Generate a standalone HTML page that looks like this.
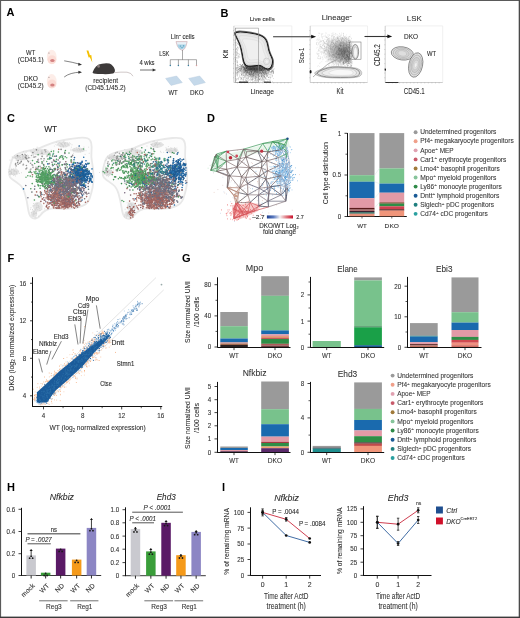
<!DOCTYPE html>
<html><head><meta charset="utf-8"><style>
html,body{margin:0;padding:0;background:#fff;}
svg{display:block;font-family:"Liberation Sans", sans-serif;filter:blur(0.3px);}
</style></head><body>
<svg width="520" height="618" viewBox="0 0 520 618">
<rect x="0.00" y="0.00" width="520.00" height="618.00" fill="#fff"/>
<text x="6.50" y="16.30" font-size="11" fill="#000" font-weight="bold">A</text>
<text x="220.60" y="16.80" font-size="11" fill="#000" font-weight="bold">B</text>
<text x="7.00" y="121.60" font-size="11" fill="#000" font-weight="bold">C</text>
<text x="207.00" y="121.80" font-size="11" fill="#000" font-weight="bold">D</text>
<text x="320.10" y="122.40" font-size="11" fill="#000" font-weight="bold">E</text>
<text x="7.40" y="262.40" font-size="11" fill="#000" font-weight="bold">F</text>
<text x="181.90" y="261.70" font-size="11" fill="#000" font-weight="bold">G</text>
<text x="7.00" y="490.60" font-size="11" fill="#000" font-weight="bold">H</text>
<text x="222.10" y="490.80" font-size="11" fill="#000" font-weight="bold">I</text>
<text x="30.70" y="55.00" font-size="7.0" fill="#2e2e2e" stroke="#2e2e2e" stroke-width="0.1" text-anchor="middle" textLength="9.20" lengthAdjust="spacingAndGlyphs">WT</text>
<text x="30.70" y="62.30" font-size="7.0" fill="#2e2e2e" stroke="#2e2e2e" stroke-width="0.1" text-anchor="middle" textLength="25.80" lengthAdjust="spacingAndGlyphs">(CD45.1)</text>
<text x="30.85" y="81.00" font-size="7.0" fill="#2e2e2e" stroke="#2e2e2e" stroke-width="0.1" text-anchor="middle" textLength="14.30" lengthAdjust="spacingAndGlyphs">DKO</text>
<text x="30.70" y="88.20" font-size="7.0" fill="#2e2e2e" stroke="#2e2e2e" stroke-width="0.1" text-anchor="middle" textLength="25.80" lengthAdjust="spacingAndGlyphs">(CD45.2)</text>
<ellipse cx="51.7" cy="57.0" rx="4.9" ry="7.3" fill="#fdede8"/>
<ellipse cx="52" cy="59.6" rx="4.4" ry="4.4" fill="#fbdcd5"/>
<ellipse cx="52.4" cy="60.6" rx="2.2" ry="1.5" fill="#d48282"/>
<ellipse cx="48.9" cy="53.0" rx="0.8" ry="0.5" fill="#a99"/>
<ellipse cx="51.7" cy="81.3" rx="4.9" ry="7.3" fill="#fdede8"/>
<ellipse cx="52" cy="83.9" rx="4.4" ry="4.4" fill="#fbdcd5"/>
<ellipse cx="52.4" cy="84.9" rx="2.2" ry="1.5" fill="#d48282"/>
<ellipse cx="48.9" cy="77.3" rx="0.8" ry="0.5" fill="#a99"/>
<path d="M64.2,60.8 Q72,62 80.5,64.4" fill="none" stroke="#333" stroke-width="0.6"/>
<path d="M78.4,62.8 L82,64.7 L78.2,65.8 Z" fill="#333" stroke="none" stroke-width="1"/>
<path d="M64.2,77 Q70,72.5 80.5,72.2" fill="none" stroke="#333" stroke-width="0.6"/>
<path d="M78.4,70.7 L82,72.2 L78.4,73.7 Z" fill="#333" stroke="none" stroke-width="1"/>
<path d="M86.5,50.5 L88.4,50.5 L89.9,55.3 L91.3,55.0 L92.3,62.4 L89.8,57.2 L88.6,57.5 Z" fill="#f5c000" stroke="none" stroke-width="1"/>
<path d="M92.5,72.6 Q93.5,69 96,66.4 Q98.5,64 102,63.8 Q106,62.8 109.5,63.6 Q113.5,65.5 114.8,69.5 Q115.4,72.6 113,73.6 Q108,74.3 103,74.1 Q98,74.2 95.5,73.8 Q93.2,73.8 92.5,72.6 Z" fill="#3d3a3a" stroke="none" stroke-width="1"/>
<ellipse cx="98.6" cy="66.2" rx="1.3" ry="1.5" fill="#8a7e7e"/>
<path d="M114.8,72.6 Q121,71.9 127,72.2 Q131.5,72.8 133,76.2" fill="none" stroke="#a89a9a" stroke-width="0.55"/>
<text x="105.70" y="82.80" font-size="7.2" fill="#2e2e2e" stroke="#2e2e2e" stroke-width="0.1" text-anchor="middle" textLength="25.00" lengthAdjust="spacingAndGlyphs">recipient</text>
<text x="105.50" y="90.10" font-size="7.0" fill="#2e2e2e" stroke="#2e2e2e" stroke-width="0.1" text-anchor="middle" textLength="40.30" lengthAdjust="spacingAndGlyphs">(CD45.1/45.2)</text>
<text x="147.00" y="65.30" font-size="6.8" fill="#2e2e2e" stroke="#2e2e2e" stroke-width="0.1" text-anchor="middle" textLength="15.10" lengthAdjust="spacingAndGlyphs">4 wks</text>
<line x1="140.00" y1="70.00" x2="153.50" y2="70.00" stroke="#333" stroke-width="0.7"/>
<path d="M152.6,68.6 L156.2,70 L152.6,71.4 Z" fill="#333" stroke="none" stroke-width="1"/>
<text x="170.80" y="38.50" font-size="6.7" fill="#2e2e2e" stroke="#2e2e2e" stroke-width="0.1" textLength="23.80" lengthAdjust="spacingAndGlyphs">Lin<tspan font-size="3.6" dy="-2.2">–</tspan><tspan dy="2.2"> cells</tspan></text>
<path d="M176,41.6 L187.2,41.6 L186,46 Q184.5,49.6 183,50 L181.6,50 Q179,49.6 177.4,46 Z" fill="#e9f1f7" stroke="#c9a0a6" stroke-width="0.6"/>
<path d="M177.4,44.6 L186,44.6 L185,47.2 Q183.5,49.2 181.6,49.2 Q179.2,49 178.2,47.2 Z" fill="#a9d3e6" stroke="none" stroke-width="1"/>
<circle cx="180.40" cy="46.00" r="0.60" fill="#4a8fb0"/>
<circle cx="183.60" cy="45.80" r="0.60" fill="#4a8fb0"/>
<circle cx="182.00" cy="47.60" r="0.55" fill="#4a8fb0"/>
<text x="159.20" y="56.00" font-size="6.7" fill="#2e2e2e" stroke="#2e2e2e" stroke-width="0.1" textLength="10.00" lengthAdjust="spacingAndGlyphs">LSK</text>
<line x1="182.50" y1="50.00" x2="182.50" y2="59.70" stroke="#555" stroke-width="0.5"/>
<line x1="170.30" y1="59.70" x2="196.50" y2="59.70" stroke="#555" stroke-width="0.5"/>
<line x1="170.30" y1="59.70" x2="170.30" y2="65.00" stroke="#555" stroke-width="0.5"/>
<circle cx="170.30" cy="65.40" r="0.75" fill="#3a7fa0"/>
<line x1="178.40" y1="59.70" x2="178.40" y2="65.00" stroke="#555" stroke-width="0.5"/>
<circle cx="178.40" cy="65.40" r="0.75" fill="#3a7fa0"/>
<line x1="188.40" y1="59.70" x2="188.40" y2="65.00" stroke="#555" stroke-width="0.5"/>
<circle cx="188.40" cy="65.40" r="0.75" fill="#3a7fa0"/>
<line x1="196.50" y1="59.70" x2="196.50" y2="65.00" stroke="#555" stroke-width="0.5"/>
<circle cx="196.50" cy="65.40" r="0.75" fill="#d9a0a0"/>
<path d="M165.6,78.4 L176.6,76 L182.3,82.6 L171.0,85.4 Z" fill="#c5d9ea" stroke="#b2c8dc" stroke-width="0.4"/>
<path d="M188.7,78.4 L199.7,76 L205.4,82.6 L194.1,85.4 Z" fill="#c5d9ea" stroke="#b2c8dc" stroke-width="0.4"/>
<text x="173.10" y="95.00" font-size="6.9" fill="#2e2e2e" stroke="#2e2e2e" stroke-width="0.1" text-anchor="middle" textLength="9.20" lengthAdjust="spacingAndGlyphs">WT</text>
<text x="196.90" y="95.00" font-size="6.9" fill="#2e2e2e" stroke="#2e2e2e" stroke-width="0.1" text-anchor="middle" textLength="13.80" lengthAdjust="spacingAndGlyphs">DKO</text>
<text x="249.70" y="21.00" font-size="6.0" fill="#2e2e2e" stroke="#2e2e2e" stroke-width="0.1" textLength="25.10" lengthAdjust="spacingAndGlyphs">Live cells</text>
<text x="321.80" y="20.00" font-size="7.8" fill="#2a2a2a" stroke="#2a2a2a" stroke-width="0.07" textLength="29.80" lengthAdjust="spacingAndGlyphs">Lineage<tspan font-size="3.8" dy="-3">–</tspan></text>
<text x="406.80" y="20.90" font-size="7.8" fill="#2a2a2a" stroke="#2a2a2a" stroke-width="0.07" textLength="14.90" lengthAdjust="spacingAndGlyphs">LSK</text>
<line x1="233.90" y1="25.90" x2="291.80" y2="25.90" stroke="#e2e2e2" stroke-width="0.5"/>
<line x1="291.80" y1="25.90" x2="291.80" y2="82.50" stroke="#e2e2e2" stroke-width="0.5"/>
<line x1="233.90" y1="25.90" x2="233.90" y2="82.50" stroke="#9a9a9a" stroke-width="0.5"/>
<line x1="233.90" y1="82.50" x2="291.80" y2="82.50" stroke="#9a9a9a" stroke-width="0.5"/>
<line x1="233.00" y1="77.78" x2="233.90" y2="77.78" stroke="#888" stroke-width="0.35"/>
<line x1="233.00" y1="73.07" x2="233.90" y2="73.07" stroke="#888" stroke-width="0.35"/>
<line x1="233.00" y1="68.35" x2="233.90" y2="68.35" stroke="#888" stroke-width="0.35"/>
<line x1="233.00" y1="63.63" x2="233.90" y2="63.63" stroke="#888" stroke-width="0.35"/>
<line x1="233.00" y1="58.92" x2="233.90" y2="58.92" stroke="#888" stroke-width="0.35"/>
<line x1="233.00" y1="54.20" x2="233.90" y2="54.20" stroke="#888" stroke-width="0.35"/>
<line x1="233.00" y1="49.48" x2="233.90" y2="49.48" stroke="#888" stroke-width="0.35"/>
<line x1="233.00" y1="44.77" x2="233.90" y2="44.77" stroke="#888" stroke-width="0.35"/>
<line x1="233.00" y1="40.05" x2="233.90" y2="40.05" stroke="#888" stroke-width="0.35"/>
<line x1="233.00" y1="35.33" x2="233.90" y2="35.33" stroke="#888" stroke-width="0.35"/>
<line x1="233.00" y1="30.62" x2="233.90" y2="30.62" stroke="#888" stroke-width="0.35"/>
<line x1="237.52" y1="82.50" x2="237.52" y2="83.40" stroke="#888" stroke-width="0.35"/>
<line x1="241.14" y1="82.50" x2="241.14" y2="83.40" stroke="#888" stroke-width="0.35"/>
<line x1="244.76" y1="82.50" x2="244.76" y2="83.40" stroke="#888" stroke-width="0.35"/>
<line x1="248.38" y1="82.50" x2="248.38" y2="83.40" stroke="#888" stroke-width="0.35"/>
<line x1="251.99" y1="82.50" x2="251.99" y2="83.40" stroke="#888" stroke-width="0.35"/>
<line x1="255.61" y1="82.50" x2="255.61" y2="83.40" stroke="#888" stroke-width="0.35"/>
<line x1="259.23" y1="82.50" x2="259.23" y2="83.40" stroke="#888" stroke-width="0.35"/>
<line x1="262.85" y1="82.50" x2="262.85" y2="83.40" stroke="#888" stroke-width="0.35"/>
<line x1="266.47" y1="82.50" x2="266.47" y2="83.40" stroke="#888" stroke-width="0.35"/>
<line x1="270.09" y1="82.50" x2="270.09" y2="83.40" stroke="#888" stroke-width="0.35"/>
<line x1="273.71" y1="82.50" x2="273.71" y2="83.40" stroke="#888" stroke-width="0.35"/>
<line x1="277.32" y1="82.50" x2="277.32" y2="83.40" stroke="#888" stroke-width="0.35"/>
<line x1="280.94" y1="82.50" x2="280.94" y2="83.40" stroke="#888" stroke-width="0.35"/>
<line x1="284.56" y1="82.50" x2="284.56" y2="83.40" stroke="#888" stroke-width="0.35"/>
<line x1="288.18" y1="82.50" x2="288.18" y2="83.40" stroke="#888" stroke-width="0.35"/>
<path d="M255.0,71.1h0.5M257.7,78.8h0.5M252.5,72.7h0.5M247.0,70.8h0.5M250.9,69.3h0.5M246.1,68.1h0.5M255.5,69.3h0.5M267.1,68.1h0.5M250.6,72.6h0.5M249.4,68.6h0.5M259.4,68.5h0.5M258.2,65.8h0.5M255.9,69.8h0.5M246.6,66.9h0.5M254.7,69.4h0.5M261.3,73.6h0.5M242.9,71.3h0.5M250.9,71.8h0.5M237.9,71.2h0.5M243.4,70.2h0.5M238.4,69.6h0.5M252.9,68.9h0.5M243.6,72.7h0.5M257.4,66.2h0.5M256.4,74.7h0.5M253.3,70.1h0.5M250.2,68.3h0.5M254.6,67.6h0.5M256.0,70.6h0.5M241.2,67.5h0.5M250.7,74.0h0.5M246.2,67.3h0.5M264.5,67.4h0.5M254.7,69.9h0.5M263.0,73.7h0.5M249.7,72.3h0.5M254.0,65.3h0.5M256.0,67.3h0.5M255.6,76.2h0.5M244.0,71.1h0.5M255.7,70.0h0.5M267.2,73.7h0.5M241.1,78.6h0.5M262.7,74.5h0.5M256.1,70.5h0.5M249.2,71.2h0.5M273.0,72.2h0.5M261.9,67.9h0.5M244.2,66.3h0.5M255.7,70.2h0.5M260.2,66.7h0.5M253.3,69.8h0.5M261.1,70.3h0.5M254.4,78.2h0.5M261.0,67.0h0.5M267.9,69.6h0.5M248.9,69.4h0.5M256.8,71.5h0.5M250.8,73.7h0.5M256.1,68.3h0.5M244.3,67.1h0.5M249.8,64.3h0.5M253.2,66.8h0.5M263.1,71.9h0.5M265.3,70.2h0.5M243.1,66.4h0.5M247.8,68.7h0.5M260.8,70.1h0.5M237.1,71.8h0.5M250.8,67.9h0.5M254.1,69.1h0.5M261.2,66.0h0.5M252.1,75.7h0.5M252.7,68.8h0.5M268.7,70.8h0.5M251.1,68.7h0.5M252.3,67.2h0.5M258.2,69.8h0.5M253.9,70.0h0.5M253.2,69.7h0.5M254.9,69.5h0.5M251.0,67.0h0.5M265.5,68.1h0.5M260.9,70.8h0.5M254.8,72.2h0.5M261.0,73.1h0.5M251.9,68.3h0.5M264.5,73.2h0.5M255.0,74.1h0.5M260.3,74.0h0.5M243.4,74.9h0.5M258.1,69.5h0.5M239.8,69.4h0.5M236.7,72.9h0.5M252.3,65.2h0.5M246.9,70.7h0.5M256.5,68.1h0.5M249.4,66.9h0.5M256.8,69.9h0.5M259.4,73.1h0.5M253.4,73.5h0.5M253.1,69.7h0.5M261.3,69.3h0.5M259.7,67.1h0.5M245.7,71.4h0.5M254.3,69.1h0.5M255.3,72.1h0.5M245.5,76.1h0.5M257.3,69.9h0.5M247.3,64.8h0.5M263.7,67.0h0.5M256.7,64.9h0.5M255.8,65.8h0.5M249.7,74.6h0.5M253.9,70.8h0.5M237.0,64.7h0.5M244.8,72.3h0.5M258.3,74.4h0.5M262.6,67.6h0.5M239.3,68.8h0.5M261.8,71.0h0.5M247.4,72.2h0.5M262.0,74.1h0.5M256.2,74.2h0.5M241.2,74.1h0.5M266.2,74.8h0.5M268.0,72.3h0.5M254.4,64.6h0.5M252.5,69.5h0.5M253.6,71.1h0.5M246.2,68.7h0.5M264.9,73.2h0.5M250.1,68.7h0.5M254.5,66.8h0.5M247.9,75.1h0.5M249.4,72.3h0.5M243.5,70.8h0.5M266.3,73.2h0.5M253.6,73.7h0.5M263.7,71.2h0.5M248.8,67.6h0.5M252.1,68.4h0.5M250.0,66.6h0.5M255.1,70.7h0.5M251.6,74.2h0.5M252.3,68.3h0.5M242.6,66.0h0.5M247.7,77.1h0.5M269.9,68.4h0.5M249.0,65.7h0.5M245.5,70.8h0.5M258.0,71.5h0.5M267.7,67.5h0.5M241.9,72.8h0.5M253.1,68.3h0.5M249.3,66.8h0.5M239.2,70.6h0.5M261.6,72.7h0.5M254.8,67.8h0.5M255.6,71.2h0.5M248.2,69.7h0.5M259.1,79.9h0.5M250.1,67.5h0.5M253.7,74.8h0.5M245.0,69.8h0.5M244.1,69.6h0.5M267.0,72.5h0.5M250.4,73.1h0.5M257.6,74.4h0.5M254.7,71.2h0.5M251.0,67.9h0.5M250.4,68.1h0.5M260.7,71.8h0.5M252.3,72.0h0.5M253.6,74.9h0.5M255.2,71.5h0.5M265.6,73.7h0.5M261.1,75.3h0.5M258.4,70.6h0.5M249.9,64.8h0.5M242.6,65.9h0.5M263.5,65.0h0.5M263.7,75.6h0.5M253.7,67.0h0.5M259.9,74.3h0.5M262.0,72.1h0.5M262.5,76.0h0.5M263.3,73.5h0.5M250.9,69.6h0.5M268.6,69.3h0.5M243.8,70.3h0.5M262.8,70.6h0.5M259.4,68.1h0.5M262.9,69.9h0.5M271.9,75.6h0.5M268.4,64.0h0.5M244.7,70.9h0.5M239.8,66.8h0.5M262.4,70.7h0.5M245.9,72.9h0.5M254.9,69.8h0.5M262.6,72.7h0.5M240.2,64.4h0.5M236.0,73.9h0.5M257.3,67.9h0.5M255.4,72.2h0.5M252.8,70.6h0.5M247.3,67.4h0.5M241.4,70.8h0.5M253.5,75.4h0.5M246.3,71.0h0.5M240.2,70.9h0.5M259.6,65.1h0.5M254.4,75.0h0.5M258.7,76.3h0.5M246.1,70.1h0.5M249.1,69.2h0.5M246.0,64.3h0.5M247.0,73.1h0.5M256.8,79.5h0.5M248.0,72.5h0.5M258.2,74.4h0.5M258.1,71.9h0.5M273.2,66.6h0.5M242.5,74.7h0.5M263.0,65.7h0.5M254.2,69.3h0.5M254.9,71.0h0.5M242.0,73.1h0.5M250.9,71.5h0.5M261.7,71.4h0.5M254.3,67.3h0.5M255.7,65.5h0.5M252.4,70.2h0.5M265.4,67.5h0.5M254.8,65.4h0.5M248.8,68.3h0.5M250.2,64.3h0.5M267.0,70.6h0.5M255.4,71.4h0.5M244.4,77.0h0.5M246.5,64.8h0.5M265.2,67.6h0.5M256.4,73.2h0.5M255.4,69.2h0.5M254.5,68.9h0.5M255.3,76.0h0.5M262.2,68.8h0.5M260.0,66.0h0.5M256.9,65.4h0.5M245.6,71.2h0.5M259.6,71.1h0.5M248.8,65.2h0.5M264.8,66.6h0.5M243.6,71.9h0.5M253.8,72.0h0.5M254.9,67.7h0.5M243.1,72.2h0.5M270.5,72.0h0.5M250.8,68.9h0.5M261.9,71.5h0.5M258.4,68.0h0.5M257.3,69.0h0.5M254.4,72.6h0.5M255.7,75.5h0.5M252.6,79.1h0.5M253.4,66.1h0.5M265.7,73.3h0.5M258.0,74.3h0.5M255.0,73.4h0.5M268.8,70.5h0.5M250.0,65.9h0.5M251.5,72.2h0.5M238.6,67.5h0.5M263.7,79.9h0.5M263.3,72.5h0.5M261.0,76.4h0.5M256.0,66.8h0.5M256.9,75.1h0.5M252.7,75.6h0.5M253.2,75.4h0.5M255.5,69.9h0.5M268.6,65.8h0.5M260.0,69.4h0.5M249.8,64.0h0.5M249.3,70.3h0.5M269.4,66.5h0.5M259.6,69.4h0.5M255.6,69.6h0.5M251.9,76.8h0.5M245.0,74.5h0.5M254.4,69.8h0.5M262.9,74.2h0.5M251.5,67.3h0.5M253.0,68.8h0.5M253.0,73.2h0.5M256.0,65.7h0.5M240.7,69.0h0.5M252.9,65.4h0.5M247.3,70.4h0.5M263.0,75.7h0.5M248.1,67.4h0.5M260.2,70.8h0.5M268.7,66.9h0.5M252.2,66.0h0.5M249.6,65.7h0.5M256.7,75.1h0.5M255.0,78.3h0.5M246.1,71.7h0.5M259.1,67.5h0.5M273.1,72.5h0.5M252.7,68.8h0.5M253.2,72.8h0.5M245.6,71.0h0.5M257.9,71.0h0.5M243.8,72.1h0.5M245.0,68.0h0.5M266.5,68.6h0.5M264.7,68.5h0.5M268.7,65.0h0.5M257.3,69.5h0.5M260.0,66.6h0.5M272.6,70.4h0.5M253.2,71.6h0.5M249.7,65.0h0.5M242.8,67.2h0.5M255.4,66.7h0.5M268.3,72.6h0.5M263.6,76.0h0.5M246.5,73.0h0.5M247.3,68.8h0.5M250.5,75.1h0.5M257.6,64.7h0.5M253.2,75.2h0.5M256.9,67.7h0.5M252.3,79.3h0.5M254.6,75.5h0.5M256.9,66.4h0.5M254.2,70.6h0.5M259.5,69.2h0.5M271.8,70.4h0.5M260.3,64.8h0.5M255.5,67.6h0.5M239.8,71.6h0.5M258.5,70.8h0.5M237.5,74.2h0.5M242.3,70.3h0.5M262.7,78.2h0.5M261.4,67.5h0.5M253.7,70.9h0.5M251.7,65.6h0.5M248.9,74.6h0.5M260.7,66.7h0.5M257.0,69.8h0.5M248.0,66.3h0.5M244.5,68.8h0.5M254.5,68.2h0.5M253.4,68.3h0.5M244.6,72.6h0.5M256.0,72.3h0.5M244.6,68.0h0.5M265.0,66.8h0.5M264.6,71.0h0.5M264.8,69.6h0.5M250.7,73.6h0.5M259.6,79.3h0.5M253.8,73.0h0.5M251.5,69.9h0.5M251.9,69.4h0.5M243.3,67.0h0.5M242.0,66.8h0.5M262.1,66.5h0.5M253.3,68.6h0.5M256.9,68.5h0.5M264.0,72.6h0.5M239.4,68.6h0.5M247.9,69.3h0.5M256.6,65.7h0.5M258.5,75.8h0.5M251.6,71.8h0.5M264.3,76.3h0.5M256.9,72.8h0.5M244.1,75.2h0.5M246.6,69.1h0.5M262.2,72.5h0.5M259.2,79.5h0.5M237.9,65.7h0.5M267.1,74.1h0.5M260.4,75.9h0.5M267.1,71.5h0.5M251.5,72.7h0.5M252.3,74.5h0.5M244.9,67.7h0.5M253.4,66.9h0.5M269.3,67.6h0.5M249.2,67.8h0.5M256.5,69.5h0.5M240.0,70.5h0.5M251.6,71.6h0.5M263.9,64.9h0.5M243.7,77.1h0.5M264.7,74.1h0.5M258.0,72.6h0.5M245.6,68.7h0.5M250.5,69.7h0.5M250.9,72.0h0.5M254.6,71.5h0.5M247.6,72.7h0.5M252.3,80.5h0.5M243.4,73.6h0.5M254.6,71.3h0.5M262.9,69.6h0.5M241.2,74.9h0.5M255.0,65.8h0.5M249.2,70.6h0.5M246.2,75.3h0.5M262.7,69.3h0.5M250.3,68.5h0.5M268.5,70.4h0.5M248.0,68.4h0.5M258.5,75.6h0.5M253.0,66.7h0.5M248.2,73.1h0.5M260.3,65.5h0.5M253.6,72.4h0.5M260.4,69.6h0.5M245.2,70.0h0.5M254.1,66.2h0.5M255.5,68.4h0.5M263.6,75.5h0.5M246.8,66.0h0.5M254.6,66.2h0.5M239.5,75.2h0.5M260.9,70.4h0.5M245.3,75.5h0.5M238.7,71.2h0.5M254.5,66.8h0.5M265.0,69.8h0.5M241.3,74.4h0.5M245.2,73.4h0.5M248.3,70.0h0.5M244.8,70.2h0.5M258.4,69.6h0.5M247.7,67.9h0.5M248.5,77.0h0.5M260.2,70.0h0.5M248.2,65.9h0.5M258.9,68.3h0.5M246.3,72.6h0.5M244.1,72.3h0.5M238.5,69.5h0.5M271.8,67.6h0.5M252.1,70.1h0.5M254.7,65.3h0.5M256.4,72.9h0.5M255.4,68.3h0.5M272.2,71.3h0.5M245.6,74.4h0.5M241.0,72.3h0.5M245.9,70.1h0.5M243.0,77.7h0.5M261.7,72.4h0.5M262.4,68.7h0.5M246.3,72.6h0.5M242.5,71.5h0.5M251.8,66.9h0.5M267.5,70.3h0.5M245.3,69.4h0.5M264.4,69.0h0.5M245.3,68.4h0.5M252.4,64.1h0.5M241.4,68.7h0.5M246.2,69.9h0.5M267.5,70.4h0.5M262.4,65.9h0.5M251.4,72.3h0.5M247.2,65.6h0.5M238.0,69.2h0.5M251.5,74.7h0.5M254.7,67.5h0.5M254.2,68.2h0.5M254.2,73.9h0.5M244.9,68.6h0.5M254.4,68.9h0.5M254.7,70.8h0.5M266.6,73.8h0.5M253.8,67.0h0.5M248.1,66.4h0.5M254.4,66.1h0.5M249.5,66.9h0.5M248.3,67.0h0.5M254.5,71.1h0.5M245.6,66.8h0.5M260.5,70.4h0.5M254.1,71.4h0.5M257.3,67.4h0.5M253.4,70.5h0.5M248.5,75.9h0.5M246.5,71.2h0.5M252.9,67.7h0.5M250.1,69.8h0.5M257.1,66.7h0.5M255.0,71.0h0.5M242.7,73.1h0.5M255.6,67.1h0.5M242.9,69.3h0.5M249.5,74.0h0.5M252.4,68.2h0.5M236.3,70.7h0.5M255.8,66.3h0.5M256.4,67.1h0.5M253.6,68.2h0.5M251.2,77.6h0.5M251.6,68.6h0.5M246.2,68.1h0.5M252.6,68.0h0.5M250.0,69.4h0.5M255.8,72.3h0.5M244.2,70.7h0.5M257.1,77.2h0.5M256.3,70.7h0.5M253.7,75.1h0.5M251.0,71.0h0.5M260.0,72.1h0.5M240.0,64.9h0.5M259.1,69.6h0.5M257.2,69.8h0.5M257.6,69.1h0.5M249.1,73.1h0.5M252.7,68.6h0.5M260.7,68.5h0.5M258.9,69.1h0.5M256.9,69.2h0.5M241.4,71.4h0.5M259.8,65.6h0.5M265.5,66.7h0.5M264.1,71.0h0.5M257.1,70.5h0.5M241.0,68.7h0.5M263.5,68.0h0.5M253.7,67.1h0.5M258.4,74.1h0.5M241.6,66.3h0.5M243.3,75.3h0.5M249.3,73.0h0.5M266.5,68.4h0.5M251.7,72.7h0.5M257.4,64.9h0.5M269.3,65.5h0.5M254.1,68.6h0.5M252.8,68.9h0.5M243.7,68.2h0.5M248.7,70.3h0.5M258.6,71.7h0.5M256.0,65.0h0.5M264.0,67.7h0.5M248.0,68.6h0.5M254.5,66.0h0.5M261.6,65.2h0.5M260.3,66.5h0.5M264.6,70.0h0.5M258.6,72.1h0.5M252.2,72.0h0.5M258.3,66.5h0.5M246.0,67.2h0.5M240.2,66.8h0.5M260.2,71.6h0.5M257.8,74.3h0.5M239.7,68.3h0.5M251.7,67.3h0.5M249.6,71.2h0.5M247.2,73.6h0.5M252.0,73.7h0.5M263.1,70.5h0.5M258.4,74.3h0.5M249.6,74.4h0.5M254.9,69.7h0.5M261.8,75.0h0.5M253.9,70.3h0.5M259.9,66.8h0.5M261.1,69.0h0.5M270.3,72.7h0.5M265.2,65.4h0.5M257.8,72.3h0.5M257.7,71.2h0.5M262.1,71.0h0.5M254.6,69.6h0.5M263.2,72.3h0.5M272.6,67.3h0.5M253.6,70.3h0.5M256.8,72.3h0.5M267.1,67.7h0.5M254.7,73.0h0.5M246.3,72.4h0.5M253.3,69.2h0.5M253.2,72.8h0.5M262.1,66.8h0.5M264.4,67.8h0.5M241.4,77.8h0.5M246.8,67.1h0.5M258.0,67.5h0.5M249.1,69.0h0.5M241.3,66.4h0.5M264.3,74.2h0.5M259.4,76.0h0.5M259.4,67.5h0.5M264.3,74.1h0.5M252.8,73.9h0.5M264.9,72.9h0.5M246.8,74.0h0.5M247.3,67.0h0.5M256.8,69.4h0.5M248.7,65.2h0.5M261.1,65.0h0.5M257.3,73.4h0.5M246.7,67.6h0.5M255.7,78.0h0.5M251.8,70.3h0.5M263.2,67.8h0.5M249.3,72.8h0.5M251.0,76.3h0.5M265.9,71.7h0.5M273.0,71.3h0.5M255.6,74.8h0.5M257.0,68.3h0.5M268.8,67.3h0.5M253.9,73.6h0.5M246.2,70.5h0.5M256.1,66.1h0.5M259.1,68.7h0.5M247.5,67.4h0.5M240.2,71.0h0.5M242.1,70.4h0.5M261.0,74.0h0.5M248.2,72.5h0.5M253.7,64.5h0.5M256.9,71.4h0.5M260.6,73.1h0.5M252.0,71.6h0.5M259.5,73.6h0.5M247.0,68.1h0.5M251.7,66.7h0.5M245.8,73.3h0.5M265.2,66.3h0.5M248.3,73.6h0.5M251.8,67.5h0.5M253.0,68.9h0.5M261.3,65.1h0.5M240.6,65.4h0.5M245.7,66.0h0.5M251.6,68.7h0.5M254.0,72.6h0.5M261.4,65.9h0.5M273.5,66.3h0.5M252.9,72.4h0.5M251.7,69.7h0.5M265.9,64.6h0.5M259.4,76.5h0.5M261.0,67.0h0.5M250.4,70.9h0.5M272.3,70.7h0.5M270.4,74.9h0.5M260.1,68.4h0.5M261.2,73.5h0.5M236.8,67.4h0.5M260.7,73.9h0.5M253.3,67.3h0.5M258.9,68.7h0.5M261.1,76.6h0.5M251.9,71.1h0.5M239.8,70.4h0.5M258.3,77.8h0.5M248.3,71.3h0.5M252.0,67.1h0.5M249.6,72.6h0.5M251.9,65.9h0.5M266.0,74.2h0.5M257.3,68.0h0.5M265.0,67.8h0.5M272.8,70.6h0.5M255.2,70.0h0.5M238.8,66.6h0.5M247.0,72.0h0.5M250.5,68.5h0.5M255.7,68.6h0.5M237.0,69.0h0.5M258.1,71.1h0.5M241.4,65.7h0.5M257.7,72.1h0.5M254.0,69.4h0.5M252.2,67.7h0.5M254.3,65.2h0.5M250.1,65.9h0.5M249.5,71.3h0.5M239.9,66.6h0.5M254.7,70.2h0.5M271.6,73.7h0.5M272.8,73.6h0.5M266.9,75.5h0.5M261.4,69.0h0.5M248.9,66.2h0.5M268.0,73.6h0.5M254.5,71.1h0.5M254.4,73.9h0.5M252.4,70.0h0.5M255.8,74.2h0.5M251.1,73.0h0.5M254.2,72.5h0.5M245.2,71.8h0.5M251.6,71.4h0.5M254.4,70.8h0.5M252.9,73.5h0.5M259.8,68.2h0.5M261.4,76.1h0.5M245.0,69.6h0.5M253.1,73.4h0.5M263.3,69.7h0.5M257.4,69.1h0.5M256.1,77.1h0.5M269.0,68.9h0.5M248.9,65.5h0.5M255.7,67.5h0.5M250.3,68.9h0.5M268.4,77.5h0.5M237.4,70.7h0.5M249.0,73.3h0.5M250.2,66.5h0.5M261.0,71.2h0.5M260.5,72.4h0.5M267.6,76.3h0.5M240.8,67.6h0.5M261.8,72.1h0.5M252.4,71.1h0.5M249.0,66.4h0.5M259.9,69.9h0.5M246.7,69.1h0.5M251.7,72.1h0.5M241.5,71.9h0.5M249.2,68.5h0.5M258.3,65.3h0.5M257.8,75.2h0.5M269.3,70.9h0.5M253.2,73.6h0.5M241.2,74.9h0.5M248.2,68.2h0.5M246.7,72.8h0.5M244.0,69.2h0.5M258.9,69.8h0.5M249.2,69.7h0.5M237.2,70.0h0.5M261.3,73.9h0.5M254.0,70.4h0.5M258.2,69.5h0.5M256.0,69.0h0.5M260.7,71.2h0.5M255.3,66.9h0.5M266.1,68.2h0.5M258.8,69.8h0.5M258.5,68.0h0.5M258.7,69.6h0.5M241.9,67.9h0.5M253.5,77.0h0.5M252.7,74.7h0.5M256.9,71.6h0.5M242.8,69.8h0.5M269.7,77.7h0.5M255.9,71.1h0.5M244.1,69.7h0.5M239.6,71.1h0.5M252.5,71.1h0.5M254.2,74.9h0.5M248.5,69.9h0.5M255.8,77.3h0.5M249.2,66.9h0.5M260.0,72.4h0.5M248.5,66.5h0.5M254.7,76.4h0.5M263.8,68.8h0.5M245.9,73.2h0.5M250.8,74.4h0.5M247.4,66.1h0.5M262.1,68.8h0.5M244.7,65.1h0.5M250.6,70.5h0.5M254.7,69.6h0.5M246.2,68.8h0.5M246.4,67.6h0.5M250.7,68.6h0.5M236.1,67.4h0.5M242.0,71.9h0.5M251.3,75.3h0.5M253.3,69.6h0.5M239.0,68.5h0.5M250.8,71.7h0.5M262.2,66.7h0.5M260.0,69.5h0.5M254.3,66.4h0.5M247.0,72.4h0.5M260.7,70.3h0.5M249.8,69.4h0.5M244.5,71.3h0.5M247.8,69.1h0.5M268.0,64.6h0.5M257.0,72.1h0.5M265.4,71.0h0.5M250.7,69.5h0.5M263.4,73.4h0.5M249.6,74.3h0.5M253.6,66.2h0.5M261.9,75.4h0.5M250.5,75.0h0.5M254.2,67.4h0.5M257.9,65.9h0.5M265.9,67.8h0.5M250.6,68.3h0.5M239.3,64.5h0.5M252.5,70.1h0.5M255.1,65.5h0.5M256.0,65.8h0.5M266.9,73.2h0.5M257.9,67.6h0.5M262.3,69.7h0.5M245.1,72.2h0.5M262.8,72.8h0.5M273.9,68.8h0.5M262.0,70.2h0.5M257.3,67.1h0.5M256.4,76.1h0.5M271.1,72.3h0.5M246.7,66.1h0.5M254.0,70.0h0.5M259.1,72.5h0.5M261.7,71.7h0.5M251.1,76.4h0.5M257.8,74.8h0.5M252.5,68.1h0.5M256.1,69.7h0.5M253.8,65.5h0.5M244.7,70.9h0.5M254.8,70.5h0.5M262.9,79.5h0.5M246.3,70.3h0.5M261.0,67.6h0.5M245.4,70.4h0.5M256.6,65.6h0.5M245.5,67.0h0.5M265.2,68.7h0.5M273.2,69.4h0.5M253.0,66.9h0.5M261.7,72.8h0.5M256.1,68.1h0.5M255.9,68.3h0.5M268.9,65.2h0.5M243.1,67.2h0.5M264.5,72.3h0.5M254.6,64.3h0.5M267.7,69.8h0.5M256.7,72.5h0.5M248.9,68.7h0.5M257.5,70.8h0.5M261.6,66.1h0.5M255.3,74.6h0.5M259.4,73.9h0.5M250.3,70.8h0.5M263.1,66.3h0.5M261.3,73.4h0.5M256.3,76.0h0.5M255.6,71.0h0.5M264.3,74.4h0.5M250.9,67.9h0.5M248.6,69.3h0.5M253.3,70.0h0.5M265.7,71.5h0.5M242.5,64.6h0.5M265.7,73.3h0.5M249.2,74.6h0.5M245.1,66.0h0.5M266.3,65.3h0.5M254.1,71.2h0.5M243.3,67.7h0.5M263.4,72.8h0.5M265.7,70.5h0.5M251.2,68.3h0.5M258.7,77.4h0.5M261.4,70.5h0.5M249.2,67.4h0.5M258.2,70.4h0.5M254.7,66.4h0.5M250.2,67.3h0.5M250.6,71.4h0.5M255.6,68.1h0.5M255.3,68.4h0.5M249.9,75.8h0.5M251.2,73.0h0.5M265.0,72.8h0.5M256.9,71.9h0.5M263.0,71.7h0.5M265.8,75.1h0.5M260.3,69.9h0.5M247.6,66.7h0.5M262.3,69.1h0.5M252.1,65.2h0.5M271.7,68.8h0.5M270.3,71.8h0.5M237.4,75.1h0.5M246.3,67.7h0.5M261.0,70.0h0.5M262.1,68.7h0.5M261.6,67.4h0.5M254.4,65.8h0.5M259.1,70.2h0.5M254.3,70.4h0.5M264.2,70.1h0.5M260.7,66.5h0.5M245.7,65.2h0.5M263.6,76.5h0.5M252.9,65.3h0.5M247.0,75.5h0.5M258.4,72.1h0.5M246.8,68.7h0.5M246.8,66.0h0.5M240.9,73.6h0.5M254.8,76.1h0.5M259.5,66.7h0.5M264.2,69.0h0.5M253.7,73.7h0.5M264.4,71.2h0.5M255.2,77.0h0.5M254.2,68.0h0.5M260.2,71.9h0.5M264.5,65.6h0.5M251.9,77.3h0.5M252.8,67.4h0.5M255.7,69.6h0.5M246.9,69.5h0.5M264.3,76.7h0.5M251.4,68.8h0.5M259.2,70.0h0.5M247.6,72.1h0.5M258.2,75.6h0.5M258.5,69.8h0.5M251.2,73.6h0.5M273.2,71.8h0.5M258.3,69.0h0.5M271.0,70.3h0.5M263.6,70.1h0.5M249.0,66.8h0.5M251.6,74.2h0.5M258.9,65.2h0.5M255.6,74.1h0.5M255.4,73.3h0.5M252.4,69.7h0.5M238.7,67.3h0.5M253.0,69.2h0.5M258.3,72.6h0.5M248.5,71.0h0.5M248.6,73.5h0.5M253.0,68.0h0.5M257.5,70.8h0.5M242.1,64.5h0.5M239.3,72.7h0.5M245.4,70.5h0.5M236.6,68.5h0.5M246.3,74.1h0.5M269.3,72.4h0.5M260.9,70.1h0.5M242.7,64.9h0.5M257.7,73.7h0.5M252.1,78.7h0.5M254.5,68.2h0.5M260.1,70.3h0.5M270.8,69.1h0.5M256.8,71.2h0.5M256.1,72.3h0.5M246.2,74.5h0.5M260.3,66.5h0.5M252.8,75.5h0.5M262.5,66.7h0.5M254.6,71.0h0.5M270.7,74.1h0.5M237.2,72.5h0.5M252.3,66.7h0.5M262.9,67.5h0.5M251.8,68.4h0.5M247.9,69.8h0.5M252.6,74.0h0.5M242.6,65.5h0.5M256.1,71.6h0.5M265.3,72.0h0.5M245.0,71.6h0.5M247.1,75.3h0.5M251.4,71.7h0.5M264.0,73.0h0.5M247.6,72.0h0.5M248.8,76.3h0.5M262.8,74.5h0.5M251.6,69.1h0.5M244.9,69.0h0.5M241.1,66.6h0.5M261.7,67.6h0.5M249.3,71.7h0.5M259.3,64.8h0.5M271.8,75.0h0.5M265.6,71.0h0.5M244.6,69.1h0.5M262.8,67.5h0.5M265.4,67.2h0.5M248.3,66.0h0.5M246.4,68.1h0.5M254.0,70.0h0.5M240.6,69.4h0.5M268.2,65.0h0.5M245.0,66.9h0.5M252.6,70.6h0.5M253.0,76.5h0.5M256.5,72.2h0.5M257.4,68.9h0.5M253.1,64.3h0.5M265.2,65.0h0.5M255.0,72.5h0.5M248.6,67.3h0.5M256.2,70.2h0.5M257.0,67.8h0.5M246.8,70.3h0.5M249.2,74.9h0.5M262.1,67.6h0.5M258.1,68.8h0.5M248.9,67.2h0.5M273.4,73.1h0.5M241.8,66.0h0.5" stroke="#444" stroke-width="0.50" opacity="0.85"/>
<path d="M244.9,70.1h0.5M244.7,68.1h0.5M259.8,69.1h0.5M248.0,70.0h0.5M263.6,66.5h0.5M258.0,68.0h0.5M247.2,70.3h0.5M253.8,66.5h0.5M254.1,67.8h0.5M250.5,68.8h0.5M271.4,66.1h0.5M240.8,70.6h0.5M259.0,69.1h0.5M258.7,65.8h0.5M251.4,68.4h0.5M257.2,67.1h0.5M263.0,67.3h0.5M257.2,68.6h0.5M259.3,67.2h0.5M261.5,70.2h0.5M267.8,70.3h0.5M263.8,70.0h0.5M264.1,67.5h0.5M244.7,67.6h0.5M255.1,66.4h0.5M249.5,69.5h0.5M251.3,70.2h0.5M263.7,72.3h0.5M249.6,70.8h0.5M255.0,68.9h0.5M240.7,68.1h0.5M254.7,69.2h0.5M256.7,68.5h0.5M250.4,71.1h0.5M250.2,70.2h0.5M271.1,67.0h0.5M246.3,67.3h0.5M247.6,71.0h0.5M249.5,69.1h0.5M265.6,68.1h0.5M258.7,67.8h0.5M250.3,68.0h0.5M252.6,67.7h0.5M264.5,65.0h0.5M248.7,70.1h0.5M267.6,66.3h0.5M267.3,67.5h0.5M256.6,67.2h0.5M261.2,69.8h0.5M262.0,68.4h0.5M268.4,68.5h0.5M247.6,65.5h0.5M265.4,68.3h0.5M253.0,65.8h0.5M249.9,69.1h0.5M256.8,69.2h0.5M254.3,68.5h0.5M248.1,72.2h0.5M243.2,69.4h0.5M248.5,69.6h0.5M267.6,68.8h0.5M271.7,68.2h0.5M261.2,70.2h0.5M265.5,70.5h0.5M251.9,66.2h0.5M255.4,70.4h0.5M258.3,69.4h0.5M247.3,70.2h0.5M248.1,69.3h0.5M256.8,66.3h0.5M253.4,66.4h0.5M247.5,71.8h0.5M259.1,69.0h0.5M253.9,65.9h0.5M264.2,69.1h0.5M256.0,67.8h0.5M253.6,65.2h0.5M257.0,64.4h0.5M254.6,65.6h0.5M250.7,69.0h0.5M252.8,68.4h0.5M262.0,68.1h0.5M261.2,69.0h0.5M266.3,69.6h0.5M242.5,64.7h0.5M252.9,68.0h0.5M252.7,67.0h0.5M257.4,66.3h0.5M252.4,67.5h0.5M251.9,68.3h0.5M262.3,68.0h0.5M257.4,65.9h0.5M246.7,67.6h0.5M266.7,72.1h0.5M264.0,66.6h0.5M251.4,65.5h0.5M262.7,69.0h0.5M250.1,69.6h0.5M265.0,69.3h0.5M254.3,66.5h0.5M249.6,70.3h0.5M253.0,67.1h0.5M249.9,66.5h0.5M257.5,67.4h0.5M257.4,68.3h0.5M256.3,69.8h0.5M251.5,69.6h0.5M256.7,70.2h0.5M240.8,68.6h0.5M258.0,70.1h0.5M265.0,66.0h0.5M258.2,65.7h0.5M252.9,69.9h0.5M254.6,66.0h0.5M254.9,68.0h0.5M251.6,68.3h0.5M251.3,67.6h0.5M248.6,67.7h0.5M265.5,71.0h0.5M263.7,70.1h0.5M254.0,72.6h0.5M256.6,68.5h0.5M254.6,68.5h0.5M259.7,69.8h0.5M262.6,71.8h0.5M257.9,66.4h0.5M250.6,68.7h0.5M249.8,68.2h0.5M269.3,69.5h0.5M253.8,68.8h0.5M253.7,69.7h0.5M267.7,67.7h0.5M264.7,68.6h0.5M260.3,67.3h0.5M252.8,67.3h0.5M259.1,68.2h0.5M260.4,66.4h0.5M254.6,71.3h0.5M244.7,68.3h0.5M245.3,66.0h0.5M259.3,70.5h0.5M259.1,67.2h0.5M254.1,69.4h0.5M246.6,68.5h0.5M244.5,69.0h0.5M253.4,68.8h0.5M244.4,67.5h0.5M263.2,68.6h0.5M265.2,72.2h0.5M263.0,68.6h0.5M251.3,69.3h0.5M249.0,66.6h0.5M251.2,72.4h0.5M254.6,67.8h0.5M263.7,72.2h0.5M260.9,69.5h0.5M260.7,68.6h0.5M257.7,69.4h0.5M261.3,69.6h0.5M267.6,70.6h0.5M247.5,69.3h0.5M252.3,68.8h0.5M244.9,68.8h0.5M268.9,70.9h0.5M266.4,70.0h0.5M262.0,66.7h0.5M246.4,67.4h0.5M257.4,69.1h0.5M254.1,67.4h0.5M256.6,67.8h0.5M254.5,66.8h0.5M260.2,68.0h0.5M252.8,69.3h0.5M262.8,70.3h0.5M257.9,68.5h0.5M253.7,72.2h0.5M255.1,68.4h0.5M252.5,74.2h0.5M262.5,70.3h0.5M253.8,69.4h0.5M258.4,67.6h0.5M244.1,68.2h0.5M263.2,68.8h0.5M247.5,72.0h0.5M261.4,66.0h0.5M259.4,71.9h0.5M242.8,68.0h0.5M248.4,69.8h0.5M249.4,68.8h0.5M246.5,67.9h0.5M261.9,69.7h0.5M254.1,68.7h0.5M259.1,66.4h0.5M252.6,70.2h0.5M258.4,69.8h0.5M250.0,69.6h0.5M255.8,70.3h0.5M260.7,70.5h0.5M256.4,68.5h0.5M252.3,66.1h0.5M247.3,66.0h0.5M257.3,70.9h0.5M258.8,69.8h0.5M253.9,68.7h0.5M249.8,67.7h0.5M260.3,68.6h0.5M253.6,67.9h0.5M258.7,67.2h0.5M259.0,72.4h0.5M257.0,67.4h0.5M250.3,66.2h0.5M267.1,67.2h0.5M254.0,69.8h0.5M249.8,69.9h0.5M254.3,68.1h0.5M257.3,68.6h0.5M251.5,68.0h0.5M255.6,66.5h0.5M245.2,70.8h0.5M254.2,69.2h0.5M262.2,73.0h0.5M271.8,67.1h0.5M261.7,68.3h0.5M258.2,70.1h0.5M265.5,68.1h0.5M264.2,66.0h0.5M269.3,66.8h0.5M264.7,68.7h0.5M255.1,69.1h0.5M258.1,68.3h0.5M257.4,70.3h0.5M258.4,70.3h0.5M257.6,69.1h0.5M249.7,68.5h0.5M250.6,69.5h0.5M256.5,68.6h0.5M256.0,69.3h0.5M242.6,67.9h0.5M261.5,66.0h0.5M262.9,66.7h0.5M256.8,69.9h0.5M269.3,69.3h0.5M271.0,71.4h0.5M246.4,68.6h0.5M264.3,70.1h0.5M259.5,70.9h0.5M259.3,70.3h0.5M263.5,67.4h0.5M250.2,68.2h0.5M251.3,68.7h0.5M249.4,66.7h0.5M250.0,69.4h0.5M255.2,70.3h0.5M244.4,67.6h0.5M247.6,72.1h0.5M260.6,68.0h0.5M255.4,68.1h0.5M259.1,68.1h0.5M240.9,67.2h0.5M249.7,69.3h0.5M251.6,68.5h0.5M256.3,71.5h0.5M251.3,69.6h0.5M263.5,69.5h0.5M255.5,68.1h0.5M256.1,66.0h0.5M256.1,68.3h0.5M261.7,67.0h0.5M252.2,70.2h0.5M265.0,68.4h0.5M259.7,71.5h0.5M257.2,69.8h0.5M256.3,70.0h0.5M260.2,68.9h0.5M264.1,68.9h0.5M263.6,69.7h0.5M259.0,70.2h0.5M263.0,67.2h0.5M256.9,69.4h0.5M266.0,73.2h0.5M255.8,68.3h0.5M266.7,67.3h0.5M256.9,65.9h0.5M246.6,70.6h0.5M254.4,68.6h0.5M248.9,69.0h0.5M260.0,73.0h0.5M243.5,66.9h0.5M260.4,70.4h0.5M252.8,69.6h0.5M271.3,69.2h0.5M247.6,69.4h0.5M256.5,71.4h0.5M253.2,69.6h0.5M252.7,69.1h0.5M259.4,70.1h0.5M269.4,69.3h0.5M240.7,69.1h0.5M265.4,71.7h0.5M251.5,69.4h0.5M259.5,67.0h0.5M254.5,67.9h0.5M264.8,66.6h0.5M260.2,68.7h0.5M251.3,69.0h0.5M261.7,64.8h0.5M251.9,68.5h0.5M241.7,69.7h0.5M253.2,66.8h0.5M251.1,70.8h0.5M258.7,67.3h0.5M243.5,66.3h0.5M245.2,66.6h0.5M252.0,68.5h0.5M251.8,70.3h0.5M256.6,70.6h0.5M265.0,68.9h0.5M252.2,66.4h0.5M259.9,67.3h0.5M260.8,66.9h0.5M247.3,68.2h0.5M257.8,65.3h0.5M248.5,68.7h0.5M264.5,69.7h0.5M259.6,68.2h0.5M256.1,69.3h0.5M245.3,66.8h0.5M256.9,65.9h0.5M249.9,67.4h0.5M261.6,70.6h0.5M255.0,70.4h0.5M249.5,67.7h0.5M263.4,70.7h0.5M261.8,67.9h0.5M251.3,71.2h0.5M265.3,69.4h0.5M253.6,67.7h0.5M253.5,69.9h0.5M257.0,67.1h0.5M250.0,66.8h0.5M252.5,65.9h0.5M254.7,69.0h0.5M268.2,68.4h0.5M268.0,68.4h0.5M253.9,67.8h0.5M268.9,71.1h0.5M255.7,67.7h0.5M259.0,67.2h0.5M263.1,70.7h0.5M258.3,71.1h0.5M257.9,65.4h0.5M246.4,67.4h0.5M266.4,69.6h0.5M252.7,68.5h0.5M253.6,71.3h0.5M264.0,69.7h0.5M262.5,67.4h0.5M262.4,70.9h0.5M263.8,68.4h0.5M269.5,70.4h0.5M255.6,67.3h0.5M263.5,66.0h0.5M250.0,66.5h0.5M253.2,67.4h0.5M264.5,66.7h0.5M259.1,70.7h0.5M245.3,70.9h0.5M258.9,69.0h0.5M254.5,66.6h0.5M249.5,68.3h0.5M259.5,67.3h0.5M252.8,71.1h0.5M243.4,69.1h0.5M247.1,69.4h0.5M270.2,67.8h0.5M243.9,64.9h0.5M257.8,67.1h0.5M260.9,66.5h0.5M261.1,69.2h0.5M246.2,68.7h0.5M253.4,67.1h0.5M257.1,67.8h0.5M262.4,71.3h0.5M250.8,66.8h0.5M246.7,66.8h0.5M264.0,68.1h0.5M264.8,67.2h0.5M259.0,67.7h0.5M251.1,69.5h0.5M259.3,71.6h0.5M256.9,65.3h0.5M262.7,68.5h0.5M246.0,68.6h0.5M256.9,68.3h0.5M254.7,68.2h0.5M247.1,67.9h0.5M257.7,70.3h0.5M256.3,67.7h0.5M252.7,68.3h0.5M259.2,68.5h0.5M244.6,68.7h0.5M255.6,68.2h0.5M259.5,70.3h0.5M258.3,68.5h0.5M264.6,68.8h0.5M246.4,68.4h0.5M243.9,66.7h0.5M257.9,67.0h0.5M259.6,66.6h0.5M260.9,67.2h0.5M249.0,66.6h0.5M262.4,68.9h0.5M249.2,69.4h0.5M244.1,65.3h0.5M258.6,68.6h0.5M261.7,68.3h0.5M260.5,70.4h0.5M270.5,68.6h0.5M258.3,67.4h0.5M265.7,72.5h0.5M247.8,66.6h0.5M244.9,68.3h0.5M267.4,70.0h0.5M267.8,66.6h0.5M260.1,68.3h0.5M257.8,69.2h0.5M257.3,72.8h0.5M250.5,66.9h0.5M268.3,68.4h0.5M261.3,69.7h0.5M260.0,68.6h0.5M259.0,66.3h0.5M264.4,69.2h0.5M260.0,68.7h0.5M262.0,69.3h0.5M246.6,70.5h0.5M260.1,70.3h0.5M251.9,69.1h0.5M255.0,66.5h0.5M263.1,68.3h0.5M263.7,68.9h0.5M261.0,67.8h0.5M243.1,68.7h0.5M260.0,67.0h0.5M246.5,71.3h0.5M249.4,72.4h0.5M260.4,67.8h0.5M253.6,69.2h0.5M262.5,68.1h0.5M262.2,69.3h0.5M261.8,68.6h0.5M248.8,68.1h0.5M250.9,68.7h0.5M247.5,66.7h0.5M251.7,69.7h0.5M247.3,67.2h0.5M250.7,69.5h0.5M254.3,68.7h0.5M248.0,70.5h0.5M244.6,68.5h0.5M245.1,70.3h0.5M259.6,66.8h0.5M256.5,69.6h0.5M264.2,68.1h0.5M264.4,68.8h0.5M253.3,68.6h0.5M261.4,70.2h0.5M244.5,64.9h0.5M265.6,65.8h0.5M254.3,70.7h0.5M246.7,64.9h0.5M259.0,66.7h0.5M241.0,65.5h0.5M249.8,71.5h0.5M262.0,66.2h0.5M256.6,68.7h0.5M252.1,67.5h0.5M263.6,65.3h0.5M247.7,67.9h0.5M258.3,69.7h0.5M252.0,68.2h0.5M249.2,70.2h0.5M259.7,67.8h0.5M248.1,68.5h0.5M271.2,67.8h0.5M251.3,69.1h0.5M271.9,71.9h0.5M247.2,69.2h0.5M260.8,68.8h0.5M246.4,67.4h0.5M245.3,67.1h0.5M257.3,71.1h0.5M261.4,66.5h0.5M245.8,66.9h0.5M265.5,68.3h0.5M249.6,67.7h0.5M257.0,72.0h0.5M259.0,64.2h0.5M260.8,69.2h0.5M241.6,69.8h0.5M268.9,66.5h0.5M260.5,67.3h0.5M252.6,69.3h0.5M247.8,71.4h0.5M242.4,66.8h0.5M245.1,65.7h0.5M260.4,70.3h0.5M253.3,71.2h0.5M246.9,67.9h0.5M251.8,64.5h0.5M268.5,71.1h0.5M253.4,68.1h0.5M251.3,70.5h0.5M266.8,68.4h0.5M259.7,67.8h0.5M256.4,67.7h0.5M251.1,71.2h0.5M243.6,71.1h0.5M246.6,64.7h0.5M252.2,66.8h0.5M254.2,71.7h0.5M258.8,67.8h0.5M260.4,66.1h0.5M257.8,68.5h0.5M257.8,68.3h0.5M247.9,68.3h0.5M251.8,67.9h0.5M248.4,67.7h0.5M250.8,69.1h0.5M253.8,67.0h0.5M246.1,68.0h0.5M247.1,68.2h0.5M255.2,70.9h0.5M256.9,69.2h0.5M250.8,68.3h0.5M260.0,69.5h0.5M254.2,69.2h0.5M247.8,70.5h0.5M256.3,69.4h0.5M271.1,71.7h0.5M250.6,70.9h0.5M265.3,68.4h0.5M267.0,67.8h0.5M268.0,70.1h0.5M249.4,69.4h0.5M256.9,65.8h0.5M254.0,65.2h0.5M254.2,69.1h0.5M260.8,69.9h0.5M256.4,69.9h0.5M254.6,66.2h0.5M266.3,70.4h0.5M250.2,67.5h0.5M247.7,69.2h0.5M262.3,69.3h0.5M261.6,67.1h0.5M264.8,67.4h0.5M247.4,64.8h0.5M264.7,66.8h0.5M259.9,65.3h0.5M270.1,69.3h0.5M246.0,68.6h0.5M257.7,70.1h0.5M253.8,69.1h0.5M243.3,67.4h0.5M250.3,69.1h0.5M265.0,67.8h0.5M252.2,69.6h0.5M250.2,69.1h0.5M262.9,66.7h0.5M263.9,68.5h0.5M263.9,68.6h0.5M249.7,67.9h0.5M255.5,70.1h0.5M264.2,71.6h0.5M250.8,67.8h0.5M250.0,67.9h0.5M262.6,64.5h0.5M268.5,68.3h0.5M246.8,67.7h0.5M244.4,69.0h0.5M247.9,69.6h0.5M254.9,67.2h0.5M260.9,67.8h0.5M254.8,66.8h0.5M250.4,69.9h0.5M257.2,65.8h0.5M248.3,67.9h0.5M255.6,72.0h0.5M250.9,68.6h0.5M262.5,68.2h0.5M249.3,66.4h0.5M248.0,68.4h0.5M252.5,69.2h0.5M242.8,66.7h0.5M250.2,69.1h0.5M250.1,70.7h0.5M263.1,70.4h0.5M252.6,65.7h0.5M249.7,66.7h0.5M245.3,65.6h0.5M246.6,70.4h0.5M255.5,69.6h0.5M254.3,69.8h0.5M265.1,66.9h0.5M251.0,66.4h0.5M264.5,68.6h0.5M258.1,68.7h0.5M256.0,67.0h0.5M245.7,69.7h0.5M261.9,68.9h0.5M267.2,66.6h0.5M257.7,64.7h0.5M262.1,68.0h0.5M252.7,68.8h0.5M253.0,68.0h0.5M250.7,67.7h0.5M263.8,67.3h0.5M258.7,69.8h0.5M254.1,68.4h0.5M253.4,68.7h0.5M260.5,66.8h0.5M258.6,67.4h0.5M249.3,68.8h0.5M269.7,66.7h0.5M258.1,66.2h0.5M256.1,67.9h0.5M267.8,70.7h0.5M264.2,68.8h0.5M255.3,71.1h0.5M260.3,68.3h0.5M247.4,67.9h0.5M250.9,66.0h0.5M265.8,71.1h0.5M240.8,69.1h0.5M261.5,69.8h0.5M249.4,69.8h0.5M248.2,68.5h0.5M254.4,68.1h0.5M258.1,68.7h0.5M260.9,69.7h0.5M270.2,69.3h0.5M258.9,69.4h0.5M263.0,68.8h0.5M251.2,67.1h0.5M261.7,68.0h0.5M257.2,66.8h0.5M252.3,70.3h0.5M255.2,64.7h0.5M255.5,68.1h0.5M257.5,72.8h0.5M259.2,67.9h0.5M251.9,66.5h0.5M250.1,68.5h0.5M262.0,70.8h0.5M242.4,68.2h0.5M251.1,69.6h0.5M268.4,68.7h0.5M250.5,74.2h0.5M261.5,68.6h0.5M242.8,67.5h0.5M267.5,69.2h0.5M268.5,69.9h0.5" stroke="#333" stroke-width="0.50" opacity="0.9"/>
<path d="M256.4,79.8h0.5M240.7,75.9h0.5M260.3,78.0h0.5M251.9,79.3h0.5M252.1,74.3h0.5M240.2,73.0h0.5M249.3,76.7h0.5M247.7,72.2h0.5M254.6,77.1h0.5M240.5,81.4h0.5M255.5,79.9h0.5M256.2,72.4h0.5M243.8,67.0h0.5M248.8,74.4h0.5M246.4,74.0h0.5M264.1,81.4h0.5M251.6,73.5h0.5M238.4,79.1h0.5M250.7,71.9h0.5M263.5,73.8h0.5M246.6,78.5h0.5M264.1,68.9h0.5M266.3,78.1h0.5M241.7,75.1h0.5M244.0,76.0h0.5M265.8,71.6h0.5M253.1,74.6h0.5M252.4,73.6h0.5M258.3,76.6h0.5M262.7,76.9h0.5M255.2,64.8h0.5M259.8,68.9h0.5M248.3,65.2h0.5M260.1,70.0h0.5M248.0,78.1h0.5M264.5,77.1h0.5M266.3,71.1h0.5M264.1,76.3h0.5M260.2,70.2h0.5M261.3,66.2h0.5M263.3,69.6h0.5M255.9,66.7h0.5M252.2,82.2h0.5M249.6,73.6h0.5M261.6,74.4h0.5M269.2,71.0h0.5M248.8,74.6h0.5M246.0,78.6h0.5M269.5,74.8h0.5M246.2,80.7h0.5M255.5,76.8h0.5M246.2,76.7h0.5M264.8,74.3h0.5M271.9,76.8h0.5M240.7,68.0h0.5M270.6,77.1h0.5M252.2,75.9h0.5M269.9,69.5h0.5M239.2,68.9h0.5M260.0,69.5h0.5M264.3,76.4h0.5M272.2,69.9h0.5M262.0,65.6h0.5M252.6,68.9h0.5M249.8,73.9h0.5M252.1,76.6h0.5M246.7,81.3h0.5M252.3,79.5h0.5M256.8,78.2h0.5M254.7,71.9h0.5M262.6,71.8h0.5M250.2,71.0h0.5M242.7,79.4h0.5M249.0,76.0h0.5M236.3,79.2h0.5M269.4,79.9h0.5M260.9,66.5h0.5M243.2,74.1h0.5M254.4,67.6h0.5M264.5,75.4h0.5M260.0,70.6h0.5M246.4,77.8h0.5M248.6,69.8h0.5M256.0,74.6h0.5M264.2,67.4h0.5M246.7,74.9h0.5M243.8,77.9h0.5M266.4,76.2h0.5M265.8,72.7h0.5M257.4,77.7h0.5M263.8,76.5h0.5M272.4,81.6h0.5M261.9,67.0h0.5M262.8,77.8h0.5M245.8,70.8h0.5M248.0,75.8h0.5M261.4,77.1h0.5M270.3,78.8h0.5M268.9,71.2h0.5M258.1,67.7h0.5M257.0,66.2h0.5M265.1,78.0h0.5M255.2,74.3h0.5M254.4,64.9h0.5M244.5,69.6h0.5M264.9,74.8h0.5M260.1,80.9h0.5M240.8,79.4h0.5M244.7,74.1h0.5M263.4,77.5h0.5M239.1,77.0h0.5M250.6,77.1h0.5M266.8,73.3h0.5M250.2,74.1h0.5M259.3,71.3h0.5M243.9,81.8h0.5M247.0,69.0h0.5M245.0,76.4h0.5M255.1,72.6h0.5M248.2,77.7h0.5M262.4,78.2h0.5M264.9,74.6h0.5M235.2,81.4h0.5M237.7,73.0h0.5M260.6,72.5h0.5M258.8,69.7h0.5M266.4,71.7h0.5M251.3,74.9h0.5M244.4,68.3h0.5M257.0,81.0h0.5M245.7,69.9h0.5M258.1,71.4h0.5M257.3,72.4h0.5M241.2,68.8h0.5M272.2,68.2h0.5M265.8,75.6h0.5M243.2,79.1h0.5M250.9,79.1h0.5M249.5,65.6h0.5M250.9,74.5h0.5M243.8,67.5h0.5M259.3,79.3h0.5M257.3,73.3h0.5M258.7,74.9h0.5M249.9,74.1h0.5M267.9,71.1h0.5M256.9,65.5h0.5M248.6,66.3h0.5M254.4,67.6h0.5M264.7,72.9h0.5M252.0,70.4h0.5M252.5,76.2h0.5M248.4,80.7h0.5M261.7,76.1h0.5M250.5,75.8h0.5M249.0,74.8h0.5M247.6,79.8h0.5M249.7,76.8h0.5M238.2,69.0h0.5M261.2,67.2h0.5M248.0,74.7h0.5M258.6,72.3h0.5M258.7,78.1h0.5M267.0,81.3h0.5M249.2,74.2h0.5M242.1,79.9h0.5M259.4,75.3h0.5M268.9,66.0h0.5M251.8,67.9h0.5M270.3,80.4h0.5M255.9,70.3h0.5M256.3,73.0h0.5M255.6,76.2h0.5M261.4,64.1h0.5M260.3,72.5h0.5M249.7,74.0h0.5M272.3,71.5h0.5M264.2,69.8h0.5M236.4,80.4h0.5M256.6,72.4h0.5M254.2,76.6h0.5M242.5,75.8h0.5M257.2,72.5h0.5M263.2,73.7h0.5M247.7,80.2h0.5M257.4,80.6h0.5M260.5,71.0h0.5M249.9,75.2h0.5M253.5,77.0h0.5M257.1,75.3h0.5M250.7,73.2h0.5M255.4,71.0h0.5M237.9,71.9h0.5M266.9,69.8h0.5M267.0,76.3h0.5M261.9,69.8h0.5M255.5,76.8h0.5M253.4,73.0h0.5M261.1,77.8h0.5M247.1,78.9h0.5M264.3,70.0h0.5M245.2,80.1h0.5M244.9,72.1h0.5M238.3,79.1h0.5M241.3,65.3h0.5M253.0,78.4h0.5M257.2,74.9h0.5M266.6,75.9h0.5M267.6,71.2h0.5M250.0,72.9h0.5M268.3,79.5h0.5M255.0,73.4h0.5M259.4,64.8h0.5M247.1,78.3h0.5M253.9,78.8h0.5M261.1,75.8h0.5M253.7,75.1h0.5M264.7,77.8h0.5M262.7,71.2h0.5M267.7,70.6h0.5M251.0,74.5h0.5M251.9,76.8h0.5M258.2,70.2h0.5M249.9,68.3h0.5M271.5,72.0h0.5M253.0,76.1h0.5M245.3,67.2h0.5M259.9,78.1h0.5M273.4,78.5h0.5M255.8,72.9h0.5M250.6,75.2h0.5M250.1,76.4h0.5M248.1,68.9h0.5M253.6,64.6h0.5M273.4,70.9h0.5M243.4,72.8h0.5M271.4,72.0h0.5M244.9,79.3h0.5M263.4,67.9h0.5M238.5,71.3h0.5M258.6,71.6h0.5M244.8,68.1h0.5M252.9,72.2h0.5M256.9,76.0h0.5M250.2,81.7h0.5M242.1,77.1h0.5M264.8,78.0h0.5M252.4,82.1h0.5M260.6,73.5h0.5M248.2,73.7h0.5M250.0,79.0h0.5M267.9,77.3h0.5M245.3,73.2h0.5M237.0,75.0h0.5M259.1,71.7h0.5M243.6,79.0h0.5M250.6,80.3h0.5M264.1,74.7h0.5M263.8,65.5h0.5M248.2,73.3h0.5M268.3,72.2h0.5M250.3,65.1h0.5M246.7,78.0h0.5M257.0,67.5h0.5M266.5,79.4h0.5M240.5,68.6h0.5M264.2,66.7h0.5M241.8,73.8h0.5M246.4,71.8h0.5M237.1,68.1h0.5M255.6,68.7h0.5M257.4,75.1h0.5M248.2,74.6h0.5M265.7,79.2h0.5M255.3,66.7h0.5M251.2,73.2h0.5M261.7,79.8h0.5M246.9,70.9h0.5M255.2,80.4h0.5M264.6,67.7h0.5M256.9,80.8h0.5M258.7,72.4h0.5M251.5,79.3h0.5M258.2,78.5h0.5M255.6,73.0h0.5M269.6,76.7h0.5M262.2,68.3h0.5M252.6,74.3h0.5M262.6,78.9h0.5M245.8,75.2h0.5M235.0,68.6h0.5M243.6,81.1h0.5M264.3,64.8h0.5M244.4,69.9h0.5M250.4,76.9h0.5M257.2,67.5h0.5M254.8,81.3h0.5M254.0,71.3h0.5M249.5,71.4h0.5M271.3,66.8h0.5M265.7,66.3h0.5M254.0,77.4h0.5M241.0,78.5h0.5M247.1,76.8h0.5M260.8,76.3h0.5M247.8,71.4h0.5M263.9,76.9h0.5M258.6,65.9h0.5M257.9,74.8h0.5M246.4,71.9h0.5M251.7,72.7h0.5M250.3,65.7h0.5M265.7,72.2h0.5M253.4,76.1h0.5M246.9,82.1h0.5M241.8,69.7h0.5M260.4,78.6h0.5M265.2,72.9h0.5M255.5,77.3h0.5M265.4,73.9h0.5M244.7,72.7h0.5M256.7,81.1h0.5M248.2,78.8h0.5M256.7,68.2h0.5M262.5,76.0h0.5M265.7,66.7h0.5M245.1,70.2h0.5M267.7,66.9h0.5M250.3,66.7h0.5M244.7,70.6h0.5M253.3,68.8h0.5M240.4,77.9h0.5M255.0,79.5h0.5M257.9,73.3h0.5M253.0,68.0h0.5M260.4,79.6h0.5M240.6,79.1h0.5M255.4,78.7h0.5M246.5,80.6h0.5M250.5,73.4h0.5M254.1,67.1h0.5M256.9,71.7h0.5M238.5,78.1h0.5M239.4,70.1h0.5M252.0,70.5h0.5M259.7,66.3h0.5M258.6,67.7h0.5M263.9,79.8h0.5M268.0,77.5h0.5M260.0,67.7h0.5M254.8,68.2h0.5M244.7,71.3h0.5M245.5,78.0h0.5M250.3,67.7h0.5M257.7,73.7h0.5M255.0,67.2h0.5M253.5,77.3h0.5M261.3,80.1h0.5M257.1,67.8h0.5M258.0,70.1h0.5M258.1,79.5h0.5M249.5,72.4h0.5M244.7,71.5h0.5M259.9,77.9h0.5M259.2,75.9h0.5M252.8,81.4h0.5M250.8,79.5h0.5M247.4,74.0h0.5M252.8,74.4h0.5M257.7,66.6h0.5M243.5,68.9h0.5M256.2,80.6h0.5M273.0,65.2h0.5M264.3,80.7h0.5M261.3,76.5h0.5M260.9,73.9h0.5M256.1,78.0h0.5M264.6,77.6h0.5M253.4,82.0h0.5M250.8,72.3h0.5M256.0,73.4h0.5M264.1,73.3h0.5M261.7,80.4h0.5M266.9,72.7h0.5M268.3,74.8h0.5M251.8,76.0h0.5M245.1,80.9h0.5M262.3,77.4h0.5M249.7,70.5h0.5M264.6,73.9h0.5M268.6,71.8h0.5M257.9,80.8h0.5M248.0,65.6h0.5M248.8,72.5h0.5M265.3,77.2h0.5M239.8,82.2h0.5M265.5,78.2h0.5M261.0,75.1h0.5M260.5,69.8h0.5M254.9,78.8h0.5M243.2,79.1h0.5M262.3,73.6h0.5M262.3,67.3h0.5M259.3,73.4h0.5M243.6,69.5h0.5M248.5,81.9h0.5M261.9,79.5h0.5M251.8,77.1h0.5M272.4,76.2h0.5M270.2,69.6h0.5M262.7,71.7h0.5M251.1,79.2h0.5M261.2,75.7h0.5M244.3,72.8h0.5M262.1,72.8h0.5M257.2,76.5h0.5M270.7,77.1h0.5M267.1,75.2h0.5M246.7,69.9h0.5M246.6,70.8h0.5M260.8,79.1h0.5M246.3,73.1h0.5M264.2,67.6h0.5M253.5,69.7h0.5M240.4,77.4h0.5M272.7,72.7h0.5M253.3,79.4h0.5M268.8,74.2h0.5M259.3,72.1h0.5M273.3,73.5h0.5M258.4,73.9h0.5M269.0,68.4h0.5M240.2,70.4h0.5M263.7,78.8h0.5M252.6,78.2h0.5M253.7,74.9h0.5M255.1,70.7h0.5M258.5,79.0h0.5M271.6,64.6h0.5M236.5,72.8h0.5M255.4,73.4h0.5M247.8,69.8h0.5M266.7,75.8h0.5M250.8,70.9h0.5M259.6,70.1h0.5M261.7,79.3h0.5M265.1,82.1h0.5M251.0,75.2h0.5M255.5,80.7h0.5M240.8,79.6h0.5M258.1,82.2h0.5M249.4,73.6h0.5M266.2,76.5h0.5M241.1,66.6h0.5M250.2,75.1h0.5M255.2,78.7h0.5M254.2,71.5h0.5M254.3,81.8h0.5M250.3,72.5h0.5M269.6,74.0h0.5M259.8,72.7h0.5M246.7,75.7h0.5M255.0,71.8h0.5M263.6,81.4h0.5M267.1,79.7h0.5M262.6,78.5h0.5M257.5,70.2h0.5M266.0,74.0h0.5M268.9,80.3h0.5M251.6,72.6h0.5M259.0,73.5h0.5M272.8,71.5h0.5M261.9,81.9h0.5M257.3,79.5h0.5M244.6,73.6h0.5M264.0,77.6h0.5M249.3,80.0h0.5M255.5,79.6h0.5M255.9,73.2h0.5M270.1,77.6h0.5M245.6,80.1h0.5M249.6,79.6h0.5M259.9,69.7h0.5M250.4,70.3h0.5M259.2,73.6h0.5M244.3,76.1h0.5M251.4,80.5h0.5M265.4,78.7h0.5M253.3,74.2h0.5M261.3,75.1h0.5M251.5,71.3h0.5M239.4,76.8h0.5M256.7,77.1h0.5M238.5,72.7h0.5M246.2,81.3h0.5M265.4,77.8h0.5M260.7,73.4h0.5M254.7,80.4h0.5M256.3,77.6h0.5M262.6,75.6h0.5M252.0,76.8h0.5M259.0,76.5h0.5M256.4,73.0h0.5M251.2,75.2h0.5M268.6,69.3h0.5M251.0,67.4h0.5M248.9,73.6h0.5M250.2,74.9h0.5M266.2,74.2h0.5M252.3,75.1h0.5M244.8,75.1h0.5M249.3,70.2h0.5M235.3,80.6h0.5M236.8,70.8h0.5M263.0,81.2h0.5M235.8,68.6h0.5M263.5,81.0h0.5M259.6,74.1h0.5M247.2,71.0h0.5M262.3,77.3h0.5M238.7,68.7h0.5M243.0,75.5h0.5M243.9,72.3h0.5M263.8,71.1h0.5M241.7,78.2h0.5M243.5,80.3h0.5M245.5,69.9h0.5M251.6,71.4h0.5M250.0,74.5h0.5M255.3,71.1h0.5M245.7,70.5h0.5M257.7,68.4h0.5M249.1,74.5h0.5M268.4,73.8h0.5M246.4,80.1h0.5M243.9,72.8h0.5M258.9,73.6h0.5M253.4,73.4h0.5M255.3,82.0h0.5M267.6,75.0h0.5M263.5,70.5h0.5M240.8,78.0h0.5M254.7,71.4h0.5M262.0,80.8h0.5M252.5,75.4h0.5M248.3,78.7h0.5M250.2,78.4h0.5M237.0,73.3h0.5M254.5,80.4h0.5M248.8,73.6h0.5M259.4,78.7h0.5M244.4,69.3h0.5M250.3,75.6h0.5M244.9,77.5h0.5M244.0,70.3h0.5M261.7,72.5h0.5M250.0,71.8h0.5M259.1,79.4h0.5M243.5,70.7h0.5M255.6,77.7h0.5M249.8,77.2h0.5M249.6,65.4h0.5M260.4,75.8h0.5M256.4,81.3h0.5M252.8,73.3h0.5" stroke="#666" stroke-width="0.50" opacity="0.7"/>
<path d="M238.1,53.5h0.5M237.4,71.8h0.5M237.1,44.0h0.5M236.1,60.7h0.5M235.8,55.8h0.5M236.2,45.3h0.5M236.6,51.9h0.5M237.2,33.1h0.5M237.1,47.5h0.5M237.1,76.2h0.5M235.4,59.4h0.5M235.4,69.1h0.5M236.2,72.9h0.5M236.1,69.3h0.5M236.2,68.0h0.5M235.3,42.3h0.5M237.5,61.1h0.5M236.9,47.6h0.5M236.5,39.1h0.5M234.9,61.1h0.5M238.9,69.8h0.5M235.9,35.9h0.5M236.0,79.5h0.5M236.6,75.6h0.5M236.2,49.7h0.5M236.4,48.6h0.5M238.7,54.0h0.5M236.8,68.8h0.5M237.7,49.7h0.5M238.1,39.6h0.5M235.2,59.8h0.5M237.5,57.0h0.5M237.9,71.3h0.5M235.3,59.3h0.5M237.7,65.9h0.5M237.1,61.9h0.5M235.8,65.2h0.5M239.7,57.0h0.5M237.3,43.4h0.5M236.2,51.9h0.5M236.8,54.0h0.5M237.8,72.6h0.5M238.1,77.8h0.5M237.3,60.9h0.5M238.2,44.5h0.5M238.6,44.8h0.5M234.8,52.4h0.5M235.8,74.4h0.5M235.2,59.7h0.5M236.7,54.2h0.5M238.5,44.3h0.5M237.4,67.4h0.5M235.1,59.1h0.5M236.1,54.3h0.5M238.0,56.4h0.5M235.8,78.6h0.5M236.4,52.8h0.5M237.0,78.6h0.5M237.6,55.7h0.5M237.0,67.4h0.5M237.3,53.3h0.5M235.2,43.4h0.5M235.5,51.2h0.5M235.7,42.3h0.5M236.9,62.2h0.5M236.6,55.2h0.5M236.7,62.9h0.5M239.0,66.6h0.5M235.5,59.4h0.5M235.6,29.8h0.5M238.9,57.3h0.5M236.1,42.7h0.5M238.5,56.5h0.5M238.8,74.1h0.5M235.8,31.1h0.5M236.2,57.7h0.5M236.6,53.9h0.5M235.3,28.5h0.5M235.2,64.1h0.5M236.0,55.5h0.5M237.7,47.9h0.5M235.9,44.9h0.5M235.9,49.5h0.5M234.6,29.8h0.5M238.6,42.0h0.5M235.6,49.6h0.5M237.3,53.9h0.5M234.6,40.3h0.5M237.4,62.6h0.5M238.3,48.2h0.5M235.3,35.9h0.5M236.8,43.6h0.5M235.0,49.6h0.5M237.2,66.9h0.5M236.7,61.8h0.5M236.8,50.3h0.5M238.4,55.3h0.5M237.2,58.0h0.5M237.4,46.4h0.5M234.8,61.5h0.5M236.9,65.2h0.5M237.2,41.7h0.5M234.5,57.6h0.5M238.4,57.3h0.5M236.6,48.4h0.5M237.0,62.9h0.5M235.3,69.4h0.5M236.6,70.8h0.5M236.9,52.3h0.5M236.1,57.7h0.5M238.4,58.1h0.5M235.0,67.5h0.5M235.2,64.2h0.5M235.4,57.4h0.5M237.3,65.6h0.5M235.2,73.0h0.5M236.9,51.9h0.5M235.2,57.8h0.5M239.6,54.2h0.5M237.3,49.3h0.5M239.3,54.7h0.5M235.1,39.2h0.5M237.5,65.4h0.5M235.2,78.8h0.5M237.3,78.9h0.5M237.5,72.9h0.5M234.9,76.3h0.5M234.9,45.0h0.5M235.5,80.8h0.5M235.2,40.0h0.5M236.7,58.9h0.5M237.3,52.9h0.5M234.7,42.7h0.5M235.7,60.9h0.5M236.5,48.5h0.5M236.2,69.6h0.5M235.5,72.1h0.5M237.7,35.7h0.5M237.7,47.9h0.5M237.5,50.5h0.5M236.2,38.5h0.5M239.3,39.3h0.5M239.0,56.2h0.5M236.0,52.1h0.5" stroke="#666" stroke-width="0.50" opacity="0.7"/>
<path d="M234.67,32.65 Q234.98,31.61 237.75,31.29 Q240.52,30.98 245.95,31.66 Q251.39,32.34 255.52,33.33 Q259.64,34.33 262.36,35.74 Q265.08,37.15 266.44,39.50 Q267.79,41.85 268.47,45.98 Q269.15,50.10 270.20,52.82 Q271.24,55.54 272.29,57.58 Q273.33,59.61 273.33,62.38 Q273.33,65.15 271.92,67.50 Q270.51,69.85 268.47,69.85 Q266.44,69.85 264.40,68.18 Q262.36,66.51 260.64,66.15 Q258.91,65.78 256.56,66.15 Q254.21,66.51 250.76,66.82 Q247.31,67.14 245.59,65.78 Q243.86,64.42 243.18,61.34 Q242.50,58.26 241.83,54.18 Q241.15,50.10 240.15,46.66 Q239.16,43.21 237.80,40.49 Q236.44,37.77 235.40,35.74 Q234.35,33.70 234.67,32.65 Z" fill="#555" stroke="#3a3a3a" stroke-width="1.2" opacity="0.75"/>
<path d="M235.50,33.40 Q235.80,32.40 238.45,32.10 Q241.10,31.80 246.30,32.45 Q251.50,33.10 255.45,34.05 Q259.40,35.00 262.00,36.35 Q264.60,37.70 265.90,39.95 Q267.20,42.20 267.85,46.15 Q268.50,50.10 269.50,52.70 Q270.50,55.30 271.50,57.25 Q272.50,59.20 272.50,61.85 Q272.50,64.50 271.15,66.75 Q269.80,69.00 267.85,69.00 Q265.90,69.00 263.95,67.40 Q262.00,65.80 260.35,65.45 Q258.70,65.10 256.45,65.45 Q254.20,65.80 250.90,66.10 Q247.60,66.40 245.95,65.10 Q244.30,63.80 243.65,60.85 Q243.00,57.90 242.35,54.00 Q241.70,50.10 240.75,46.80 Q239.80,43.50 238.50,40.90 Q237.20,38.30 236.20,36.35 Q235.20,34.40 235.50,33.40 Z" fill="#f4f4f4" stroke="#1a1a1a" stroke-width="1.1"/>
<path d="M236.80,34.56 Q237.07,33.63 239.54,33.35 Q242.00,33.07 246.84,33.68 Q251.68,34.28 255.35,35.17 Q259.02,36.05 261.44,37.31 Q263.86,38.56 265.07,40.65 Q266.28,42.75 266.88,46.42 Q267.49,50.09 268.42,52.51 Q269.35,54.93 270.27,56.74 Q271.20,58.56 271.20,61.02 Q271.20,63.48 269.95,65.58 Q268.69,67.67 266.88,67.67 Q265.07,67.67 263.25,66.18 Q261.44,64.69 259.91,64.37 Q258.37,64.04 256.28,64.37 Q254.19,64.69 251.12,64.97 Q248.05,65.25 246.51,64.04 Q244.98,62.83 244.37,60.09 Q243.77,57.35 243.17,53.72 Q242.56,50.09 241.68,47.02 Q240.79,43.95 239.58,41.54 Q238.38,39.12 237.45,37.31 Q236.52,35.49 236.80,34.56 Z" fill="#e8e8e8" stroke="#aaa" stroke-width="0.4"/>
<path d="M239.20,36.72 Q239.44,35.92 241.56,35.68 Q243.68,35.44 247.84,35.96 Q252.00,36.48 255.16,37.24 Q258.32,38.00 260.40,39.08 Q262.48,40.16 263.52,41.96 Q264.56,43.76 265.08,46.92 Q265.60,50.08 266.40,52.16 Q267.20,54.24 268.00,55.80 Q268.80,57.36 268.80,59.48 Q268.80,61.60 267.72,63.40 Q266.64,65.20 265.08,65.20 Q263.52,65.20 261.96,63.92 Q260.40,62.64 259.08,62.36 Q257.76,62.08 255.96,62.36 Q254.16,62.64 251.52,62.88 Q248.88,63.12 247.56,62.08 Q246.24,61.04 245.72,58.68 Q245.20,56.32 244.68,53.20 Q244.16,50.08 243.40,47.44 Q242.64,44.80 241.60,42.72 Q240.56,40.64 239.76,39.08 Q238.96,37.52 239.20,36.72 Z" fill="#ebebeb" stroke="#c4c4c4" stroke-width="0.35"/>
<path d="M242.53,39.71 Q242.72,39.09 244.36,38.90 Q246.00,38.72 249.23,39.12 Q252.45,39.52 254.90,40.11 Q257.35,40.70 258.96,41.54 Q260.57,42.37 261.38,43.77 Q262.18,45.16 262.59,47.61 Q262.99,50.06 263.61,51.67 Q264.23,53.29 264.85,54.50 Q265.47,55.70 265.47,57.35 Q265.47,58.99 264.63,60.39 Q263.80,61.78 262.59,61.78 Q261.38,61.78 260.17,60.79 Q258.96,59.80 257.94,59.58 Q256.91,59.36 255.52,59.58 Q254.12,59.80 252.08,59.98 Q250.03,60.17 249.01,59.36 Q247.99,58.56 247.58,56.73 Q247.18,54.90 246.78,52.48 Q246.37,50.06 245.78,48.02 Q245.20,45.97 244.39,44.36 Q243.58,42.75 242.96,41.54 Q242.34,40.33 242.53,39.71 Z" fill="#efefef" stroke="#ccc" stroke-width="0.3"/>
<ellipse cx="266.6" cy="61.4" rx="3.1" ry="3.3" fill="#eaeaea" stroke="#aaa" stroke-width="0.4"/>
<ellipse cx="266.8" cy="61.6" rx="1.7" ry="1.9" fill="#f2f2f2" stroke="#c8c8c8" stroke-width="0.3"/>
<rect x="235.60" y="28.10" width="23.10" height="54.40" fill="none" stroke="#888" stroke-width="0.55"/>
<rect x="239.00" y="81.60" width="9.00" height="1.20" fill="#222"/>
<rect x="264.00" y="81.60" width="7.00" height="1.20" fill="#333"/>
<text x="228.00" y="54.20" font-size="7.4" fill="#2a2a2a" stroke="#2a2a2a" stroke-width="0.1" text-anchor="middle" textLength="8.30" lengthAdjust="spacingAndGlyphs" transform="rotate(-90 228.00 54.20)">Kit</text>
<text x="262.20" y="93.60" font-size="8.0" fill="#2a2a2a" stroke="#2a2a2a" stroke-width="0.07" text-anchor="middle" textLength="23.50" lengthAdjust="spacingAndGlyphs">Lineage</text>
<line x1="273.10" y1="36.70" x2="312.00" y2="36.70" stroke="#333" stroke-width="1.1"/>
<path d="M311.2,34.8 L316.1,36.7 L311.2,38.6 Z" fill="#111" stroke="none" stroke-width="1"/>
<line x1="310.20" y1="25.90" x2="367.50" y2="25.90" stroke="#e2e2e2" stroke-width="0.5"/>
<line x1="367.50" y1="25.90" x2="367.50" y2="82.50" stroke="#e2e2e2" stroke-width="0.5"/>
<line x1="310.20" y1="25.90" x2="310.20" y2="82.50" stroke="#9a9a9a" stroke-width="0.5"/>
<line x1="310.20" y1="82.50" x2="367.50" y2="82.50" stroke="#9a9a9a" stroke-width="0.5"/>
<line x1="309.30" y1="77.78" x2="310.20" y2="77.78" stroke="#888" stroke-width="0.35"/>
<line x1="309.30" y1="73.07" x2="310.20" y2="73.07" stroke="#888" stroke-width="0.35"/>
<line x1="309.30" y1="68.35" x2="310.20" y2="68.35" stroke="#888" stroke-width="0.35"/>
<line x1="309.30" y1="63.63" x2="310.20" y2="63.63" stroke="#888" stroke-width="0.35"/>
<line x1="309.30" y1="58.92" x2="310.20" y2="58.92" stroke="#888" stroke-width="0.35"/>
<line x1="309.30" y1="54.20" x2="310.20" y2="54.20" stroke="#888" stroke-width="0.35"/>
<line x1="309.30" y1="49.48" x2="310.20" y2="49.48" stroke="#888" stroke-width="0.35"/>
<line x1="309.30" y1="44.77" x2="310.20" y2="44.77" stroke="#888" stroke-width="0.35"/>
<line x1="309.30" y1="40.05" x2="310.20" y2="40.05" stroke="#888" stroke-width="0.35"/>
<line x1="309.30" y1="35.33" x2="310.20" y2="35.33" stroke="#888" stroke-width="0.35"/>
<line x1="309.30" y1="30.62" x2="310.20" y2="30.62" stroke="#888" stroke-width="0.35"/>
<line x1="313.78" y1="82.50" x2="313.78" y2="83.40" stroke="#888" stroke-width="0.35"/>
<line x1="317.36" y1="82.50" x2="317.36" y2="83.40" stroke="#888" stroke-width="0.35"/>
<line x1="320.94" y1="82.50" x2="320.94" y2="83.40" stroke="#888" stroke-width="0.35"/>
<line x1="324.52" y1="82.50" x2="324.52" y2="83.40" stroke="#888" stroke-width="0.35"/>
<line x1="328.11" y1="82.50" x2="328.11" y2="83.40" stroke="#888" stroke-width="0.35"/>
<line x1="331.69" y1="82.50" x2="331.69" y2="83.40" stroke="#888" stroke-width="0.35"/>
<line x1="335.27" y1="82.50" x2="335.27" y2="83.40" stroke="#888" stroke-width="0.35"/>
<line x1="338.85" y1="82.50" x2="338.85" y2="83.40" stroke="#888" stroke-width="0.35"/>
<line x1="342.43" y1="82.50" x2="342.43" y2="83.40" stroke="#888" stroke-width="0.35"/>
<line x1="346.01" y1="82.50" x2="346.01" y2="83.40" stroke="#888" stroke-width="0.35"/>
<line x1="349.59" y1="82.50" x2="349.59" y2="83.40" stroke="#888" stroke-width="0.35"/>
<line x1="353.18" y1="82.50" x2="353.18" y2="83.40" stroke="#888" stroke-width="0.35"/>
<line x1="356.76" y1="82.50" x2="356.76" y2="83.40" stroke="#888" stroke-width="0.35"/>
<line x1="360.34" y1="82.50" x2="360.34" y2="83.40" stroke="#888" stroke-width="0.35"/>
<line x1="363.92" y1="82.50" x2="363.92" y2="83.40" stroke="#888" stroke-width="0.35"/>
<defs><radialGradient id="rg2"><stop offset="0" stop-color="#777" stop-opacity="0.75"/><stop offset="0.6" stop-color="#999" stop-opacity="0.45"/><stop offset="1" stop-color="#bbb" stop-opacity="0"/></radialGradient></defs>
<ellipse cx="340" cy="51" rx="17" ry="15" fill="url(#rg2)" transform="rotate(-20 340 51)"/>
<path d="M319.5,45.2h0.4M330.6,59.5h0.4M341.2,38.5h0.4M323.9,49.1h0.4M326.8,44.3h0.4M351.9,62.9h0.4M349.2,51.9h0.4M319.8,46.2h0.4M322.5,56.8h0.4M339.8,50.1h0.4M324.1,45.3h0.4M333.5,63.3h0.4M331.5,55.9h0.4M341.6,65.0h0.4M323.7,50.8h0.4M346.1,39.9h0.4M334.5,55.9h0.4M318.9,50.2h0.4M340.9,55.6h0.4M343.1,49.5h0.4M333.5,43.4h0.4M332.7,40.6h0.4M340.4,55.9h0.4M348.1,61.2h0.4M337.5,47.0h0.4M341.3,53.7h0.4M335.5,62.0h0.4M332.2,42.1h0.4M326.8,46.6h0.4M338.6,39.6h0.4M333.0,60.2h0.4M333.6,52.0h0.4M345.3,45.5h0.4M340.9,34.8h0.4M344.7,48.0h0.4M320.2,58.5h0.4M341.6,47.0h0.4M330.1,45.8h0.4M327.9,55.4h0.4M327.5,38.6h0.4M348.1,50.1h0.4M344.3,55.0h0.4M328.8,42.7h0.4M324.6,42.2h0.4M336.1,51.9h0.4M331.4,48.8h0.4M321.4,51.5h0.4M317.7,51.6h0.4M333.4,41.4h0.4M336.1,43.7h0.4M337.3,53.7h0.4M343.5,59.7h0.4M332.6,42.1h0.4M330.6,59.4h0.4M318.4,56.4h0.4M338.4,49.4h0.4M344.5,54.0h0.4M333.4,57.1h0.4M347.8,65.6h0.4M336.3,40.3h0.4M351.1,55.1h0.4M339.3,48.4h0.4M325.4,47.8h0.4M329.6,59.9h0.4M320.7,57.0h0.4M318.6,40.6h0.4M338.7,47.2h0.4M344.7,51.7h0.4M335.4,57.4h0.4M333.6,49.0h0.4M324.9,51.2h0.4M345.9,52.7h0.4M339.9,65.8h0.4M330.0,50.0h0.4M342.9,46.5h0.4M341.6,65.2h0.4M317.3,45.2h0.4M343.4,45.0h0.4M337.4,37.4h0.4M332.1,59.4h0.4M331.8,52.1h0.4M351.4,51.2h0.4M324.5,42.7h0.4M329.5,42.8h0.4M345.1,53.6h0.4M323.9,50.8h0.4M328.8,64.3h0.4M318.0,43.0h0.4M346.6,40.7h0.4M340.6,62.0h0.4M338.2,38.8h0.4M331.8,56.6h0.4M332.0,62.5h0.4M342.2,48.5h0.4M328.9,56.2h0.4M331.1,46.3h0.4M327.3,35.0h0.4M349.0,51.3h0.4M334.6,49.8h0.4M341.5,42.9h0.4M331.9,58.2h0.4M341.5,45.1h0.4M322.5,45.2h0.4M346.8,36.7h0.4M320.5,48.1h0.4M339.1,43.4h0.4M340.3,53.5h0.4M337.1,44.9h0.4M323.9,56.9h0.4M344.9,53.7h0.4M321.4,47.7h0.4M331.4,33.9h0.4M328.1,45.2h0.4M332.2,60.4h0.4M344.5,47.6h0.4M329.7,55.4h0.4M341.6,45.5h0.4M342.9,33.2h0.4M318.9,53.6h0.4M324.3,52.6h0.4M332.2,44.6h0.4M330.1,46.5h0.4M339.1,52.4h0.4M316.7,44.5h0.4M343.2,52.9h0.4M343.4,48.0h0.4M322.2,48.5h0.4M336.1,44.5h0.4M330.6,42.3h0.4M341.7,53.4h0.4M335.1,45.4h0.4M343.3,54.6h0.4M331.7,59.5h0.4M350.4,51.1h0.4M325.8,43.3h0.4M340.9,57.9h0.4M320.9,47.5h0.4M343.4,42.6h0.4M323.8,49.0h0.4M336.9,54.3h0.4M326.9,52.1h0.4M331.6,55.5h0.4M337.7,42.5h0.4M335.0,47.4h0.4M332.2,47.6h0.4M326.3,47.7h0.4M345.3,37.9h0.4M344.2,62.2h0.4M348.2,63.7h0.4M326.6,57.0h0.4M346.6,45.5h0.4M347.4,58.4h0.4M336.0,48.0h0.4M338.5,55.3h0.4M330.3,44.6h0.4M318.1,65.6h0.4M330.6,49.6h0.4M318.4,49.6h0.4M336.4,41.4h0.4M344.6,48.6h0.4M322.9,45.1h0.4M335.6,49.3h0.4M349.2,58.2h0.4M341.4,52.2h0.4M334.7,50.9h0.4M339.9,51.0h0.4M332.9,55.0h0.4M335.3,49.9h0.4M333.9,38.2h0.4M326.3,56.9h0.4M338.4,65.4h0.4M332.8,51.5h0.4M332.9,37.3h0.4M335.1,61.9h0.4M343.7,46.9h0.4M324.0,47.9h0.4M334.7,55.3h0.4M340.7,53.3h0.4M331.3,60.9h0.4M347.5,55.4h0.4M343.8,51.0h0.4M339.2,40.0h0.4M351.6,55.9h0.4M335.4,40.7h0.4M345.0,44.4h0.4M329.3,54.1h0.4M338.5,47.8h0.4M341.1,52.1h0.4M335.8,45.6h0.4M330.9,50.1h0.4M340.7,38.1h0.4M344.3,55.7h0.4M335.4,49.0h0.4M344.1,52.2h0.4M318.3,55.6h0.4M328.1,45.2h0.4M350.4,57.3h0.4M338.5,53.4h0.4M335.0,61.7h0.4M323.3,44.3h0.4M339.6,58.1h0.4M343.8,52.3h0.4M321.2,41.1h0.4M341.6,49.2h0.4M340.9,45.2h0.4M340.4,45.0h0.4M324.7,50.7h0.4M341.4,59.4h0.4M321.0,47.1h0.4M350.9,51.0h0.4M337.4,36.8h0.4M324.4,50.8h0.4M349.5,60.2h0.4M347.5,57.1h0.4M329.5,54.1h0.4M326.0,41.2h0.4M339.1,49.1h0.4M347.8,38.0h0.4M346.0,58.3h0.4M335.4,41.7h0.4M335.8,65.9h0.4M325.2,37.2h0.4M339.3,53.7h0.4M324.9,39.5h0.4M326.3,51.5h0.4M331.5,40.6h0.4M323.7,50.3h0.4M351.7,48.5h0.4M322.7,45.9h0.4M328.5,54.5h0.4M332.8,63.3h0.4M336.0,44.6h0.4M343.9,57.8h0.4M344.2,50.7h0.4M333.0,49.6h0.4M344.2,43.8h0.4M343.0,33.8h0.4M330.8,47.1h0.4M345.5,53.0h0.4M338.6,65.9h0.4M339.4,61.5h0.4M330.8,46.0h0.4M326.0,54.2h0.4M332.7,64.8h0.4M333.8,51.4h0.4M329.7,51.8h0.4M321.4,54.4h0.4M332.9,36.5h0.4M341.8,42.7h0.4M331.1,52.9h0.4M336.2,54.8h0.4M333.9,47.0h0.4M334.8,48.8h0.4M323.7,48.5h0.4M318.7,56.1h0.4M340.1,50.8h0.4M327.9,51.4h0.4M340.9,37.3h0.4M331.8,40.5h0.4M342.2,52.8h0.4M332.6,35.7h0.4M320.9,52.3h0.4M335.1,44.0h0.4M332.7,42.6h0.4M342.6,55.6h0.4M331.5,43.8h0.4M332.1,42.2h0.4M344.6,43.8h0.4M347.7,50.4h0.4M340.5,49.7h0.4M343.7,47.7h0.4M344.8,58.3h0.4M340.0,46.5h0.4M337.4,61.7h0.4M336.1,49.3h0.4M333.6,37.6h0.4M332.4,40.0h0.4M335.7,45.4h0.4M338.4,57.5h0.4M324.7,57.3h0.4M316.2,44.5h0.4M339.0,54.3h0.4M319.9,46.5h0.4M338.6,50.8h0.4M337.4,51.2h0.4M347.5,55.3h0.4M339.7,48.6h0.4M330.5,51.7h0.4M324.3,50.6h0.4M328.1,42.6h0.4M336.4,65.2h0.4M336.8,56.5h0.4M335.9,51.6h0.4M342.4,60.7h0.4M328.6,47.8h0.4M331.4,38.7h0.4M318.3,50.9h0.4M351.5,54.3h0.4M337.6,38.7h0.4M339.7,45.6h0.4M326.2,61.7h0.4M350.3,37.2h0.4M328.3,48.1h0.4M344.0,47.1h0.4M326.4,47.1h0.4M346.3,61.5h0.4M336.2,43.7h0.4M337.8,42.5h0.4M340.5,58.7h0.4M335.8,55.3h0.4M332.2,34.3h0.4M340.7,55.4h0.4M332.0,55.5h0.4M336.7,44.2h0.4M329.3,51.7h0.4M321.1,52.1h0.4M329.3,45.4h0.4M331.0,44.5h0.4M336.1,43.7h0.4M347.8,47.3h0.4M319.1,37.8h0.4M337.3,49.3h0.4M325.5,50.4h0.4M330.9,49.0h0.4M317.4,57.3h0.4M337.5,67.0h0.4M336.8,61.5h0.4M334.9,37.5h0.4M328.0,61.1h0.4M334.4,49.2h0.4M327.4,44.4h0.4M342.1,62.1h0.4M332.3,54.6h0.4M347.9,46.0h0.4M337.6,43.7h0.4M342.4,46.0h0.4M338.3,54.9h0.4M325.7,66.4h0.4M345.7,40.2h0.4M337.6,49.7h0.4M325.9,46.3h0.4M328.4,43.0h0.4M345.6,53.2h0.4M332.3,54.6h0.4M336.5,37.0h0.4M342.5,40.4h0.4M337.3,60.4h0.4M320.7,52.5h0.4M342.4,54.3h0.4M345.4,45.2h0.4M344.7,46.3h0.4M339.6,45.3h0.4M343.8,39.8h0.4M351.9,49.7h0.4M333.1,57.8h0.4M343.8,56.0h0.4M344.5,49.8h0.4M327.2,49.3h0.4M347.4,55.3h0.4M339.3,55.6h0.4M340.1,38.1h0.4M337.5,37.7h0.4M349.6,58.9h0.4M341.5,50.7h0.4M329.0,53.4h0.4M340.9,52.7h0.4M343.3,63.3h0.4M328.7,38.9h0.4M331.7,59.4h0.4M332.2,42.4h0.4M329.9,56.2h0.4M339.5,61.6h0.4M346.2,37.4h0.4M347.9,47.2h0.4M346.2,47.1h0.4M347.4,50.1h0.4M349.4,40.3h0.4M332.2,41.1h0.4M342.9,55.5h0.4M339.2,57.2h0.4M334.7,44.6h0.4M331.5,36.7h0.4M333.3,59.5h0.4M323.7,52.9h0.4M341.2,40.5h0.4M335.8,44.5h0.4M337.1,51.9h0.4M339.4,41.2h0.4M343.2,63.9h0.4M330.1,50.9h0.4M334.9,53.2h0.4M319.9,40.5h0.4M316.6,42.7h0.4M351.4,52.1h0.4M317.7,47.3h0.4M340.7,47.1h0.4M350.8,52.5h0.4M331.4,51.7h0.4M345.5,40.7h0.4M342.2,62.7h0.4M328.7,44.8h0.4M341.2,50.1h0.4M331.6,46.5h0.4M323.0,53.3h0.4M323.3,52.0h0.4M330.6,47.7h0.4M335.8,58.0h0.4M329.4,59.4h0.4M337.5,57.9h0.4M333.7,57.3h0.4M332.0,46.7h0.4M324.0,46.5h0.4M322.0,57.9h0.4M328.7,39.3h0.4M339.0,49.2h0.4M346.7,46.3h0.4M341.0,39.0h0.4M335.3,54.8h0.4M322.9,43.2h0.4M336.2,46.5h0.4M333.2,43.2h0.4M339.5,45.3h0.4M347.5,51.4h0.4M332.4,38.2h0.4M322.4,45.5h0.4M331.4,46.8h0.4M332.2,47.0h0.4M348.3,44.5h0.4M328.8,63.5h0.4M332.6,48.5h0.4M334.8,48.5h0.4M332.7,46.3h0.4M337.2,64.0h0.4M339.9,54.6h0.4M340.1,55.9h0.4M324.2,43.4h0.4M335.1,48.4h0.4M318.9,51.6h0.4M345.4,50.8h0.4M326.1,42.1h0.4M333.5,42.8h0.4M331.8,54.3h0.4M330.4,52.5h0.4M318.6,50.5h0.4M338.8,44.0h0.4M338.9,51.8h0.4M335.3,57.1h0.4M341.8,39.9h0.4M336.5,38.7h0.4M348.2,46.9h0.4M339.5,44.3h0.4M333.8,38.6h0.4M339.1,53.8h0.4M348.0,51.7h0.4M335.0,38.5h0.4M332.1,35.7h0.4M333.3,46.9h0.4M316.6,53.1h0.4M343.6,52.9h0.4M327.9,59.3h0.4M334.1,36.5h0.4M331.3,42.4h0.4M319.6,48.6h0.4M331.9,57.1h0.4M317.9,53.9h0.4M326.9,46.0h0.4M333.2,40.7h0.4M336.3,57.5h0.4M336.9,58.1h0.4M340.7,64.1h0.4M324.1,39.1h0.4M330.2,44.9h0.4M329.8,43.8h0.4M334.6,45.6h0.4M330.3,42.0h0.4M327.8,44.9h0.4M336.8,45.8h0.4M333.0,55.6h0.4M333.8,49.0h0.4M334.2,49.7h0.4M350.3,62.7h0.4M341.1,52.5h0.4M347.6,51.1h0.4M339.6,50.3h0.4M346.9,54.8h0.4M336.6,59.8h0.4M319.2,63.6h0.4M342.2,59.9h0.4M330.4,45.4h0.4M318.4,35.7h0.4M330.2,45.9h0.4M346.9,51.1h0.4M348.4,57.0h0.4M343.6,48.1h0.4M325.9,47.1h0.4M324.7,43.8h0.4M335.6,59.1h0.4M321.9,57.7h0.4M349.5,38.0h0.4M340.8,52.2h0.4M345.3,44.8h0.4M337.3,41.4h0.4M335.7,33.4h0.4M338.1,35.9h0.4M317.5,53.4h0.4M346.3,46.3h0.4M345.5,52.1h0.4M332.5,40.4h0.4M336.3,46.9h0.4M339.4,47.3h0.4M340.7,35.1h0.4M336.8,53.6h0.4M331.3,51.0h0.4M321.4,41.5h0.4M330.5,48.8h0.4M337.1,55.6h0.4M333.9,65.9h0.4M337.2,41.9h0.4M343.9,55.2h0.4M339.2,50.3h0.4M343.0,62.7h0.4M336.1,62.5h0.4M341.2,49.6h0.4M319.2,33.2h0.4M349.0,56.6h0.4M323.6,59.0h0.4M344.8,60.4h0.4M336.6,60.3h0.4M347.6,49.5h0.4M336.8,43.1h0.4M327.0,45.7h0.4M347.2,49.4h0.4M338.3,53.3h0.4M337.7,45.5h0.4M337.3,50.2h0.4M346.5,57.5h0.4M344.7,52.6h0.4M332.5,39.6h0.4M337.6,44.7h0.4M340.4,39.5h0.4M335.6,54.6h0.4M348.5,41.0h0.4M335.4,40.5h0.4M336.3,47.4h0.4M338.1,56.8h0.4M321.6,46.6h0.4M346.1,46.6h0.4M340.8,57.9h0.4M333.7,53.9h0.4M325.1,53.8h0.4M338.7,58.1h0.4M350.5,40.8h0.4M330.1,51.6h0.4M325.9,44.1h0.4M340.8,58.8h0.4M320.6,56.9h0.4M332.1,61.6h0.4M329.7,39.4h0.4M333.8,60.1h0.4M331.0,51.6h0.4M339.9,42.0h0.4M334.4,39.8h0.4M330.6,47.0h0.4M332.0,49.5h0.4M342.9,43.4h0.4M346.2,54.7h0.4M345.6,37.3h0.4M343.5,49.7h0.4M326.6,33.2h0.4M333.4,52.5h0.4M338.6,38.6h0.4M350.8,44.3h0.4M339.6,47.7h0.4M330.4,57.7h0.4M338.2,45.4h0.4M333.1,62.8h0.4M329.0,62.5h0.4M341.7,59.4h0.4M332.1,61.5h0.4M322.5,52.8h0.4M330.3,44.8h0.4M335.5,55.5h0.4M325.8,58.3h0.4M349.2,51.8h0.4M325.7,47.6h0.4M345.6,55.7h0.4M327.2,52.8h0.4M337.9,38.2h0.4M348.4,50.6h0.4M334.7,56.1h0.4M324.7,48.8h0.4M337.8,56.7h0.4M321.7,36.6h0.4M342.2,47.1h0.4M336.7,54.0h0.4M335.5,57.9h0.4M332.8,62.2h0.4M347.0,49.1h0.4M342.6,56.1h0.4M326.7,60.6h0.4M323.7,41.4h0.4M343.3,46.4h0.4M338.5,40.4h0.4M348.7,57.0h0.4M340.3,38.0h0.4M347.3,60.2h0.4M336.5,58.0h0.4M346.4,54.1h0.4M329.8,56.4h0.4M348.7,37.1h0.4M341.4,47.6h0.4M338.5,48.8h0.4M331.1,57.6h0.4M341.2,52.2h0.4M322.0,52.2h0.4M323.0,45.8h0.4M343.8,49.8h0.4M321.2,48.5h0.4M351.1,56.2h0.4M334.0,48.1h0.4M339.2,58.9h0.4M337.5,34.6h0.4M340.9,60.4h0.4M334.0,48.2h0.4M333.1,59.8h0.4M335.5,50.5h0.4M347.2,57.3h0.4M348.1,63.0h0.4M349.5,44.8h0.4M340.4,50.4h0.4M334.7,48.2h0.4M320.0,51.6h0.4M343.2,35.3h0.4M345.2,48.2h0.4M332.7,47.5h0.4M344.8,42.7h0.4M349.7,48.0h0.4M337.7,36.0h0.4M347.3,62.1h0.4M339.8,53.7h0.4M319.4,66.5h0.4M332.0,41.9h0.4M332.7,39.3h0.4M342.1,52.2h0.4M328.1,34.9h0.4M332.4,51.7h0.4M327.1,43.5h0.4M336.4,46.7h0.4M337.5,52.0h0.4M346.5,50.1h0.4M344.7,66.3h0.4M338.4,55.3h0.4M339.2,38.2h0.4M337.9,58.4h0.4M337.9,37.8h0.4M335.0,42.3h0.4M339.9,61.4h0.4M348.1,44.7h0.4M325.8,44.0h0.4M340.2,44.7h0.4M345.4,46.9h0.4M332.3,62.5h0.4M317.7,39.2h0.4M333.2,38.7h0.4M324.8,54.8h0.4M343.3,35.5h0.4M328.3,46.4h0.4M338.2,49.7h0.4M328.7,45.4h0.4M331.7,43.3h0.4M325.8,41.5h0.4M340.7,44.4h0.4M351.7,50.8h0.4M334.6,60.7h0.4M346.0,58.2h0.4M327.3,44.6h0.4M339.9,43.1h0.4M322.7,33.5h0.4M349.1,45.7h0.4M348.5,46.7h0.4M318.0,39.7h0.4M322.4,40.7h0.4M327.0,52.7h0.4M346.5,34.9h0.4M332.5,41.4h0.4M335.1,43.8h0.4M343.8,50.3h0.4M337.9,37.3h0.4M339.0,59.2h0.4M333.6,46.8h0.4M348.0,47.2h0.4M329.0,46.3h0.4M333.4,40.8h0.4M328.8,59.7h0.4M343.2,51.3h0.4M341.3,48.5h0.4M317.0,58.3h0.4M339.0,43.1h0.4M323.3,55.0h0.4M328.5,49.6h0.4M344.6,41.5h0.4M328.1,56.2h0.4M340.3,36.1h0.4M332.9,55.2h0.4M335.8,53.0h0.4M325.0,61.6h0.4M325.7,54.4h0.4M327.7,44.0h0.4M338.0,49.1h0.4M336.7,46.1h0.4M346.4,39.0h0.4M338.4,39.5h0.4M338.0,49.7h0.4M339.9,54.1h0.4M335.4,33.7h0.4M339.6,48.7h0.4M344.5,53.8h0.4M344.5,50.3h0.4M331.2,40.4h0.4M319.0,58.5h0.4M328.6,38.5h0.4M339.5,55.0h0.4M341.1,51.5h0.4M331.0,52.0h0.4M325.4,51.2h0.4M350.5,46.5h0.4M334.0,36.9h0.4M349.8,50.4h0.4M349.6,54.0h0.4M325.3,43.3h0.4M327.2,45.0h0.4M334.0,49.1h0.4M325.6,49.7h0.4M337.4,48.3h0.4M323.4,49.8h0.4M336.5,37.6h0.4M338.7,54.6h0.4M333.9,61.7h0.4M327.6,43.3h0.4M346.2,51.8h0.4M333.5,57.6h0.4M338.7,54.9h0.4M336.8,60.4h0.4M337.8,48.7h0.4M336.0,52.8h0.4M328.7,52.8h0.4M330.8,45.3h0.4M340.9,59.7h0.4M335.4,54.6h0.4M324.9,57.8h0.4M329.4,45.7h0.4M329.5,58.2h0.4M335.9,39.8h0.4M338.2,52.6h0.4M329.9,40.2h0.4M336.6,55.6h0.4M322.7,45.1h0.4M335.9,34.8h0.4M319.9,62.8h0.4M326.9,54.4h0.4M324.3,48.9h0.4M342.7,52.8h0.4M324.3,52.0h0.4M339.1,61.6h0.4M331.5,51.0h0.4M324.0,36.1h0.4M320.6,46.9h0.4M340.9,60.4h0.4M340.2,54.1h0.4M344.0,45.4h0.4M339.0,50.1h0.4M339.1,54.5h0.4M335.0,35.1h0.4M337.3,41.2h0.4M332.7,55.0h0.4M327.3,47.1h0.4M317.6,66.3h0.4M338.7,46.4h0.4M340.6,51.2h0.4M337.7,44.2h0.4M326.5,43.6h0.4M334.2,48.4h0.4M331.5,36.3h0.4M335.6,61.1h0.4M332.0,48.2h0.4M330.6,59.0h0.4M342.9,50.2h0.4M325.5,50.4h0.4M340.5,55.0h0.4M329.9,55.4h0.4M340.3,38.5h0.4M336.7,59.7h0.4M338.4,40.6h0.4M326.2,50.9h0.4M327.4,49.8h0.4M337.7,63.8h0.4M343.4,46.1h0.4M346.7,54.5h0.4M331.0,49.6h0.4M336.8,52.8h0.4M319.8,41.6h0.4M327.3,52.1h0.4M329.3,35.4h0.4M320.4,41.7h0.4M318.2,54.8h0.4M341.2,43.7h0.4M327.9,41.3h0.4M319.1,39.4h0.4M337.6,45.9h0.4M332.7,50.4h0.4M342.6,47.5h0.4M328.3,65.4h0.4M351.7,45.3h0.4M322.8,50.1h0.4M334.4,49.1h0.4M328.2,50.5h0.4M349.9,35.0h0.4M319.8,59.1h0.4M328.5,48.8h0.4M338.1,48.7h0.4M341.4,35.2h0.4M345.7,53.3h0.4M339.2,48.5h0.4M331.0,45.5h0.4M337.5,38.3h0.4M344.2,50.2h0.4M332.5,41.1h0.4M332.8,52.8h0.4M331.0,39.6h0.4M329.2,48.0h0.4M324.4,47.1h0.4M330.1,48.8h0.4M320.2,44.6h0.4M339.4,42.0h0.4M319.8,48.6h0.4M346.6,46.7h0.4M329.7,48.6h0.4M347.8,61.3h0.4M337.4,51.8h0.4M341.1,54.4h0.4M328.4,53.1h0.4M346.2,45.0h0.4M327.6,37.5h0.4M336.6,56.2h0.4M318.3,58.3h0.4M329.0,54.1h0.4M340.5,52.8h0.4M331.0,52.6h0.4M331.1,48.9h0.4M343.4,51.5h0.4M334.8,49.2h0.4M347.9,52.0h0.4M341.2,43.6h0.4M340.6,54.1h0.4M320.1,46.2h0.4M344.2,50.2h0.4M329.1,65.7h0.4M341.4,55.4h0.4M332.2,55.0h0.4M340.2,43.4h0.4M326.8,39.3h0.4M338.4,47.3h0.4M346.3,49.3h0.4M338.7,42.5h0.4M342.0,55.1h0.4M336.1,54.3h0.4M326.4,40.2h0.4M318.1,49.2h0.4M329.2,53.0h0.4M351.1,63.4h0.4M335.0,63.4h0.4M322.2,51.7h0.4M336.4,58.8h0.4M338.8,63.4h0.4M340.9,49.6h0.4M346.0,51.5h0.4M326.5,56.6h0.4M340.4,48.9h0.4M342.8,44.9h0.4M332.8,42.7h0.4M326.1,49.3h0.4M325.9,43.9h0.4M342.9,56.1h0.4M343.4,46.4h0.4M327.2,61.8h0.4M322.1,59.7h0.4M347.8,38.6h0.4M320.0,58.6h0.4M337.0,45.8h0.4M327.4,61.1h0.4M318.0,53.7h0.4M336.7,48.9h0.4M333.6,55.1h0.4M349.8,44.5h0.4M333.6,52.6h0.4M345.7,48.0h0.4M345.8,52.6h0.4M330.2,40.7h0.4M326.8,54.1h0.4M351.5,38.9h0.4M331.8,54.7h0.4M335.2,53.4h0.4M332.5,55.4h0.4M334.1,44.6h0.4M342.9,47.4h0.4M347.9,50.7h0.4M331.7,42.9h0.4M321.7,61.7h0.4M335.9,45.4h0.4M320.6,57.9h0.4M329.1,41.3h0.4M347.7,52.1h0.4M339.2,57.4h0.4M324.8,47.0h0.4M343.2,42.1h0.4M328.5,39.3h0.4M350.6,41.3h0.4M342.9,56.1h0.4M321.7,33.5h0.4M318.9,56.0h0.4M343.9,46.1h0.4M335.0,41.7h0.4M329.5,51.6h0.4M339.5,54.9h0.4M329.7,44.6h0.4M316.3,48.0h0.4M343.5,56.4h0.4M329.0,56.0h0.4M325.5,49.1h0.4M322.2,43.0h0.4M337.9,41.5h0.4M327.4,44.5h0.4M341.7,55.4h0.4M332.8,54.5h0.4M346.2,52.2h0.4M331.6,61.5h0.4M328.9,47.1h0.4M324.5,46.4h0.4M342.6,65.9h0.4M323.0,52.1h0.4M325.1,53.5h0.4M338.8,50.2h0.4M328.7,59.7h0.4M336.2,56.3h0.4M319.4,42.1h0.4M332.5,54.0h0.4M344.4,46.6h0.4M351.7,50.1h0.4M333.8,51.4h0.4M332.9,45.7h0.4M340.0,55.1h0.4M346.5,63.6h0.4M340.3,58.6h0.4M328.0,51.6h0.4M339.0,33.4h0.4M345.1,59.0h0.4M328.4,58.9h0.4M322.2,48.2h0.4M340.5,45.8h0.4M339.1,55.4h0.4M345.1,43.0h0.4M336.3,56.6h0.4M329.1,40.7h0.4M331.1,42.1h0.4M325.2,50.0h0.4M326.0,37.5h0.4M329.9,49.9h0.4" stroke="#8a8a8a" stroke-width="0.44" opacity="0.7"/>
<path d="M345.9,58.0h0.4M335.5,47.5h0.4M348.1,58.2h0.4M339.8,43.4h0.4M346.0,47.7h0.4M344.1,44.7h0.4M340.4,60.5h0.4M340.0,43.0h0.4M333.3,46.5h0.4M339.0,56.8h0.4M338.6,54.3h0.4M348.7,63.6h0.4M335.2,56.5h0.4M347.5,57.0h0.4M344.2,42.5h0.4M340.8,47.9h0.4M345.6,51.1h0.4M347.4,52.0h0.4M339.8,45.1h0.4M341.4,47.7h0.4M343.9,48.1h0.4M337.4,59.1h0.4M344.0,55.4h0.4M342.5,51.1h0.4M339.1,51.4h0.4M338.2,54.7h0.4M344.7,49.0h0.4M347.9,51.5h0.4M344.8,43.1h0.4M338.2,56.8h0.4M347.2,58.5h0.4M343.9,55.1h0.4M346.3,55.7h0.4M349.5,55.1h0.4M337.9,64.7h0.4M342.2,54.2h0.4M339.6,45.4h0.4M338.1,47.0h0.4M348.3,59.1h0.4M333.1,57.4h0.4M345.4,57.8h0.4M339.9,54.1h0.4M349.4,44.4h0.4M343.5,48.9h0.4M342.0,42.6h0.4M343.8,50.8h0.4M345.1,45.2h0.4M343.2,53.5h0.4M341.8,52.0h0.4M342.2,41.8h0.4M345.9,57.2h0.4M336.7,57.4h0.4M343.0,45.0h0.4M342.3,53.8h0.4M340.3,57.1h0.4M347.1,51.3h0.4M335.8,57.9h0.4M340.9,54.1h0.4M338.2,59.1h0.4M346.0,54.0h0.4M340.4,52.0h0.4M343.3,55.9h0.4M345.2,57.5h0.4M334.0,54.4h0.4M345.5,50.4h0.4M338.8,48.4h0.4M341.6,50.8h0.4M342.4,49.6h0.4M347.5,54.1h0.4M347.1,53.9h0.4M344.0,52.9h0.4M340.3,53.9h0.4M340.2,62.0h0.4M346.7,59.9h0.4M352.0,49.6h0.4M344.9,55.4h0.4M339.8,51.0h0.4M344.5,52.4h0.4M344.4,51.5h0.4M343.2,49.3h0.4M338.8,45.1h0.4M328.8,38.7h0.4M340.0,54.1h0.4M348.9,59.7h0.4M344.2,47.7h0.4M330.6,55.8h0.4M343.0,50.7h0.4M332.6,54.5h0.4M344.1,51.6h0.4M336.3,52.3h0.4M347.5,39.1h0.4M338.6,54.1h0.4M346.1,52.1h0.4M343.1,38.5h0.4M336.4,56.6h0.4M346.7,52.7h0.4M335.5,54.1h0.4M350.5,55.0h0.4M343.3,50.5h0.4M337.2,46.6h0.4M332.8,50.3h0.4M351.1,65.7h0.4M336.0,63.6h0.4M343.9,50.5h0.4M341.8,54.7h0.4M342.5,56.1h0.4M341.5,48.8h0.4M351.0,47.0h0.4M343.8,64.1h0.4M332.7,59.0h0.4M347.9,42.6h0.4M336.9,48.0h0.4M341.0,54.1h0.4M337.9,56.0h0.4M343.3,50.9h0.4M345.2,43.4h0.4M344.3,54.1h0.4M339.6,56.3h0.4M338.5,52.8h0.4M347.7,50.0h0.4M342.4,56.2h0.4M338.5,46.3h0.4M347.4,53.4h0.4M343.3,45.3h0.4M338.7,58.4h0.4M350.6,55.6h0.4M343.7,47.0h0.4M338.0,54.1h0.4M341.2,60.1h0.4M348.7,40.3h0.4M336.1,52.0h0.4M350.7,62.4h0.4M346.8,43.8h0.4M341.4,51.8h0.4M350.6,44.5h0.4M346.4,38.8h0.4M344.0,43.3h0.4M351.4,53.6h0.4M337.8,55.0h0.4M341.8,55.3h0.4M341.8,59.5h0.4M340.7,56.9h0.4M334.6,57.1h0.4M348.1,47.1h0.4M343.5,51.9h0.4M350.9,66.1h0.4M339.8,57.7h0.4M342.7,57.2h0.4M344.5,58.6h0.4M340.6,50.5h0.4M342.4,64.3h0.4M347.3,50.6h0.4M343.0,52.3h0.4M350.5,65.6h0.4M338.8,40.6h0.4M344.1,54.9h0.4M335.0,42.7h0.4M342.3,49.0h0.4M339.0,52.3h0.4M350.7,50.7h0.4M347.2,53.8h0.4M345.9,48.3h0.4M351.1,45.8h0.4M347.1,50.5h0.4M339.1,44.6h0.4M334.8,56.7h0.4M342.8,45.2h0.4M341.0,56.9h0.4M339.3,50.4h0.4M341.4,51.0h0.4M333.7,59.8h0.4M351.4,53.5h0.4M336.6,41.6h0.4M339.2,55.8h0.4M333.8,54.4h0.4M348.2,50.4h0.4M348.3,44.5h0.4M341.2,53.3h0.4M336.9,51.0h0.4M340.3,64.7h0.4M332.5,50.2h0.4M350.9,64.3h0.4M343.3,61.0h0.4M338.8,49.2h0.4M337.9,48.0h0.4M346.2,60.7h0.4M351.5,52.0h0.4M335.8,53.8h0.4M339.7,51.3h0.4M333.0,45.6h0.4M346.8,50.6h0.4M343.9,47.1h0.4M342.3,51.1h0.4M340.5,63.4h0.4M339.0,62.4h0.4M347.8,52.5h0.4M333.8,53.6h0.4M347.3,55.9h0.4M344.4,60.9h0.4M340.1,54.7h0.4M337.9,50.0h0.4M349.0,50.5h0.4M346.0,49.1h0.4M339.5,57.7h0.4M341.6,52.4h0.4M336.1,53.7h0.4M342.2,60.2h0.4M342.5,53.2h0.4M340.6,44.9h0.4M338.8,41.1h0.4M334.0,52.5h0.4M335.3,45.9h0.4M337.4,54.6h0.4M346.7,45.2h0.4M340.1,50.7h0.4M338.1,44.0h0.4M346.7,50.7h0.4M346.2,50.2h0.4M338.7,56.4h0.4M339.4,60.9h0.4M346.8,51.7h0.4M345.1,47.7h0.4M338.2,64.5h0.4M344.4,55.0h0.4M342.8,56.5h0.4M349.4,56.5h0.4M338.0,61.5h0.4M348.0,58.9h0.4M345.5,56.9h0.4M337.2,57.4h0.4M349.0,47.7h0.4M348.2,49.2h0.4M335.5,52.2h0.4M336.4,53.0h0.4M337.7,54.7h0.4M341.2,53.0h0.4M347.4,50.3h0.4M346.3,43.1h0.4M342.5,57.8h0.4M350.8,56.4h0.4M345.3,47.6h0.4M351.0,55.8h0.4M344.1,53.3h0.4M328.2,41.8h0.4M340.4,45.6h0.4M336.8,49.2h0.4M343.5,62.5h0.4M343.6,47.7h0.4M335.9,50.8h0.4M336.4,46.2h0.4M341.5,49.9h0.4M341.9,54.9h0.4M328.0,40.4h0.4M343.2,56.8h0.4M342.9,53.1h0.4M344.7,49.2h0.4M337.1,58.6h0.4M342.7,58.7h0.4M349.0,40.3h0.4M349.2,51.8h0.4M345.7,59.5h0.4M341.4,48.8h0.4M338.2,51.0h0.4M350.7,58.6h0.4M346.0,51.2h0.4M340.5,45.7h0.4M330.4,48.7h0.4M337.9,44.9h0.4M331.8,56.2h0.4M350.3,42.5h0.4M344.1,58.8h0.4M338.7,43.0h0.4M341.4,53.1h0.4M350.1,50.9h0.4M335.1,59.0h0.4M342.2,59.6h0.4M335.8,60.7h0.4M332.9,52.3h0.4M344.0,53.5h0.4M343.3,50.4h0.4M340.8,59.4h0.4M344.2,54.8h0.4M349.1,59.7h0.4M334.4,55.7h0.4M332.0,56.9h0.4M344.6,50.3h0.4M344.4,51.1h0.4M351.7,51.8h0.4M339.4,57.9h0.4M345.9,45.3h0.4M349.0,52.1h0.4M340.3,60.4h0.4M348.3,59.1h0.4M334.6,51.3h0.4M346.1,61.7h0.4M351.3,38.3h0.4M348.0,57.5h0.4M335.5,47.3h0.4M348.2,50.0h0.4M347.0,54.2h0.4M340.3,41.6h0.4M328.2,54.0h0.4M349.0,49.0h0.4M348.3,48.3h0.4M346.0,57.0h0.4M334.1,54.9h0.4M349.0,56.2h0.4M347.8,52.5h0.4M345.9,48.5h0.4M341.5,54.4h0.4M345.3,61.9h0.4M339.8,54.0h0.4M341.1,58.2h0.4M337.8,51.5h0.4M340.5,42.9h0.4M348.7,56.3h0.4M347.3,56.1h0.4M338.2,54.4h0.4M336.3,46.0h0.4M345.7,51.4h0.4M349.5,53.4h0.4M350.7,45.5h0.4M329.8,46.4h0.4M349.0,56.2h0.4M350.3,59.0h0.4M351.6,49.4h0.4M329.7,48.6h0.4M339.0,48.4h0.4M340.3,55.7h0.4M351.0,52.4h0.4M338.9,58.8h0.4M350.4,66.6h0.4M346.4,59.8h0.4M334.3,44.2h0.4M337.1,52.3h0.4M340.2,50.4h0.4M343.6,50.7h0.4M349.0,45.5h0.4M341.9,50.4h0.4M348.4,46.3h0.4M333.6,54.8h0.4M341.0,44.3h0.4M345.8,42.5h0.4M340.8,49.9h0.4M336.9,56.7h0.4M345.5,55.7h0.4M338.6,49.8h0.4M337.9,48.3h0.4M342.8,45.4h0.4M346.7,50.2h0.4M350.3,48.8h0.4M337.5,57.0h0.4M348.7,51.6h0.4M348.1,52.5h0.4M345.9,52.0h0.4M349.1,53.9h0.4M339.6,50.3h0.4M342.6,52.7h0.4M339.9,58.9h0.4M347.5,57.8h0.4M339.1,54.6h0.4M345.4,60.8h0.4M336.4,54.1h0.4M342.3,46.9h0.4M340.8,42.2h0.4M342.3,48.6h0.4M343.8,52.4h0.4M341.9,55.2h0.4M341.7,59.2h0.4M330.6,49.3h0.4M349.6,47.9h0.4M339.3,57.4h0.4M341.5,59.8h0.4M338.0,49.9h0.4M349.0,54.8h0.4M337.6,61.0h0.4M346.0,54.7h0.4M350.1,52.4h0.4M350.1,60.7h0.4M346.7,56.6h0.4M335.8,53.5h0.4M350.7,50.0h0.4M350.1,45.3h0.4M348.0,52.2h0.4M347.8,52.1h0.4M343.5,59.4h0.4M339.9,45.5h0.4M349.5,61.4h0.4M350.7,53.0h0.4M336.8,59.9h0.4M348.5,46.9h0.4M344.5,54.8h0.4M348.4,60.1h0.4M344.7,53.4h0.4M349.7,43.9h0.4M349.2,50.8h0.4M348.4,56.0h0.4M334.8,44.3h0.4M348.0,44.1h0.4M343.4,54.2h0.4M336.3,47.0h0.4M347.3,56.9h0.4M334.9,45.7h0.4M348.4,41.7h0.4M340.1,61.7h0.4M348.6,47.6h0.4M345.8,52.7h0.4M347.0,54.2h0.4M335.0,47.1h0.4M346.7,59.3h0.4M343.9,53.8h0.4M347.5,55.4h0.4M343.2,42.7h0.4M349.7,42.2h0.4M347.2,51.6h0.4M351.3,51.4h0.4M344.2,57.1h0.4M349.1,61.7h0.4M344.5,51.2h0.4M346.3,51.2h0.4M340.0,55.5h0.4M347.8,62.0h0.4M350.4,47.8h0.4M342.7,56.5h0.4M347.9,51.3h0.4M345.7,50.8h0.4M336.6,57.7h0.4M345.3,48.0h0.4M351.0,46.4h0.4M340.3,56.8h0.4M332.6,52.6h0.4M344.4,51.2h0.4M339.4,52.0h0.4M343.0,50.6h0.4M343.2,57.4h0.4M339.5,55.3h0.4M344.7,61.7h0.4M339.9,60.4h0.4M337.9,57.9h0.4M342.8,51.6h0.4M338.4,53.5h0.4M351.0,49.2h0.4M342.8,51.5h0.4M339.1,56.1h0.4M335.1,61.0h0.4M330.8,47.8h0.4M351.8,50.4h0.4M334.9,46.8h0.4M343.7,45.2h0.4M330.7,60.6h0.4M335.1,57.1h0.4M350.9,53.0h0.4M344.2,53.0h0.4M340.0,42.8h0.4M343.0,57.0h0.4M337.5,55.4h0.4M343.9,46.3h0.4M341.0,51.7h0.4M344.0,49.7h0.4M350.3,46.9h0.4M339.8,47.2h0.4M345.0,55.6h0.4M339.9,55.0h0.4M339.4,54.7h0.4M340.9,51.7h0.4M339.5,50.4h0.4M333.0,65.1h0.4M331.5,41.6h0.4M338.9,60.0h0.4M344.0,54.9h0.4M350.4,53.2h0.4M340.1,49.8h0.4M342.2,51.5h0.4M347.1,45.7h0.4M347.6,44.5h0.4M342.5,52.1h0.4M342.9,42.9h0.4M341.2,59.5h0.4M333.7,43.5h0.4M345.8,54.5h0.4M341.7,54.1h0.4M341.2,55.4h0.4M348.0,57.3h0.4M348.7,58.0h0.4M335.5,53.0h0.4M343.3,43.1h0.4M342.6,52.0h0.4M341.4,45.5h0.4M340.9,61.2h0.4M341.2,66.8h0.4M329.5,56.1h0.4M346.2,45.0h0.4M343.6,52.2h0.4M337.6,53.0h0.4M342.8,54.0h0.4M345.4,58.6h0.4M338.5,49.9h0.4M342.3,49.5h0.4M340.0,61.4h0.4M341.8,51.3h0.4M347.5,44.6h0.4M346.6,44.9h0.4M338.9,53.2h0.4M342.4,58.3h0.4M343.7,61.9h0.4M340.8,51.8h0.4M343.0,50.0h0.4M339.0,62.6h0.4M338.9,50.1h0.4M343.5,61.6h0.4M337.2,54.3h0.4M345.6,54.3h0.4M342.1,51.4h0.4M337.8,54.6h0.4M339.6,50.1h0.4M340.4,48.8h0.4M342.3,52.1h0.4M343.9,49.0h0.4M342.0,54.7h0.4M338.1,53.4h0.4M351.6,51.3h0.4M348.5,51.7h0.4M343.8,51.5h0.4M348.7,63.3h0.4M345.1,52.8h0.4M341.7,49.3h0.4M343.7,51.1h0.4M349.0,51.7h0.4M349.3,52.0h0.4M340.9,51.3h0.4M346.7,53.8h0.4M345.7,55.5h0.4M349.4,43.0h0.4M350.5,46.5h0.4M344.5,59.5h0.4M346.1,60.7h0.4M339.5,53.7h0.4M344.9,52.6h0.4M343.8,52.1h0.4M351.3,43.6h0.4M340.3,48.2h0.4M343.1,49.3h0.4M338.6,58.4h0.4M343.3,62.8h0.4M340.9,50.0h0.4M346.3,55.1h0.4M342.4,54.5h0.4M339.7,48.2h0.4M341.5,42.5h0.4M342.5,48.3h0.4M340.2,44.2h0.4M348.6,51.0h0.4M347.1,52.0h0.4M344.0,51.8h0.4M336.3,51.8h0.4M346.2,55.7h0.4M335.7,47.3h0.4M344.2,58.2h0.4M343.4,42.8h0.4M339.7,53.2h0.4M338.3,55.2h0.4M339.1,48.1h0.4M341.6,56.7h0.4M342.0,48.8h0.4M348.7,57.5h0.4M345.6,57.4h0.4M349.3,52.8h0.4M336.0,52.8h0.4M336.9,58.8h0.4M342.9,47.2h0.4M341.5,53.8h0.4M344.1,56.2h0.4M348.9,54.0h0.4M336.3,54.0h0.4M344.8,52.0h0.4M343.0,52.1h0.4M347.1,47.2h0.4M344.2,44.3h0.4M340.1,59.6h0.4M338.1,49.0h0.4M329.1,54.2h0.4M348.8,43.9h0.4M334.7,53.8h0.4M340.8,47.9h0.4M340.7,46.7h0.4M346.7,47.1h0.4M341.9,58.5h0.4M347.2,59.6h0.4M343.3,40.3h0.4M340.2,54.4h0.4M351.0,58.1h0.4M341.6,45.5h0.4M335.4,56.9h0.4M341.3,49.7h0.4M346.3,46.9h0.4M336.7,50.7h0.4M347.7,50.1h0.4M347.6,44.5h0.4M339.5,50.1h0.4M347.0,48.4h0.4M333.5,57.9h0.4M340.7,52.4h0.4M343.8,60.8h0.4M345.5,51.2h0.4M342.8,54.9h0.4M342.6,53.4h0.4M339.6,53.8h0.4M340.6,51.6h0.4M344.9,52.2h0.4M346.4,62.8h0.4M346.8,48.8h0.4M348.9,49.6h0.4M350.0,50.8h0.4M332.8,56.2h0.4M340.1,55.2h0.4M342.2,58.4h0.4M339.4,44.8h0.4M349.2,54.4h0.4M347.5,51.8h0.4M342.5,51.1h0.4M343.9,53.8h0.4M350.4,41.1h0.4M341.2,54.5h0.4M341.3,53.7h0.4M348.4,44.3h0.4M345.9,52.3h0.4M351.3,62.0h0.4M345.3,50.5h0.4M347.5,56.4h0.4M340.0,51.5h0.4M337.7,48.0h0.4M343.1,47.4h0.4M327.9,50.5h0.4M345.5,60.6h0.4M348.7,57.7h0.4M343.6,48.6h0.4M341.9,58.8h0.4M349.4,52.1h0.4M342.9,48.7h0.4M348.8,55.4h0.4M347.3,43.5h0.4M348.5,60.5h0.4M346.0,42.0h0.4M344.6,56.0h0.4M344.7,43.8h0.4M343.5,52.7h0.4M349.4,51.7h0.4M333.9,50.2h0.4M341.6,39.9h0.4M346.9,52.2h0.4M338.3,52.6h0.4M342.6,47.5h0.4M339.2,52.4h0.4M345.7,58.7h0.4M348.1,48.6h0.4M351.5,54.4h0.4M346.0,46.0h0.4M339.0,55.1h0.4M344.6,56.6h0.4M351.3,58.2h0.4M330.9,55.4h0.4M345.3,61.2h0.4M332.7,47.0h0.4M347.3,59.2h0.4M345.7,49.6h0.4M346.0,49.2h0.4M348.2,59.3h0.4M345.4,54.2h0.4M339.5,60.7h0.4M345.2,44.3h0.4M350.0,54.5h0.4M342.5,49.7h0.4M343.3,51.3h0.4M336.2,41.6h0.4M349.8,58.4h0.4M340.3,54.1h0.4M338.9,47.0h0.4M340.6,44.9h0.4M338.2,47.7h0.4M341.7,61.1h0.4M350.5,52.3h0.4M347.7,50.9h0.4M351.3,55.8h0.4M351.7,53.0h0.4M338.0,54.3h0.4M345.9,57.3h0.4M351.7,54.9h0.4M335.1,45.9h0.4M335.0,53.3h0.4M345.8,50.8h0.4M341.2,53.5h0.4M337.5,52.7h0.4M345.3,49.2h0.4M338.6,50.9h0.4M330.2,58.5h0.4M343.0,49.7h0.4M343.9,45.6h0.4M346.8,56.4h0.4M348.5,58.7h0.4M344.2,51.4h0.4M341.8,53.7h0.4M339.3,48.0h0.4M333.7,51.8h0.4M340.6,59.5h0.4M348.9,57.7h0.4M346.9,53.8h0.4M342.3,43.4h0.4M332.9,54.8h0.4M347.9,55.7h0.4M349.1,59.2h0.4M336.4,64.8h0.4M333.9,55.2h0.4M344.0,58.6h0.4M347.2,46.4h0.4M336.7,60.1h0.4M341.2,58.1h0.4M338.7,61.0h0.4M336.4,57.0h0.4M335.6,55.7h0.4M343.9,61.7h0.4M341.0,49.1h0.4M339.3,56.8h0.4M328.2,59.4h0.4M337.7,46.3h0.4M342.3,55.6h0.4M336.6,53.8h0.4M345.3,56.6h0.4M334.5,56.8h0.4M343.6,48.5h0.4M342.0,55.0h0.4M348.4,59.6h0.4M336.8,51.0h0.4M339.4,51.4h0.4M341.7,46.5h0.4M334.6,64.5h0.4M344.8,45.0h0.4M339.3,57.5h0.4M344.9,58.3h0.4M346.8,49.8h0.4M343.9,50.9h0.4M344.6,47.0h0.4M344.7,48.5h0.4M339.7,54.0h0.4M341.8,56.9h0.4M333.6,53.8h0.4M341.0,58.1h0.4M338.7,54.3h0.4M341.6,46.3h0.4M347.3,61.6h0.4M345.2,60.0h0.4M345.8,48.9h0.4M349.4,63.5h0.4M329.4,55.8h0.4M345.5,53.9h0.4M342.9,64.3h0.4M342.5,38.5h0.4M335.6,43.7h0.4M346.2,57.3h0.4M349.6,51.7h0.4M348.9,47.6h0.4M342.6,61.9h0.4M346.7,56.0h0.4M348.3,45.7h0.4M350.1,58.1h0.4M343.9,63.6h0.4M343.6,41.4h0.4M344.0,54.6h0.4M344.3,50.9h0.4M340.2,42.9h0.4M347.5,52.2h0.4M339.1,43.8h0.4M338.4,50.0h0.4M345.1,62.6h0.4M339.7,56.2h0.4M341.6,57.7h0.4M331.1,56.7h0.4M347.6,55.2h0.4M343.0,58.9h0.4M342.3,46.4h0.4M345.7,51.1h0.4M344.2,58.2h0.4M339.0,48.9h0.4M340.4,60.3h0.4M348.6,62.2h0.4M339.5,48.4h0.4M343.6,56.6h0.4M338.3,54.8h0.4M349.0,49.3h0.4M341.1,56.7h0.4M336.7,56.5h0.4M350.6,53.7h0.4M337.9,61.2h0.4M349.8,58.0h0.4M344.1,59.2h0.4M339.8,49.0h0.4M341.5,55.1h0.4M338.0,53.7h0.4M343.8,49.9h0.4M343.3,54.8h0.4M347.2,54.7h0.4M343.5,52.9h0.4M334.6,50.4h0.4M338.4,58.1h0.4M351.1,43.9h0.4M349.6,58.1h0.4M342.1,53.3h0.4M342.2,54.9h0.4M342.0,39.3h0.4M343.1,63.1h0.4M333.4,43.1h0.4M348.1,48.2h0.4M339.2,57.0h0.4M343.8,49.7h0.4M328.5,50.9h0.4M344.3,40.2h0.4M350.7,50.7h0.4M330.2,54.5h0.4M351.7,57.2h0.4M345.7,51.6h0.4M338.8,54.5h0.4M333.9,55.8h0.4M349.7,49.3h0.4M344.5,48.9h0.4M346.4,64.8h0.4M341.4,48.3h0.4M338.4,60.5h0.4" stroke="#555" stroke-width="0.44" opacity="0.75"/>
<path d="M347.3,56.2h0.4M351.5,66.0h0.4M345.3,58.4h0.4M348.7,53.9h0.4M348.1,56.5h0.4M346.5,52.2h0.4M348.0,58.4h0.4M344.9,62.8h0.4M346.9,53.3h0.4M346.0,62.9h0.4M349.4,66.8h0.4M346.9,59.9h0.4M343.0,53.7h0.4M346.0,55.0h0.4M346.8,57.0h0.4M344.5,53.2h0.4M351.0,53.4h0.4M348.3,57.3h0.4M349.6,57.7h0.4M344.9,60.8h0.4M346.0,53.6h0.4M350.1,65.9h0.4M342.9,62.6h0.4M348.2,61.9h0.4M347.4,55.8h0.4M345.7,65.3h0.4M347.4,57.0h0.4M344.0,65.6h0.4M347.8,62.7h0.4M343.6,54.8h0.4M343.4,56.6h0.4M351.3,65.9h0.4M345.1,62.4h0.4M340.9,57.8h0.4M350.0,59.2h0.4M344.9,59.2h0.4M336.8,55.3h0.4M347.0,57.6h0.4M349.9,55.7h0.4M348.2,56.7h0.4M346.8,54.5h0.4M348.9,61.3h0.4M344.2,58.8h0.4M347.6,61.4h0.4M351.7,61.9h0.4M348.6,63.4h0.4M347.6,60.9h0.4M341.3,61.2h0.4M346.0,57.7h0.4M343.3,60.7h0.4M349.4,54.8h0.4M345.0,57.4h0.4M348.2,61.4h0.4M344.2,58.2h0.4M343.7,54.1h0.4M347.5,63.9h0.4M347.8,60.0h0.4M344.6,58.3h0.4M349.0,62.1h0.4M350.1,56.8h0.4M349.7,54.4h0.4M341.3,50.8h0.4M347.8,57.2h0.4M340.9,53.6h0.4M347.4,64.2h0.4M345.8,49.5h0.4M349.1,53.2h0.4M348.6,59.6h0.4M343.6,63.3h0.4M351.9,59.6h0.4M346.4,59.7h0.4M341.9,60.4h0.4M351.3,60.7h0.4M351.7,65.0h0.4M350.9,60.8h0.4M348.8,53.4h0.4M344.5,56.5h0.4M349.9,59.2h0.4M349.6,57.3h0.4M351.9,56.3h0.4M344.8,55.6h0.4M350.2,61.2h0.4M349.9,56.8h0.4M342.7,54.0h0.4M342.3,55.5h0.4M345.0,58.5h0.4M347.4,66.9h0.4M348.5,59.4h0.4M346.5,64.3h0.4M347.0,60.4h0.4M346.8,49.7h0.4M347.4,59.9h0.4M348.9,55.0h0.4M348.6,52.9h0.4M347.0,54.0h0.4M347.9,65.6h0.4M345.8,52.0h0.4M349.5,55.9h0.4M345.7,63.0h0.4M347.1,51.5h0.4M348.0,57.9h0.4M344.9,56.3h0.4M346.1,57.6h0.4M347.6,61.4h0.4M347.2,56.1h0.4M345.3,57.1h0.4M343.7,64.2h0.4M347.3,51.0h0.4M347.6,56.9h0.4M348.8,60.3h0.4M350.9,53.4h0.4M346.2,55.8h0.4M341.2,53.1h0.4M346.7,59.0h0.4M341.7,55.9h0.4M343.3,61.5h0.4M350.2,62.5h0.4M348.8,58.6h0.4M345.2,56.8h0.4M345.3,59.4h0.4M346.9,58.6h0.4M341.9,53.5h0.4M348.6,62.7h0.4M346.1,59.3h0.4M344.0,52.9h0.4M350.2,61.9h0.4M345.1,66.9h0.4M350.2,60.8h0.4M344.2,52.5h0.4M349.4,58.5h0.4M345.9,58.1h0.4M344.7,59.2h0.4M346.7,57.4h0.4M348.6,60.4h0.4M348.4,56.5h0.4M351.9,59.3h0.4M349.6,55.6h0.4M339.3,58.8h0.4M346.0,62.4h0.4M341.2,56.4h0.4M346.0,61.0h0.4M349.0,54.8h0.4M343.2,56.9h0.4M343.6,57.4h0.4M347.6,63.4h0.4M346.3,55.3h0.4M351.9,63.3h0.4M348.1,52.4h0.4M348.8,57.7h0.4M345.7,61.2h0.4M347.2,54.3h0.4M344.2,53.4h0.4M347.9,61.9h0.4M350.3,53.3h0.4M351.3,60.7h0.4M347.1,56.2h0.4M345.0,58.3h0.4M343.0,64.6h0.4M347.5,61.7h0.4M351.2,52.8h0.4M340.1,59.6h0.4M340.7,58.6h0.4M351.4,57.9h0.4M342.4,63.7h0.4M348.2,51.4h0.4M343.4,59.6h0.4M349.5,58.8h0.4M349.5,55.3h0.4M347.7,65.3h0.4M349.7,53.2h0.4M347.3,58.4h0.4M348.9,58.7h0.4M350.5,52.5h0.4M345.2,54.4h0.4M344.8,61.5h0.4M346.5,62.2h0.4M346.5,60.7h0.4M347.4,59.3h0.4M345.4,49.4h0.4M349.2,59.2h0.4M347.3,56.2h0.4M348.3,63.1h0.4M347.2,63.8h0.4M343.6,61.2h0.4M351.9,61.6h0.4M348.2,54.1h0.4M348.6,58.6h0.4M349.0,53.3h0.4M350.5,62.0h0.4M349.4,53.5h0.4M347.9,57.4h0.4M346.7,55.0h0.4M342.3,56.4h0.4M347.9,60.2h0.4M346.3,56.0h0.4M346.3,59.2h0.4M341.6,64.0h0.4M347.4,55.7h0.4M350.9,62.4h0.4M350.1,67.0h0.4M350.9,48.4h0.4M343.4,54.3h0.4M344.3,57.5h0.4M349.1,63.1h0.4M346.3,56.3h0.4M347.9,55.3h0.4M347.8,60.6h0.4M348.6,53.4h0.4M346.4,61.7h0.4M347.6,46.2h0.4M345.2,50.6h0.4M347.1,65.7h0.4M345.8,59.0h0.4M348.0,54.7h0.4M342.8,62.6h0.4M348.6,62.9h0.4M347.9,56.6h0.4M344.4,60.8h0.4M346.6,60.4h0.4M344.1,51.5h0.4M342.6,57.5h0.4M344.8,63.6h0.4M348.5,55.7h0.4M346.5,55.8h0.4M346.1,59.1h0.4M350.1,61.0h0.4M349.7,56.6h0.4M346.4,57.8h0.4M344.5,60.8h0.4M351.5,63.0h0.4M347.7,59.3h0.4M346.4,54.7h0.4M348.1,51.1h0.4M347.5,61.6h0.4M350.9,56.9h0.4M344.4,56.9h0.4M347.3,57.1h0.4M344.9,51.9h0.4M351.2,56.7h0.4M347.0,56.6h0.4M348.9,54.6h0.4M351.5,65.8h0.4M346.4,60.1h0.4M344.5,57.4h0.4M350.4,58.9h0.4M348.8,61.3h0.4M346.6,55.2h0.4M351.7,57.3h0.4M348.0,56.8h0.4M348.3,58.6h0.4M347.1,50.2h0.4M346.7,54.3h0.4M348.0,58.0h0.4M343.0,62.4h0.4M347.6,55.9h0.4M346.3,57.2h0.4M351.5,53.2h0.4M343.9,49.5h0.4M344.4,63.0h0.4M344.7,53.5h0.4M345.3,59.8h0.4M345.2,59.6h0.4M347.4,55.6h0.4M350.5,58.5h0.4M343.4,57.9h0.4M342.7,56.2h0.4M341.8,58.5h0.4M350.6,58.5h0.4M351.3,54.1h0.4M342.7,52.9h0.4M342.4,54.8h0.4M347.7,58.7h0.4M350.6,63.9h0.4M350.3,64.3h0.4M347.9,59.5h0.4M349.3,62.1h0.4M348.3,58.8h0.4" stroke="#444" stroke-width="0.44" opacity="0.8"/>
<path d="M350.8,50.9h0.4M346.8,47.8h0.4M347.9,53.6h0.4M345.1,40.9h0.4M346.2,56.0h0.4M341.3,42.9h0.4M346.2,61.4h0.4M343.8,56.1h0.4M350.2,58.3h0.4M344.9,48.1h0.4M348.8,54.5h0.4M348.8,59.7h0.4M339.3,36.3h0.4M345.2,50.1h0.4M346.0,49.1h0.4M336.7,57.2h0.4M349.0,49.7h0.4M348.0,40.9h0.4M347.2,48.6h0.4M341.8,42.6h0.4M343.3,44.4h0.4M343.6,50.3h0.4M348.2,46.6h0.4M342.1,52.0h0.4M337.2,59.0h0.4M346.9,40.7h0.4M346.6,43.8h0.4M338.6,48.3h0.4M347.0,66.0h0.4M336.0,59.4h0.4M342.0,46.2h0.4M344.8,50.1h0.4M342.2,58.7h0.4M350.1,52.4h0.4M346.0,45.3h0.4M347.1,41.6h0.4M348.8,49.1h0.4M341.7,57.1h0.4M349.5,40.3h0.4M337.4,38.5h0.4M343.6,63.0h0.4M343.4,46.9h0.4M349.2,55.2h0.4M349.3,63.3h0.4M347.7,39.6h0.4M348.4,42.5h0.4M345.9,48.0h0.4M338.2,49.1h0.4M336.6,51.6h0.4M336.6,57.6h0.4M346.0,59.5h0.4M345.2,50.8h0.4M345.6,47.6h0.4M347.1,49.7h0.4M345.2,52.2h0.4M342.0,59.4h0.4M339.9,51.0h0.4M338.2,63.0h0.4M349.9,53.8h0.4M340.5,62.6h0.4M345.0,59.2h0.4M348.0,52.4h0.4M343.6,44.9h0.4M346.9,48.9h0.4M351.0,52.2h0.4M338.9,48.2h0.4M343.1,39.6h0.4M346.0,44.7h0.4M343.1,53.7h0.4M349.8,40.0h0.4M347.0,47.4h0.4M342.1,38.0h0.4M349.8,46.0h0.4M344.0,50.5h0.4M344.3,47.5h0.4M340.0,45.8h0.4M345.8,41.3h0.4M349.7,36.7h0.4M350.3,49.7h0.4M348.5,48.0h0.4M349.6,60.6h0.4M343.7,38.3h0.4M344.2,53.1h0.4M342.8,54.7h0.4M348.2,38.5h0.4M349.6,53.7h0.4M349.1,60.6h0.4M346.6,50.0h0.4M344.0,52.1h0.4M347.8,45.0h0.4M346.7,58.1h0.4M343.3,48.7h0.4M347.5,49.0h0.4M341.0,52.8h0.4M347.1,55.9h0.4M344.9,38.3h0.4M350.1,50.4h0.4M346.5,45.1h0.4M350.5,53.6h0.4M345.2,52.2h0.4M342.6,59.2h0.4M348.0,42.9h0.4M345.7,47.1h0.4M346.7,42.9h0.4M343.6,50.4h0.4M348.4,50.7h0.4M346.4,48.6h0.4M337.1,41.3h0.4M345.1,49.5h0.4M347.5,46.9h0.4M343.7,48.1h0.4M342.8,58.3h0.4M350.9,51.7h0.4M343.6,36.7h0.4M346.5,48.8h0.4M348.1,39.8h0.4M349.2,56.9h0.4M346.1,60.3h0.4M341.5,49.8h0.4M350.3,53.2h0.4M344.3,39.7h0.4M349.7,48.2h0.4M341.7,39.2h0.4M344.1,50.7h0.4M345.1,52.2h0.4M343.0,54.6h0.4M338.1,61.1h0.4M349.4,55.8h0.4M349.3,47.4h0.4M347.1,50.8h0.4M344.4,54.3h0.4M347.0,42.5h0.4M348.7,59.5h0.4M341.8,56.5h0.4M344.7,48.4h0.4M343.8,45.4h0.4M347.2,56.0h0.4M340.7,56.8h0.4M343.5,62.9h0.4M342.0,51.5h0.4M346.7,55.1h0.4M343.5,43.5h0.4M345.8,39.0h0.4M344.3,53.1h0.4M341.2,54.0h0.4M345.1,38.9h0.4M349.5,63.8h0.4M348.9,41.8h0.4M340.6,57.5h0.4M345.0,52.3h0.4M341.7,45.3h0.4M343.5,57.5h0.4M343.7,63.0h0.4M343.4,55.7h0.4M345.7,55.1h0.4M344.0,51.2h0.4M339.0,48.4h0.4M348.2,54.5h0.4M343.9,51.3h0.4M348.3,40.3h0.4M348.6,47.9h0.4M346.8,54.5h0.4M344.7,52.6h0.4M341.9,49.1h0.4M347.5,42.7h0.4M344.5,44.8h0.4M346.9,48.1h0.4M344.3,48.3h0.4M348.9,42.4h0.4M344.4,55.1h0.4M350.6,46.9h0.4M343.2,49.3h0.4M349.1,60.7h0.4M348.5,54.4h0.4M345.1,51.0h0.4M338.3,57.1h0.4M348.8,45.8h0.4M345.4,46.8h0.4M343.3,45.8h0.4M344.0,58.5h0.4M340.9,49.1h0.4M348.3,57.9h0.4M349.0,47.9h0.4M348.5,57.1h0.4M340.9,49.4h0.4M342.9,48.2h0.4M340.1,50.1h0.4M339.4,51.4h0.4M340.5,46.1h0.4M339.5,40.4h0.4M345.3,62.4h0.4M347.8,47.4h0.4M348.6,37.2h0.4M346.0,45.8h0.4M348.4,60.0h0.4M344.8,38.5h0.4M346.2,47.9h0.4M344.7,37.0h0.4M343.8,58.2h0.4M346.2,52.9h0.4M341.4,52.6h0.4M350.3,60.0h0.4M339.6,62.1h0.4M347.9,57.7h0.4M340.4,46.1h0.4M349.6,42.8h0.4M342.7,37.7h0.4M344.2,63.3h0.4M341.4,48.9h0.4M345.8,51.2h0.4M347.7,51.7h0.4M340.4,46.2h0.4M343.6,52.5h0.4M347.1,49.2h0.4M349.6,36.5h0.4M348.2,56.9h0.4M347.7,44.9h0.4M345.2,47.0h0.4M346.0,51.9h0.4M346.6,51.0h0.4M350.9,58.4h0.4M340.0,45.5h0.4M344.0,51.5h0.4M340.9,52.3h0.4M342.0,50.5h0.4M342.7,55.2h0.4M350.5,48.5h0.4M341.1,39.9h0.4M346.3,50.0h0.4M341.3,58.8h0.4M347.8,46.6h0.4M348.4,47.8h0.4M349.6,51.5h0.4M345.4,49.0h0.4M337.9,52.5h0.4M337.8,37.9h0.4M345.6,61.1h0.4M348.4,54.5h0.4M344.6,60.2h0.4M346.3,53.5h0.4M347.1,60.9h0.4M350.4,41.8h0.4M345.7,62.3h0.4M341.5,50.6h0.4M347.7,55.7h0.4M347.6,48.1h0.4M340.8,43.0h0.4M346.0,48.7h0.4M338.9,36.3h0.4M337.8,54.5h0.4M345.0,48.7h0.4M344.2,48.4h0.4M348.3,60.5h0.4M345.9,45.5h0.4M343.6,49.9h0.4M349.1,58.0h0.4M340.8,46.1h0.4M346.5,42.8h0.4M344.7,56.9h0.4M345.1,50.7h0.4M348.4,50.1h0.4M338.3,65.3h0.4M346.5,41.5h0.4M342.7,51.7h0.4M346.5,37.5h0.4M347.6,48.1h0.4M344.5,54.5h0.4M344.5,58.4h0.4M341.3,41.1h0.4M348.3,56.3h0.4M343.2,55.9h0.4M347.8,49.4h0.4M341.8,43.9h0.4M350.7,53.4h0.4M344.2,36.9h0.4M348.2,61.5h0.4M345.4,57.4h0.4M348.8,47.4h0.4M346.0,54.7h0.4M348.8,64.2h0.4M348.8,45.9h0.4M346.3,39.0h0.4M339.9,49.0h0.4M348.0,53.2h0.4M345.2,47.1h0.4M344.0,58.9h0.4M346.2,48.9h0.4M347.0,52.0h0.4M338.2,57.1h0.4M348.1,40.9h0.4M341.9,43.6h0.4M346.0,42.8h0.4M339.5,48.5h0.4M346.7,46.2h0.4M346.7,41.4h0.4M349.0,47.3h0.4M344.8,50.1h0.4M341.1,50.2h0.4M345.4,54.2h0.4M342.2,37.8h0.4M343.1,56.0h0.4M343.3,47.1h0.4M345.8,59.1h0.4M340.9,52.5h0.4M344.2,40.1h0.4M345.4,54.2h0.4M344.0,43.0h0.4M345.0,52.2h0.4M347.8,65.5h0.4M340.5,49.8h0.4M344.2,55.3h0.4M349.1,52.5h0.4M343.3,56.0h0.4M345.9,47.5h0.4M348.2,52.4h0.4M345.3,53.7h0.4M345.4,44.9h0.4M342.5,56.2h0.4M347.5,58.2h0.4M342.2,50.8h0.4M345.9,47.7h0.4M345.1,51.3h0.4M349.2,58.8h0.4M345.7,61.1h0.4M346.4,46.9h0.4M345.8,43.6h0.4M343.0,44.6h0.4M342.2,57.4h0.4M343.1,51.9h0.4M350.6,52.4h0.4M343.4,53.8h0.4M344.3,53.0h0.4M344.2,49.4h0.4M348.9,42.8h0.4M342.2,51.2h0.4M348.2,53.1h0.4" stroke="#555" stroke-width="0.44" opacity="0.8"/>
<path d="M327.3,39.1h0.4M341.6,37.5h0.4M326.5,36.6h0.4M332.2,56.9h0.4M327.7,53.5h0.4M323.3,36.3h0.4M317.9,58.6h0.4M325.9,50.4h0.4M323.6,43.8h0.4M337.3,50.6h0.4M320.9,47.7h0.4M327.0,39.8h0.4M329.4,38.8h0.4M334.4,45.0h0.4M337.2,42.6h0.4M316.7,40.0h0.4M327.0,51.8h0.4M322.5,37.7h0.4M341.4,51.2h0.4M329.4,41.7h0.4M334.4,45.8h0.4M344.2,37.3h0.4M327.4,45.0h0.4M330.9,39.7h0.4M333.7,33.0h0.4M328.1,44.9h0.4M340.6,44.7h0.4M337.0,50.8h0.4M338.5,47.0h0.4M330.7,38.1h0.4M327.5,40.8h0.4M327.4,37.3h0.4M316.9,54.0h0.4M333.3,55.5h0.4M337.0,50.3h0.4M330.2,47.1h0.4M326.3,49.1h0.4M330.6,48.4h0.4M332.2,33.1h0.4M333.0,39.0h0.4M345.0,53.2h0.4M323.3,53.2h0.4M333.3,46.7h0.4M335.9,42.9h0.4M331.0,42.4h0.4M328.4,41.3h0.4M322.0,38.6h0.4M336.1,46.1h0.4M342.1,41.9h0.4M325.0,43.6h0.4M334.1,56.9h0.4M334.5,49.1h0.4M338.5,40.2h0.4M332.3,49.1h0.4M333.9,34.6h0.4M337.6,52.3h0.4M320.9,46.9h0.4M330.7,43.7h0.4M323.6,41.8h0.4M317.8,38.2h0.4M334.4,59.7h0.4M338.4,45.1h0.4M327.8,55.4h0.4M329.2,40.4h0.4M328.4,47.7h0.4M328.2,40.6h0.4M331.4,49.4h0.4M333.1,43.1h0.4M326.6,40.4h0.4M323.9,55.8h0.4M326.1,47.4h0.4M326.9,43.4h0.4M342.0,38.7h0.4M328.3,36.6h0.4M341.3,41.0h0.4M320.6,41.7h0.4M324.7,45.3h0.4M334.1,39.5h0.4M329.0,41.3h0.4M346.7,51.1h0.4M330.9,35.6h0.4M332.6,49.3h0.4M325.7,48.2h0.4M343.6,41.9h0.4M337.2,47.2h0.4M333.6,39.8h0.4M317.1,42.2h0.4M333.2,37.9h0.4M326.5,48.2h0.4M333.4,54.5h0.4M337.6,40.3h0.4M324.2,53.3h0.4M337.3,38.9h0.4M331.6,38.0h0.4M327.6,57.0h0.4M321.7,40.9h0.4M324.9,50.4h0.4M338.2,45.8h0.4M331.1,48.9h0.4M320.5,44.8h0.4M319.9,46.2h0.4M340.0,54.2h0.4M339.7,47.8h0.4M318.4,33.2h0.4M324.5,43.6h0.4M331.9,51.3h0.4M327.2,39.3h0.4M323.4,48.9h0.4M326.1,41.7h0.4M328.3,45.6h0.4M325.8,50.3h0.4M331.9,40.1h0.4M328.4,65.0h0.4M324.1,46.1h0.4M330.4,47.4h0.4M316.9,39.8h0.4M341.8,45.4h0.4M316.3,43.1h0.4M329.6,34.8h0.4M333.0,34.3h0.4M333.6,47.0h0.4M332.3,44.4h0.4M329.7,42.8h0.4M331.4,44.5h0.4M326.3,49.2h0.4M325.5,36.3h0.4M340.5,49.1h0.4M324.5,42.8h0.4M326.4,41.5h0.4M328.0,44.0h0.4M328.5,51.9h0.4M331.5,48.9h0.4M328.6,51.2h0.4M333.2,40.2h0.4M331.3,43.0h0.4M334.1,36.9h0.4M341.2,41.1h0.4M323.5,42.2h0.4M343.4,41.7h0.4M326.6,50.0h0.4M335.5,48.0h0.4M331.5,50.3h0.4M327.8,45.9h0.4M343.1,45.8h0.4M324.2,51.8h0.4M323.9,48.5h0.4M338.7,50.1h0.4M330.8,44.5h0.4M345.4,36.3h0.4M343.6,34.9h0.4M335.8,58.7h0.4M332.2,47.7h0.4M336.3,48.1h0.4M319.7,43.8h0.4M331.6,41.8h0.4M331.4,65.1h0.4M326.4,37.2h0.4M332.2,44.6h0.4M318.5,44.6h0.4M337.4,37.1h0.4M340.4,36.1h0.4M319.9,40.1h0.4M331.3,42.6h0.4M342.5,41.6h0.4M333.5,50.7h0.4M322.0,36.7h0.4M322.3,47.8h0.4M337.0,55.3h0.4M344.8,51.3h0.4M321.5,37.0h0.4M324.0,50.9h0.4M327.9,48.5h0.4M332.6,40.9h0.4M329.8,54.0h0.4M324.7,42.2h0.4M346.9,45.8h0.4M328.9,37.7h0.4M328.7,47.2h0.4M339.0,42.0h0.4M330.3,41.5h0.4M328.6,52.6h0.4M337.7,46.5h0.4M321.9,34.5h0.4M336.1,49.8h0.4M338.3,50.9h0.4M335.4,39.2h0.4M328.7,42.2h0.4M330.1,45.4h0.4M316.5,43.3h0.4M329.1,45.9h0.4M332.5,49.5h0.4M337.0,41.6h0.4M331.3,59.6h0.4M327.1,40.0h0.4M323.5,41.2h0.4M329.8,58.8h0.4M331.2,61.7h0.4M339.7,45.3h0.4M330.2,43.7h0.4M326.2,37.5h0.4M329.3,53.0h0.4M326.3,46.2h0.4M328.3,39.1h0.4M317.5,54.6h0.4M320.7,49.8h0.4M333.8,60.5h0.4M329.5,53.1h0.4M331.3,48.1h0.4M339.4,44.8h0.4M321.9,48.9h0.4M339.2,53.5h0.4M333.2,51.0h0.4M324.5,52.4h0.4M341.9,46.6h0.4M318.9,50.4h0.4M321.2,53.5h0.4M328.5,43.8h0.4M333.3,35.9h0.4M328.6,57.1h0.4M327.8,41.9h0.4M329.5,46.6h0.4M350.3,43.3h0.4M341.0,33.1h0.4M331.1,43.7h0.4M321.5,35.0h0.4M332.8,46.4h0.4M320.9,44.2h0.4M331.7,52.9h0.4M333.0,44.2h0.4M327.0,47.6h0.4M332.1,42.9h0.4M327.5,42.3h0.4M325.6,35.2h0.4M342.3,51.9h0.4M334.7,46.2h0.4M327.7,40.9h0.4M324.1,46.5h0.4M331.5,42.1h0.4M334.6,39.9h0.4M336.9,46.7h0.4M341.8,53.5h0.4M333.8,43.1h0.4M321.3,35.0h0.4M346.2,40.7h0.4M339.3,57.6h0.4M336.7,39.3h0.4M340.7,53.3h0.4M318.4,43.3h0.4M327.2,50.2h0.4M326.1,44.3h0.4M339.5,34.0h0.4M320.8,42.1h0.4M327.6,59.8h0.4M342.1,44.1h0.4M335.2,49.0h0.4M327.1,42.6h0.4M345.0,44.1h0.4M319.6,47.3h0.4M333.7,48.3h0.4M328.3,60.5h0.4M334.1,44.9h0.4M327.9,43.7h0.4M323.5,40.4h0.4M331.8,35.8h0.4M319.7,33.7h0.4M334.3,49.6h0.4M337.4,54.9h0.4M326.6,51.0h0.4M324.8,42.9h0.4M333.3,36.9h0.4M339.8,45.2h0.4M331.0,52.9h0.4M335.0,39.8h0.4M318.9,42.4h0.4M323.2,44.6h0.4M335.2,43.1h0.4M323.6,40.6h0.4M325.1,33.0h0.4M343.6,33.5h0.4M322.7,40.3h0.4" stroke="#777" stroke-width="0.44" opacity="0.7"/>
<path d="M315.88,74.83 Q312.97,73.03 316.95,71.12 Q320.92,69.21 325.80,67.73 Q330.67,66.25 337.99,66.56 Q345.30,66.88 351.82,67.41 Q358.34,67.94 360.40,70.12 Q362.47,72.29 361.57,74.51 Q360.67,76.74 355.63,77.43 Q350.60,78.12 340.64,78.12 Q330.67,78.12 324.74,77.38 Q318.80,76.63 315.88,74.83 Z" fill="#d8d8d8" stroke="#999" stroke-width="0.5"/>
<path d="M318.39,74.59 Q315.77,72.97 319.34,71.27 Q322.90,69.56 327.27,68.22 Q331.64,66.89 338.19,67.18 Q344.75,67.47 350.59,67.94 Q356.44,68.42 358.29,70.36 Q360.14,72.31 359.33,74.31 Q358.52,76.30 354.01,76.92 Q349.50,77.53 340.57,77.53 Q331.64,77.53 326.32,76.87 Q321.00,76.21 318.39,74.59 Z" fill="#e4e4e4" stroke="#555" stroke-width="0.55"/>
<path d="M322.69,74.22 Q320.55,72.89 323.48,71.49 Q326.40,70.08 329.99,68.99 Q333.58,67.90 338.96,68.13 Q344.34,68.37 349.14,68.76 Q353.93,69.15 355.46,70.75 Q356.98,72.34 356.31,73.98 Q355.65,75.62 351.94,76.13 Q348.24,76.63 340.91,76.63 Q333.58,76.63 329.21,76.09 Q324.84,75.54 322.69,74.22 Z" fill="#eee" stroke="#999" stroke-width="0.4"/>
<path d="M329.29,73.71 Q327.77,72.78 329.84,71.78 Q331.90,70.80 334.43,70.03 Q336.96,69.25 340.75,69.42 Q344.55,69.59 347.93,69.86 Q351.31,70.14 352.39,71.26 Q353.46,72.39 352.99,73.55 Q352.52,74.70 349.91,75.06 Q347.30,75.41 342.13,75.41 Q336.96,75.41 333.88,75.03 Q330.80,74.65 329.29,73.71 Z" fill="#f8f8f8" stroke="#bbb" stroke-width="0.3"/>
<path d="M313,77 L320,70.5 L328,64 L336,60" fill="none" stroke="#777" stroke-width="0.9" opacity="0.6"/>
<ellipse cx="310.6" cy="71.7" rx="1.0" ry="1.8" fill="#111"/>
<rect x="349.50" y="42.00" width="11.50" height="17.20" fill="none" stroke="#666" stroke-width="0.5"/>
<ellipse cx="355.3" cy="51.8" rx="3.3" ry="7.4" fill="#ddd" stroke="#555" stroke-width="0.6"/>
<ellipse cx="355.5" cy="52.6" rx="2.0" ry="5.6" fill="#f6f6f6" stroke="#999" stroke-width="0.4"/>
<text x="303.60" y="55.40" font-size="7.8" fill="#2a2a2a" stroke="#2a2a2a" stroke-width="0.07" text-anchor="middle" textLength="15.60" lengthAdjust="spacingAndGlyphs" transform="rotate(-90 303.60 55.40)">Sca-1</text>
<text x="340.00" y="94.00" font-size="8.2" fill="#2a2a2a" stroke="#2a2a2a" stroke-width="0.07" text-anchor="middle" textLength="6.80" lengthAdjust="spacingAndGlyphs">Kit</text>
<line x1="364.50" y1="36.50" x2="388.00" y2="36.50" stroke="#333" stroke-width="1.1"/>
<path d="M387.4,34.6 L392.2,36.4 L387.4,38.2 Z" fill="#111" stroke="none" stroke-width="1"/>
<line x1="385.20" y1="25.90" x2="442.70" y2="25.90" stroke="#e2e2e2" stroke-width="0.5"/>
<line x1="442.70" y1="25.90" x2="442.70" y2="82.50" stroke="#e2e2e2" stroke-width="0.5"/>
<line x1="385.20" y1="25.90" x2="385.20" y2="82.50" stroke="#9a9a9a" stroke-width="0.5"/>
<line x1="385.20" y1="82.50" x2="442.70" y2="82.50" stroke="#9a9a9a" stroke-width="0.5"/>
<line x1="384.30" y1="77.78" x2="385.20" y2="77.78" stroke="#888" stroke-width="0.35"/>
<line x1="384.30" y1="73.07" x2="385.20" y2="73.07" stroke="#888" stroke-width="0.35"/>
<line x1="384.30" y1="68.35" x2="385.20" y2="68.35" stroke="#888" stroke-width="0.35"/>
<line x1="384.30" y1="63.63" x2="385.20" y2="63.63" stroke="#888" stroke-width="0.35"/>
<line x1="384.30" y1="58.92" x2="385.20" y2="58.92" stroke="#888" stroke-width="0.35"/>
<line x1="384.30" y1="54.20" x2="385.20" y2="54.20" stroke="#888" stroke-width="0.35"/>
<line x1="384.30" y1="49.48" x2="385.20" y2="49.48" stroke="#888" stroke-width="0.35"/>
<line x1="384.30" y1="44.77" x2="385.20" y2="44.77" stroke="#888" stroke-width="0.35"/>
<line x1="384.30" y1="40.05" x2="385.20" y2="40.05" stroke="#888" stroke-width="0.35"/>
<line x1="384.30" y1="35.33" x2="385.20" y2="35.33" stroke="#888" stroke-width="0.35"/>
<line x1="384.30" y1="30.62" x2="385.20" y2="30.62" stroke="#888" stroke-width="0.35"/>
<line x1="388.79" y1="82.50" x2="388.79" y2="83.40" stroke="#888" stroke-width="0.35"/>
<line x1="392.39" y1="82.50" x2="392.39" y2="83.40" stroke="#888" stroke-width="0.35"/>
<line x1="395.98" y1="82.50" x2="395.98" y2="83.40" stroke="#888" stroke-width="0.35"/>
<line x1="399.57" y1="82.50" x2="399.57" y2="83.40" stroke="#888" stroke-width="0.35"/>
<line x1="403.17" y1="82.50" x2="403.17" y2="83.40" stroke="#888" stroke-width="0.35"/>
<line x1="406.76" y1="82.50" x2="406.76" y2="83.40" stroke="#888" stroke-width="0.35"/>
<line x1="410.36" y1="82.50" x2="410.36" y2="83.40" stroke="#888" stroke-width="0.35"/>
<line x1="413.95" y1="82.50" x2="413.95" y2="83.40" stroke="#888" stroke-width="0.35"/>
<line x1="417.54" y1="82.50" x2="417.54" y2="83.40" stroke="#888" stroke-width="0.35"/>
<line x1="421.14" y1="82.50" x2="421.14" y2="83.40" stroke="#888" stroke-width="0.35"/>
<line x1="424.73" y1="82.50" x2="424.73" y2="83.40" stroke="#888" stroke-width="0.35"/>
<line x1="428.32" y1="82.50" x2="428.32" y2="83.40" stroke="#888" stroke-width="0.35"/>
<line x1="431.92" y1="82.50" x2="431.92" y2="83.40" stroke="#888" stroke-width="0.35"/>
<line x1="435.51" y1="82.50" x2="435.51" y2="83.40" stroke="#888" stroke-width="0.35"/>
<line x1="439.11" y1="82.50" x2="439.11" y2="83.40" stroke="#888" stroke-width="0.35"/>
<rect x="385.40" y="82.00" width="13.00" height="1.00" fill="#333"/>
<ellipse cx="385.3" cy="69.7" rx="0.7" ry="1.1" fill="#111"/>
<ellipse cx="402.3" cy="53.4" rx="11.10" ry="6.60" transform="rotate(8 402.3 53.4)" fill="#e4e4e4" stroke="#555" stroke-width="0.6"/>
<ellipse cx="402.3" cy="53.4" rx="9.10" ry="5.41" transform="rotate(8 402.3 53.4)" fill="#dadada" stroke="#888" stroke-width="0.4"/>
<ellipse cx="402.3" cy="53.4" rx="6.88" ry="4.09" transform="rotate(8 402.3 53.4)" fill="#d2d2d2" stroke="#999" stroke-width="0.35"/>
<ellipse cx="402.3" cy="53.4" rx="4.44" ry="2.64" transform="rotate(8 402.3 53.4)" fill="#dedede" stroke="#aaa" stroke-width="0.3"/>
<ellipse cx="415.7" cy="65" rx="6.90" ry="12.40" transform="rotate(12 415.7 65)" fill="#e4e4e4" stroke="#555" stroke-width="0.6"/>
<ellipse cx="415.7" cy="65" rx="5.66" ry="10.17" transform="rotate(12 415.7 65)" fill="#dadada" stroke="#888" stroke-width="0.4"/>
<ellipse cx="415.7" cy="65" rx="4.28" ry="7.69" transform="rotate(12 415.7 65)" fill="#d0d0d0" stroke="#999" stroke-width="0.35"/>
<ellipse cx="415.7" cy="65" rx="2.76" ry="4.96" transform="rotate(12 415.7 65)" fill="#dcdcdc" stroke="#aaa" stroke-width="0.3"/>
<ellipse cx="415.7" cy="65" rx="1.38" ry="2.48" transform="rotate(12 415.7 65)" fill="#f0f0f0" stroke="#bbb" stroke-width="0.3"/>
<text x="404.00" y="39.00" font-size="6.8" fill="#2e2e2e" stroke="#2e2e2e" stroke-width="0.1" textLength="14.00" lengthAdjust="spacingAndGlyphs">DKO</text>
<text x="427.10" y="55.80" font-size="6.8" fill="#2e2e2e" stroke="#2e2e2e" stroke-width="0.1" textLength="9.10" lengthAdjust="spacingAndGlyphs">WT</text>
<text x="380.30" y="55.00" font-size="8.3" fill="#2a2a2a" stroke="#2a2a2a" stroke-width="0.07" text-anchor="middle" textLength="21.80" lengthAdjust="spacingAndGlyphs" transform="rotate(-90 380.30 55.00)">CD45.2</text>
<text x="414.20" y="94.40" font-size="8.3" fill="#2a2a2a" stroke="#2a2a2a" stroke-width="0.07" text-anchor="middle" textLength="20.90" lengthAdjust="spacingAndGlyphs">CD45.1</text>
<text x="50.70" y="131.60" font-size="8.8" fill="#222" stroke="#222" stroke-width="0.07" text-anchor="middle" textLength="13.00" lengthAdjust="spacingAndGlyphs">WT</text>
<text x="146.60" y="131.80" font-size="8.8" fill="#222" stroke="#222" stroke-width="0.07" text-anchor="middle" textLength="19.20" lengthAdjust="spacingAndGlyphs">DKO</text>
<path d="M9.15,174.80 Q8.70,171.90 9.65,167.60 Q10.60,163.30 12.05,159.45 Q13.50,155.60 18.30,153.65 Q23.10,151.70 30.80,150.25 Q38.50,148.80 42.35,146.90 Q46.20,145.00 51.95,143.10 Q57.70,141.20 65.40,139.75 Q73.10,138.30 78.85,137.80 Q84.60,137.30 87.50,138.25 Q90.40,139.20 91.20,143.05 Q92.00,146.90 91.50,151.70 Q91.00,156.50 92.10,162.30 Q93.20,168.10 93.50,174.80 Q93.80,181.50 92.65,187.30 Q91.50,193.10 89.65,198.35 Q87.80,203.60 82.35,205.90 Q76.90,208.20 70.20,208.70 Q63.50,209.20 56.75,208.60 Q50.00,208.00 46.15,210.15 Q42.30,212.30 40.40,215.20 Q38.50,218.10 35.60,218.55 Q32.70,219.00 30.75,216.60 Q28.80,214.20 27.85,207.50 Q26.90,200.80 25.00,194.05 Q23.10,187.30 19.25,184.40 Q15.40,181.50 12.50,179.60 Q9.60,177.70 9.15,174.80 Z" fill="#fcfcfc" stroke="#e8e8e8" stroke-width="1.8"/>
<ellipse cx="21.5" cy="157.4" rx="8.0" ry="2.9" fill="#e4e4e4"/>
<path d="M20.4,157.3h0.01M26.5,157.7h0.01M33.1,154.6h0.01M30.1,160.7h0.01M23.5,155.4h0.01M30.9,157.9h0.01M20.9,159.4h0.01M18.9,156.0h0.01M33.1,157.4h0.01M16.2,160.4h0.01M19.4,156.9h0.01M20.2,159.3h0.01M28.8,157.9h0.01M18.5,157.8h0.01M25.4,158.7h0.01M19.5,157.0h0.01M15.4,157.0h0.01M22.7,159.2h0.01M22.4,157.9h0.01M15.7,158.3h0.01M17.2,155.3h0.01M17.6,157.5h0.01M26.3,159.6h0.01M23.8,159.0h0.01M22.7,158.0h0.01M24.0,156.5h0.01M19.1,156.3h0.01M23.9,158.2h0.01M18.5,160.0h0.01M14.9,157.5h0.01M18.0,159.8h0.01M22.6,156.9h0.01M22.0,159.6h0.01M26.8,155.6h0.01M13.1,157.8h0.01M20.4,155.5h0.01M23.5,158.6h0.01M16.7,158.5h0.01M22.8,155.7h0.01M19.5,156.1h0.01M15.9,156.6h0.01M27.1,154.8h0.01M14.6,155.8h0.01M26.5,155.9h0.01M19.5,158.8h0.01M16.8,159.9h0.01M17.1,156.6h0.01M17.8,156.9h0.01M17.3,157.8h0.01M22.9,156.5h0.01M12.2,156.9h0.01M27.7,158.9h0.01M25.7,157.8h0.01M28.5,157.3h0.01M16.6,156.4h0.01M10.0,160.1h0.01M18.4,156.3h0.01M20.7,157.6h0.01M23.1,155.6h0.01M18.9,156.4h0.01" stroke="#c8c8c8" stroke-width="0.70" stroke-linecap="round"/>
<ellipse cx="63.5" cy="144.6" rx="6.4" ry="2.9" fill="#e4e4e4"/>
<path d="M63.9,146.3h0.01M62.0,145.0h0.01M65.7,145.3h0.01M63.8,142.0h0.01M58.0,144.0h0.01M54.3,146.1h0.01M67.5,143.1h0.01M61.2,143.8h0.01M69.5,142.9h0.01M63.6,147.0h0.01M60.5,143.8h0.01M65.8,143.3h0.01M62.5,145.7h0.01M63.6,146.6h0.01M59.8,145.5h0.01M66.1,146.4h0.01M67.9,145.0h0.01M61.5,144.4h0.01M70.7,143.8h0.01M61.3,143.7h0.01M64.6,143.5h0.01M57.0,145.3h0.01M55.9,144.4h0.01M72.0,144.8h0.01M69.2,145.7h0.01M68.1,144.5h0.01M56.8,142.2h0.01M64.5,143.2h0.01M65.2,142.6h0.01M63.9,141.2h0.01M64.7,144.8h0.01M59.9,142.5h0.01M62.9,142.3h0.01M59.0,142.7h0.01M62.2,146.2h0.01M65.0,144.1h0.01M60.4,146.4h0.01M62.4,144.5h0.01M61.8,143.8h0.01M63.6,145.6h0.01" stroke="#c8c8c8" stroke-width="0.70" stroke-linecap="round"/>
<ellipse cx="78.1" cy="150.1" rx="6.4" ry="2.6" fill="#e4e4e4"/>
<path d="M80.5,151.9h0.01M78.6,148.6h0.01M74.0,150.5h0.01M76.3,147.7h0.01M73.4,153.3h0.01M77.1,151.0h0.01M78.5,146.7h0.01M84.0,147.1h0.01M83.8,150.9h0.01M80.8,150.3h0.01M81.9,149.6h0.01M79.0,151.1h0.01M89.2,153.3h0.01M84.2,150.7h0.01M88.7,147.2h0.01M79.6,149.8h0.01M79.8,148.0h0.01M82.3,148.8h0.01M78.9,150.6h0.01M79.4,149.8h0.01M74.2,148.4h0.01M81.9,150.1h0.01M78.7,148.8h0.01M81.3,150.9h0.01M77.2,149.7h0.01M71.0,150.7h0.01M80.1,149.7h0.01M82.8,151.3h0.01M73.0,149.9h0.01M74.2,150.1h0.01M76.9,149.2h0.01M77.1,150.3h0.01M71.3,147.2h0.01M85.1,154.4h0.01M82.1,149.0h0.01M75.6,150.2h0.01M70.9,149.3h0.01M79.6,149.3h0.01M86.0,150.7h0.01M81.4,149.3h0.01" stroke="#c8c8c8" stroke-width="0.70" stroke-linecap="round"/>
<ellipse cx="14.1" cy="172.0" rx="4.8" ry="3.2" fill="#e4e4e4"/>
<path d="M12.8,169.6h0.01M9.9,173.7h0.01M11.3,173.7h0.01M10.6,174.9h0.01M19.5,173.4h0.01M10.1,171.0h0.01M10.8,174.1h0.01M14.6,170.7h0.01M18.3,171.3h0.01M9.0,169.6h0.01M9.4,174.4h0.01M14.4,174.0h0.01M15.1,171.0h0.01M9.8,171.3h0.01M8.7,172.0h0.01M11.2,172.4h0.01M16.3,173.6h0.01M13.9,172.1h0.01M16.3,172.7h0.01M13.7,168.9h0.01M14.0,171.3h0.01M15.9,168.4h0.01M13.7,175.5h0.01M14.8,174.7h0.01M11.3,173.4h0.01M12.2,174.2h0.01M15.5,176.0h0.01M13.3,173.8h0.01M11.8,168.8h0.01M16.0,171.5h0.01M15.7,167.2h0.01M14.0,170.3h0.01M11.8,169.5h0.01M16.7,171.9h0.01M21.5,172.7h0.01M11.6,170.1h0.01M9.4,171.4h0.01M11.7,172.5h0.01M11.2,171.6h0.01M10.2,171.6h0.01" stroke="#c8c8c8" stroke-width="0.70" stroke-linecap="round"/>
<ellipse cx="37.9" cy="206.8" rx="4.8" ry="4.8" fill="#e4e4e4"/>
<path d="M30.6,209.3h0.01M36.5,204.8h0.01M40.2,201.9h0.01M38.6,205.5h0.01M33.4,203.5h0.01M37.0,207.2h0.01M38.6,207.2h0.01M34.9,205.4h0.01M39.8,206.9h0.01M35.4,209.8h0.01M36.8,211.8h0.01M37.5,205.1h0.01M44.5,208.8h0.01M36.8,206.0h0.01M36.1,203.5h0.01M39.9,210.5h0.01M36.4,207.9h0.01M38.4,207.1h0.01M31.0,207.7h0.01M38.7,206.2h0.01M37.7,203.5h0.01M33.9,212.0h0.01M41.9,209.4h0.01M37.1,207.5h0.01M37.2,209.6h0.01M33.8,210.5h0.01M32.9,206.1h0.01M36.1,208.4h0.01M33.2,205.7h0.01M39.3,208.6h0.01" stroke="#c8c8c8" stroke-width="0.70" stroke-linecap="round"/>
<ellipse cx="34.0" cy="214.0" rx="3.2" ry="3.2" fill="#e4e4e4"/>
<path d="M33.4,213.6h0.01M38.8,216.2h0.01M33.2,215.9h0.01M34.9,217.6h0.01M34.8,210.2h0.01M33.2,214.6h0.01M35.8,213.1h0.01M33.7,212.2h0.01M33.1,214.1h0.01M33.9,211.6h0.01M32.4,209.5h0.01M36.3,212.1h0.01M35.2,213.4h0.01M35.9,217.7h0.01M31.2,212.5h0.01M34.5,211.6h0.01M32.4,210.0h0.01M34.1,213.2h0.01M36.5,213.4h0.01M34.4,214.2h0.01" stroke="#c8c8c8" stroke-width="0.70" stroke-linecap="round"/>
<ellipse cx="40.0" cy="152.0" rx="9.6" ry="3.2" fill="#e4e4e4"/>
<path d="M31.1,151.1h0.01M35.2,149.4h0.01M26.1,152.3h0.01M40.8,153.5h0.01M30.3,151.0h0.01M23.3,151.5h0.01M46.7,149.5h0.01M42.8,154.7h0.01M41.9,150.7h0.01M41.9,151.6h0.01M33.5,155.3h0.01M46.2,151.5h0.01M33.5,148.8h0.01M51.2,150.1h0.01M41.1,151.2h0.01M28.7,155.5h0.01M45.0,152.4h0.01M51.6,151.5h0.01M38.2,153.6h0.01M46.2,154.5h0.01M38.5,150.4h0.01M36.0,154.8h0.01M24.3,153.7h0.01M47.2,152.8h0.01M37.1,147.2h0.01M42.0,152.3h0.01M33.0,154.7h0.01M34.3,151.4h0.01M46.5,156.6h0.01M37.4,152.1h0.01" stroke="#c8c8c8" stroke-width="0.70" stroke-linecap="round"/>
<path d="M71.2,185.0h0.01M68.0,197.2h0.01M59.6,196.5h0.01M51.2,189.6h0.01M65.9,196.5h0.01M69.4,193.4h0.01M69.3,191.8h0.01M40.7,193.9h0.01M62.1,197.4h0.01M66.0,197.1h0.01M61.5,202.1h0.01M56.1,194.4h0.01M57.3,192.5h0.01M60.9,184.0h0.01M76.7,202.8h0.01M55.3,191.8h0.01M72.7,201.3h0.01M69.8,197.0h0.01M58.1,207.1h0.01M69.0,202.5h0.01M69.0,198.6h0.01M61.4,202.3h0.01M64.0,209.0h0.01M55.6,199.1h0.01M55.8,195.8h0.01M61.6,198.0h0.01M47.9,207.6h0.01M65.8,202.9h0.01M47.4,190.3h0.01M72.5,198.2h0.01M63.9,199.2h0.01M48.6,199.0h0.01M68.2,202.0h0.01M69.7,202.7h0.01M64.7,198.1h0.01M57.1,200.3h0.01M57.6,207.7h0.01M65.5,199.5h0.01M62.1,200.6h0.01M61.4,194.6h0.01M58.1,196.3h0.01M56.6,202.9h0.01M61.0,172.0h0.01M71.0,190.5h0.01M58.9,197.2h0.01M41.1,196.8h0.01M61.3,173.8h0.01M79.6,204.9h0.01M55.0,197.4h0.01M61.5,200.6h0.01M57.4,197.9h0.01M69.3,197.4h0.01M70.0,200.9h0.01M66.3,195.6h0.01M54.3,192.4h0.01M71.0,206.1h0.01M39.4,179.6h0.01M68.9,203.5h0.01M41.4,167.9h0.01M73.6,202.2h0.01M57.2,201.9h0.01M58.0,195.5h0.01M55.7,203.5h0.01M53.6,205.1h0.01M67.5,201.4h0.01M64.3,200.9h0.01M76.5,193.3h0.01M53.9,197.8h0.01M68.6,199.1h0.01M47.4,196.6h0.01M61.8,207.9h0.01M53.8,206.5h0.01M65.8,201.3h0.01M69.9,202.6h0.01M58.2,195.1h0.01M54.0,201.8h0.01M58.4,193.3h0.01M63.9,202.3h0.01M58.0,208.2h0.01" stroke="#b87a6c" stroke-width="1.60" stroke-linecap="round"/>
<path d="M67.9,198.5h0.01M65.7,205.6h0.01M78.4,202.6h0.01M67.5,205.5h0.01M76.5,206.1h0.01M59.7,207.8h0.01M64.8,191.7h0.01M74.2,203.9h0.01M58.6,197.8h0.01M50.9,195.5h0.01M47.7,202.2h0.01M77.6,207.1h0.01M66.0,198.6h0.01M56.6,195.1h0.01M51.8,195.0h0.01M56.6,197.4h0.01M58.3,187.5h0.01M67.3,206.2h0.01M55.9,207.5h0.01M67.5,199.1h0.01M69.6,200.7h0.01M80.4,197.3h0.01M66.1,171.6h0.01M52.5,193.7h0.01M67.2,202.9h0.01M59.6,200.6h0.01M48.6,199.7h0.01M54.8,204.7h0.01M61.4,197.1h0.01M63.2,193.8h0.01M61.1,204.1h0.01M40.7,195.3h0.01M59.0,207.2h0.01M67.6,204.7h0.01M60.0,196.3h0.01M72.8,195.8h0.01M52.7,201.3h0.01M47.2,194.6h0.01M53.3,188.2h0.01M58.9,197.1h0.01M57.0,199.7h0.01M65.8,205.2h0.01M57.9,193.6h0.01M57.5,203.7h0.01M72.4,198.4h0.01M48.7,198.5h0.01M67.1,191.9h0.01M62.5,202.2h0.01M51.0,200.0h0.01M54.6,197.5h0.01M70.7,195.2h0.01M56.5,187.6h0.01M45.3,186.9h0.01M65.7,188.5h0.01M61.7,200.1h0.01M54.8,196.1h0.01M69.3,198.6h0.01M43.7,197.8h0.01M65.8,161.8h0.01M73.2,204.4h0.01M54.0,202.3h0.01M58.9,196.3h0.01M57.5,200.2h0.01M65.5,190.7h0.01M56.3,200.2h0.01M73.2,201.4h0.01M72.1,200.6h0.01M55.3,203.4h0.01M58.5,187.4h0.01M78.0,202.1h0.01" stroke="#8a6a6e" stroke-width="1.60" stroke-linecap="round"/>
<path d="M76.6,186.7h0.01M62.4,187.2h0.01M71.5,189.4h0.01M71.4,178.2h0.01M60.0,183.8h0.01M83.1,184.9h0.01M59.0,187.6h0.01M91.3,173.7h0.01M63.0,182.3h0.01M78.5,179.8h0.01M63.2,182.2h0.01M63.0,193.3h0.01M48.8,196.3h0.01M63.9,186.0h0.01M65.7,189.7h0.01M67.2,186.8h0.01M62.8,156.1h0.01M62.9,193.1h0.01M60.5,179.6h0.01M64.5,185.4h0.01M70.0,180.6h0.01M75.6,200.1h0.01M59.9,184.5h0.01M60.2,183.5h0.01M71.6,188.8h0.01M73.8,183.6h0.01M60.8,180.6h0.01M69.9,182.5h0.01M76.1,185.5h0.01M82.0,184.9h0.01M55.9,184.1h0.01M49.0,192.3h0.01M64.2,196.9h0.01M42.0,180.4h0.01M37.2,195.3h0.01M68.4,187.6h0.01M47.3,188.5h0.01M62.9,184.8h0.01M53.8,182.5h0.01M88.5,189.2h0.01M66.3,193.2h0.01M62.0,177.8h0.01M67.5,186.6h0.01M65.0,204.7h0.01M70.4,194.6h0.01M58.1,185.1h0.01M74.9,189.1h0.01M70.8,185.6h0.01M44.3,180.7h0.01M71.9,186.2h0.01M63.8,172.5h0.01M53.1,181.0h0.01M54.6,181.5h0.01M59.9,187.5h0.01M48.0,197.4h0.01M65.8,190.8h0.01M50.3,190.1h0.01M76.2,194.2h0.01M60.7,182.2h0.01M65.4,188.5h0.01M64.1,173.8h0.01M65.4,202.1h0.01M84.1,180.9h0.01M56.4,183.6h0.01M55.2,183.4h0.01M48.5,177.8h0.01M60.5,181.7h0.01M49.2,183.2h0.01M64.7,179.4h0.01M69.2,188.2h0.01M67.8,196.8h0.01M58.6,186.5h0.01M68.4,195.9h0.01M74.2,197.0h0.01M66.0,182.2h0.01M41.3,192.9h0.01" stroke="#5a7a80" stroke-width="1.60" stroke-linecap="round"/>
<path d="M69.0,182.3h0.01M57.6,182.0h0.01M66.4,189.2h0.01M60.1,187.1h0.01M69.5,181.2h0.01M64.5,183.4h0.01M77.2,193.2h0.01M76.8,179.4h0.01M68.4,185.0h0.01M68.9,195.4h0.01M52.1,199.9h0.01M55.1,182.1h0.01M31.9,192.1h0.01M61.7,186.9h0.01M70.0,186.7h0.01M69.1,195.5h0.01M71.5,180.9h0.01M74.4,170.9h0.01M70.3,185.2h0.01M77.0,190.1h0.01M69.2,186.5h0.01M62.8,187.1h0.01M57.2,186.4h0.01M63.2,191.2h0.01M76.5,203.1h0.01M74.7,181.6h0.01M67.7,187.4h0.01M58.0,189.1h0.01M58.7,189.7h0.01M72.9,186.4h0.01M53.3,181.1h0.01M71.5,166.4h0.01M76.0,182.6h0.01M55.8,188.5h0.01M66.4,185.1h0.01M65.9,196.2h0.01M52.7,170.7h0.01M59.2,197.6h0.01M76.7,196.0h0.01M46.3,191.7h0.01M43.4,180.3h0.01M62.6,180.7h0.01M60.3,192.2h0.01M66.1,193.1h0.01M76.4,180.8h0.01M67.7,183.0h0.01M64.0,189.0h0.01M53.3,193.6h0.01M66.1,191.4h0.01M58.5,188.0h0.01M58.6,182.8h0.01M66.2,185.7h0.01M63.3,185.7h0.01M62.5,183.9h0.01M76.2,182.9h0.01M67.5,189.2h0.01M62.6,186.6h0.01M59.4,190.1h0.01M53.0,184.0h0.01M65.4,186.1h0.01M62.8,187.0h0.01M67.0,174.7h0.01M80.5,190.3h0.01M62.3,186.3h0.01M68.6,186.9h0.01M70.1,167.1h0.01M70.5,193.8h0.01M63.3,194.6h0.01M55.0,188.0h0.01M68.1,185.5h0.01M66.2,181.3h0.01M64.9,175.8h0.01M65.3,188.7h0.01M84.6,198.8h0.01M57.1,190.5h0.01M65.3,188.9h0.01M74.6,174.9h0.01M65.0,196.4h0.01M63.2,187.2h0.01M78.6,193.2h0.01M70.1,191.0h0.01M63.8,182.6h0.01" stroke="#6a7070" stroke-width="1.60" stroke-linecap="round"/>
<path d="M63.9,204.0h0.01M42.3,199.0h0.01M56.5,194.5h0.01M59.5,177.1h0.01M68.0,201.9h0.01M56.0,200.2h0.01M65.6,198.9h0.01M75.2,196.2h0.01M59.9,208.3h0.01M68.8,201.5h0.01M69.8,202.7h0.01M69.7,204.3h0.01M64.3,200.8h0.01M73.2,198.8h0.01M57.3,201.3h0.01M65.4,205.9h0.01M63.7,199.3h0.01M48.1,196.3h0.01M75.3,185.4h0.01M49.6,203.8h0.01M65.8,201.3h0.01M60.9,201.6h0.01M75.7,192.2h0.01M65.7,203.7h0.01M55.5,202.4h0.01M52.5,196.7h0.01M73.1,199.0h0.01M58.6,195.1h0.01M64.7,202.2h0.01M65.0,207.0h0.01M69.3,203.6h0.01M61.3,203.3h0.01M74.1,203.0h0.01M81.8,175.9h0.01M63.6,198.5h0.01M48.7,197.4h0.01M51.5,198.6h0.01M71.3,188.3h0.01M61.4,196.7h0.01M57.5,200.2h0.01M78.7,175.9h0.01M47.7,191.9h0.01M55.4,194.1h0.01M58.1,199.2h0.01M62.3,204.4h0.01M58.9,201.8h0.01M61.8,203.6h0.01M57.3,201.0h0.01M55.9,190.6h0.01M66.4,202.4h0.01M55.1,201.8h0.01M46.1,197.9h0.01M65.2,203.3h0.01M75.4,204.1h0.01M71.2,181.2h0.01M69.9,195.3h0.01M69.9,202.6h0.01M56.9,205.7h0.01M69.8,206.8h0.01M61.1,205.3h0.01M63.0,194.5h0.01M66.7,199.2h0.01M54.4,186.9h0.01M47.5,202.9h0.01M53.5,207.6h0.01M68.8,197.7h0.01M70.9,169.7h0.01M75.1,204.8h0.01M65.4,204.1h0.01M60.0,196.1h0.01M74.6,200.8h0.01M56.2,192.8h0.01M65.0,206.4h0.01M49.6,199.4h0.01M79.7,168.6h0.01M51.1,198.3h0.01M72.2,202.6h0.01M66.3,204.5h0.01M63.7,202.7h0.01" stroke="#b06a60" stroke-width="1.60" stroke-linecap="round"/>
<path d="M81.0,170.1h0.01M84.5,179.9h0.01M84.3,170.3h0.01M82.2,175.8h0.01M80.7,177.6h0.01M85.6,171.0h0.01M74.3,177.6h0.01M77.5,162.7h0.01M85.1,174.5h0.01M73.1,171.2h0.01M90.1,180.1h0.01M79.2,167.4h0.01M84.0,173.7h0.01M82.5,169.4h0.01M86.2,169.3h0.01M85.7,169.2h0.01M54.9,189.8h0.01M76.1,180.2h0.01M69.1,178.4h0.01M81.0,173.9h0.01M79.0,168.3h0.01M78.0,173.3h0.01M80.3,171.0h0.01M77.6,172.7h0.01M70.2,174.7h0.01M72.1,182.4h0.01M87.2,172.4h0.01M65.2,177.9h0.01M37.9,173.4h0.01M82.1,185.3h0.01M90.7,173.6h0.01M69.6,164.9h0.01M82.1,180.7h0.01M84.2,185.9h0.01M74.3,176.0h0.01M79.0,173.9h0.01M80.3,176.6h0.01M89.6,172.7h0.01M76.9,183.8h0.01M66.0,195.7h0.01M89.9,177.1h0.01M84.9,176.7h0.01M78.6,188.0h0.01M68.9,172.2h0.01M74.0,176.6h0.01M80.9,168.9h0.01M83.9,166.6h0.01M76.7,176.5h0.01M80.3,173.9h0.01M72.4,186.2h0.01M71.8,171.2h0.01M76.5,182.1h0.01M87.4,172.7h0.01M86.5,173.2h0.01M78.8,178.4h0.01M74.9,163.0h0.01M84.5,182.0h0.01M78.6,175.3h0.01M83.8,176.6h0.01M91.0,179.0h0.01M78.4,169.5h0.01M72.4,166.8h0.01M83.2,175.4h0.01M79.9,188.5h0.01M73.0,177.2h0.01M82.1,167.4h0.01M92.2,176.2h0.01M81.3,168.2h0.01M76.2,168.0h0.01M76.9,178.6h0.01M72.4,164.8h0.01M69.0,181.2h0.01M81.7,179.7h0.01M73.2,175.0h0.01M82.6,175.5h0.01M73.8,177.9h0.01M76.4,179.6h0.01M83.3,175.4h0.01M75.8,180.5h0.01M78.6,172.8h0.01M75.6,179.5h0.01M70.0,180.4h0.01M79.1,165.7h0.01M73.9,172.8h0.01M85.5,178.8h0.01M81.4,178.4h0.01M79.7,179.8h0.01M76.2,170.8h0.01M57.8,198.9h0.01M74.1,175.8h0.01M75.3,173.5h0.01" stroke="#23609a" stroke-width="1.60" stroke-linecap="round"/>
<path d="M70.3,176.1h0.01M80.7,178.1h0.01M70.7,179.0h0.01M81.1,175.7h0.01M68.7,183.4h0.01M80.4,176.0h0.01M81.1,180.4h0.01M77.0,168.7h0.01M77.7,169.2h0.01M79.4,170.7h0.01M77.9,169.8h0.01M83.5,177.7h0.01M82.1,178.8h0.01M85.1,171.7h0.01M60.0,175.9h0.01M78.1,172.8h0.01M78.3,169.2h0.01M83.4,178.9h0.01M86.5,180.8h0.01M76.2,179.6h0.01M81.8,176.9h0.01M75.7,163.0h0.01M81.5,184.5h0.01M82.8,174.3h0.01M83.3,172.4h0.01M84.9,180.5h0.01M79.2,170.3h0.01M87.4,177.5h0.01M87.8,174.6h0.01M87.3,168.7h0.01M82.7,173.7h0.01M80.6,168.1h0.01M83.3,171.4h0.01M79.6,166.9h0.01M89.3,178.7h0.01M58.5,205.9h0.01M79.0,182.4h0.01M76.9,165.2h0.01M83.8,170.4h0.01M70.6,174.4h0.01M82.4,180.5h0.01M81.0,176.5h0.01M76.7,178.0h0.01M90.9,175.9h0.01M81.2,172.9h0.01M83.9,174.5h0.01M74.6,179.2h0.01M78.0,173.6h0.01M55.2,175.2h0.01M84.0,177.3h0.01M80.3,173.7h0.01M45.8,178.7h0.01M85.7,187.5h0.01M76.4,175.0h0.01M86.7,177.4h0.01M80.9,177.5h0.01M84.4,167.8h0.01M76.6,170.5h0.01M80.6,164.5h0.01M81.1,170.6h0.01M77.2,166.6h0.01M81.7,170.1h0.01M75.1,170.5h0.01M59.0,163.3h0.01M78.5,173.4h0.01M76.4,169.7h0.01M84.7,167.1h0.01M79.6,174.5h0.01M71.9,173.0h0.01M50.7,169.2h0.01M84.7,178.4h0.01M83.1,180.1h0.01M83.2,171.8h0.01M84.3,176.0h0.01M85.9,171.5h0.01M79.1,175.6h0.01M83.7,173.8h0.01M74.7,168.2h0.01M82.2,182.3h0.01M77.2,175.7h0.01M75.4,175.5h0.01M73.4,174.9h0.01M82.3,168.2h0.01M74.7,177.7h0.01M74.8,171.8h0.01M79.5,179.3h0.01M76.6,178.6h0.01M81.9,172.3h0.01M73.8,184.5h0.01M83.8,177.5h0.01M78.8,171.9h0.01" stroke="#175287" stroke-width="1.60" stroke-linecap="round"/>
<path d="M87.8,178.8h0.01M83.6,169.9h0.01M77.7,172.2h0.01M77.3,171.4h0.01M73.1,178.7h0.01M79.5,174.2h0.01M75.8,177.4h0.01M76.6,178.5h0.01M50.8,189.1h0.01M81.6,174.8h0.01M68.5,192.5h0.01M87.5,172.6h0.01M80.5,177.9h0.01M76.3,168.3h0.01M76.0,177.9h0.01M82.1,162.5h0.01M82.7,177.6h0.01M81.9,178.2h0.01M81.7,172.0h0.01M58.2,194.4h0.01M76.7,173.6h0.01M84.1,176.7h0.01M76.1,177.9h0.01M70.7,172.9h0.01M90.0,178.6h0.01M78.3,179.2h0.01M86.3,173.7h0.01M83.5,180.7h0.01M81.1,167.4h0.01M77.6,175.8h0.01M73.5,163.2h0.01M59.9,177.0h0.01M91.1,180.3h0.01M85.3,176.2h0.01M87.3,172.9h0.01M71.8,171.1h0.01M77.3,181.6h0.01M87.3,180.3h0.01M75.1,166.5h0.01M83.3,178.9h0.01M69.1,177.4h0.01M85.2,171.0h0.01M74.8,185.1h0.01M81.0,166.6h0.01M77.1,182.1h0.01M89.1,171.0h0.01M86.5,168.5h0.01M72.2,169.7h0.01M84.2,185.7h0.01M76.0,177.4h0.01M55.0,184.8h0.01M92.2,177.5h0.01M77.5,171.9h0.01M75.5,176.9h0.01M82.0,184.7h0.01M77.9,177.4h0.01M85.3,167.2h0.01M81.6,172.6h0.01M80.9,181.7h0.01M86.2,166.4h0.01M88.0,174.1h0.01M92.0,168.9h0.01M87.3,177.1h0.01M51.3,202.0h0.01M72.1,179.3h0.01M78.1,165.3h0.01M80.0,173.3h0.01M81.7,178.4h0.01M77.3,171.2h0.01M69.2,181.0h0.01M84.5,178.7h0.01M78.2,167.9h0.01M86.0,182.4h0.01M74.1,176.2h0.01M85.3,174.0h0.01M80.0,172.8h0.01M90.7,178.6h0.01M57.4,175.2h0.01M73.4,164.4h0.01M84.6,172.2h0.01M82.0,169.9h0.01M91.3,181.5h0.01M70.2,199.6h0.01M81.1,162.6h0.01M85.2,178.6h0.01" stroke="#2a73b0" stroke-width="1.60" stroke-linecap="round"/>
<path d="M81.6,175.7h0.01M73.9,173.4h0.01M81.3,174.0h0.01M80.3,179.1h0.01M80.9,163.9h0.01M84.6,166.8h0.01M79.8,167.2h0.01M77.2,170.6h0.01M68.6,172.0h0.01M78.0,171.7h0.01M77.8,174.2h0.01M75.9,175.4h0.01M86.0,160.8h0.01M82.7,172.7h0.01M80.0,175.3h0.01M77.6,170.1h0.01M82.2,170.4h0.01M86.3,176.0h0.01M72.5,164.4h0.01M77.2,175.5h0.01M81.0,172.9h0.01M71.4,183.5h0.01M79.8,169.5h0.01M86.7,177.3h0.01M82.1,200.0h0.01M74.5,168.1h0.01M81.3,179.2h0.01M66.9,177.9h0.01M68.5,180.5h0.01M82.2,169.1h0.01M80.5,169.9h0.01M82.9,177.4h0.01M71.8,184.0h0.01M91.4,174.1h0.01M42.1,181.3h0.01M74.9,181.4h0.01M83.0,184.2h0.01M84.1,184.5h0.01M86.1,173.7h0.01M79.3,172.7h0.01M77.5,167.0h0.01M79.3,176.5h0.01M74.2,170.9h0.01M82.4,176.0h0.01M76.3,172.0h0.01M47.8,163.9h0.01M88.1,176.2h0.01M82.4,179.1h0.01M84.7,167.2h0.01M80.5,170.4h0.01M70.6,171.9h0.01M86.6,164.6h0.01M79.7,165.4h0.01M81.5,178.3h0.01M81.4,180.0h0.01M86.5,170.6h0.01M76.9,173.8h0.01M82.0,179.1h0.01M79.7,182.3h0.01M91.2,174.7h0.01M80.4,183.8h0.01M73.4,174.6h0.01M76.1,171.8h0.01M86.0,171.8h0.01M80.6,172.4h0.01M92.2,182.2h0.01M73.1,180.5h0.01M80.8,168.2h0.01M79.3,163.3h0.01M86.2,169.4h0.01M73.0,171.1h0.01M80.0,177.5h0.01M84.3,174.1h0.01M75.4,171.4h0.01M82.5,177.9h0.01M89.5,173.7h0.01M78.7,166.3h0.01M23.5,188.9h0.01M76.9,179.2h0.01M54.1,178.5h0.01M82.2,185.4h0.01M78.5,169.5h0.01M81.5,183.9h0.01M78.9,187.4h0.01M79.6,176.1h0.01M83.1,171.8h0.01M80.7,185.2h0.01M75.1,182.5h0.01M72.8,164.6h0.01M83.7,157.3h0.01M85.7,181.7h0.01M82.8,175.0h0.01M75.8,175.0h0.01M84.6,171.4h0.01" stroke="#1f6aa8" stroke-width="1.60" stroke-linecap="round"/>
<path d="M62.5,191.0h0.01M76.3,173.2h0.01M63.7,185.5h0.01M74.0,175.7h0.01M70.4,187.1h0.01M66.5,185.1h0.01M57.3,180.6h0.01M66.9,195.2h0.01M70.4,173.8h0.01M66.6,192.7h0.01M59.7,186.0h0.01M56.5,184.6h0.01M59.1,178.7h0.01M54.8,179.2h0.01M61.5,188.2h0.01M59.4,172.4h0.01M60.5,179.9h0.01M76.2,205.9h0.01M58.2,183.9h0.01M81.3,201.0h0.01M68.8,178.1h0.01M71.8,177.1h0.01M73.2,180.1h0.01M54.2,174.5h0.01M77.6,193.1h0.01M69.8,184.3h0.01M61.6,182.6h0.01M76.3,194.8h0.01M65.4,185.5h0.01M54.9,194.4h0.01M64.4,206.1h0.01M60.9,178.2h0.01M55.9,176.4h0.01M52.7,196.4h0.01M64.3,187.6h0.01M72.1,184.7h0.01M72.4,179.1h0.01M70.9,180.6h0.01M65.0,184.3h0.01M60.6,194.6h0.01M71.0,183.2h0.01M56.5,194.2h0.01M27.9,197.7h0.01M83.3,167.0h0.01M68.3,188.3h0.01M78.3,193.5h0.01M65.5,180.0h0.01M79.4,186.0h0.01M72.8,202.0h0.01M65.8,178.5h0.01M70.8,194.0h0.01M51.0,169.5h0.01M75.1,182.4h0.01M80.0,184.8h0.01M77.0,171.5h0.01M64.9,194.2h0.01M64.8,205.0h0.01M72.2,176.6h0.01M68.5,169.1h0.01M57.9,196.5h0.01M55.7,184.2h0.01M69.1,196.1h0.01M63.9,187.7h0.01M72.1,190.4h0.01M59.9,178.9h0.01M80.2,177.9h0.01M67.1,190.0h0.01M75.7,169.2h0.01M60.8,186.8h0.01M57.3,186.3h0.01M52.4,186.2h0.01M73.4,184.6h0.01M59.8,189.3h0.01M65.2,177.4h0.01M62.4,164.8h0.01M80.0,193.1h0.01M70.8,182.3h0.01M38.6,196.4h0.01M74.5,181.3h0.01M53.6,198.9h0.01M66.6,179.4h0.01M53.6,180.3h0.01M69.4,186.2h0.01M64.2,179.9h0.01M68.2,177.2h0.01M82.0,191.9h0.01M70.1,177.3h0.01M50.5,185.0h0.01M71.2,181.8h0.01M66.2,202.0h0.01" stroke="#6a6a7a" stroke-width="1.60" stroke-linecap="round"/>
<path d="M41.9,194.5h0.01M74.8,172.3h0.01M57.3,200.1h0.01M63.7,187.4h0.01M68.1,181.7h0.01M51.5,184.3h0.01M76.1,166.0h0.01M60.5,187.4h0.01M69.1,178.6h0.01M54.2,168.8h0.01M78.8,182.0h0.01M72.3,186.2h0.01M67.1,179.8h0.01M59.3,192.3h0.01M68.9,193.5h0.01M62.2,184.8h0.01M75.5,183.9h0.01M74.2,176.3h0.01M74.8,192.6h0.01M60.9,197.0h0.01M70.2,176.6h0.01M78.8,182.7h0.01M67.4,185.3h0.01M62.9,185.8h0.01M51.9,185.2h0.01M82.2,165.1h0.01M73.5,185.0h0.01M68.6,192.6h0.01M77.4,183.2h0.01M68.5,181.8h0.01M50.5,182.2h0.01M75.0,191.4h0.01M45.6,181.5h0.01M67.2,183.4h0.01M72.3,170.1h0.01M61.7,191.1h0.01M64.5,182.8h0.01M65.0,196.9h0.01M54.4,189.5h0.01M61.4,189.3h0.01M54.7,202.0h0.01M74.3,192.3h0.01M63.1,192.4h0.01M68.2,191.5h0.01M80.2,189.4h0.01M65.2,174.5h0.01M62.5,180.7h0.01M82.5,191.8h0.01M64.0,184.8h0.01M67.3,185.2h0.01M47.5,179.3h0.01M66.2,180.7h0.01M71.5,186.0h0.01M60.2,184.9h0.01M72.9,198.9h0.01M70.2,186.7h0.01M56.2,188.5h0.01M56.4,201.4h0.01M75.2,195.8h0.01M65.7,199.8h0.01M66.2,189.4h0.01M59.3,182.3h0.01M57.5,203.6h0.01M69.5,187.2h0.01M63.0,186.5h0.01M73.9,188.8h0.01M71.3,177.6h0.01M63.3,190.8h0.01M62.3,182.6h0.01M61.1,194.8h0.01M73.8,189.4h0.01M83.6,186.4h0.01M54.1,179.3h0.01M66.6,198.9h0.01M83.2,180.3h0.01M68.8,197.4h0.01M67.5,188.9h0.01M67.3,182.9h0.01M66.0,196.7h0.01M63.7,195.0h0.01M57.5,169.9h0.01M75.6,192.4h0.01M58.1,198.0h0.01" stroke="#566e84" stroke-width="1.60" stroke-linecap="round"/>
<path d="M45.3,175.7h0.01M47.1,175.2h0.01M47.8,183.7h0.01M56.6,180.8h0.01M43.1,172.0h0.01M57.1,195.0h0.01M44.7,183.9h0.01M53.9,182.4h0.01M42.9,177.0h0.01M45.0,172.1h0.01M68.9,182.8h0.01M66.1,177.8h0.01M49.2,171.3h0.01M51.9,182.8h0.01M53.0,184.4h0.01M62.4,175.7h0.01M44.3,187.0h0.01M43.6,173.0h0.01M53.4,177.6h0.01M58.3,172.6h0.01M45.2,188.8h0.01M74.0,190.6h0.01M43.0,185.7h0.01M43.2,181.4h0.01M49.1,181.1h0.01M75.2,188.8h0.01M37.2,161.8h0.01M49.5,178.9h0.01M53.7,180.4h0.01M42.1,177.5h0.01M57.0,174.5h0.01M51.4,177.7h0.01M71.7,169.6h0.01M38.0,181.3h0.01M41.1,170.3h0.01M52.3,175.5h0.01M48.2,179.1h0.01M50.7,183.6h0.01M30.3,171.9h0.01M60.2,156.8h0.01M46.5,187.7h0.01M56.8,178.1h0.01M46.5,173.0h0.01M42.3,175.9h0.01M45.0,177.9h0.01M46.8,178.2h0.01M47.8,184.7h0.01M43.8,168.2h0.01M41.1,179.4h0.01M61.9,182.5h0.01M50.0,178.3h0.01M42.1,177.8h0.01M49.7,173.6h0.01M43.1,167.9h0.01M48.6,175.4h0.01M39.0,177.7h0.01M49.8,169.0h0.01M52.6,156.0h0.01M54.2,183.0h0.01M40.1,188.2h0.01M42.5,171.7h0.01M51.5,179.5h0.01M45.2,174.8h0.01M46.5,178.6h0.01M48.4,182.7h0.01M45.6,178.2h0.01M45.3,168.4h0.01M47.7,177.7h0.01M45.4,175.3h0.01M45.2,178.4h0.01M50.8,181.3h0.01M38.5,166.5h0.01M46.7,179.9h0.01" stroke="#3d8c50" stroke-width="1.60" stroke-linecap="round"/>
<path d="M42.5,177.1h0.01M42.1,163.5h0.01M44.9,170.3h0.01M46.3,179.3h0.01M43.0,185.7h0.01M44.5,176.6h0.01M41.2,180.6h0.01M45.9,173.9h0.01M42.5,168.2h0.01M49.7,179.0h0.01M26.0,177.3h0.01M49.3,185.8h0.01M46.8,182.3h0.01M46.2,181.2h0.01M43.7,180.7h0.01M60.8,157.2h0.01M46.2,176.6h0.01M38.8,180.3h0.01M69.0,153.1h0.01M46.7,161.5h0.01M42.6,185.2h0.01M43.8,182.1h0.01M43.5,179.5h0.01M53.4,174.9h0.01M53.5,153.2h0.01M32.4,176.8h0.01M44.8,174.7h0.01M78.0,167.5h0.01M43.2,176.0h0.01M50.9,177.0h0.01M49.3,181.4h0.01M50.0,181.8h0.01M48.6,178.1h0.01M80.7,173.6h0.01M41.5,173.9h0.01M42.8,173.4h0.01M50.2,177.3h0.01M42.9,181.7h0.01M37.8,169.4h0.01M39.9,178.1h0.01M55.0,186.8h0.01M44.3,173.4h0.01M45.1,180.9h0.01M69.4,186.1h0.01M36.6,175.8h0.01M40.6,181.5h0.01M42.0,175.1h0.01M36.9,161.9h0.01M42.8,176.1h0.01M43.0,177.1h0.01M45.8,179.4h0.01M46.3,171.8h0.01M47.4,177.2h0.01M66.7,157.7h0.01M43.9,169.6h0.01M45.3,177.4h0.01M89.3,163.4h0.01M71.2,156.9h0.01M48.0,171.8h0.01M44.0,179.4h0.01M44.6,178.2h0.01M42.3,173.3h0.01M36.3,177.3h0.01M40.4,170.3h0.01M45.6,178.1h0.01M75.8,200.8h0.01M81.4,172.5h0.01M39.2,179.4h0.01M38.5,177.4h0.01M59.5,165.9h0.01M59.0,164.7h0.01M46.3,170.4h0.01M40.3,177.0h0.01M46.4,166.7h0.01M45.3,183.3h0.01M44.3,184.0h0.01M52.1,180.4h0.01M34.1,171.7h0.01" stroke="#6ab27a" stroke-width="1.60" stroke-linecap="round"/>
<path d="M78.6,165.9h0.01M79.6,175.8h0.01M80.5,174.1h0.01M47.3,174.6h0.01M79.8,179.9h0.01M79.3,170.0h0.01M78.4,173.9h0.01M77.5,176.4h0.01M77.4,169.0h0.01M58.6,182.3h0.01M81.5,179.1h0.01M79.2,146.0h0.01M76.4,178.2h0.01M87.5,178.5h0.01M80.6,163.6h0.01M85.1,170.0h0.01M87.8,172.1h0.01M77.7,180.6h0.01M67.4,171.3h0.01M86.6,164.6h0.01M74.1,180.4h0.01M85.7,180.3h0.01M89.0,171.4h0.01M86.6,180.0h0.01M70.0,176.4h0.01M84.2,175.2h0.01M86.4,170.9h0.01M77.4,178.2h0.01M88.7,174.0h0.01M52.9,165.4h0.01M89.0,174.0h0.01M79.1,175.7h0.01M75.0,167.7h0.01M71.5,170.6h0.01M85.3,174.5h0.01M50.2,183.0h0.01M73.3,169.7h0.01M66.4,181.8h0.01M77.0,171.2h0.01M79.9,173.8h0.01M83.7,167.4h0.01M74.3,167.9h0.01M83.4,176.5h0.01M76.6,182.1h0.01M87.4,170.3h0.01M85.0,186.5h0.01M46.1,178.9h0.01M76.9,171.6h0.01M69.8,168.4h0.01M83.3,176.9h0.01M86.2,174.2h0.01M72.8,175.8h0.01M82.4,171.2h0.01M73.3,174.1h0.01M74.0,204.6h0.01M69.4,172.7h0.01M67.7,187.6h0.01M81.5,185.7h0.01M76.6,166.3h0.01M82.9,180.9h0.01M77.5,174.0h0.01M76.6,178.2h0.01M69.1,176.0h0.01M89.5,181.8h0.01M88.1,174.6h0.01M80.8,181.6h0.01M77.8,173.1h0.01M84.0,166.7h0.01M83.1,175.3h0.01M83.0,174.0h0.01M81.5,172.7h0.01M68.2,170.3h0.01M78.0,177.7h0.01M78.3,173.6h0.01M80.5,172.9h0.01M60.5,179.6h0.01" stroke="#205a90" stroke-width="1.60" stroke-linecap="round"/>
<path d="M74.1,165.9h0.01M55.5,188.3h0.01M52.4,177.3h0.01M53.1,196.8h0.01M74.9,188.7h0.01M66.2,163.8h0.01M59.5,187.7h0.01M59.0,194.8h0.01M34.6,189.1h0.01M66.0,182.8h0.01M61.0,194.9h0.01M56.7,181.6h0.01M69.2,194.5h0.01M66.7,184.5h0.01M74.8,179.5h0.01M74.2,183.5h0.01M71.1,197.1h0.01M58.6,193.5h0.01M40.1,179.5h0.01M52.3,202.5h0.01M72.7,192.6h0.01M55.6,194.0h0.01M42.3,183.6h0.01M69.4,193.6h0.01M64.3,189.7h0.01M69.7,190.1h0.01M52.0,178.8h0.01M59.1,193.8h0.01M60.7,187.8h0.01M71.9,185.9h0.01M69.4,194.5h0.01M62.5,187.4h0.01M58.1,173.3h0.01M80.3,173.4h0.01M59.7,193.3h0.01M71.3,174.5h0.01M69.6,185.6h0.01M54.4,180.8h0.01M66.0,201.5h0.01M65.7,193.7h0.01M59.9,188.1h0.01M65.8,183.5h0.01M68.9,184.5h0.01M74.0,192.8h0.01M65.0,191.9h0.01M61.9,188.6h0.01M67.5,190.1h0.01M59.1,180.6h0.01M61.4,186.1h0.01M66.3,178.6h0.01M58.0,167.8h0.01M73.7,188.2h0.01M88.2,186.6h0.01M69.7,188.2h0.01M58.9,185.5h0.01M68.3,189.4h0.01M52.8,180.5h0.01M72.8,189.1h0.01M73.3,191.6h0.01M64.7,183.0h0.01M50.9,199.9h0.01M80.2,178.4h0.01M82.0,176.6h0.01M59.6,178.3h0.01M63.2,185.8h0.01M68.5,188.0h0.01M45.4,178.0h0.01M63.0,176.7h0.01M65.7,182.0h0.01M53.3,197.4h0.01M60.3,181.9h0.01M66.9,181.6h0.01M72.8,187.1h0.01M57.3,203.0h0.01M67.8,182.6h0.01M62.0,185.4h0.01M66.9,191.3h0.01M66.3,177.6h0.01M47.4,179.4h0.01M75.6,190.4h0.01M59.2,176.8h0.01M71.7,192.1h0.01M70.3,177.9h0.01M74.4,185.2h0.01M64.6,164.2h0.01M68.6,196.3h0.01M53.0,198.6h0.01" stroke="#5f6678" stroke-width="1.60" stroke-linecap="round"/>
<path d="M63.4,174.4h0.01M60.2,170.3h0.01M62.5,174.4h0.01M40.0,166.4h0.01M26.8,168.1h0.01M27.7,160.8h0.01M38.0,167.9h0.01M26.0,168.9h0.01M48.5,176.4h0.01M61.0,169.7h0.01M42.0,153.2h0.01M26.4,165.5h0.01M48.5,174.6h0.01M30.6,163.3h0.01M62.3,188.7h0.01M15.5,164.8h0.01M15.6,163.6h0.01M33.0,167.4h0.01M57.4,179.5h0.01M28.9,157.7h0.01M55.8,177.2h0.01M61.5,178.4h0.01M18.2,164.3h0.01M55.2,161.6h0.01" stroke="#999" stroke-width="1.60" stroke-linecap="round"/>
<path d="M65.7,200.7h0.01M49.6,179.0h0.01M59.9,205.3h0.01M68.4,201.3h0.01M55.1,193.0h0.01M73.7,207.3h0.01M63.5,204.3h0.01M61.8,196.9h0.01M52.8,198.1h0.01M52.7,204.2h0.01M62.2,198.9h0.01M64.1,194.7h0.01M65.4,201.0h0.01M57.1,194.6h0.01M47.3,194.0h0.01M63.4,194.0h0.01M61.8,171.9h0.01M58.2,199.9h0.01M55.3,192.3h0.01M48.4,172.8h0.01M49.6,196.4h0.01M71.8,198.5h0.01M70.3,195.1h0.01M77.1,192.9h0.01M59.8,206.1h0.01M64.6,175.5h0.01M58.2,200.2h0.01M69.0,206.5h0.01M59.0,183.2h0.01M78.8,203.7h0.01M71.3,203.3h0.01M52.0,198.7h0.01M71.8,206.2h0.01M57.0,201.9h0.01M53.9,198.5h0.01M71.0,193.9h0.01M36.6,191.9h0.01M71.4,198.8h0.01M59.3,205.6h0.01M56.8,187.6h0.01M61.2,203.8h0.01M71.1,196.2h0.01M64.6,196.0h0.01M59.7,201.2h0.01M59.5,193.9h0.01M65.1,202.6h0.01M52.3,191.6h0.01M59.5,204.1h0.01M61.5,190.1h0.01M58.4,198.8h0.01M65.8,207.6h0.01M57.6,194.0h0.01M50.7,194.9h0.01M48.0,195.4h0.01M50.7,197.3h0.01M70.0,203.0h0.01M71.0,195.7h0.01M54.6,191.9h0.01M67.6,199.6h0.01M54.4,198.3h0.01M63.7,200.8h0.01M67.8,202.6h0.01M66.3,197.8h0.01M62.1,206.5h0.01M64.7,205.3h0.01M63.6,206.5h0.01M59.2,188.4h0.01" stroke="#a86a60" stroke-width="1.60" stroke-linecap="round"/>
<path d="M46.5,182.7h0.01M45.4,175.0h0.01M53.6,177.0h0.01M39.7,181.9h0.01M49.8,178.3h0.01M48.4,174.7h0.01M48.6,184.6h0.01M44.9,178.5h0.01M36.4,181.6h0.01M45.1,186.0h0.01M45.4,173.8h0.01M44.4,184.1h0.01M35.9,171.2h0.01M46.3,180.5h0.01M48.9,172.7h0.01M40.2,178.8h0.01M45.2,176.6h0.01M39.1,177.1h0.01M48.5,172.6h0.01M47.7,183.0h0.01M65.0,164.6h0.01M38.3,177.3h0.01M55.9,175.6h0.01M41.1,182.4h0.01M40.1,174.8h0.01M63.3,185.0h0.01M38.1,154.7h0.01M43.0,173.2h0.01M52.6,169.7h0.01M40.7,179.4h0.01M38.4,180.4h0.01M45.1,174.1h0.01M50.4,175.4h0.01M55.4,168.6h0.01M36.8,180.3h0.01M56.2,161.4h0.01M66.1,170.0h0.01M84.1,183.5h0.01M67.1,167.1h0.01M44.3,178.2h0.01M36.9,179.7h0.01M55.3,180.6h0.01M44.7,180.3h0.01M58.0,175.8h0.01M69.0,177.3h0.01M41.8,178.8h0.01M65.4,150.5h0.01M42.8,174.6h0.01M71.2,159.9h0.01M49.1,158.9h0.01M48.5,170.4h0.01M54.7,164.3h0.01M40.5,185.7h0.01M40.6,174.8h0.01M41.2,181.6h0.01M36.5,179.5h0.01M45.6,182.2h0.01M37.6,177.7h0.01M42.3,172.3h0.01M43.8,177.5h0.01M41.3,175.1h0.01M30.8,188.8h0.01M46.1,185.1h0.01M47.1,176.2h0.01M40.2,176.7h0.01M38.4,185.7h0.01M42.3,175.3h0.01M42.3,185.2h0.01M41.7,172.9h0.01M78.1,176.5h0.01M44.1,174.8h0.01M42.0,179.5h0.01M50.4,177.1h0.01" stroke="#4f9560" stroke-width="1.60" stroke-linecap="round"/>
<path d="M64.3,199.1h0.01M53.4,179.2h0.01M52.6,188.4h0.01M32.5,174.8h0.01M49.4,194.0h0.01M58.8,199.5h0.01M45.1,192.1h0.01M69.0,205.1h0.01M44.7,190.6h0.01M54.1,199.0h0.01M57.4,195.5h0.01M69.0,186.3h0.01M57.4,199.0h0.01M54.4,194.3h0.01M74.0,201.7h0.01M71.8,196.6h0.01M44.0,168.7h0.01M64.9,203.8h0.01M62.3,190.0h0.01M58.7,189.1h0.01M55.3,203.3h0.01M85.5,202.2h0.01M73.0,199.2h0.01M55.1,195.6h0.01M66.0,195.8h0.01M66.9,189.9h0.01M46.0,193.6h0.01M69.1,200.3h0.01M67.3,203.3h0.01M63.5,203.0h0.01M69.7,202.2h0.01M77.4,196.8h0.01M57.9,201.0h0.01M59.8,195.4h0.01M56.2,208.2h0.01M74.2,196.4h0.01M42.4,199.1h0.01M56.9,196.1h0.01M55.7,194.6h0.01M56.9,199.3h0.01M67.8,202.6h0.01M54.1,194.0h0.01M71.0,205.5h0.01M63.5,193.5h0.01M64.9,200.9h0.01M65.9,202.0h0.01M65.2,206.8h0.01M54.4,200.1h0.01M72.8,202.5h0.01M63.8,200.2h0.01M35.2,195.1h0.01M54.5,203.6h0.01M67.5,195.8h0.01M52.9,194.2h0.01M56.6,205.0h0.01M52.0,198.2h0.01M58.1,203.5h0.01M69.4,206.2h0.01M62.3,206.4h0.01M62.3,183.2h0.01M35.6,169.4h0.01M66.0,202.8h0.01M53.9,192.9h0.01M64.9,202.7h0.01M86.6,196.6h0.01M78.7,201.5h0.01M58.8,208.2h0.01M47.4,196.8h0.01M51.5,195.9h0.01M60.5,201.7h0.01M48.6,196.9h0.01M68.8,201.2h0.01M64.2,196.2h0.01" stroke="#a0625e" stroke-width="1.60" stroke-linecap="round"/>
<path d="M58.1,190.7h0.01M42.9,184.0h0.01M67.2,189.0h0.01M66.2,188.3h0.01M72.7,184.2h0.01M54.1,198.7h0.01M50.2,186.8h0.01M65.1,178.3h0.01M73.9,180.1h0.01M50.2,191.5h0.01M63.1,178.4h0.01M60.2,180.5h0.01M60.2,199.0h0.01M81.4,189.3h0.01M74.3,190.6h0.01M80.5,188.9h0.01M56.7,180.5h0.01M70.2,173.7h0.01M68.4,183.9h0.01M68.1,196.2h0.01M57.0,190.6h0.01M78.1,177.6h0.01M53.9,178.2h0.01M78.0,188.5h0.01M81.9,184.2h0.01M72.2,183.8h0.01M59.3,179.3h0.01M67.6,179.9h0.01M79.0,198.4h0.01M64.5,188.6h0.01M65.0,173.3h0.01M59.6,187.7h0.01M68.8,194.3h0.01M59.5,184.2h0.01M74.7,196.4h0.01M58.6,191.7h0.01M63.4,189.2h0.01M73.1,171.0h0.01M64.0,173.0h0.01M56.8,191.1h0.01M75.8,179.6h0.01M59.9,189.3h0.01M70.3,187.7h0.01M51.9,184.5h0.01M79.1,195.7h0.01M88.8,193.3h0.01M64.8,197.0h0.01M70.7,191.3h0.01M75.3,180.5h0.01M57.4,191.1h0.01M83.7,194.0h0.01M60.1,197.7h0.01M73.1,179.4h0.01M48.3,186.1h0.01M79.4,182.6h0.01M66.0,188.2h0.01M66.6,199.8h0.01M61.8,189.2h0.01M79.7,190.5h0.01M53.9,196.7h0.01M74.7,192.2h0.01M88.3,181.7h0.01M65.2,167.6h0.01M69.8,185.2h0.01M58.3,179.9h0.01M66.9,192.1h0.01M56.5,175.5h0.01M66.1,201.2h0.01M71.1,192.7h0.01M72.4,179.9h0.01M79.4,183.0h0.01M70.3,194.0h0.01M51.3,182.9h0.01" stroke="#7a7080" stroke-width="1.60" stroke-linecap="round"/>
<path d="M39.8,177.4h0.01M41.6,176.1h0.01M48.4,180.9h0.01M63.4,158.8h0.01M45.5,172.6h0.01M48.0,183.9h0.01M45.5,175.4h0.01M87.7,169.3h0.01M49.6,173.5h0.01M53.6,151.1h0.01M48.0,184.2h0.01M54.4,161.2h0.01M39.1,170.0h0.01M43.9,171.7h0.01M44.3,169.6h0.01M49.3,172.3h0.01M60.2,177.9h0.01M42.2,182.6h0.01M44.0,174.2h0.01M74.0,162.4h0.01M46.6,183.4h0.01M53.6,174.9h0.01M36.4,169.0h0.01M49.8,179.1h0.01M47.1,181.9h0.01M51.1,179.4h0.01M42.2,180.2h0.01M34.8,172.9h0.01M36.0,174.0h0.01M35.8,173.2h0.01M55.6,176.7h0.01M47.8,176.1h0.01M36.7,173.5h0.01M61.7,179.7h0.01M30.2,176.1h0.01M52.9,182.7h0.01M46.1,176.4h0.01M47.0,179.2h0.01M68.4,197.4h0.01M39.8,171.9h0.01M34.7,163.5h0.01M42.5,181.8h0.01M45.7,179.6h0.01M65.3,175.7h0.01M48.0,175.7h0.01M46.4,175.6h0.01M38.7,185.7h0.01M47.8,159.1h0.01M32.5,160.6h0.01M36.5,176.5h0.01M43.2,177.5h0.01M46.2,178.5h0.01M47.2,178.8h0.01M44.4,180.0h0.01M40.6,178.0h0.01M41.9,181.1h0.01M41.5,175.0h0.01M47.3,176.9h0.01M66.5,195.9h0.01" stroke="#5aa86a" stroke-width="1.60" stroke-linecap="round"/>
<path d="M62.3,177.2h0.01M55.8,188.8h0.01M73.4,181.6h0.01M64.1,187.2h0.01M64.2,186.5h0.01M73.1,186.1h0.01M54.4,187.9h0.01M67.3,181.2h0.01M53.5,194.0h0.01M70.8,186.1h0.01M56.8,164.7h0.01M54.2,187.8h0.01M68.3,188.3h0.01M73.2,189.2h0.01M68.2,188.0h0.01M69.0,184.4h0.01M65.9,183.6h0.01M80.0,198.7h0.01M59.1,194.3h0.01M56.8,189.8h0.01M58.2,190.4h0.01M69.7,179.4h0.01M76.0,191.4h0.01M74.7,180.7h0.01M60.1,181.0h0.01M57.3,189.8h0.01M64.5,192.6h0.01M61.9,187.9h0.01M72.3,189.1h0.01M59.2,181.6h0.01M63.4,182.8h0.01M71.2,204.8h0.01M77.5,183.0h0.01M59.2,191.0h0.01M71.2,185.4h0.01M60.8,190.2h0.01M77.0,189.8h0.01M68.3,179.0h0.01M69.0,186.8h0.01M75.6,182.9h0.01M68.4,192.4h0.01M68.0,181.9h0.01M67.6,186.5h0.01M68.2,182.9h0.01M53.7,180.3h0.01M74.9,165.6h0.01M73.6,195.5h0.01M72.1,197.0h0.01M67.8,180.8h0.01M47.4,181.2h0.01M66.3,190.7h0.01M69.9,183.7h0.01M59.3,184.2h0.01M77.2,187.4h0.01M72.7,172.3h0.01M62.7,190.4h0.01M58.2,180.8h0.01M61.8,189.8h0.01M84.3,188.6h0.01M51.7,183.6h0.01M74.6,178.6h0.01M59.2,193.7h0.01M73.2,190.2h0.01M66.9,174.0h0.01M52.5,185.1h0.01M67.4,178.9h0.01M54.0,179.1h0.01M70.2,178.6h0.01M80.5,178.2h0.01M57.6,191.2h0.01M73.7,182.3h0.01M70.4,183.7h0.01M61.0,192.1h0.01M67.6,186.0h0.01M48.0,198.1h0.01M71.2,191.1h0.01M75.3,178.8h0.01M88.2,183.5h0.01M60.0,187.7h0.01M62.2,175.1h0.01M71.0,180.1h0.01M79.8,174.3h0.01M59.4,185.8h0.01M54.4,189.3h0.01M61.3,191.7h0.01M73.1,169.7h0.01M86.3,192.3h0.01M68.3,178.2h0.01M68.2,193.2h0.01M74.2,191.1h0.01M60.7,178.7h0.01M59.5,197.6h0.01" stroke="#8a7474" stroke-width="1.60" stroke-linecap="round"/>
<path d="M76.0,192.4h0.01M56.8,179.3h0.01M66.9,184.9h0.01M60.0,185.4h0.01M64.8,199.7h0.01M62.2,190.9h0.01M74.8,184.5h0.01M64.1,191.5h0.01M63.1,186.7h0.01M71.1,185.6h0.01M55.0,190.7h0.01M72.6,180.5h0.01M53.6,160.0h0.01M72.7,195.1h0.01M49.5,187.4h0.01M57.2,173.8h0.01M61.0,183.4h0.01M64.0,181.7h0.01M65.1,186.5h0.01M56.1,186.8h0.01M72.3,181.5h0.01M70.0,186.8h0.01M49.2,190.4h0.01M59.0,183.1h0.01M72.7,191.7h0.01M69.3,183.9h0.01M71.0,189.8h0.01M69.0,199.3h0.01M66.5,194.9h0.01M64.3,198.3h0.01M70.7,193.2h0.01M76.6,188.0h0.01M75.8,177.5h0.01M74.9,175.2h0.01M63.5,179.6h0.01M68.6,198.7h0.01M63.7,189.9h0.01M65.8,179.1h0.01M77.5,193.0h0.01M59.9,183.0h0.01M75.0,185.6h0.01M86.9,193.9h0.01M51.8,189.7h0.01M58.9,193.4h0.01M74.7,190.9h0.01M55.4,192.2h0.01M60.4,189.7h0.01M59.1,193.2h0.01M47.2,188.9h0.01M65.0,187.6h0.01M80.9,180.4h0.01M67.1,182.5h0.01M50.9,187.3h0.01M62.0,180.9h0.01M80.4,192.0h0.01M76.3,170.5h0.01M56.0,183.6h0.01M72.0,199.5h0.01M58.1,177.8h0.01M80.0,182.2h0.01M56.2,191.0h0.01M48.6,187.4h0.01M57.0,188.0h0.01M76.1,178.1h0.01M81.9,187.9h0.01M59.7,198.3h0.01M67.1,193.9h0.01M69.1,180.3h0.01M59.7,177.4h0.01M53.8,196.4h0.01M66.2,199.1h0.01M77.7,196.9h0.01M64.2,193.1h0.01M73.8,188.7h0.01M72.2,179.3h0.01M53.0,190.4h0.01M70.7,194.1h0.01M56.9,188.6h0.01M57.8,187.5h0.01" stroke="#80686a" stroke-width="1.60" stroke-linecap="round"/>
<path d="M76.9,182.2h0.01M87.9,163.4h0.01M89.5,180.5h0.01M88.3,173.8h0.01M81.6,179.0h0.01M78.1,170.8h0.01M83.3,176.1h0.01M76.9,169.9h0.01M86.3,179.6h0.01M77.8,175.4h0.01M92.1,176.1h0.01M80.8,180.4h0.01M73.3,170.0h0.01M78.9,170.2h0.01M88.0,176.2h0.01M77.9,179.2h0.01M88.4,171.9h0.01M82.3,173.2h0.01M74.5,169.2h0.01M82.5,175.3h0.01M73.3,176.3h0.01M79.3,177.0h0.01M72.4,176.5h0.01M80.7,174.3h0.01M80.6,178.5h0.01M76.6,171.9h0.01M84.4,178.0h0.01M81.1,190.8h0.01M74.0,159.7h0.01M76.3,175.0h0.01M79.6,175.9h0.01M71.1,169.4h0.01M82.2,169.4h0.01M76.2,182.2h0.01M73.2,182.1h0.01M74.5,157.6h0.01M79.6,166.5h0.01M83.5,172.2h0.01M76.9,177.2h0.01M75.7,173.7h0.01M79.8,174.7h0.01M75.2,179.2h0.01M87.1,179.7h0.01M85.2,175.2h0.01M81.4,182.2h0.01M84.2,165.4h0.01M76.3,169.5h0.01M84.4,176.7h0.01M72.1,177.7h0.01M80.0,183.7h0.01M83.4,170.8h0.01M87.0,170.4h0.01M78.7,173.4h0.01M91.9,181.9h0.01M88.4,163.7h0.01M90.4,179.9h0.01M81.7,173.0h0.01M85.9,174.1h0.01M82.5,195.2h0.01M80.8,175.7h0.01M79.1,180.5h0.01M83.5,173.6h0.01M76.0,168.4h0.01M87.8,176.8h0.01M90.0,178.4h0.01M83.5,173.4h0.01M83.3,185.2h0.01M82.0,167.8h0.01M70.8,171.9h0.01M78.5,181.8h0.01M77.3,178.8h0.01M51.5,181.5h0.01M67.6,202.1h0.01M81.6,168.6h0.01M82.1,161.4h0.01M65.0,174.9h0.01M85.7,163.9h0.01M82.9,175.2h0.01M79.9,183.9h0.01M85.5,175.8h0.01M84.7,170.8h0.01M75.8,173.1h0.01M57.7,177.0h0.01M75.5,172.6h0.01M73.4,173.7h0.01M61.4,194.8h0.01" stroke="#1a5c96" stroke-width="1.60" stroke-linecap="round"/>
<path d="M58.5,199.6h0.01M68.1,205.9h0.01M54.7,198.3h0.01M51.8,198.3h0.01M61.5,190.7h0.01M62.2,196.6h0.01M65.0,201.4h0.01M61.3,187.7h0.01M68.6,198.4h0.01M52.9,194.7h0.01M81.8,197.7h0.01M58.7,190.2h0.01M47.3,195.6h0.01M63.8,192.8h0.01M65.3,196.0h0.01M75.7,206.8h0.01M56.1,202.6h0.01M57.6,198.2h0.01M64.0,205.3h0.01M87.9,201.4h0.01M60.7,194.5h0.01M79.5,205.0h0.01M53.9,208.1h0.01M56.0,195.6h0.01M60.7,203.2h0.01M67.0,200.9h0.01M52.1,196.1h0.01M65.5,196.5h0.01M65.8,200.4h0.01M71.5,161.1h0.01M60.5,175.0h0.01M54.8,198.9h0.01M70.5,204.1h0.01M49.1,202.9h0.01M54.5,199.2h0.01M58.9,198.7h0.01M45.9,193.1h0.01M70.8,205.6h0.01M71.3,162.5h0.01M48.3,204.2h0.01M64.1,189.4h0.01M64.5,202.5h0.01M71.5,171.5h0.01M59.2,196.5h0.01M74.4,204.1h0.01M77.9,205.5h0.01M61.8,203.2h0.01M66.0,196.9h0.01M57.5,191.8h0.01M50.9,196.7h0.01M59.9,203.5h0.01M63.6,202.8h0.01M43.8,203.4h0.01M65.8,207.0h0.01M67.5,207.6h0.01M66.8,201.0h0.01M64.4,198.9h0.01M58.7,149.4h0.01M71.9,202.9h0.01M59.9,188.2h0.01M61.1,201.9h0.01M66.9,193.8h0.01" stroke="#b88076" stroke-width="1.60" stroke-linecap="round"/>
<path d="M64.9,153.4h0.01M56.1,156.2h0.01M63.4,200.1h0.01M57.0,184.2h0.01M58.7,200.8h0.01M57.3,189.1h0.01M69.3,204.4h0.01M52.1,184.2h0.01M82.7,187.5h0.01M60.3,194.3h0.01M52.0,162.2h0.01M83.5,188.7h0.01M83.8,190.4h0.01M81.4,193.5h0.01M58.2,199.9h0.01M58.7,172.1h0.01M64.0,194.9h0.01M70.4,191.3h0.01M71.2,168.7h0.01M63.6,192.2h0.01M54.8,178.7h0.01M64.3,164.3h0.01M69.7,182.4h0.01M67.7,173.4h0.01M73.9,179.8h0.01M64.0,173.4h0.01M38.0,159.9h0.01M44.1,200.1h0.01M67.2,181.0h0.01M54.1,188.2h0.01M57.6,166.5h0.01M59.7,195.3h0.01M69.9,189.0h0.01M57.6,182.9h0.01M54.0,160.7h0.01M74.1,197.8h0.01M73.6,185.2h0.01M38.6,162.2h0.01M78.2,163.3h0.01M56.3,179.0h0.01M60.0,162.1h0.01M69.4,197.2h0.01M75.8,182.5h0.01M63.4,189.1h0.01M63.7,187.3h0.01M50.2,203.5h0.01M58.2,160.0h0.01M75.7,186.5h0.01M79.2,203.8h0.01M62.6,189.9h0.01M75.5,185.3h0.01M55.0,185.9h0.01M81.5,190.3h0.01M55.2,169.6h0.01M55.5,185.8h0.01M74.8,180.1h0.01M66.5,179.0h0.01M64.7,197.2h0.01M69.7,193.1h0.01M49.4,185.7h0.01M55.1,193.7h0.01M76.0,183.9h0.01M71.6,183.9h0.01M57.8,166.5h0.01M54.5,156.3h0.01M78.6,199.9h0.01M78.6,187.6h0.01M67.2,189.6h0.01M52.3,171.6h0.01M68.5,195.3h0.01M84.9,192.3h0.01M57.8,176.8h0.01M48.9,163.8h0.01M45.8,201.8h0.01M53.6,178.6h0.01M71.5,184.2h0.01M63.1,184.5h0.01M66.0,190.6h0.01M51.1,189.9h0.01M61.1,185.9h0.01M69.6,194.3h0.01M71.4,183.1h0.01M60.9,195.1h0.01M62.3,176.4h0.01M70.3,195.6h0.01M66.3,183.5h0.01M63.6,190.7h0.01M64.0,179.8h0.01M75.7,196.6h0.01M54.2,179.2h0.01M75.2,192.4h0.01M55.2,198.9h0.01M70.4,201.8h0.01M73.1,189.6h0.01M56.7,181.8h0.01M80.7,182.7h0.01M43.6,164.6h0.01M70.3,193.0h0.01M78.4,181.8h0.01M71.7,156.6h0.01M61.3,172.2h0.01M69.3,194.0h0.01" stroke="#7a6a80" stroke-width="1.60" stroke-linecap="round"/>
<path d="M66.9,206.5h0.01M77.5,196.9h0.01M61.8,172.7h0.01M68.8,202.8h0.01M69.8,205.1h0.01M63.5,197.8h0.01M70.9,203.4h0.01M53.8,202.6h0.01M51.2,200.5h0.01M65.9,200.8h0.01M51.5,202.9h0.01M58.1,194.4h0.01M61.9,193.7h0.01M56.6,203.2h0.01M53.9,196.8h0.01M65.1,208.2h0.01M74.4,208.3h0.01M57.4,197.3h0.01M69.4,198.6h0.01M63.2,207.4h0.01M59.1,200.6h0.01M64.7,199.9h0.01M47.5,199.1h0.01M58.6,201.5h0.01M57.2,196.1h0.01M44.1,194.7h0.01M55.3,168.8h0.01M40.4,192.7h0.01M50.9,197.4h0.01M68.5,204.4h0.01M55.1,195.5h0.01M62.7,202.4h0.01M60.2,168.3h0.01M70.3,205.1h0.01M57.5,198.0h0.01M46.4,206.9h0.01M53.5,201.3h0.01M67.3,203.0h0.01M60.9,201.7h0.01M67.5,202.9h0.01M58.5,200.0h0.01M75.2,205.4h0.01M70.1,204.2h0.01M40.5,191.8h0.01M71.7,207.1h0.01M58.7,206.1h0.01M54.4,189.5h0.01M75.5,199.7h0.01M81.2,171.5h0.01M55.6,201.9h0.01M71.0,204.4h0.01M65.2,202.5h0.01M59.1,201.6h0.01M68.3,193.1h0.01M68.6,197.8h0.01M80.2,201.4h0.01M69.1,200.4h0.01M62.3,189.9h0.01M57.9,200.0h0.01M62.1,207.0h0.01M52.5,202.3h0.01M58.5,194.5h0.01M49.1,206.7h0.01M72.9,201.4h0.01M65.4,206.7h0.01" stroke="#a8706a" stroke-width="1.60" stroke-linecap="round"/>
<path d="M29.0,172.2h0.01M49.3,169.7h0.01M44.1,178.2h0.01M44.5,186.6h0.01M68.6,196.9h0.01M64.8,152.2h0.01M38.5,185.2h0.01M49.7,173.2h0.01M48.3,178.9h0.01M40.2,177.6h0.01M50.2,174.1h0.01M41.7,176.8h0.01M51.6,176.7h0.01M40.5,181.2h0.01M42.7,170.1h0.01M61.3,155.7h0.01M83.6,149.0h0.01M47.5,175.4h0.01M50.4,183.1h0.01M46.8,181.2h0.01M62.1,164.9h0.01M38.2,175.5h0.01M38.2,181.1h0.01M58.4,152.0h0.01M48.0,181.5h0.01M65.2,156.8h0.01M41.8,182.9h0.01M51.2,172.8h0.01M41.6,179.6h0.01M47.6,186.6h0.01M44.1,177.9h0.01M49.1,182.9h0.01M43.8,174.4h0.01M32.2,183.6h0.01M39.1,196.9h0.01M45.8,173.5h0.01M51.9,176.8h0.01M52.6,177.3h0.01M39.9,173.5h0.01M57.5,175.5h0.01M59.5,158.1h0.01M48.3,154.6h0.01M56.1,184.9h0.01M46.1,179.5h0.01M34.4,200.0h0.01M47.9,179.4h0.01M47.6,177.6h0.01M51.1,173.3h0.01M76.0,169.6h0.01M44.8,176.0h0.01M44.5,179.8h0.01M38.3,174.2h0.01M42.6,178.8h0.01M42.0,161.7h0.01M56.5,159.2h0.01M49.1,154.1h0.01M81.7,167.4h0.01M62.6,157.3h0.01M46.2,177.4h0.01M48.4,178.1h0.01M52.5,164.4h0.01M67.5,164.2h0.01" stroke="#4a9a5a" stroke-width="1.60" stroke-linecap="round"/>
<path d="M60.9,192.1h0.01M55.5,180.8h0.01M64.4,205.3h0.01M47.9,185.3h0.01M55.9,189.3h0.01M47.7,189.0h0.01M73.5,201.5h0.01M69.0,185.9h0.01M72.2,190.0h0.01M80.3,183.8h0.01M57.3,178.9h0.01M64.9,187.9h0.01M56.7,185.8h0.01M59.2,193.5h0.01M60.3,191.2h0.01M25.8,185.5h0.01M60.3,190.7h0.01M81.8,194.4h0.01M76.9,195.3h0.01M64.8,199.1h0.01M79.3,189.3h0.01M58.7,184.2h0.01M64.1,184.7h0.01M50.3,190.1h0.01M48.7,194.9h0.01M73.1,188.7h0.01M50.6,196.4h0.01M68.4,177.0h0.01M63.3,184.8h0.01M80.2,188.3h0.01M55.2,185.6h0.01M48.9,194.5h0.01M64.6,188.3h0.01M66.0,182.2h0.01M65.8,189.2h0.01M62.6,187.7h0.01M61.5,195.4h0.01M57.3,184.6h0.01M65.4,185.3h0.01M59.7,180.6h0.01M64.7,182.5h0.01M59.2,179.4h0.01M80.0,180.8h0.01M71.7,186.0h0.01M67.9,189.2h0.01M66.1,184.7h0.01M67.8,182.9h0.01M69.8,202.0h0.01M68.9,181.3h0.01M53.0,178.2h0.01M66.7,181.7h0.01M63.3,184.2h0.01M62.7,191.6h0.01M63.9,193.3h0.01M69.1,178.5h0.01M74.3,176.4h0.01M51.8,190.9h0.01M67.2,187.2h0.01M74.3,193.6h0.01M67.7,192.4h0.01M49.5,182.1h0.01M66.3,175.9h0.01M65.5,168.9h0.01M65.5,189.2h0.01M74.7,189.1h0.01M58.8,181.6h0.01M66.7,179.9h0.01M85.6,185.2h0.01M82.1,196.8h0.01M65.5,201.0h0.01M63.2,194.8h0.01M34.8,186.3h0.01M76.9,176.8h0.01M63.3,182.2h0.01M72.5,172.8h0.01M56.5,185.1h0.01M54.6,169.9h0.01M58.8,187.1h0.01M64.1,192.7h0.01M85.7,193.0h0.01M76.0,199.2h0.01" stroke="#707080" stroke-width="1.60" stroke-linecap="round"/>
<path d="M50.8,200.4h0.01M71.5,203.0h0.01M51.6,204.8h0.01M63.6,201.0h0.01M68.8,193.2h0.01M54.0,203.6h0.01M67.9,194.3h0.01M58.6,200.2h0.01M67.5,199.4h0.01M46.8,205.3h0.01M58.0,169.3h0.01M68.4,200.0h0.01M77.1,205.3h0.01M62.5,200.1h0.01M66.0,205.9h0.01M66.9,175.0h0.01M67.3,204.4h0.01M64.6,206.4h0.01M62.0,201.7h0.01M64.8,203.4h0.01M64.9,203.0h0.01M68.5,180.5h0.01M67.0,205.0h0.01M48.1,196.4h0.01M51.5,192.4h0.01M60.4,205.1h0.01M52.0,197.6h0.01M52.9,201.9h0.01M72.8,202.5h0.01M58.4,203.5h0.01M69.6,200.7h0.01M51.9,198.1h0.01M63.2,202.8h0.01M72.0,201.2h0.01M67.0,207.3h0.01M65.5,203.5h0.01M72.0,200.6h0.01M70.9,198.7h0.01M59.9,201.0h0.01M64.8,199.3h0.01M61.4,198.3h0.01M55.0,196.8h0.01M46.4,206.3h0.01M56.1,205.2h0.01M64.8,202.4h0.01M74.1,205.2h0.01M57.0,208.3h0.01M57.2,203.3h0.01M52.4,205.6h0.01M70.9,198.4h0.01M79.0,198.9h0.01M50.1,202.8h0.01M64.2,203.4h0.01M69.4,197.8h0.01M57.4,203.5h0.01M54.7,205.4h0.01M44.9,200.3h0.01M48.0,208.6h0.01M68.1,204.6h0.01M56.7,193.2h0.01M68.5,200.7h0.01M59.4,198.4h0.01M69.5,204.6h0.01M70.0,205.0h0.01M77.3,193.9h0.01M72.3,201.5h0.01M68.1,207.7h0.01M57.9,200.4h0.01M65.5,199.6h0.01M54.1,200.7h0.01M53.6,195.6h0.01M78.3,180.1h0.01M62.6,203.2h0.01M60.7,198.8h0.01M71.9,203.4h0.01M40.9,201.4h0.01M57.1,177.2h0.01" stroke="#946060" stroke-width="1.60" stroke-linecap="round"/>
<path d="M48.4,178.0h0.01M50.9,176.6h0.01M47.8,173.8h0.01M49.9,175.6h0.01M41.8,177.9h0.01M50.7,174.8h0.01M44.8,177.7h0.01M47.4,182.7h0.01M50.0,174.3h0.01M52.1,182.4h0.01M43.8,165.2h0.01M42.9,181.0h0.01M42.0,174.9h0.01M59.8,179.3h0.01M60.0,182.6h0.01M54.1,203.0h0.01M41.5,177.2h0.01M50.7,179.1h0.01M48.7,177.1h0.01M72.2,174.6h0.01M42.6,177.9h0.01M51.3,151.5h0.01M45.7,183.4h0.01M37.9,184.8h0.01M71.7,192.7h0.01M27.8,175.8h0.01M52.1,178.4h0.01M48.9,177.0h0.01M41.0,177.6h0.01M38.3,177.2h0.01M63.1,159.1h0.01M43.6,175.2h0.01M43.4,168.8h0.01M47.8,182.6h0.01M36.2,179.7h0.01M49.9,181.6h0.01M52.6,172.3h0.01M50.7,182.0h0.01M41.5,179.1h0.01M37.8,182.5h0.01M45.9,171.6h0.01M43.0,186.3h0.01M42.5,175.6h0.01M54.6,168.6h0.01M44.8,173.9h0.01M73.4,162.5h0.01M39.1,171.3h0.01M51.5,177.1h0.01M48.9,166.8h0.01M47.5,168.7h0.01M71.0,161.1h0.01M64.3,186.7h0.01M45.2,175.3h0.01M50.4,172.7h0.01M50.1,155.0h0.01M46.7,180.4h0.01M44.8,180.4h0.01M44.8,178.2h0.01M53.7,171.2h0.01" stroke="#55a065" stroke-width="1.60" stroke-linecap="round"/>
<path d="M21.3,161.4h0.01M49.3,163.5h0.01M19.8,163.2h0.01M26.1,155.8h0.01M17.6,162.6h0.01M32.9,152.6h0.01M72.7,155.2h0.01M17.5,155.7h0.01M25.3,157.2h0.01M26.7,158.8h0.01M41.1,158.7h0.01M22.3,154.5h0.01M18.1,160.8h0.01M28.5,161.8h0.01M32.1,164.8h0.01M52.6,165.6h0.01M50.6,158.4h0.01M42.1,156.4h0.01M34.1,157.1h0.01M44.1,158.7h0.01M86.9,168.7h0.01M36.8,168.6h0.01M45.0,150.0h0.01M66.4,165.1h0.01M31.6,172.6h0.01M42.2,162.7h0.01M36.5,149.9h0.01M61.1,149.4h0.01M49.8,153.3h0.01M25.9,157.9h0.01" stroke="#888" stroke-width="1.60" stroke-linecap="round"/>
<path d="M20.7,162.3h0.01M23.4,164.4h0.01M73.5,175.0h0.01M41.0,168.1h0.01M56.1,180.2h0.01M32.7,165.3h0.01M43.7,160.8h0.01M30.2,170.1h0.01M36.0,167.3h0.01M25.1,154.6h0.01M45.6,151.7h0.01M47.3,155.9h0.01M44.2,166.5h0.01M68.9,173.0h0.01M38.4,159.4h0.01M50.1,167.9h0.01M35.6,156.7h0.01M31.5,155.5h0.01M16.2,165.9h0.01M30.9,169.1h0.01M23.1,164.9h0.01" stroke="#aaa" stroke-width="1.60" stroke-linecap="round"/>
<path d="M57.9,167.6h0.01M56.4,156.0h0.01M57.7,163.3h0.01M53.0,154.3h0.01M49.8,157.2h0.01M51.4,158.3h0.01M55.8,161.5h0.01M49.9,158.7h0.01M49.8,157.5h0.01" stroke="#3a8a80" stroke-width="1.60" stroke-linecap="round"/>
<path d="M102.85,175.00 Q102.40,172.10 103.35,167.80 Q104.30,163.50 105.75,159.65 Q107.20,155.80 112.00,153.85 Q116.80,151.90 124.50,150.45 Q132.20,149.00 136.05,147.10 Q139.90,145.20 145.65,143.30 Q151.40,141.40 159.10,139.95 Q166.80,138.50 172.55,138.00 Q178.30,137.50 181.20,138.45 Q184.10,139.40 184.90,143.25 Q185.70,147.10 185.20,151.90 Q184.70,156.70 185.80,162.50 Q186.90,168.30 187.20,175.00 Q187.50,181.70 186.35,187.50 Q185.20,193.30 183.35,198.55 Q181.50,203.80 176.05,206.10 Q170.60,208.40 163.90,208.90 Q157.20,209.40 150.45,208.80 Q143.70,208.20 139.85,210.35 Q136.00,212.50 134.10,215.40 Q132.20,218.30 129.30,218.75 Q126.40,219.20 124.45,216.80 Q122.50,214.40 121.55,207.70 Q120.60,201.00 118.70,194.25 Q116.80,187.50 112.95,184.60 Q109.10,181.70 106.20,179.80 Q103.30,177.90 102.85,175.00 Z" fill="#fcfcfc" stroke="#e8e8e8" stroke-width="1.8"/>
<ellipse cx="115.2" cy="157.6" rx="8.0" ry="2.9" fill="#e4e4e4"/>
<path d="M121.4,156.8h0.01M108.2,158.0h0.01M107.5,156.2h0.01M119.2,158.4h0.01M109.9,155.2h0.01M120.5,158.2h0.01M116.9,159.7h0.01M117.0,153.0h0.01M113.4,157.6h0.01M108.3,158.0h0.01M109.4,158.4h0.01M115.7,157.8h0.01M114.7,157.5h0.01M109.3,158.1h0.01M109.6,157.8h0.01M111.0,157.8h0.01M114.9,160.3h0.01M117.3,159.4h0.01M119.6,159.2h0.01M113.4,156.5h0.01M122.2,156.8h0.01M118.7,159.4h0.01M122.4,155.8h0.01M110.9,159.4h0.01M118.0,155.3h0.01M120.5,161.3h0.01M106.6,159.8h0.01M119.7,156.6h0.01M117.2,156.8h0.01M119.7,154.0h0.01M116.0,157.5h0.01M120.8,159.7h0.01M113.2,158.7h0.01M112.7,157.1h0.01M118.7,161.2h0.01M118.7,158.6h0.01M108.7,158.3h0.01M121.0,157.1h0.01M120.9,158.6h0.01M120.2,162.2h0.01M111.7,158.4h0.01M121.3,154.7h0.01M117.7,158.0h0.01M119.7,160.9h0.01M115.0,159.7h0.01M113.1,156.7h0.01M111.8,158.2h0.01M112.2,155.0h0.01M119.6,158.7h0.01M111.5,156.1h0.01M112.2,156.7h0.01M116.8,156.6h0.01M113.9,156.4h0.01M105.3,160.6h0.01M112.0,160.2h0.01M113.5,157.1h0.01M123.0,157.8h0.01M118.4,160.5h0.01M110.4,157.1h0.01M109.9,156.8h0.01" stroke="#c8c8c8" stroke-width="0.70" stroke-linecap="round"/>
<ellipse cx="157.2" cy="144.8" rx="6.4" ry="2.9" fill="#e4e4e4"/>
<path d="M153.9,146.9h0.01M163.2,144.8h0.01M157.8,147.5h0.01M157.2,145.4h0.01M155.6,144.9h0.01M153.7,146.7h0.01M160.9,142.7h0.01M154.2,141.0h0.01M155.2,142.7h0.01M150.7,147.2h0.01M152.9,146.3h0.01M155.2,145.1h0.01M155.3,144.4h0.01M151.3,144.5h0.01M154.8,145.4h0.01M156.6,143.3h0.01M147.0,146.1h0.01M159.4,143.1h0.01M156.1,147.1h0.01M152.0,144.2h0.01M156.1,143.2h0.01M158.9,144.3h0.01M157.1,143.1h0.01M157.3,144.5h0.01M157.2,141.6h0.01M159.7,143.9h0.01M151.9,144.9h0.01M154.9,145.4h0.01M158.6,144.1h0.01M157.3,146.9h0.01M153.0,141.8h0.01M156.1,144.4h0.01M154.4,143.9h0.01M157.2,144.7h0.01M150.7,144.3h0.01M150.9,147.2h0.01M151.6,144.7h0.01M156.6,143.1h0.01M166.7,149.1h0.01M160.9,144.8h0.01" stroke="#c8c8c8" stroke-width="0.70" stroke-linecap="round"/>
<ellipse cx="171.8" cy="150.3" rx="6.4" ry="2.6" fill="#e4e4e4"/>
<path d="M171.1,151.0h0.01M175.1,150.8h0.01M169.4,151.6h0.01M170.8,147.8h0.01M175.0,149.3h0.01M167.1,150.1h0.01M169.9,152.4h0.01M175.4,149.3h0.01M178.7,151.7h0.01M171.4,150.5h0.01M171.3,153.3h0.01M175.9,150.8h0.01M166.0,147.8h0.01M169.0,149.8h0.01M168.6,150.7h0.01M163.7,152.3h0.01M160.4,151.3h0.01M170.1,149.8h0.01M175.2,148.3h0.01M174.3,150.3h0.01M176.6,150.1h0.01M161.1,152.4h0.01M171.1,151.7h0.01M176.9,148.1h0.01M168.3,146.6h0.01M166.6,149.6h0.01M173.0,150.7h0.01M171.7,148.8h0.01M174.2,149.5h0.01M171.7,152.1h0.01M176.5,151.4h0.01M174.4,147.6h0.01M172.7,150.8h0.01M170.2,150.5h0.01M174.5,150.0h0.01M169.1,151.2h0.01M175.4,151.2h0.01M176.2,154.2h0.01M175.4,150.6h0.01M166.7,149.1h0.01" stroke="#c8c8c8" stroke-width="0.70" stroke-linecap="round"/>
<ellipse cx="107.8" cy="172.2" rx="4.8" ry="3.2" fill="#e4e4e4"/>
<path d="M106.3,173.5h0.01M109.9,173.4h0.01M113.4,169.8h0.01M109.5,173.3h0.01M109.3,170.9h0.01M108.5,174.7h0.01M106.5,170.7h0.01M108.0,170.6h0.01M104.2,170.9h0.01M110.0,172.7h0.01M109.2,170.2h0.01M108.3,176.6h0.01M105.2,171.5h0.01M107.0,175.6h0.01M106.1,171.6h0.01M108.7,171.6h0.01M106.9,170.8h0.01M108.8,170.7h0.01M110.5,173.1h0.01M111.5,174.5h0.01M104.8,172.4h0.01M106.8,170.4h0.01M104.6,172.6h0.01M111.4,170.6h0.01M105.3,166.9h0.01M111.7,172.4h0.01M106.3,168.8h0.01M110.8,171.0h0.01M106.2,172.3h0.01M107.1,171.4h0.01M108.1,171.7h0.01M108.0,175.2h0.01M107.4,174.1h0.01M109.7,175.2h0.01M111.3,172.6h0.01M110.3,172.6h0.01M106.4,175.7h0.01M102.3,171.0h0.01M108.1,172.8h0.01M99.4,172.5h0.01" stroke="#c8c8c8" stroke-width="0.70" stroke-linecap="round"/>
<ellipse cx="131.6" cy="207.0" rx="4.8" ry="4.8" fill="#e4e4e4"/>
<path d="M132.5,212.2h0.01M133.3,206.8h0.01M131.9,204.7h0.01M134.0,213.7h0.01M129.1,204.6h0.01M133.0,205.8h0.01M128.5,206.3h0.01M134.7,204.6h0.01M134.5,208.7h0.01M131.0,210.4h0.01M130.1,203.1h0.01M131.5,205.5h0.01M133.2,205.8h0.01M127.1,202.8h0.01M128.6,203.0h0.01M134.3,205.8h0.01M130.9,204.2h0.01M127.8,207.8h0.01M125.1,209.3h0.01M130.3,207.4h0.01M126.4,207.7h0.01M131.9,204.2h0.01M131.3,205.1h0.01M136.9,208.0h0.01M127.9,208.5h0.01M133.4,206.6h0.01M128.0,208.4h0.01M128.5,206.1h0.01M130.9,203.5h0.01M129.1,207.7h0.01" stroke="#c8c8c8" stroke-width="0.70" stroke-linecap="round"/>
<ellipse cx="127.7" cy="214.2" rx="3.2" ry="3.2" fill="#e4e4e4"/>
<path d="M126.8,213.0h0.01M124.3,216.9h0.01M129.2,217.1h0.01M128.3,213.2h0.01M129.0,214.4h0.01M126.7,215.9h0.01M130.5,215.1h0.01M128.5,214.6h0.01M129.5,216.0h0.01M126.3,217.9h0.01M127.0,214.3h0.01M130.1,212.0h0.01M127.5,213.9h0.01M127.6,214.0h0.01M130.5,213.4h0.01M129.8,215.5h0.01M128.0,215.5h0.01M131.3,215.9h0.01M124.7,215.0h0.01M127.5,214.6h0.01" stroke="#c8c8c8" stroke-width="0.70" stroke-linecap="round"/>
<ellipse cx="133.7" cy="152.2" rx="9.6" ry="3.2" fill="#e4e4e4"/>
<path d="M127.6,152.0h0.01M131.5,153.3h0.01M128.5,154.1h0.01M135.3,148.5h0.01M132.8,149.7h0.01M133.3,149.0h0.01M136.5,151.1h0.01M131.8,150.9h0.01M139.6,152.5h0.01M139.5,151.5h0.01M128.1,154.7h0.01M141.0,151.0h0.01M131.5,150.8h0.01M129.3,150.6h0.01M131.7,151.6h0.01M126.2,152.4h0.01M135.4,151.2h0.01M140.4,150.4h0.01M124.8,149.5h0.01M135.9,152.5h0.01M136.8,151.1h0.01M137.3,150.2h0.01M137.2,151.6h0.01M136.0,152.7h0.01M130.8,156.0h0.01M138.6,155.2h0.01M135.4,150.4h0.01M138.0,151.3h0.01M135.3,148.4h0.01M132.0,148.4h0.01" stroke="#c8c8c8" stroke-width="0.70" stroke-linecap="round"/>
<path d="M152.4,179.4h0.01M132.4,172.0h0.01M145.5,171.6h0.01M140.4,187.1h0.01M147.7,178.5h0.01M140.1,172.7h0.01M142.9,172.0h0.01M136.2,170.5h0.01M145.6,161.6h0.01M131.5,173.9h0.01M137.7,168.5h0.01M158.8,179.3h0.01M120.9,169.7h0.01M175.5,166.2h0.01M127.5,187.4h0.01M142.3,171.1h0.01M138.0,168.3h0.01M146.1,174.2h0.01M139.0,172.3h0.01M142.8,176.9h0.01M151.1,148.4h0.01M158.0,177.5h0.01M157.9,173.2h0.01M133.5,166.7h0.01M145.5,171.2h0.01M145.2,177.7h0.01M130.1,159.8h0.01M145.6,180.7h0.01M133.8,173.5h0.01M136.7,175.3h0.01M139.4,183.3h0.01M145.1,174.6h0.01M140.9,178.5h0.01M150.3,173.3h0.01M131.9,175.5h0.01M130.8,163.5h0.01M138.5,176.8h0.01M131.8,169.0h0.01M142.8,178.7h0.01M122.8,171.9h0.01M123.6,166.9h0.01M150.8,163.7h0.01M130.4,175.4h0.01M135.4,171.4h0.01M146.1,175.0h0.01M144.9,181.7h0.01M144.5,160.2h0.01M146.8,166.9h0.01M146.0,182.5h0.01M157.2,179.4h0.01M135.5,158.2h0.01M137.7,176.0h0.01M132.2,159.0h0.01M125.1,155.0h0.01M129.9,163.1h0.01M156.1,182.9h0.01M139.7,175.4h0.01M132.1,165.2h0.01M146.1,179.0h0.01M139.5,175.0h0.01M142.0,172.3h0.01M142.1,178.0h0.01M139.0,187.2h0.01M141.6,180.3h0.01M134.7,177.9h0.01M157.3,170.8h0.01M145.3,182.6h0.01M126.6,161.3h0.01M132.2,170.7h0.01M131.6,177.9h0.01M145.6,188.9h0.01M142.4,178.9h0.01M143.3,174.5h0.01M139.4,174.9h0.01M112.5,164.9h0.01M141.6,181.1h0.01M143.1,172.7h0.01M138.4,178.1h0.01M138.7,181.6h0.01M116.5,165.0h0.01M136.0,170.7h0.01M145.0,174.2h0.01M143.4,174.6h0.01M135.8,174.3h0.01M131.3,178.3h0.01M142.7,176.2h0.01M146.0,179.4h0.01M139.5,175.2h0.01M121.6,163.5h0.01M147.2,154.5h0.01M138.6,185.1h0.01M144.9,183.2h0.01M133.0,170.1h0.01M141.2,169.6h0.01M137.9,176.3h0.01M142.4,178.6h0.01M138.2,167.9h0.01M151.6,184.9h0.01M128.8,162.7h0.01M142.3,160.0h0.01M138.3,158.8h0.01M137.7,173.0h0.01M140.4,181.0h0.01M134.7,165.4h0.01M145.6,160.5h0.01M132.8,186.0h0.01M106.1,170.0h0.01M142.8,177.5h0.01M135.0,179.2h0.01M132.4,157.1h0.01M129.5,152.1h0.01M128.8,175.5h0.01M140.7,186.2h0.01M156.5,167.8h0.01M135.3,173.9h0.01M141.9,177.3h0.01M143.8,176.6h0.01M134.2,173.0h0.01M144.8,174.4h0.01M142.2,177.4h0.01M132.5,184.8h0.01M149.0,181.5h0.01M136.0,181.7h0.01M136.6,182.0h0.01M139.2,182.6h0.01M153.8,151.0h0.01M151.2,159.8h0.01M131.1,167.7h0.01M162.5,178.3h0.01M150.4,176.1h0.01M154.7,197.9h0.01M141.6,173.4h0.01M140.8,180.2h0.01M128.3,172.1h0.01" stroke="#55a065" stroke-width="1.60" stroke-linecap="round"/>
<path d="M131.3,173.3h0.01M124.9,177.3h0.01M138.6,167.4h0.01M137.5,180.2h0.01M146.7,174.3h0.01M143.2,178.4h0.01M127.3,164.8h0.01M155.3,191.6h0.01M138.0,181.3h0.01M141.0,175.0h0.01M133.6,174.9h0.01M140.3,164.2h0.01M143.1,162.4h0.01M134.3,171.4h0.01M143.4,176.8h0.01M116.3,169.9h0.01M132.4,164.6h0.01M136.8,174.2h0.01M133.9,161.1h0.01M150.8,185.8h0.01M141.6,156.1h0.01M125.2,167.6h0.01M139.9,162.1h0.01M148.0,179.1h0.01M147.7,159.2h0.01M141.3,181.9h0.01M140.7,179.3h0.01M140.8,172.3h0.01M139.8,175.0h0.01M147.7,180.1h0.01M142.9,175.6h0.01M144.4,184.3h0.01M115.5,160.7h0.01M134.5,174.9h0.01M139.7,177.6h0.01M127.7,181.8h0.01M138.9,180.0h0.01M136.2,175.7h0.01M139.5,170.3h0.01M132.6,175.2h0.01M117.5,160.8h0.01M152.2,179.4h0.01M130.9,176.5h0.01M144.8,179.1h0.01M146.0,184.6h0.01M144.7,176.2h0.01M146.4,174.0h0.01M126.2,166.2h0.01M132.9,176.8h0.01M135.2,178.6h0.01M149.0,176.5h0.01M151.1,183.0h0.01M150.0,177.3h0.01M143.6,181.9h0.01M112.9,159.9h0.01M139.3,182.7h0.01M128.6,180.8h0.01M144.3,183.1h0.01M156.8,174.2h0.01M153.7,165.5h0.01M127.2,165.8h0.01M136.1,158.4h0.01M142.2,177.1h0.01M153.4,149.2h0.01M135.5,172.3h0.01M141.8,177.8h0.01M155.3,198.9h0.01M143.5,172.7h0.01M129.6,164.5h0.01M141.3,182.3h0.01M140.4,183.7h0.01M146.9,178.5h0.01M137.4,184.7h0.01M143.6,177.8h0.01M121.5,168.2h0.01M135.8,178.3h0.01M141.6,183.5h0.01M126.1,171.4h0.01M142.9,182.3h0.01M133.1,185.8h0.01M134.6,156.4h0.01M140.7,166.2h0.01M147.4,183.9h0.01M136.0,170.4h0.01M153.7,153.8h0.01M137.1,170.6h0.01M140.0,178.9h0.01M144.1,173.7h0.01M149.3,177.7h0.01M142.8,172.5h0.01M137.7,183.1h0.01M138.5,176.7h0.01M131.8,182.2h0.01M141.3,175.4h0.01M137.4,176.6h0.01M137.1,158.8h0.01M154.3,177.1h0.01M139.8,178.6h0.01M137.3,176.9h0.01M135.6,176.3h0.01M144.1,156.2h0.01M145.7,154.2h0.01M142.2,179.3h0.01M149.2,181.5h0.01M145.9,166.2h0.01M122.6,170.7h0.01M128.7,176.6h0.01M142.4,183.9h0.01M144.4,174.9h0.01M136.4,177.8h0.01M143.0,173.3h0.01M126.8,167.4h0.01M145.5,180.5h0.01M125.6,160.7h0.01M134.3,185.8h0.01M129.9,181.7h0.01" stroke="#6ab27a" stroke-width="1.60" stroke-linecap="round"/>
<path d="M168.7,184.2h0.01M185.3,174.6h0.01M172.7,189.6h0.01M168.3,185.4h0.01M158.6,178.6h0.01M154.6,165.7h0.01M149.7,186.5h0.01M162.6,193.1h0.01M141.2,180.5h0.01M174.1,174.1h0.01M158.8,193.3h0.01M161.0,191.8h0.01M146.3,180.0h0.01M182.4,170.7h0.01M146.4,155.5h0.01M164.5,191.5h0.01M172.7,194.8h0.01M161.6,193.3h0.01M156.4,201.4h0.01M148.8,188.1h0.01M173.5,189.6h0.01M163.4,189.6h0.01M158.0,177.2h0.01M173.9,181.1h0.01M162.5,192.8h0.01M154.0,199.7h0.01M160.2,183.6h0.01M143.6,191.1h0.01M153.9,190.9h0.01M172.9,183.0h0.01M158.9,198.1h0.01M176.5,190.3h0.01M126.8,163.7h0.01M158.6,179.7h0.01M166.0,179.7h0.01M145.1,189.1h0.01M155.5,180.0h0.01M163.2,190.6h0.01M162.3,182.3h0.01M155.3,185.9h0.01M161.9,182.5h0.01M147.5,205.0h0.01M168.5,192.1h0.01M158.0,191.5h0.01M152.4,188.4h0.01M139.7,194.4h0.01M155.9,193.4h0.01M156.6,196.2h0.01M145.1,189.8h0.01M149.8,191.8h0.01M152.9,199.9h0.01M160.8,180.1h0.01M157.8,192.9h0.01M174.8,184.1h0.01M164.4,181.8h0.01M149.0,189.9h0.01M129.5,186.1h0.01M156.3,189.7h0.01M171.4,176.1h0.01M152.9,172.5h0.01M150.9,198.4h0.01M158.8,202.2h0.01M158.3,188.6h0.01M147.2,174.0h0.01M170.9,166.7h0.01M149.1,180.1h0.01M158.7,187.1h0.01M165.7,181.1h0.01M163.8,196.9h0.01M156.1,190.6h0.01M144.3,202.5h0.01M156.3,192.2h0.01M176.5,194.5h0.01M144.7,185.6h0.01M155.2,193.7h0.01M150.3,184.5h0.01M167.6,172.5h0.01M155.9,189.2h0.01M155.4,185.0h0.01M161.3,203.8h0.01M168.0,185.2h0.01M151.2,207.5h0.01M167.7,190.5h0.01M127.2,182.5h0.01M165.6,192.3h0.01M145.9,183.7h0.01M168.8,199.8h0.01M168.0,192.5h0.01M150.6,185.4h0.01M175.6,180.5h0.01M166.5,179.1h0.01M159.5,183.2h0.01M158.9,194.9h0.01M160.2,198.8h0.01M169.1,207.9h0.01M176.8,193.5h0.01M167.9,186.6h0.01M137.3,176.6h0.01M170.7,193.8h0.01M175.2,172.5h0.01M177.6,185.5h0.01M141.6,195.7h0.01M151.7,179.3h0.01M145.1,194.3h0.01M155.4,188.2h0.01" stroke="#6a7070" stroke-width="1.60" stroke-linecap="round"/>
<path d="M155.0,194.7h0.01M138.7,197.9h0.01M154.5,200.5h0.01M157.6,179.1h0.01M147.0,205.4h0.01M144.5,195.6h0.01M159.1,201.9h0.01M177.6,187.5h0.01M152.3,202.8h0.01M161.7,206.0h0.01M165.3,198.3h0.01M130.6,217.9h0.01M157.0,207.8h0.01M165.0,206.5h0.01M166.3,202.7h0.01M144.6,201.7h0.01M144.5,154.5h0.01M170.0,192.5h0.01M166.3,199.0h0.01M157.6,196.5h0.01M151.6,197.7h0.01M156.0,195.2h0.01M133.6,207.1h0.01M162.0,197.8h0.01M158.4,173.6h0.01M143.5,206.7h0.01M152.2,202.7h0.01M158.8,202.9h0.01M154.7,199.0h0.01M144.1,200.6h0.01M167.7,204.5h0.01M169.4,204.4h0.01M168.5,196.0h0.01M153.4,179.6h0.01M149.4,203.1h0.01M163.2,195.4h0.01M151.4,202.8h0.01M155.0,194.1h0.01M154.3,204.9h0.01M154.4,180.0h0.01M152.8,196.6h0.01M139.1,166.1h0.01M157.6,205.0h0.01M149.0,197.6h0.01M160.9,206.7h0.01M166.6,203.9h0.01M160.2,191.6h0.01M171.6,202.7h0.01M167.9,180.8h0.01M112.8,172.4h0.01M174.3,195.5h0.01M165.5,206.4h0.01M166.5,202.5h0.01M156.1,199.9h0.01M157.8,171.6h0.01M160.8,201.1h0.01M153.2,206.1h0.01M149.2,208.0h0.01M160.3,198.2h0.01M169.8,197.8h0.01M156.6,199.7h0.01M160.3,206.4h0.01M146.4,199.2h0.01M141.6,199.5h0.01M159.7,205.7h0.01M147.6,206.6h0.01M154.3,200.9h0.01M157.3,181.7h0.01M156.8,194.1h0.01M158.4,198.9h0.01M154.2,177.4h0.01M160.0,201.8h0.01M157.2,199.3h0.01M150.4,198.0h0.01M137.7,180.7h0.01M160.2,199.8h0.01M156.1,195.0h0.01" stroke="#a86a60" stroke-width="1.60" stroke-linecap="round"/>
<path d="M161.1,194.6h0.01M158.1,195.2h0.01M152.4,181.0h0.01M160.1,193.3h0.01M158.0,173.7h0.01M164.0,191.3h0.01M173.0,193.5h0.01M177.8,196.1h0.01M142.8,195.6h0.01M162.5,182.4h0.01M151.3,197.8h0.01M151.3,186.0h0.01M151.2,180.7h0.01M170.1,196.4h0.01M172.8,195.1h0.01M161.9,202.0h0.01M159.6,200.1h0.01M182.4,197.0h0.01M142.5,200.3h0.01M155.7,190.7h0.01M151.2,197.2h0.01M155.2,172.3h0.01M151.8,197.7h0.01M175.0,189.9h0.01M165.1,186.3h0.01M154.5,194.0h0.01M156.9,184.0h0.01M163.4,177.7h0.01M151.2,195.9h0.01M163.4,184.7h0.01M164.7,196.0h0.01M160.6,191.4h0.01M159.7,196.2h0.01M159.3,182.3h0.01M151.7,183.5h0.01M153.4,184.1h0.01M129.9,190.0h0.01M170.9,191.3h0.01M181.2,177.4h0.01M153.9,179.0h0.01M176.9,200.9h0.01M146.6,187.6h0.01M177.2,174.3h0.01M159.2,166.5h0.01M166.4,188.5h0.01M159.4,188.9h0.01M151.1,179.1h0.01M160.2,186.3h0.01M181.1,184.0h0.01M165.8,190.3h0.01M171.1,188.7h0.01M157.9,194.3h0.01M158.2,164.2h0.01M144.6,203.8h0.01M139.3,187.7h0.01M169.1,186.0h0.01M167.3,171.2h0.01M172.3,186.3h0.01M153.7,179.8h0.01M172.1,171.5h0.01M169.5,185.8h0.01M159.0,174.9h0.01M141.5,159.7h0.01M156.8,202.1h0.01M152.5,187.1h0.01M165.1,190.2h0.01M158.3,192.8h0.01M149.8,197.9h0.01M158.1,190.0h0.01M163.4,191.4h0.01M162.4,199.0h0.01M153.7,195.5h0.01M157.5,199.3h0.01M160.5,181.7h0.01M158.6,204.5h0.01M174.0,191.7h0.01M152.4,195.9h0.01M158.0,200.3h0.01M142.4,191.7h0.01M162.0,193.7h0.01M152.3,196.2h0.01M140.0,194.0h0.01M157.3,187.6h0.01M164.2,196.3h0.01M157.4,190.7h0.01M148.4,188.8h0.01M159.8,184.4h0.01M151.2,183.8h0.01M164.0,190.9h0.01" stroke="#6a6a7a" stroke-width="1.60" stroke-linecap="round"/>
<path d="M156.2,198.6h0.01M159.6,192.5h0.01M159.7,201.0h0.01M141.1,201.5h0.01M157.9,196.8h0.01M156.3,202.0h0.01M153.8,198.6h0.01M164.2,197.6h0.01M162.5,200.6h0.01M127.5,207.6h0.01M149.4,188.7h0.01M145.7,202.8h0.01M137.3,152.6h0.01M152.9,204.8h0.01M146.6,198.6h0.01M162.8,204.3h0.01M153.2,198.8h0.01M154.6,198.6h0.01M129.9,214.2h0.01M150.6,194.6h0.01M150.9,203.8h0.01M150.3,201.3h0.01M179.6,165.4h0.01M156.7,198.4h0.01M150.0,169.6h0.01M150.5,201.3h0.01M148.1,197.8h0.01M136.8,197.6h0.01M170.7,199.0h0.01M153.5,199.9h0.01M166.7,198.5h0.01M155.2,207.9h0.01M148.2,202.5h0.01M148.2,208.1h0.01M166.2,206.9h0.01M129.7,212.3h0.01M167.6,178.9h0.01M165.5,200.1h0.01M151.2,207.9h0.01M158.5,199.2h0.01M155.7,201.9h0.01M170.0,203.5h0.01M155.0,204.7h0.01M172.9,196.1h0.01M130.9,213.2h0.01M158.9,199.1h0.01M153.7,208.2h0.01M149.1,205.4h0.01M165.0,204.6h0.01M165.1,207.9h0.01M153.4,205.2h0.01M157.8,195.9h0.01M137.4,195.7h0.01M167.9,201.6h0.01M149.4,203.5h0.01M154.7,197.8h0.01M147.3,192.1h0.01M149.1,199.9h0.01M163.1,192.5h0.01M172.0,199.2h0.01M146.9,195.3h0.01M147.4,202.4h0.01M150.4,201.5h0.01M158.7,189.1h0.01M154.5,199.8h0.01M154.2,207.9h0.01M150.1,198.6h0.01M155.5,200.7h0.01M151.3,208.1h0.01M149.1,199.8h0.01M173.8,202.5h0.01M131.6,214.4h0.01M138.8,195.4h0.01M144.2,197.0h0.01M130.8,209.0h0.01M145.1,154.7h0.01M160.0,193.5h0.01M167.9,193.2h0.01M152.3,195.1h0.01" stroke="#b87a6c" stroke-width="1.60" stroke-linecap="round"/>
<path d="M113.6,179.6h0.01M132.6,175.2h0.01M142.6,177.4h0.01M123.0,165.9h0.01M130.7,169.3h0.01M154.8,196.8h0.01M145.9,170.3h0.01M140.1,180.9h0.01M145.0,177.7h0.01M158.1,158.2h0.01M144.7,181.6h0.01M132.9,161.2h0.01M139.7,180.5h0.01M141.1,187.8h0.01M147.9,177.9h0.01M144.6,179.5h0.01M138.3,181.7h0.01M140.3,181.4h0.01M141.2,175.4h0.01M111.8,160.9h0.01M152.6,174.7h0.01M139.5,175.6h0.01M103.2,171.7h0.01M135.1,168.6h0.01M143.9,181.0h0.01M134.9,160.7h0.01M140.0,177.4h0.01M136.8,175.5h0.01M147.2,178.6h0.01M149.2,177.4h0.01M130.6,153.6h0.01M136.9,179.5h0.01M124.5,154.8h0.01M140.6,181.9h0.01M136.2,174.1h0.01M132.2,175.0h0.01M125.0,171.3h0.01M134.6,175.9h0.01M136.7,182.9h0.01M122.0,162.9h0.01M140.6,169.4h0.01M129.1,161.2h0.01M138.9,177.9h0.01M136.3,162.4h0.01M156.7,181.0h0.01M143.0,170.9h0.01M127.7,154.6h0.01M140.4,167.1h0.01M141.7,177.7h0.01M156.5,193.1h0.01M140.6,180.1h0.01M139.6,182.4h0.01M133.7,163.9h0.01M161.3,165.1h0.01M136.8,186.6h0.01M139.0,183.4h0.01M132.8,155.6h0.01M128.8,182.2h0.01M126.4,171.8h0.01M153.1,181.4h0.01M150.7,176.5h0.01M114.6,176.9h0.01M141.1,179.4h0.01M135.6,176.6h0.01M139.3,175.5h0.01M144.3,180.7h0.01M132.0,178.9h0.01M143.9,179.2h0.01M142.0,175.4h0.01M129.3,164.4h0.01M153.4,177.0h0.01M134.2,161.9h0.01M135.1,168.1h0.01M131.1,171.2h0.01M130.5,164.3h0.01M134.1,174.7h0.01M137.2,170.1h0.01M153.5,177.7h0.01M134.8,175.4h0.01M127.7,167.8h0.01M147.2,181.6h0.01M145.7,172.8h0.01M143.2,178.8h0.01M142.9,178.3h0.01M147.0,182.4h0.01M139.8,194.1h0.01M124.2,178.6h0.01M151.8,154.8h0.01M143.2,179.2h0.01M133.9,184.3h0.01M124.2,166.3h0.01M137.3,165.0h0.01M140.3,156.4h0.01M148.5,184.4h0.01M139.8,175.7h0.01M117.5,170.8h0.01M138.4,174.9h0.01M160.0,200.2h0.01M140.7,181.6h0.01M135.2,177.5h0.01M138.0,178.7h0.01M122.0,200.6h0.01M123.0,178.5h0.01M118.4,178.7h0.01M141.5,175.9h0.01M116.2,164.0h0.01M142.9,176.1h0.01M152.7,179.6h0.01M136.0,186.1h0.01M128.7,175.2h0.01M136.9,182.6h0.01M149.9,179.3h0.01M150.0,172.2h0.01M132.4,177.8h0.01M144.5,171.1h0.01M141.0,172.7h0.01M127.3,166.4h0.01M145.7,177.7h0.01M140.1,184.2h0.01M138.3,184.1h0.01M134.6,176.4h0.01M136.1,173.5h0.01M148.1,176.0h0.01M136.3,174.3h0.01M119.4,164.2h0.01M128.8,161.8h0.01M137.2,180.8h0.01M168.6,160.8h0.01M139.3,174.3h0.01M152.6,182.7h0.01M145.3,174.0h0.01M150.0,170.1h0.01" stroke="#4f9560" stroke-width="1.60" stroke-linecap="round"/>
<path d="M139.1,175.2h0.01M144.8,193.0h0.01M117.2,152.3h0.01M172.6,164.9h0.01M133.5,172.7h0.01M129.1,160.5h0.01M124.7,154.4h0.01M116.3,160.3h0.01M158.6,173.6h0.01M115.5,153.0h0.01M152.4,183.8h0.01M131.2,151.1h0.01M115.6,162.4h0.01M108.1,161.8h0.01M139.9,160.7h0.01M125.0,183.3h0.01M153.9,194.6h0.01M147.1,199.5h0.01M114.6,160.0h0.01M119.4,153.4h0.01" stroke="#aaa" stroke-width="1.60" stroke-linecap="round"/>
<path d="M174.3,175.8h0.01M175.9,165.2h0.01M185.7,174.2h0.01M174.2,174.3h0.01M170.2,171.7h0.01M168.2,188.3h0.01M181.0,169.7h0.01M179.4,175.1h0.01M180.1,169.4h0.01M172.3,174.2h0.01M173.5,173.6h0.01M184.0,164.2h0.01M178.4,168.6h0.01M178.9,179.6h0.01M167.3,206.3h0.01M177.9,152.7h0.01M153.6,170.8h0.01M176.5,174.9h0.01M176.0,171.5h0.01M177.3,175.7h0.01M183.2,179.6h0.01M174.6,181.1h0.01M179.8,167.5h0.01M181.6,172.2h0.01M145.6,200.6h0.01M174.2,180.3h0.01M171.7,174.0h0.01M174.9,172.8h0.01M182.9,171.5h0.01M179.2,167.1h0.01M178.2,182.2h0.01M176.6,165.5h0.01M182.1,176.2h0.01M174.5,170.9h0.01M173.3,175.4h0.01M178.0,174.0h0.01M176.6,174.2h0.01M179.5,173.4h0.01M180.4,172.0h0.01M170.6,170.2h0.01M179.2,172.1h0.01M170.2,172.8h0.01M158.5,183.4h0.01M179.4,172.1h0.01M175.3,171.7h0.01M184.0,178.3h0.01M181.9,173.3h0.01M144.3,188.0h0.01M183.6,159.3h0.01M175.9,171.5h0.01M175.8,173.8h0.01M181.3,173.1h0.01M166.7,174.6h0.01M175.3,171.4h0.01M175.0,177.5h0.01M169.7,176.3h0.01M149.2,173.1h0.01M178.3,161.5h0.01M175.5,179.7h0.01M185.1,165.6h0.01M174.6,174.7h0.01M160.3,162.0h0.01M167.4,174.9h0.01M180.6,169.0h0.01M168.2,162.8h0.01M180.5,166.4h0.01M178.3,161.2h0.01" stroke="#175287" stroke-width="1.60" stroke-linecap="round"/>
<path d="M147.9,189.8h0.01M149.9,179.3h0.01M142.7,201.9h0.01M172.2,195.5h0.01M171.4,189.7h0.01M177.6,169.3h0.01M159.9,178.8h0.01M176.2,189.1h0.01M157.4,198.3h0.01M163.9,183.2h0.01M124.8,181.1h0.01M169.2,188.6h0.01M158.9,186.2h0.01M157.6,174.5h0.01M163.9,189.4h0.01M147.1,188.2h0.01M153.0,182.3h0.01M163.7,189.9h0.01M160.5,204.9h0.01M178.7,191.5h0.01M158.3,193.3h0.01M164.1,200.7h0.01M142.5,180.7h0.01M165.4,186.5h0.01M167.4,184.2h0.01M168.2,175.5h0.01M168.3,186.1h0.01M165.7,182.4h0.01M160.5,205.1h0.01M159.8,206.8h0.01M146.1,182.1h0.01M165.0,189.2h0.01M149.8,180.9h0.01M165.6,191.8h0.01M165.3,177.3h0.01M166.8,194.6h0.01M154.2,179.9h0.01M176.4,196.6h0.01M159.8,186.7h0.01M165.0,193.9h0.01M160.1,185.9h0.01M147.1,185.9h0.01M160.4,181.8h0.01M171.5,195.0h0.01M168.3,189.3h0.01M160.2,183.9h0.01M167.0,185.1h0.01M147.9,179.5h0.01M166.1,182.9h0.01M154.1,173.7h0.01M153.9,182.7h0.01M162.0,191.0h0.01M155.5,204.0h0.01M152.8,183.6h0.01M163.6,192.6h0.01M170.5,167.3h0.01M162.7,180.1h0.01M162.6,199.1h0.01M156.4,182.8h0.01M160.1,177.8h0.01M154.4,193.7h0.01M154.3,176.4h0.01M163.7,191.7h0.01M160.9,179.0h0.01M157.2,179.9h0.01M160.3,175.6h0.01M144.7,184.3h0.01M165.9,188.3h0.01M171.5,193.0h0.01M148.4,192.1h0.01M151.5,192.9h0.01M170.9,186.6h0.01M143.1,204.0h0.01M156.0,191.1h0.01M159.3,187.7h0.01M149.7,192.5h0.01M157.3,191.6h0.01M163.7,177.5h0.01" stroke="#566e84" stroke-width="1.60" stroke-linecap="round"/>
<path d="M142.0,187.7h0.01M144.3,183.6h0.01M155.6,185.7h0.01M173.9,192.9h0.01M156.1,195.9h0.01M157.0,175.1h0.01M158.8,190.3h0.01M156.2,180.9h0.01M174.2,179.9h0.01M151.3,173.2h0.01M149.2,194.7h0.01M157.2,187.2h0.01M164.1,174.9h0.01M167.5,182.9h0.01M167.1,187.8h0.01M168.0,194.5h0.01M164.4,177.0h0.01M163.2,183.9h0.01M164.4,192.1h0.01M144.5,181.6h0.01M167.7,183.3h0.01M160.7,182.8h0.01M175.7,183.8h0.01M160.1,192.4h0.01M161.6,181.0h0.01M151.4,197.5h0.01M168.5,182.8h0.01M154.5,183.5h0.01M159.9,200.2h0.01M170.0,171.9h0.01M161.7,182.4h0.01M149.7,192.1h0.01M156.4,179.9h0.01M131.3,183.5h0.01M155.3,195.4h0.01M160.5,187.3h0.01M157.4,190.0h0.01M164.8,191.3h0.01M151.7,183.3h0.01M158.1,195.1h0.01M148.4,205.4h0.01M162.1,181.4h0.01M160.5,190.1h0.01M157.0,179.8h0.01M179.2,190.6h0.01M162.5,184.5h0.01M153.6,198.7h0.01M163.7,183.2h0.01M154.7,188.7h0.01M163.1,180.6h0.01M153.2,183.3h0.01M164.4,185.2h0.01M150.1,176.2h0.01M151.7,177.8h0.01M166.4,192.0h0.01M171.6,197.7h0.01M160.2,199.8h0.01M142.2,180.8h0.01M155.0,181.4h0.01M174.2,190.3h0.01M159.1,179.1h0.01M136.7,173.1h0.01M171.8,183.0h0.01M172.5,201.1h0.01M171.4,176.6h0.01M140.7,195.3h0.01M169.8,176.7h0.01M173.6,184.4h0.01M164.6,192.9h0.01M170.8,167.8h0.01M160.8,193.1h0.01M152.6,183.8h0.01M156.4,205.0h0.01M162.1,188.6h0.01" stroke="#5a7a80" stroke-width="1.60" stroke-linecap="round"/>
<path d="M146.2,178.7h0.01M157.3,181.7h0.01M125.0,157.6h0.01M141.3,180.1h0.01M129.2,178.0h0.01M145.7,180.5h0.01M152.2,182.3h0.01M124.4,172.9h0.01M123.5,161.6h0.01M144.8,176.0h0.01M147.5,180.0h0.01M130.0,166.6h0.01M135.8,186.8h0.01M131.2,187.0h0.01M123.0,152.9h0.01M137.5,181.4h0.01M140.7,178.9h0.01M162.4,181.2h0.01M131.5,162.6h0.01M125.0,160.9h0.01M149.2,157.8h0.01M119.7,162.0h0.01M137.5,179.4h0.01M125.9,178.3h0.01M133.0,176.3h0.01M135.4,182.3h0.01M143.1,179.0h0.01M142.3,159.7h0.01M131.2,164.1h0.01M143.7,176.8h0.01M137.1,170.3h0.01M139.3,174.4h0.01M145.6,182.2h0.01M135.0,177.6h0.01M136.1,175.4h0.01M144.7,174.4h0.01M141.8,147.7h0.01M145.1,173.9h0.01M138.8,159.1h0.01M154.7,151.5h0.01M155.3,164.6h0.01M135.7,173.6h0.01M141.2,171.1h0.01M117.6,169.3h0.01M115.6,176.9h0.01M146.2,180.6h0.01M136.0,160.8h0.01M123.6,166.0h0.01M137.3,168.7h0.01M146.4,183.1h0.01M145.2,173.8h0.01M137.6,168.9h0.01M140.5,172.3h0.01M140.2,176.5h0.01M142.3,186.4h0.01M132.6,169.6h0.01M144.4,182.7h0.01M147.6,179.4h0.01M153.4,181.3h0.01M132.9,190.0h0.01M146.4,178.0h0.01M160.1,169.8h0.01M172.5,152.5h0.01M174.0,153.2h0.01M126.2,165.5h0.01M150.0,176.9h0.01M151.1,177.4h0.01M144.2,176.2h0.01M153.1,175.0h0.01M144.1,182.4h0.01M129.1,183.3h0.01M152.5,174.2h0.01M141.9,179.5h0.01M152.5,173.1h0.01M139.0,183.4h0.01M150.2,176.9h0.01M155.1,178.7h0.01M113.1,167.7h0.01M142.6,178.0h0.01M134.0,177.7h0.01M128.7,172.0h0.01M149.8,182.8h0.01M137.9,179.0h0.01M134.1,178.4h0.01M142.4,179.6h0.01M178.4,184.6h0.01M133.1,168.0h0.01M146.1,174.7h0.01M138.0,174.0h0.01M143.0,177.7h0.01M131.8,178.8h0.01M139.9,183.0h0.01M143.1,182.6h0.01M134.8,187.5h0.01M143.2,172.4h0.01M155.0,166.4h0.01M130.6,162.7h0.01M143.7,180.7h0.01M151.5,156.5h0.01M146.0,182.6h0.01M126.3,153.3h0.01M148.6,174.6h0.01M156.8,164.8h0.01M121.5,183.6h0.01M138.3,171.6h0.01M141.8,175.8h0.01M134.8,183.6h0.01M145.4,179.0h0.01M122.0,166.8h0.01M138.4,171.1h0.01M134.0,173.8h0.01M141.0,177.4h0.01M140.3,174.2h0.01M142.3,174.9h0.01M125.2,164.2h0.01M121.4,177.9h0.01M152.9,178.2h0.01M133.3,171.6h0.01M139.3,176.7h0.01M127.1,176.1h0.01M139.8,177.5h0.01M152.5,177.2h0.01M144.1,178.3h0.01" stroke="#3d8c50" stroke-width="1.60" stroke-linecap="round"/>
<path d="M160.6,202.2h0.01M164.1,185.8h0.01M143.7,203.4h0.01M165.2,186.8h0.01M163.3,174.1h0.01M169.8,183.7h0.01M152.4,194.6h0.01M158.4,192.3h0.01M168.8,198.8h0.01M162.8,194.3h0.01M164.6,193.0h0.01M159.4,205.6h0.01M186.7,182.5h0.01M169.1,166.0h0.01M149.7,190.0h0.01M164.8,196.8h0.01M160.8,182.0h0.01M169.6,193.5h0.01M170.6,197.6h0.01M153.7,191.6h0.01M163.1,179.9h0.01M159.5,182.9h0.01M155.7,196.1h0.01M150.5,191.9h0.01M166.5,178.7h0.01M162.4,194.0h0.01M144.4,199.5h0.01M145.4,155.5h0.01M151.4,180.0h0.01M158.6,208.8h0.01M153.5,193.2h0.01M156.0,184.9h0.01M166.4,183.1h0.01M156.5,175.6h0.01M160.9,198.8h0.01M163.6,200.9h0.01M163.6,188.7h0.01M170.1,179.6h0.01M155.2,190.0h0.01M155.4,199.4h0.01M159.4,203.7h0.01M170.8,177.5h0.01M154.6,169.3h0.01M159.6,189.7h0.01M168.4,191.6h0.01M161.1,189.0h0.01M157.7,196.8h0.01M133.1,184.8h0.01M155.4,198.4h0.01M149.4,187.7h0.01M170.9,188.9h0.01M167.5,179.4h0.01M149.0,179.1h0.01M142.1,199.8h0.01M169.0,184.5h0.01M156.7,192.5h0.01M166.8,194.9h0.01M152.6,196.2h0.01M152.2,185.6h0.01M146.3,178.7h0.01M168.9,182.9h0.01M162.1,202.4h0.01M185.8,180.8h0.01M161.4,194.1h0.01M157.1,183.9h0.01M165.7,173.9h0.01M150.2,179.4h0.01M155.8,192.2h0.01M146.3,193.6h0.01M179.1,190.1h0.01M157.1,189.0h0.01M161.7,184.0h0.01M167.1,180.4h0.01M150.4,193.3h0.01M151.5,207.7h0.01M162.3,175.6h0.01M172.0,193.9h0.01M151.2,186.6h0.01M156.3,191.6h0.01M162.2,190.5h0.01M161.7,202.0h0.01M155.6,179.9h0.01" stroke="#7a7080" stroke-width="1.60" stroke-linecap="round"/>
<path d="M178.8,179.0h0.01M178.9,178.1h0.01M177.2,171.3h0.01M179.8,175.6h0.01M185.9,167.9h0.01M166.4,170.9h0.01M175.8,178.2h0.01M170.3,165.5h0.01M179.2,177.2h0.01M180.7,161.5h0.01M156.0,172.4h0.01M185.8,164.1h0.01M175.3,176.6h0.01M174.7,177.2h0.01M172.6,166.5h0.01M163.1,180.8h0.01M182.5,170.6h0.01M179.6,171.5h0.01M167.4,170.8h0.01M175.0,168.9h0.01M173.1,176.2h0.01M183.2,170.0h0.01M178.5,173.1h0.01M184.7,174.9h0.01M177.6,169.7h0.01M162.9,173.2h0.01M173.1,179.7h0.01M178.6,168.0h0.01M178.0,167.4h0.01M177.9,162.6h0.01M165.7,180.3h0.01M174.2,171.1h0.01M132.0,184.4h0.01M165.2,172.0h0.01M178.5,164.0h0.01M177.6,169.4h0.01M182.7,185.1h0.01M185.5,176.1h0.01M174.2,172.5h0.01M172.1,170.5h0.01M175.2,178.2h0.01M174.0,177.6h0.01M176.6,173.0h0.01M183.8,171.0h0.01M173.7,168.5h0.01M135.3,198.8h0.01M175.7,166.1h0.01M169.2,173.2h0.01M181.7,173.4h0.01M172.3,171.7h0.01M167.1,160.0h0.01M153.0,170.3h0.01M180.1,178.6h0.01M140.0,168.9h0.01M171.8,174.4h0.01M167.9,161.1h0.01M173.2,179.5h0.01M184.4,174.3h0.01M178.1,160.1h0.01M180.5,180.9h0.01M180.3,170.5h0.01M176.7,171.5h0.01M138.7,179.6h0.01M170.1,173.4h0.01M174.7,190.5h0.01M168.4,173.7h0.01M130.1,183.2h0.01M167.6,159.6h0.01M178.5,162.7h0.01M146.3,185.9h0.01M181.5,167.1h0.01M174.4,169.8h0.01M180.1,178.9h0.01M169.0,178.8h0.01M176.3,176.7h0.01M182.4,171.8h0.01M170.6,182.7h0.01M182.6,182.6h0.01M172.6,179.6h0.01M177.6,164.7h0.01M175.1,168.9h0.01M173.4,168.1h0.01M171.7,174.7h0.01M156.2,168.6h0.01M173.1,162.4h0.01" stroke="#23609a" stroke-width="1.60" stroke-linecap="round"/>
<path d="M158.2,163.2h0.01M128.6,156.7h0.01M152.3,176.6h0.01M158.2,161.9h0.01M139.9,179.5h0.01M144.1,177.0h0.01M178.4,196.9h0.01M139.2,183.1h0.01M141.2,157.0h0.01M147.4,178.2h0.01M144.2,179.8h0.01M129.6,179.3h0.01M134.0,160.2h0.01M145.2,179.6h0.01M143.7,174.3h0.01M143.0,176.9h0.01M138.2,171.3h0.01M143.1,180.4h0.01M137.7,177.8h0.01M138.1,160.4h0.01M150.2,167.1h0.01M125.3,177.4h0.01M144.0,186.7h0.01M140.8,177.4h0.01M149.6,172.2h0.01M136.2,157.0h0.01M147.2,179.4h0.01M144.5,169.3h0.01M134.0,156.7h0.01M140.8,169.8h0.01M125.4,159.6h0.01M123.7,156.7h0.01M141.4,172.3h0.01M141.8,179.0h0.01M150.1,176.8h0.01M148.6,179.1h0.01M130.2,180.1h0.01M156.1,170.1h0.01M155.1,179.9h0.01M121.5,167.6h0.01M138.6,163.5h0.01M133.2,183.8h0.01M148.6,184.3h0.01M167.8,190.7h0.01M141.3,175.3h0.01M164.1,159.7h0.01M143.9,179.7h0.01M127.5,177.6h0.01M141.9,178.2h0.01M150.6,173.8h0.01M144.1,174.4h0.01M117.6,156.6h0.01M132.0,181.4h0.01M136.0,167.5h0.01M118.4,168.4h0.01M151.3,178.7h0.01M145.1,184.6h0.01M138.2,175.3h0.01M138.9,178.3h0.01M139.2,156.9h0.01M115.4,162.9h0.01M138.6,181.0h0.01M131.2,174.3h0.01M171.9,173.9h0.01M146.6,157.0h0.01M106.1,168.2h0.01M140.0,177.1h0.01M146.1,168.8h0.01M131.7,161.1h0.01M119.7,170.3h0.01M147.8,163.2h0.01M148.7,164.9h0.01M150.3,170.6h0.01M152.3,182.8h0.01M130.9,163.5h0.01M139.7,177.0h0.01M153.3,181.0h0.01M134.5,175.8h0.01M135.3,177.0h0.01M123.5,173.1h0.01M133.6,172.5h0.01M134.5,168.1h0.01M143.4,176.6h0.01M152.6,159.0h0.01M146.8,164.8h0.01M135.9,179.6h0.01M135.1,180.9h0.01M139.1,183.2h0.01M129.2,185.8h0.01M146.6,177.3h0.01M127.0,180.9h0.01M136.8,176.1h0.01M145.5,180.3h0.01M140.3,176.7h0.01M137.1,185.9h0.01M140.8,182.5h0.01M154.8,157.3h0.01M147.9,160.2h0.01M141.5,174.0h0.01M138.4,162.8h0.01M165.0,160.5h0.01M136.3,180.8h0.01M145.2,181.9h0.01M148.9,182.8h0.01M144.4,177.9h0.01M127.9,173.2h0.01M140.2,171.3h0.01M146.3,181.2h0.01M124.8,177.2h0.01M155.5,159.4h0.01M120.8,178.0h0.01M135.0,180.8h0.01M139.6,165.4h0.01M139.8,158.5h0.01M159.1,162.2h0.01M133.1,179.8h0.01M131.9,181.8h0.01M154.3,178.3h0.01M151.2,178.0h0.01M146.4,178.1h0.01M142.9,189.2h0.01M124.6,156.1h0.01M139.3,166.4h0.01M141.5,172.4h0.01" stroke="#4a9a5a" stroke-width="1.60" stroke-linecap="round"/>
<path d="M133.3,214.9h0.01M159.4,197.2h0.01M157.6,203.0h0.01M130.4,208.2h0.01M170.6,204.6h0.01M166.2,198.8h0.01M128.5,212.9h0.01M147.9,196.3h0.01M155.8,201.3h0.01M150.8,200.4h0.01M149.6,201.5h0.01M155.0,198.3h0.01M138.7,205.2h0.01M154.6,207.8h0.01M148.7,174.9h0.01M150.1,197.3h0.01M160.5,198.4h0.01M152.7,181.2h0.01M131.1,211.5h0.01M147.5,206.8h0.01M142.5,198.3h0.01M162.5,171.9h0.01M144.3,198.5h0.01M156.8,205.6h0.01M141.2,202.1h0.01M161.6,201.9h0.01M131.8,214.9h0.01M146.3,207.6h0.01M164.3,202.4h0.01M151.9,195.9h0.01M162.4,202.0h0.01M150.1,205.7h0.01M163.1,199.8h0.01M141.2,197.3h0.01M158.8,198.0h0.01M163.3,198.8h0.01M145.7,193.3h0.01M169.2,207.4h0.01M163.7,195.1h0.01M162.0,197.7h0.01M144.5,200.7h0.01M153.1,195.6h0.01M154.7,187.3h0.01M157.2,194.5h0.01M156.8,201.2h0.01M157.4,202.0h0.01M163.1,199.2h0.01M165.5,202.6h0.01M139.1,177.3h0.01M157.9,196.1h0.01M162.5,206.1h0.01M161.8,181.1h0.01M148.2,202.2h0.01M135.8,179.2h0.01M140.9,198.0h0.01M156.4,160.4h0.01M156.8,205.3h0.01M142.1,200.9h0.01M147.8,201.6h0.01M150.5,196.0h0.01M143.5,189.1h0.01M165.2,193.1h0.01M147.2,203.7h0.01M162.4,207.7h0.01M172.9,197.6h0.01M149.0,191.2h0.01M136.8,201.0h0.01M155.7,196.5h0.01M165.1,198.3h0.01M144.5,174.1h0.01M157.6,199.6h0.01" stroke="#b88076" stroke-width="1.60" stroke-linecap="round"/>
<path d="M174.0,183.1h0.01M174.0,172.5h0.01M179.9,163.5h0.01M179.0,164.0h0.01M168.6,157.5h0.01M179.6,170.7h0.01M180.9,169.2h0.01M181.2,179.3h0.01M183.9,165.7h0.01M176.2,178.9h0.01M182.3,169.6h0.01M175.4,173.2h0.01M166.8,166.7h0.01M175.4,172.9h0.01M147.5,175.8h0.01M182.0,165.2h0.01M144.5,178.1h0.01M184.9,164.9h0.01M175.5,176.1h0.01M175.1,166.4h0.01M171.8,171.6h0.01M180.1,158.9h0.01M181.3,175.1h0.01M175.3,166.8h0.01M171.5,173.4h0.01M169.9,166.0h0.01M168.0,167.8h0.01M177.6,170.9h0.01M181.2,178.9h0.01M180.7,171.1h0.01M182.1,187.5h0.01M177.0,165.5h0.01M181.1,166.7h0.01M167.5,173.1h0.01M183.6,171.4h0.01M173.6,171.8h0.01M179.9,170.1h0.01M179.1,165.9h0.01M169.2,182.7h0.01M175.2,170.8h0.01M175.0,181.0h0.01M174.9,176.9h0.01M183.0,173.4h0.01M177.6,162.4h0.01M178.2,166.6h0.01M177.3,168.6h0.01M183.6,173.2h0.01M175.9,161.2h0.01M179.7,177.8h0.01M170.7,172.0h0.01M179.3,160.2h0.01M180.3,168.5h0.01M182.4,170.2h0.01M176.9,170.8h0.01M179.2,178.9h0.01M181.1,170.4h0.01" stroke="#1f6aa8" stroke-width="1.60" stroke-linecap="round"/>
<path d="M139.8,190.4h0.01M164.8,183.8h0.01M140.3,193.0h0.01M162.6,187.0h0.01M168.0,187.1h0.01M149.8,196.6h0.01M154.3,183.3h0.01M167.5,198.1h0.01M154.2,177.3h0.01M168.7,178.8h0.01M162.2,183.6h0.01M167.5,180.7h0.01M157.8,188.7h0.01M157.3,183.1h0.01M161.0,182.6h0.01M163.3,197.1h0.01M171.8,186.0h0.01M165.1,205.7h0.01M155.2,200.1h0.01M167.7,187.7h0.01M161.7,186.0h0.01M153.7,176.2h0.01M148.3,172.5h0.01M155.4,165.6h0.01M150.6,180.8h0.01M142.2,170.3h0.01M163.4,191.8h0.01M169.2,176.4h0.01M179.7,183.8h0.01M157.6,197.0h0.01M169.4,179.1h0.01M156.0,185.3h0.01M159.1,191.2h0.01M146.7,178.3h0.01M161.2,184.1h0.01M151.4,189.8h0.01M158.5,191.4h0.01M162.8,196.7h0.01M154.9,184.0h0.01M171.0,194.8h0.01M159.4,176.3h0.01M156.4,195.8h0.01M165.8,194.9h0.01M166.7,176.7h0.01M169.0,183.8h0.01M165.7,198.4h0.01M138.4,181.7h0.01M172.6,186.8h0.01M176.3,189.2h0.01M176.1,190.9h0.01M151.0,171.1h0.01M163.7,186.4h0.01M173.5,177.9h0.01M173.3,190.9h0.01M153.5,188.6h0.01M161.6,182.3h0.01M157.7,196.4h0.01M162.9,197.6h0.01M154.8,171.0h0.01M162.4,200.9h0.01M151.4,202.3h0.01M164.1,184.6h0.01M164.8,179.8h0.01M161.2,176.0h0.01M161.8,192.5h0.01M177.4,194.9h0.01M155.4,172.4h0.01M155.4,182.1h0.01M155.3,188.2h0.01" stroke="#80686a" stroke-width="1.60" stroke-linecap="round"/>
<path d="M173.9,167.5h0.01M178.9,181.6h0.01M180.6,169.2h0.01M173.3,177.1h0.01M172.9,172.9h0.01M178.4,163.1h0.01M174.6,169.6h0.01M173.7,174.8h0.01M167.0,164.0h0.01M174.5,164.9h0.01M172.4,167.2h0.01M169.9,175.6h0.01M171.9,173.1h0.01M181.0,170.4h0.01M173.0,163.6h0.01M174.6,177.6h0.01M173.2,160.8h0.01M171.5,173.1h0.01M173.9,171.0h0.01M178.3,174.2h0.01M172.7,165.6h0.01M180.8,174.1h0.01M180.2,167.7h0.01M176.0,174.4h0.01M172.4,170.2h0.01M184.5,164.1h0.01M185.5,165.1h0.01M174.4,205.0h0.01M175.5,172.5h0.01M181.1,175.6h0.01M143.1,183.6h0.01M177.2,154.1h0.01M173.6,175.1h0.01M149.1,180.3h0.01M180.9,178.3h0.01M154.4,184.7h0.01M183.8,163.8h0.01M170.6,177.4h0.01M180.9,170.2h0.01M174.5,166.8h0.01M169.4,172.0h0.01M170.7,172.5h0.01M175.6,186.8h0.01M171.5,177.9h0.01M177.2,170.0h0.01M174.5,168.4h0.01M165.4,165.3h0.01M170.8,172.5h0.01M179.7,168.6h0.01M172.2,168.1h0.01M173.6,158.9h0.01M172.6,170.9h0.01M179.7,170.7h0.01" stroke="#1a5c96" stroke-width="1.60" stroke-linecap="round"/>
<path d="M134.1,180.2h0.01M135.8,178.8h0.01M151.2,173.6h0.01M144.4,152.1h0.01M135.7,177.7h0.01M111.8,167.5h0.01M143.8,173.1h0.01M140.3,180.3h0.01M135.1,178.2h0.01M110.9,168.4h0.01M135.8,162.8h0.01M142.7,185.3h0.01M139.5,173.3h0.01M123.7,201.5h0.01M145.6,177.8h0.01M116.8,162.6h0.01M141.5,158.1h0.01M119.7,177.4h0.01M111.7,168.0h0.01M149.9,179.5h0.01M120.2,161.1h0.01M132.1,169.6h0.01M176.7,166.2h0.01M138.0,164.0h0.01M133.9,171.2h0.01M153.1,187.2h0.01M135.8,167.4h0.01M150.1,179.5h0.01M136.9,175.4h0.01M157.5,164.7h0.01M146.4,165.3h0.01M140.6,181.6h0.01M146.4,180.2h0.01M141.0,178.9h0.01M135.6,179.7h0.01M156.2,159.1h0.01M143.4,173.7h0.01M140.8,165.7h0.01M137.1,177.4h0.01M131.0,176.2h0.01M149.4,179.9h0.01M172.0,184.6h0.01M136.5,169.8h0.01M130.0,164.5h0.01M134.4,166.3h0.01M136.0,168.0h0.01M142.9,174.0h0.01M137.5,174.0h0.01M146.3,181.3h0.01M141.3,172.6h0.01M143.6,187.1h0.01M133.5,174.0h0.01M134.3,176.2h0.01M141.8,173.3h0.01M140.1,175.7h0.01M140.2,174.4h0.01M124.4,179.8h0.01M149.5,173.8h0.01M135.2,168.7h0.01M137.3,181.8h0.01M164.2,158.5h0.01M140.7,166.9h0.01M142.1,181.6h0.01M127.6,161.3h0.01M134.2,183.6h0.01M141.1,172.8h0.01M158.3,159.7h0.01M126.4,184.4h0.01M159.7,174.2h0.01M136.3,171.7h0.01M104.7,172.8h0.01M129.2,158.4h0.01M158.4,166.0h0.01M143.4,181.4h0.01M140.6,156.5h0.01M112.2,174.6h0.01M143.9,173.3h0.01M147.2,166.3h0.01M123.0,170.9h0.01M130.8,176.3h0.01M139.7,161.7h0.01M135.5,168.3h0.01M137.4,184.7h0.01M136.3,176.5h0.01M147.0,163.4h0.01M142.3,173.1h0.01M130.1,180.6h0.01M130.7,170.4h0.01M155.4,159.4h0.01M139.2,181.1h0.01M140.7,177.0h0.01M148.4,178.1h0.01M140.5,181.7h0.01M135.1,182.4h0.01M141.1,171.7h0.01M142.0,153.0h0.01M148.6,165.5h0.01M139.7,180.5h0.01M140.9,176.0h0.01M124.1,167.3h0.01M142.0,167.0h0.01M133.1,179.3h0.01M134.0,177.1h0.01M145.5,180.0h0.01M136.7,171.3h0.01M148.9,177.5h0.01M134.3,163.8h0.01M108.1,166.5h0.01M129.9,177.7h0.01M137.8,186.1h0.01" stroke="#5aa86a" stroke-width="1.60" stroke-linecap="round"/>
<path d="M174.2,167.3h0.01M180.4,166.7h0.01M171.5,181.2h0.01M182.8,177.4h0.01M185.8,170.2h0.01M177.6,173.6h0.01M173.0,172.8h0.01M173.5,168.0h0.01M169.8,170.9h0.01M177.4,169.2h0.01M173.6,165.9h0.01M180.8,161.2h0.01M180.3,182.3h0.01M169.9,177.3h0.01M176.7,173.5h0.01M172.9,180.2h0.01M157.6,175.1h0.01M182.0,175.2h0.01M179.1,176.3h0.01M183.7,175.2h0.01M176.9,174.8h0.01M183.4,169.0h0.01M169.4,167.6h0.01M182.0,181.2h0.01M177.5,169.6h0.01M175.3,170.7h0.01M172.0,179.3h0.01M172.0,165.7h0.01M173.1,171.1h0.01M176.3,179.2h0.01M144.6,184.1h0.01M180.0,169.8h0.01M174.1,167.1h0.01M180.2,162.9h0.01M180.0,169.9h0.01M169.9,176.0h0.01M174.2,165.5h0.01M169.8,188.6h0.01M181.9,182.0h0.01M176.1,161.7h0.01M168.3,167.6h0.01M176.4,173.1h0.01M173.2,172.3h0.01M175.2,167.7h0.01M172.7,172.9h0.01M181.6,174.4h0.01M179.2,173.4h0.01M166.6,171.3h0.01M180.9,181.8h0.01M176.7,172.8h0.01M186.0,174.7h0.01M173.8,162.4h0.01M178.9,175.0h0.01M175.0,188.4h0.01M168.5,169.4h0.01M185.8,183.2h0.01" stroke="#2a73b0" stroke-width="1.60" stroke-linecap="round"/>
<path d="M164.8,167.6h0.01M159.4,170.6h0.01M156.9,165.9h0.01M150.0,169.5h0.01M165.4,172.0h0.01M156.9,163.4h0.01M159.4,167.2h0.01M153.4,161.9h0.01M169.3,173.0h0.01M161.9,173.5h0.01M159.2,164.7h0.01M159.2,166.5h0.01M167.7,167.0h0.01M167.3,174.3h0.01M166.9,166.1h0.01M166.6,172.7h0.01M160.8,172.6h0.01M157.9,169.5h0.01M159.4,170.8h0.01M175.8,179.2h0.01M166.7,166.2h0.01M155.5,161.8h0.01M150.6,169.3h0.01M160.5,163.8h0.01M163.7,172.0h0.01M160.3,166.9h0.01M159.1,172.7h0.01" stroke="#3a6a8a" stroke-width="1.60" stroke-linecap="round"/>
<path d="M178.4,159.8h0.01M175.2,171.8h0.01M172.6,168.7h0.01M180.4,164.4h0.01M180.4,163.7h0.01M175.4,171.9h0.01M180.4,168.6h0.01M175.9,167.5h0.01M174.0,168.6h0.01M183.5,163.4h0.01M181.1,171.0h0.01M170.3,173.9h0.01M150.7,186.1h0.01M176.1,169.4h0.01M177.7,170.5h0.01M179.1,170.5h0.01M180.6,168.1h0.01M176.2,175.7h0.01M183.5,177.8h0.01M182.5,169.8h0.01M170.8,165.2h0.01M186.1,172.9h0.01M182.6,182.6h0.01M178.4,177.6h0.01M133.4,165.0h0.01M176.9,172.0h0.01M177.9,162.6h0.01M179.7,168.0h0.01M173.6,178.6h0.01M142.9,182.1h0.01M180.4,165.3h0.01M173.6,160.6h0.01M183.6,175.8h0.01M178.1,184.8h0.01M183.5,168.4h0.01M172.5,176.6h0.01M180.4,171.2h0.01M180.1,170.8h0.01M146.1,197.5h0.01M184.5,169.3h0.01M175.9,167.0h0.01M172.1,169.7h0.01M176.8,178.5h0.01M151.2,192.0h0.01M183.7,168.1h0.01M176.7,160.9h0.01M182.5,176.7h0.01M183.0,164.8h0.01M165.3,174.3h0.01M179.9,164.6h0.01M175.2,180.7h0.01M176.5,171.5h0.01M179.2,170.8h0.01M148.4,187.7h0.01M176.0,164.4h0.01M171.0,168.2h0.01M168.9,166.1h0.01M167.3,152.5h0.01M173.6,170.2h0.01M182.1,159.9h0.01M157.4,207.9h0.01M178.4,171.9h0.01M176.2,168.5h0.01M175.7,166.6h0.01M135.4,175.3h0.01M180.4,179.4h0.01M170.2,175.2h0.01M139.7,189.2h0.01M177.1,163.0h0.01M175.1,174.1h0.01M180.1,179.7h0.01M174.4,175.7h0.01M170.4,169.8h0.01M176.3,165.3h0.01M174.8,166.9h0.01M177.6,174.0h0.01" stroke="#205a90" stroke-width="1.60" stroke-linecap="round"/>
<path d="M122.8,155.3h0.01M119.5,163.3h0.01M125.4,159.9h0.01M131.3,157.2h0.01M116.1,164.8h0.01M140.5,156.0h0.01M116.5,170.7h0.01M134.3,161.1h0.01M118.4,161.3h0.01M124.0,158.5h0.01M125.5,157.7h0.01M121.9,154.7h0.01M133.0,159.1h0.01M121.2,156.7h0.01M116.7,158.7h0.01M131.1,160.3h0.01M133.7,159.5h0.01M122.9,162.0h0.01M141.3,159.2h0.01M123.8,162.0h0.01M120.4,160.9h0.01M136.0,158.2h0.01" stroke="#888" stroke-width="1.60" stroke-linecap="round"/>
<path d="M159.2,198.7h0.01M165.6,204.3h0.01M156.0,208.5h0.01M149.4,206.7h0.01M136.4,199.1h0.01M156.9,208.0h0.01M140.3,196.6h0.01M152.0,200.5h0.01M163.0,202.2h0.01M150.1,193.0h0.01M156.5,188.8h0.01M170.3,196.8h0.01M154.2,202.7h0.01M150.2,197.3h0.01M133.4,211.9h0.01M151.0,206.6h0.01M155.7,204.2h0.01M166.3,202.7h0.01M132.3,215.8h0.01M159.0,194.8h0.01M150.9,201.6h0.01M150.8,200.7h0.01M156.6,202.2h0.01M160.1,200.5h0.01M140.1,159.6h0.01M149.2,191.6h0.01M158.0,199.4h0.01M161.4,208.5h0.01M151.7,200.9h0.01M134.1,193.7h0.01M169.6,197.4h0.01M152.8,206.3h0.01M162.5,201.6h0.01M172.6,179.6h0.01M158.4,206.3h0.01M163.1,202.8h0.01M142.0,194.0h0.01M163.3,204.2h0.01M162.9,208.2h0.01M149.0,183.1h0.01M164.8,193.7h0.01M144.1,194.2h0.01M130.3,211.1h0.01M138.8,175.0h0.01M157.1,197.6h0.01M166.8,199.7h0.01M155.6,192.2h0.01M172.3,201.1h0.01M139.9,193.0h0.01M152.9,195.2h0.01M153.8,195.4h0.01M146.9,202.1h0.01M155.3,196.7h0.01M163.7,165.1h0.01M151.1,207.2h0.01M145.8,200.5h0.01M151.6,201.2h0.01M158.9,200.4h0.01M148.4,202.1h0.01M155.4,182.3h0.01M148.7,207.0h0.01M153.9,196.1h0.01M163.4,200.1h0.01M156.7,200.6h0.01M153.9,198.5h0.01M165.7,207.6h0.01M145.9,194.2h0.01M170.4,206.3h0.01M148.0,187.3h0.01M141.5,197.3h0.01M161.2,201.1h0.01M148.2,202.4h0.01M136.8,206.0h0.01M132.6,210.7h0.01M170.8,198.8h0.01M152.3,153.7h0.01M131.0,170.9h0.01M146.8,196.4h0.01M149.8,188.8h0.01M158.0,206.8h0.01M147.2,169.5h0.01M150.3,195.2h0.01" stroke="#b06a60" stroke-width="1.60" stroke-linecap="round"/>
<path d="M177.6,193.2h0.01M164.6,182.7h0.01M173.2,191.4h0.01M160.2,194.1h0.01M159.7,180.1h0.01M160.4,190.2h0.01M158.3,185.5h0.01M159.7,187.1h0.01M170.4,175.0h0.01M137.7,188.9h0.01M158.0,191.7h0.01M169.6,188.3h0.01M140.2,189.6h0.01M145.5,186.9h0.01M167.7,195.3h0.01M149.8,195.2h0.01M145.4,180.9h0.01M154.9,182.7h0.01M157.3,199.3h0.01M152.6,191.3h0.01M156.6,196.8h0.01M160.6,192.4h0.01M155.6,189.7h0.01M156.2,166.2h0.01M158.4,200.3h0.01M164.4,191.0h0.01M170.4,187.6h0.01M143.8,189.4h0.01M158.6,190.6h0.01M176.4,190.9h0.01M176.4,195.8h0.01M158.8,196.1h0.01M150.3,206.3h0.01M166.4,194.3h0.01M156.7,198.3h0.01M163.2,180.9h0.01M168.8,187.0h0.01M159.6,194.0h0.01M148.9,203.4h0.01M155.4,200.4h0.01M148.6,188.6h0.01M147.8,172.9h0.01M157.9,192.5h0.01M146.3,195.5h0.01M158.8,183.7h0.01M156.7,192.2h0.01M150.3,189.9h0.01M165.3,188.9h0.01M154.5,174.2h0.01M153.3,181.7h0.01M155.7,186.8h0.01M152.9,178.6h0.01M156.2,195.4h0.01M143.7,181.7h0.01M170.5,191.4h0.01M158.2,189.3h0.01M143.1,194.3h0.01M149.3,186.5h0.01M174.7,186.3h0.01M159.0,193.9h0.01M172.3,192.5h0.01M147.2,196.7h0.01M157.3,190.7h0.01M160.0,193.6h0.01M158.7,192.3h0.01M163.7,189.3h0.01M124.7,192.8h0.01M165.3,191.5h0.01M157.1,194.7h0.01M164.1,190.3h0.01M157.0,183.5h0.01M119.9,162.8h0.01M146.8,183.3h0.01M153.7,186.5h0.01" stroke="#7a6a80" stroke-width="1.60" stroke-linecap="round"/>
<path d="M151.6,173.9h0.01M149.8,188.2h0.01M152.7,187.5h0.01M151.0,181.4h0.01M147.3,194.0h0.01M172.5,183.1h0.01M150.3,192.0h0.01M158.7,192.5h0.01M155.9,177.3h0.01M154.3,206.0h0.01M160.0,202.6h0.01M150.9,181.1h0.01M154.3,173.1h0.01M166.4,196.6h0.01M169.8,185.6h0.01M162.9,179.5h0.01M155.2,192.4h0.01M155.7,189.3h0.01M175.5,181.9h0.01M154.0,190.9h0.01M181.3,197.4h0.01M162.1,186.7h0.01M162.9,197.3h0.01M157.1,203.1h0.01M166.7,186.2h0.01M171.1,197.0h0.01M166.4,182.1h0.01M137.6,168.5h0.01M156.9,179.0h0.01M173.0,186.8h0.01M172.9,198.9h0.01M160.1,194.6h0.01M157.2,191.5h0.01M165.8,198.1h0.01M166.7,185.4h0.01M157.8,199.9h0.01M164.8,194.3h0.01M155.8,182.6h0.01M161.7,182.0h0.01M182.1,189.9h0.01M166.6,169.2h0.01M167.0,201.5h0.01M174.0,189.8h0.01M138.9,179.7h0.01M172.0,192.5h0.01M155.5,194.0h0.01M155.2,184.0h0.01M164.8,184.5h0.01M155.3,194.2h0.01M156.0,184.8h0.01M165.6,173.9h0.01M159.7,175.3h0.01M162.7,196.0h0.01M169.5,192.4h0.01M146.5,188.8h0.01M160.0,198.5h0.01M166.5,197.7h0.01M139.4,172.4h0.01M145.1,188.4h0.01M157.7,182.7h0.01M159.2,179.7h0.01M161.5,199.6h0.01M164.8,196.4h0.01M157.5,172.7h0.01M169.9,178.7h0.01M152.2,196.5h0.01M152.1,194.5h0.01M177.7,202.1h0.01M159.6,188.5h0.01M162.0,178.3h0.01M161.4,162.9h0.01M166.0,173.3h0.01M163.0,199.2h0.01M140.4,165.8h0.01M141.5,163.1h0.01M161.5,185.6h0.01M166.3,171.3h0.01M145.1,190.2h0.01M168.4,190.6h0.01M147.6,187.6h0.01M164.6,189.7h0.01M157.9,183.2h0.01M164.9,187.3h0.01M173.8,200.4h0.01M150.3,185.8h0.01M160.2,176.7h0.01M148.4,179.5h0.01M164.0,179.4h0.01M160.5,184.8h0.01M169.9,199.0h0.01" stroke="#5f6678" stroke-width="1.60" stroke-linecap="round"/>
<path d="M161.5,171.9h0.01M146.6,155.6h0.01M159.2,176.2h0.01M139.6,159.1h0.01M161.9,169.0h0.01M128.3,163.2h0.01M137.2,156.6h0.01M167.0,170.8h0.01M163.5,166.6h0.01M157.7,168.3h0.01M163.4,167.1h0.01M156.6,169.2h0.01M159.1,163.1h0.01M160.8,164.0h0.01M117.6,160.7h0.01M157.1,167.2h0.01M152.1,163.5h0.01M156.5,178.4h0.01M138.3,163.0h0.01M161.1,165.2h0.01M113.5,163.3h0.01M127.8,154.2h0.01M168.0,168.5h0.01M162.6,171.7h0.01M133.8,164.4h0.01M145.4,150.1h0.01M162.1,162.5h0.01M163.5,173.5h0.01M162.0,168.7h0.01M163.4,166.4h0.01M160.3,168.8h0.01M170.1,168.5h0.01" stroke="#3a8a80" stroke-width="1.60" stroke-linecap="round"/>
<path d="M147.4,200.9h0.01M166.4,179.1h0.01M159.4,201.2h0.01M132.1,208.6h0.01M174.5,199.8h0.01M150.7,199.9h0.01M138.2,166.9h0.01M142.5,201.0h0.01M166.1,194.3h0.01M149.1,167.9h0.01M157.5,190.6h0.01M149.9,191.7h0.01M153.2,197.2h0.01M168.4,207.2h0.01M151.1,205.0h0.01M130.6,195.1h0.01M179.1,195.4h0.01M164.8,205.2h0.01M154.0,195.0h0.01M141.8,198.8h0.01M140.2,205.0h0.01M164.1,192.0h0.01M162.3,202.2h0.01M145.7,198.4h0.01M151.5,166.5h0.01M153.8,194.9h0.01M130.5,212.8h0.01M150.6,163.8h0.01M146.6,199.0h0.01M160.8,199.7h0.01M156.8,205.2h0.01M156.4,197.7h0.01M156.4,207.1h0.01M157.0,200.7h0.01M151.1,187.2h0.01M168.6,200.9h0.01M142.5,203.9h0.01M154.9,202.4h0.01M148.6,207.5h0.01M141.7,159.0h0.01M142.5,172.7h0.01M160.4,204.4h0.01M151.0,195.8h0.01M144.7,200.6h0.01M150.4,197.3h0.01M146.4,203.3h0.01M129.8,206.5h0.01M158.1,197.1h0.01M169.2,170.6h0.01M163.6,202.1h0.01M165.9,202.9h0.01M157.8,203.9h0.01M175.0,192.1h0.01M163.4,206.0h0.01M154.7,203.8h0.01M155.3,203.7h0.01M132.7,212.4h0.01M161.0,200.4h0.01M162.9,203.7h0.01M158.7,198.9h0.01M134.4,210.6h0.01M157.6,192.0h0.01M149.7,197.8h0.01M140.7,168.7h0.01M145.1,183.5h0.01M130.6,210.3h0.01M152.8,207.3h0.01M140.7,207.5h0.01M142.5,193.9h0.01M162.4,192.8h0.01M142.7,197.8h0.01M166.5,187.5h0.01M156.3,202.2h0.01M145.7,195.9h0.01M156.9,202.7h0.01M149.0,195.4h0.01M145.4,196.3h0.01M144.6,203.6h0.01M167.4,197.5h0.01M153.8,192.6h0.01M154.3,159.6h0.01M159.8,183.7h0.01M172.0,203.9h0.01" stroke="#8a6a6e" stroke-width="1.60" stroke-linecap="round"/>
<path d="M165.6,185.2h0.01M148.7,173.1h0.01M140.3,196.4h0.01M164.3,180.6h0.01M162.2,199.8h0.01M166.9,191.4h0.01M177.3,196.4h0.01M161.1,196.3h0.01M170.0,190.2h0.01M157.6,187.8h0.01M151.1,196.7h0.01M159.5,175.4h0.01M162.1,197.7h0.01M162.3,192.8h0.01M180.3,196.5h0.01M149.9,185.4h0.01M160.7,205.2h0.01M150.7,198.4h0.01M138.0,173.1h0.01M161.8,190.2h0.01M151.1,191.3h0.01M144.8,188.9h0.01M159.2,192.1h0.01M151.8,197.8h0.01M164.0,187.7h0.01M163.0,195.6h0.01M169.4,196.9h0.01M172.0,190.5h0.01M156.1,183.8h0.01M158.1,188.1h0.01M157.4,184.6h0.01M171.0,188.6h0.01M173.1,181.4h0.01M143.8,189.6h0.01M158.7,192.3h0.01M134.6,184.6h0.01M167.0,192.0h0.01M157.9,194.7h0.01M172.8,198.8h0.01M156.0,191.5h0.01M170.8,174.5h0.01M165.0,193.3h0.01M151.8,189.5h0.01M160.2,180.3h0.01M175.0,185.3h0.01M162.7,185.3h0.01M168.5,181.7h0.01M158.9,196.0h0.01M155.6,191.8h0.01M107.4,171.9h0.01M156.0,184.2h0.01M141.0,173.8h0.01M173.7,201.5h0.01M154.8,195.7h0.01M153.2,193.0h0.01M159.5,184.2h0.01M162.3,178.1h0.01M169.8,179.5h0.01M158.1,197.6h0.01M169.9,194.6h0.01M163.9,190.3h0.01M164.6,198.8h0.01M145.3,193.2h0.01M155.3,163.9h0.01M160.4,188.5h0.01M167.2,202.7h0.01M142.7,187.2h0.01M166.7,203.0h0.01M169.6,200.7h0.01M168.0,178.9h0.01M154.3,190.7h0.01M140.7,192.0h0.01M157.3,188.6h0.01M156.3,189.0h0.01M156.2,195.0h0.01M160.2,189.8h0.01M150.9,182.5h0.01M143.9,182.2h0.01M155.7,195.0h0.01" stroke="#8a7474" stroke-width="1.60" stroke-linecap="round"/>
<path d="M154.4,206.5h0.01M160.5,192.7h0.01M175.3,190.4h0.01M161.3,199.0h0.01M145.4,195.6h0.01M162.3,192.7h0.01M150.9,200.3h0.01M151.6,198.5h0.01M141.5,192.1h0.01M157.8,200.5h0.01M165.7,198.2h0.01M156.2,188.7h0.01M142.4,206.0h0.01M163.6,201.4h0.01M156.7,199.4h0.01M154.8,198.2h0.01M144.8,203.6h0.01M155.3,199.5h0.01M149.6,204.4h0.01M145.8,198.3h0.01M154.9,164.4h0.01M156.5,192.4h0.01M154.1,195.9h0.01M167.9,194.6h0.01M153.6,200.2h0.01M132.4,214.1h0.01M159.3,206.0h0.01M165.9,205.8h0.01M155.7,189.5h0.01M165.5,200.3h0.01M140.0,198.4h0.01M164.7,201.0h0.01M173.6,202.9h0.01M154.5,205.0h0.01M165.1,200.7h0.01M154.8,197.5h0.01M151.5,206.2h0.01M160.2,199.0h0.01M161.0,201.6h0.01M146.9,203.5h0.01M161.1,202.8h0.01M182.0,190.1h0.01M134.1,200.1h0.01M150.9,202.3h0.01M154.4,209.0h0.01M158.2,193.4h0.01M157.2,204.4h0.01M152.4,204.6h0.01M146.9,207.7h0.01M166.6,192.9h0.01M148.7,195.0h0.01M153.9,206.9h0.01M173.9,190.5h0.01M156.0,204.6h0.01M165.6,184.1h0.01M158.7,200.7h0.01M135.3,203.5h0.01M131.9,209.4h0.01M138.6,193.1h0.01M162.8,196.6h0.01M141.0,205.1h0.01M151.7,205.0h0.01M146.1,201.5h0.01M156.8,171.5h0.01M154.5,198.6h0.01M163.0,193.7h0.01M165.4,198.4h0.01M159.9,203.5h0.01M160.7,206.8h0.01M155.8,205.1h0.01M148.4,197.5h0.01" stroke="#a8706a" stroke-width="1.60" stroke-linecap="round"/>
<path d="M162.0,168.1h0.01M157.8,173.7h0.01M165.3,172.8h0.01M152.3,173.5h0.01M157.6,167.4h0.01M159.7,159.1h0.01M159.6,158.0h0.01M158.1,168.2h0.01M158.5,171.5h0.01M153.5,167.0h0.01M163.7,171.9h0.01M159.2,165.5h0.01M163.8,167.6h0.01M160.7,168.7h0.01M162.5,165.6h0.01M161.5,161.6h0.01M165.3,170.0h0.01M167.9,159.5h0.01M156.3,167.9h0.01M169.3,166.5h0.01M160.2,171.2h0.01M160.2,166.4h0.01M161.6,169.1h0.01M156.6,162.1h0.01M164.7,167.3h0.01M150.8,173.9h0.01M168.2,174.3h0.01M164.4,160.8h0.01M160.9,172.1h0.01M165.0,172.5h0.01M162.1,170.2h0.01" stroke="#2a7a8a" stroke-width="1.60" stroke-linecap="round"/>
<path d="M162.0,198.1h0.01M159.2,205.8h0.01M173.8,197.0h0.01M158.4,197.2h0.01M141.4,197.0h0.01M151.2,185.9h0.01M148.4,200.3h0.01M169.7,201.2h0.01M147.0,203.6h0.01M162.3,204.0h0.01M139.6,195.3h0.01M160.2,199.7h0.01M149.7,200.6h0.01M154.8,195.5h0.01M159.1,198.5h0.01M129.7,214.2h0.01M148.1,200.9h0.01M165.4,194.4h0.01M146.0,191.9h0.01M149.7,203.5h0.01M161.8,194.9h0.01M140.9,199.7h0.01M155.3,189.0h0.01M166.4,201.9h0.01M154.5,195.8h0.01M130.8,215.6h0.01M134.7,212.5h0.01M148.1,205.5h0.01M133.1,198.8h0.01M156.0,200.7h0.01M150.3,202.4h0.01M160.4,207.9h0.01M159.1,193.9h0.01M161.7,186.8h0.01M159.7,197.8h0.01M150.9,204.9h0.01M157.4,207.6h0.01M148.1,198.1h0.01M162.3,201.0h0.01M149.0,199.4h0.01M144.1,199.7h0.01M137.4,207.8h0.01M148.7,199.0h0.01M149.6,208.4h0.01M158.7,196.7h0.01M156.1,207.0h0.01M150.4,194.3h0.01M151.7,203.2h0.01M161.4,197.7h0.01M147.7,198.2h0.01M160.2,194.5h0.01M162.4,198.1h0.01M151.8,207.7h0.01M131.2,210.1h0.01M157.2,198.0h0.01M164.3,191.8h0.01M149.7,205.9h0.01M149.8,202.1h0.01M162.2,200.7h0.01M158.4,196.4h0.01M157.0,195.1h0.01M160.4,199.1h0.01M154.9,190.2h0.01M162.3,198.3h0.01M136.0,183.3h0.01M142.7,208.3h0.01M158.1,201.6h0.01M171.7,204.2h0.01M151.6,199.4h0.01" stroke="#946060" stroke-width="1.60" stroke-linecap="round"/>
<path d="M164.2,196.6h0.01M155.4,197.1h0.01M171.4,199.8h0.01M133.3,207.3h0.01M157.3,198.6h0.01M167.2,186.7h0.01M167.4,205.3h0.01M148.3,199.0h0.01M160.2,203.0h0.01M143.1,206.4h0.01M149.9,201.1h0.01M162.4,198.9h0.01M153.8,191.1h0.01M169.1,201.0h0.01M157.7,202.2h0.01M163.5,204.4h0.01M129.6,201.1h0.01M156.4,204.6h0.01M151.9,207.8h0.01M161.1,200.3h0.01M170.0,203.6h0.01M174.1,178.1h0.01M130.5,213.2h0.01M132.2,176.4h0.01M156.4,200.4h0.01M164.8,206.0h0.01M152.2,201.4h0.01M146.0,176.9h0.01M169.9,207.9h0.01M166.2,200.7h0.01M169.1,200.2h0.01M156.3,192.7h0.01M129.5,212.2h0.01M133.8,206.7h0.01M143.4,161.9h0.01M172.2,200.7h0.01M152.8,200.1h0.01M154.0,205.4h0.01M153.3,206.1h0.01M166.7,190.0h0.01M151.4,201.1h0.01M147.3,197.3h0.01M157.3,202.4h0.01M150.2,189.9h0.01M132.8,210.6h0.01M138.2,209.0h0.01M141.8,195.2h0.01M132.9,217.0h0.01M149.6,202.8h0.01M148.1,197.6h0.01M149.4,189.4h0.01M136.3,184.1h0.01M127.0,188.6h0.01M167.7,200.4h0.01M129.4,211.5h0.01M149.4,203.7h0.01M136.2,193.7h0.01M141.5,187.6h0.01M156.8,208.0h0.01M154.2,199.2h0.01M152.6,201.5h0.01" stroke="#a0625e" stroke-width="1.60" stroke-linecap="round"/>
<path d="M181.1,198.2h0.01M158.6,170.6h0.01M158.4,191.1h0.01M158.7,191.3h0.01M161.0,189.5h0.01M148.4,191.9h0.01M155.9,188.7h0.01M174.4,189.4h0.01M156.0,204.8h0.01M159.2,177.5h0.01M157.6,199.3h0.01M153.9,196.6h0.01M159.7,184.8h0.01M162.1,191.2h0.01M166.6,177.8h0.01M167.4,197.4h0.01M156.3,188.0h0.01M154.0,188.0h0.01M164.7,187.9h0.01M165.8,189.1h0.01M160.2,193.4h0.01M156.7,196.5h0.01M155.8,188.6h0.01M166.7,187.0h0.01M157.0,181.0h0.01M166.0,180.7h0.01M155.2,179.3h0.01M153.9,203.5h0.01M158.7,195.9h0.01M141.0,188.7h0.01M169.2,200.7h0.01M171.1,183.0h0.01M177.2,194.5h0.01M169.2,197.0h0.01M168.7,166.0h0.01M171.9,191.0h0.01M144.3,203.8h0.01M156.5,189.1h0.01M160.5,181.1h0.01M151.9,176.4h0.01M158.3,180.8h0.01M161.8,202.8h0.01M174.9,196.7h0.01M169.2,181.5h0.01M161.1,205.8h0.01M164.1,191.6h0.01M155.5,204.7h0.01M161.6,182.0h0.01M157.9,180.5h0.01M151.2,184.3h0.01M151.3,188.3h0.01M164.9,197.8h0.01M160.6,180.0h0.01M160.2,194.9h0.01M150.8,185.8h0.01M171.2,185.7h0.01M148.7,189.2h0.01M149.2,193.7h0.01M163.1,193.6h0.01M175.6,183.4h0.01M153.5,149.1h0.01M139.3,186.6h0.01M165.0,180.6h0.01M152.5,180.6h0.01M148.5,181.2h0.01M169.4,191.4h0.01M169.4,187.8h0.01M168.2,197.9h0.01M153.6,188.7h0.01M162.6,205.3h0.01M156.0,191.1h0.01M167.7,190.5h0.01M147.1,188.2h0.01M176.7,193.1h0.01M161.7,184.5h0.01M158.8,183.5h0.01M135.3,181.0h0.01M148.8,196.4h0.01M160.5,200.7h0.01M168.6,196.6h0.01" stroke="#707080" stroke-width="1.60" stroke-linecap="round"/>
<path d="M151.4,154.0h0.01M142.6,163.9h0.01M129.3,154.6h0.01M120.3,156.5h0.01M140.8,163.0h0.01M137.0,162.7h0.01M134.6,163.1h0.01M134.5,166.4h0.01M145.7,160.3h0.01M147.5,160.5h0.01M131.1,171.0h0.01M137.3,159.5h0.01M142.3,166.0h0.01M146.5,160.9h0.01M152.1,167.2h0.01M170.5,156.9h0.01M144.4,158.3h0.01M152.6,166.1h0.01M138.7,154.8h0.01M108.0,165.2h0.01M132.8,160.1h0.01M134.6,164.2h0.01M148.5,152.5h0.01" stroke="#3a7a70" stroke-width="1.60" stroke-linecap="round"/>
<path d="M149.8,152.8h0.01M150.2,155.9h0.01M139.1,175.1h0.01M156.0,158.4h0.01M153.7,165.2h0.01M145.2,161.5h0.01M145.8,161.7h0.01M150.2,165.2h0.01M128.8,158.6h0.01M125.6,157.3h0.01M165.0,158.9h0.01M144.6,164.1h0.01M144.6,159.3h0.01M146.4,160.5h0.01" stroke="#4a9a90" stroke-width="1.60" stroke-linecap="round"/>
<path d="M153.1,169.7h0.01M132.0,149.1h0.01M135.2,162.0h0.01M120.8,155.3h0.01M107.4,168.6h0.01M122.7,153.3h0.01M114.3,155.3h0.01M159.3,177.7h0.01M117.2,157.9h0.01M117.8,164.1h0.01M138.4,156.7h0.01M116.5,156.9h0.01M109.3,164.3h0.01M147.3,179.6h0.01M117.3,156.4h0.01M129.7,177.6h0.01M121.6,158.1h0.01M180.9,172.6h0.01M161.2,175.8h0.01M146.9,189.7h0.01M118.5,159.3h0.01M122.2,159.3h0.01M156.3,182.1h0.01M107.6,163.3h0.01M139.0,154.9h0.01M130.1,157.5h0.01M133.5,156.8h0.01" stroke="#999" stroke-width="1.60" stroke-linecap="round"/>
<path d="M214,157 L240,151 L262,145 L288,138.5 L290,147 L272,150 L262,152.5 L240,157 L228,161 L216,170 L211,168 Z" fill="#bfe5c8" stroke="none" stroke-width="1" opacity="0.35"/>
<path d="M232,205 L248,203 L262,204 L258,211 L246,217 L236,220.5 L232.5,214 Z" fill="#f4b4b4" stroke="none" stroke-width="1" opacity="0.7"/>
<path d="M274.5,191.0h0.01M281.9,177.1h0.01M270.7,169.6h0.01M289.9,168.2h0.01M283.9,180.1h0.01M285.6,166.4h0.01M288.5,169.6h0.01M279.7,179.1h0.01M279.9,171.5h0.01M279.6,179.1h0.01M287.7,175.9h0.01M285.7,169.5h0.01M286.7,185.3h0.01M275.9,166.7h0.01M275.8,160.0h0.01M286.2,160.2h0.01M286.6,164.7h0.01M279.6,166.8h0.01M277.5,177.6h0.01M277.2,168.9h0.01M276.6,175.0h0.01M281.6,175.7h0.01M284.7,177.4h0.01M282.6,169.9h0.01M284.7,169.5h0.01M284.3,159.7h0.01M290.5,172.5h0.01M279.7,180.1h0.01M282.3,163.3h0.01M282.2,171.7h0.01M280.9,184.1h0.01M275.6,172.7h0.01M279.5,174.0h0.01M286.0,167.4h0.01M289.3,171.0h0.01M271.8,162.6h0.01M286.0,184.3h0.01M280.5,173.2h0.01M290.8,166.6h0.01M284.5,181.6h0.01M295.3,174.6h0.01M283.6,158.0h0.01M282.9,181.4h0.01M285.6,176.3h0.01M289.6,174.7h0.01M286.5,179.4h0.01M285.7,158.7h0.01M286.6,185.6h0.01M281.8,180.3h0.01M285.3,165.7h0.01M287.4,174.8h0.01M284.5,161.7h0.01M288.3,173.5h0.01M292.4,178.1h0.01M272.0,182.0h0.01M278.1,186.3h0.01M282.8,160.5h0.01M285.5,172.9h0.01M288.8,181.4h0.01M275.4,171.9h0.01M279.0,168.1h0.01M279.0,173.1h0.01M282.1,174.5h0.01M285.6,174.2h0.01M281.6,171.2h0.01M287.7,166.5h0.01M285.1,179.1h0.01M283.9,167.7h0.01M268.5,149.6h0.01M280.6,152.1h0.01M282.0,149.3h0.01M273.3,146.3h0.01M275.5,149.4h0.01M287.9,152.6h0.01M278.5,151.7h0.01M276.4,150.7h0.01M285.3,152.8h0.01M283.5,146.3h0.01M276.2,152.0h0.01M280.4,154.2h0.01M275.2,149.7h0.01M277.0,146.2h0.01M281.3,148.1h0.01M278.5,155.6h0.01M282.7,145.5h0.01M273.4,148.7h0.01M279.3,151.7h0.01M284.1,158.2h0.01M276.2,151.4h0.01M279.8,153.8h0.01M279.8,146.0h0.01M281.5,153.8h0.01M284.4,151.5h0.01M278.8,149.1h0.01M278.1,151.1h0.01M272.6,151.0h0.01M275.7,148.2h0.01M274.6,148.1h0.01M280.1,148.6h0.01" stroke="#4a9ad8" stroke-width="1.00" stroke-linecap="round"/>
<path d="M288.0,176.0h0.01M279.9,163.9h0.01M279.7,172.7h0.01M277.4,166.7h0.01M285.4,170.1h0.01M280.9,175.0h0.01M292.6,175.6h0.01M283.2,161.6h0.01M286.7,156.4h0.01M283.2,175.7h0.01M279.8,164.1h0.01M285.5,168.3h0.01M285.0,168.4h0.01M280.6,173.9h0.01M279.6,171.9h0.01M282.5,156.9h0.01M283.0,166.3h0.01M277.7,164.7h0.01M288.2,167.4h0.01M281.0,174.8h0.01M283.3,179.9h0.01M278.8,155.1h0.01M280.4,172.3h0.01M290.4,176.9h0.01M287.6,177.0h0.01M282.5,173.9h0.01M277.9,177.5h0.01M279.2,152.2h0.01M276.5,193.4h0.01M280.8,177.3h0.01M284.0,171.6h0.01M285.9,163.9h0.01M282.9,195.3h0.01M281.1,171.7h0.01M290.2,181.0h0.01M278.0,163.0h0.01M285.6,188.9h0.01M285.4,179.6h0.01M280.9,177.7h0.01M285.9,183.7h0.01M284.2,176.4h0.01M281.0,159.0h0.01M284.1,174.4h0.01M287.2,166.3h0.01M290.7,177.3h0.01M277.8,175.2h0.01M283.1,166.1h0.01M272.3,171.3h0.01M283.0,159.6h0.01M280.9,174.3h0.01M279.7,175.7h0.01M282.6,174.1h0.01M282.9,167.4h0.01M284.0,182.7h0.01M276.8,175.6h0.01M276.7,171.1h0.01M282.0,184.5h0.01M290.0,185.3h0.01M286.3,180.9h0.01M278.3,149.3h0.01M273.8,146.2h0.01M279.8,146.3h0.01M283.0,141.1h0.01M282.3,149.5h0.01M273.0,146.8h0.01M283.5,155.0h0.01M276.9,150.1h0.01M270.9,154.0h0.01M291.8,149.5h0.01M274.8,146.8h0.01M277.5,153.6h0.01M266.9,153.7h0.01M281.9,152.5h0.01M278.9,153.2h0.01M281.4,147.2h0.01M277.4,150.0h0.01M275.6,151.3h0.01M285.5,152.9h0.01M276.6,152.2h0.01M284.6,147.3h0.01M287.9,150.1h0.01M286.5,149.8h0.01M278.9,151.0h0.01M281.7,150.0h0.01M273.5,150.6h0.01M280.3,149.7h0.01M290.2,147.0h0.01M272.2,147.8h0.01M281.8,145.9h0.01M273.6,155.9h0.01M278.7,147.9h0.01M276.5,142.8h0.01M275.6,153.3h0.01M273.5,147.4h0.01M286.9,154.4h0.01M269.6,151.5h0.01M274.7,146.9h0.01M279.0,154.8h0.01M275.4,151.9h0.01M276.5,146.9h0.01M279.0,148.7h0.01M287.4,150.6h0.01M271.9,148.1h0.01M281.3,149.8h0.01M277.0,154.1h0.01M279.0,147.1h0.01M282.8,149.5h0.01M278.6,146.3h0.01" stroke="#6aaee0" stroke-width="1.00" stroke-linecap="round"/>
<path d="M278.0,176.2h0.01M278.2,173.2h0.01M289.3,188.2h0.01M285.0,154.5h0.01M287.7,169.9h0.01M276.8,171.4h0.01M274.5,166.6h0.01M287.9,180.1h0.01M283.5,163.9h0.01M285.0,178.1h0.01M284.0,162.1h0.01M286.1,176.9h0.01M284.6,180.9h0.01M288.3,158.5h0.01M285.3,179.0h0.01M281.8,160.8h0.01M288.8,190.5h0.01M291.9,171.3h0.01M282.6,166.5h0.01M281.3,163.9h0.01M286.1,173.8h0.01M281.6,166.1h0.01M287.1,164.0h0.01M276.4,158.0h0.01M283.5,159.6h0.01M278.6,176.8h0.01M291.7,165.5h0.01M276.1,175.6h0.01M277.4,181.2h0.01M277.6,155.9h0.01M282.4,163.0h0.01M275.8,166.6h0.01M275.9,173.6h0.01M285.2,170.6h0.01M288.7,189.7h0.01M279.7,163.6h0.01M279.4,175.2h0.01M291.1,171.0h0.01M283.7,175.1h0.01M281.3,159.1h0.01M276.3,181.8h0.01M277.7,178.7h0.01M287.6,174.6h0.01M282.0,147.5h0.01M279.4,170.5h0.01M281.5,166.1h0.01M282.9,168.8h0.01M275.2,173.9h0.01M290.3,182.6h0.01M287.2,177.3h0.01M288.0,177.7h0.01M285.8,171.2h0.01M286.3,195.3h0.01M293.2,174.6h0.01M282.4,160.0h0.01M284.4,168.2h0.01M274.1,186.2h0.01M276.4,158.7h0.01M289.3,183.6h0.01M286.8,177.5h0.01M286.3,180.8h0.01M281.4,170.5h0.01M276.8,173.4h0.01M285.2,167.9h0.01M281.3,176.2h0.01" stroke="#2f7fc0" stroke-width="1.00" stroke-linecap="round"/>
<path d="M286.8,169.8h0.01M284.1,180.9h0.01M284.4,170.8h0.01M277.6,171.3h0.01M281.0,156.1h0.01M284.9,168.5h0.01M285.6,179.1h0.01M285.8,177.0h0.01M283.6,166.7h0.01M289.7,166.9h0.01M283.6,167.5h0.01M295.4,167.9h0.01M278.6,174.5h0.01M281.0,185.5h0.01M288.5,174.9h0.01M283.2,181.1h0.01M278.8,172.7h0.01M283.0,175.3h0.01M284.0,181.0h0.01M282.6,171.0h0.01M279.4,176.0h0.01M281.6,169.3h0.01M282.7,166.6h0.01M287.1,167.5h0.01M277.6,167.0h0.01M281.5,177.5h0.01M282.0,164.4h0.01M282.0,165.7h0.01M280.0,185.3h0.01M283.1,171.2h0.01M280.9,157.8h0.01M285.4,179.6h0.01M276.2,182.8h0.01M278.8,173.0h0.01M281.7,177.0h0.01M285.5,170.3h0.01M281.8,168.6h0.01M282.6,174.9h0.01M283.1,166.5h0.01M286.0,166.1h0.01M284.3,175.1h0.01M283.8,173.0h0.01M276.4,160.4h0.01M277.2,173.8h0.01M281.4,163.5h0.01M281.4,175.1h0.01M281.8,181.7h0.01M284.3,182.2h0.01M288.2,164.1h0.01M282.2,159.1h0.01M283.1,173.5h0.01M289.3,178.3h0.01M284.2,164.0h0.01M279.4,175.0h0.01M274.5,170.8h0.01M281.9,175.3h0.01M282.7,172.9h0.01M278.2,174.6h0.01M282.3,179.3h0.01M281.8,182.8h0.01M289.1,191.5h0.01M278.3,173.8h0.01M289.1,189.0h0.01M285.9,168.6h0.01M277.5,171.7h0.01M289.3,190.9h0.01M274.4,182.7h0.01M277.7,171.7h0.01M276.8,169.9h0.01M282.6,162.0h0.01M282.6,171.6h0.01M284.7,167.8h0.01M286.3,159.6h0.01M275.6,166.4h0.01M284.1,171.8h0.01M294.4,177.4h0.01M280.7,179.9h0.01M286.0,164.0h0.01M275.0,178.2h0.01M281.0,180.1h0.01M287.6,170.4h0.01M285.6,180.2h0.01M285.6,176.8h0.01M289.8,170.7h0.01M279.3,151.7h0.01M288.2,180.6h0.01M284.9,165.9h0.01M283.1,170.0h0.01M278.8,148.8h0.01M268.6,148.1h0.01M276.4,144.5h0.01M278.7,159.8h0.01M270.5,150.4h0.01M283.4,145.6h0.01M281.1,152.5h0.01M277.7,148.8h0.01M277.9,151.9h0.01M276.8,153.5h0.01M277.7,148.9h0.01M279.3,150.9h0.01M285.0,150.0h0.01M276.3,152.2h0.01M282.4,151.4h0.01M281.8,148.5h0.01M286.4,148.9h0.01M287.2,147.5h0.01M272.8,147.5h0.01M279.0,151.1h0.01M272.8,154.8h0.01M278.9,144.9h0.01M270.8,151.4h0.01M273.9,152.8h0.01M284.5,149.9h0.01M282.5,152.2h0.01M275.1,147.8h0.01M290.3,152.7h0.01M272.4,150.2h0.01M283.8,153.4h0.01M291.3,149.8h0.01M277.9,148.0h0.01M285.8,150.9h0.01M277.5,147.7h0.01M273.2,147.9h0.01M280.7,147.8h0.01M271.5,188.6h0.01M260.7,175.8h0.01M264.0,176.5h0.01M280.0,174.5h0.01M277.4,172.4h0.01M271.5,186.2h0.01M266.6,194.8h0.01M264.1,169.5h0.01M279.4,176.5h0.01M289.9,177.5h0.01M270.5,177.7h0.01M277.1,182.3h0.01M266.2,176.5h0.01M265.4,171.6h0.01M262.6,185.7h0.01M266.6,177.5h0.01M275.9,185.2h0.01M273.6,186.5h0.01M289.1,167.5h0.01M270.8,188.2h0.01M275.6,166.0h0.01M277.6,183.5h0.01M280.8,157.4h0.01M271.0,167.0h0.01M274.9,186.2h0.01M269.0,185.4h0.01M291.3,176.6h0.01M277.9,181.1h0.01M272.1,171.5h0.01M265.9,164.9h0.01M281.6,188.5h0.01M292.0,189.9h0.01M282.4,176.1h0.01M268.8,183.5h0.01M275.9,169.6h0.01M276.1,170.4h0.01M281.7,173.7h0.01M273.1,179.8h0.01M262.6,183.8h0.01M293.3,179.9h0.01M262.0,203.1h0.01M289.2,174.9h0.01M281.3,185.7h0.01M280.5,165.1h0.01M280.0,191.3h0.01M286.3,197.9h0.01M272.1,166.9h0.01" stroke="#a0cbea" stroke-width="1.00" stroke-linecap="round"/>
<path d="M282.0,178.8h0.01M286.6,160.9h0.01M287.4,184.5h0.01M270.3,190.2h0.01M286.5,155.3h0.01M292.1,180.3h0.01M288.5,172.4h0.01M276.2,171.5h0.01M286.2,187.5h0.01M280.1,175.9h0.01M284.1,180.9h0.01M280.6,167.7h0.01M287.5,165.0h0.01M281.6,179.2h0.01M284.6,183.7h0.01M288.6,162.6h0.01M284.5,172.7h0.01M287.9,182.1h0.01M287.0,171.4h0.01M286.4,171.7h0.01M280.1,181.4h0.01M279.1,181.8h0.01M285.9,176.3h0.01M282.7,167.4h0.01M292.8,170.4h0.01M279.0,174.0h0.01M278.4,175.2h0.01M286.8,172.6h0.01M281.8,172.2h0.01M285.7,176.4h0.01M286.5,160.7h0.01M276.9,179.1h0.01M283.1,170.7h0.01M278.8,172.8h0.01M290.6,166.2h0.01M280.9,187.8h0.01M277.1,175.2h0.01M287.6,173.3h0.01M282.7,160.8h0.01M291.3,172.7h0.01M283.6,165.3h0.01M282.7,170.6h0.01M278.1,178.2h0.01M283.0,164.4h0.01M287.9,156.8h0.01M274.3,177.8h0.01M285.0,177.5h0.01M279.8,180.4h0.01M283.9,180.1h0.01M286.2,167.9h0.01M279.6,163.8h0.01M285.1,176.4h0.01M285.4,178.3h0.01M273.3,173.6h0.01M283.2,189.1h0.01M279.4,172.8h0.01M284.5,190.8h0.01M293.9,177.7h0.01" stroke="#3a8ccf" stroke-width="1.00" stroke-linecap="round"/>
<path d="M275.2,167.7h0.01M288.9,170.2h0.01M277.4,178.8h0.01M281.5,149.4h0.01M280.9,172.4h0.01M283.4,169.4h0.01M283.7,193.7h0.01M279.8,165.2h0.01M284.8,185.7h0.01M279.4,181.1h0.01M273.6,166.1h0.01M279.8,161.8h0.01M281.5,171.9h0.01M290.0,174.8h0.01M278.9,182.1h0.01M288.3,170.0h0.01M287.2,170.7h0.01M287.0,163.4h0.01M283.9,183.3h0.01M290.0,171.2h0.01M281.8,175.6h0.01M282.6,178.7h0.01M285.3,173.4h0.01M288.5,172.0h0.01M281.8,171.7h0.01M290.5,168.9h0.01M290.5,187.9h0.01M278.9,173.6h0.01M287.6,166.4h0.01M283.1,179.0h0.01M279.8,155.8h0.01M282.0,171.0h0.01M275.5,168.1h0.01M287.5,168.9h0.01M278.8,178.1h0.01M282.2,148.2h0.01M290.7,177.5h0.01M282.1,169.1h0.01M292.6,179.0h0.01M288.0,183.2h0.01M289.7,180.2h0.01M291.2,167.3h0.01M278.4,170.2h0.01M290.6,178.2h0.01M279.7,171.2h0.01M282.4,179.2h0.01M285.2,191.9h0.01M284.4,160.7h0.01M284.5,161.9h0.01M280.8,140.9h0.01M280.3,183.2h0.01M286.5,167.6h0.01M287.8,177.0h0.01M287.3,175.3h0.01M286.0,166.0h0.01M282.0,166.0h0.01M280.0,174.8h0.01M283.2,172.3h0.01M279.4,175.2h0.01M284.1,176.0h0.01M284.5,169.5h0.01M285.3,166.3h0.01M288.7,171.7h0.01M280.7,175.8h0.01M287.0,163.4h0.01M284.6,161.9h0.01M282.4,172.6h0.01M277.8,165.4h0.01M282.7,166.6h0.01M282.0,179.8h0.01M280.3,178.8h0.01M286.9,177.3h0.01M274.6,168.9h0.01M286.8,183.9h0.01M288.2,167.8h0.01M278.5,168.6h0.01M290.0,180.2h0.01M282.3,180.8h0.01M280.4,170.3h0.01M287.9,168.0h0.01M283.5,175.0h0.01M291.0,177.4h0.01M278.2,150.3h0.01M279.0,146.0h0.01M268.2,157.6h0.01M282.2,149.5h0.01M279.5,147.7h0.01M279.8,147.7h0.01M277.7,151.8h0.01M278.6,146.6h0.01M277.9,150.2h0.01M278.0,150.3h0.01M280.3,152.0h0.01M284.0,149.6h0.01M277.5,154.6h0.01M278.0,154.7h0.01M287.3,148.3h0.01M275.6,154.5h0.01M288.3,151.7h0.01M275.2,147.4h0.01M281.4,146.8h0.01M279.3,149.1h0.01M280.8,143.9h0.01M274.4,150.1h0.01M275.3,149.1h0.01M275.2,157.9h0.01M279.5,145.0h0.01M281.7,152.7h0.01M281.6,141.2h0.01M286.7,148.4h0.01M286.3,149.7h0.01M283.2,146.9h0.01M281.5,148.6h0.01M282.8,150.7h0.01M270.7,146.6h0.01M283.1,146.3h0.01M273.8,150.1h0.01M271.8,147.6h0.01M279.8,152.6h0.01M275.2,151.7h0.01M284.8,144.4h0.01M275.4,150.7h0.01M275.6,149.7h0.01M272.6,149.1h0.01M278.2,151.3h0.01M274.4,155.0h0.01M286.8,172.8h0.01M277.2,172.6h0.01M273.6,171.6h0.01M272.0,181.9h0.01M266.4,188.2h0.01M274.3,179.4h0.01M275.5,178.4h0.01M265.1,177.0h0.01M285.8,180.9h0.01M268.1,182.4h0.01M275.8,175.6h0.01M274.5,170.9h0.01M289.5,185.8h0.01M277.5,183.9h0.01M273.0,170.3h0.01M271.6,186.3h0.01M280.3,170.1h0.01M283.8,169.4h0.01M270.5,183.4h0.01M252.6,188.8h0.01M281.0,172.8h0.01M274.6,188.4h0.01M276.7,174.5h0.01M267.4,185.4h0.01M279.7,183.5h0.01M286.5,176.0h0.01M276.0,176.9h0.01M281.6,181.7h0.01M297.4,180.8h0.01M271.0,183.7h0.01M285.9,170.1h0.01M285.0,164.2h0.01M256.2,207.5h0.01M277.0,176.3h0.01M274.1,188.5h0.01M278.5,171.0h0.01M268.0,183.9h0.01M271.3,186.1h0.01M275.9,186.5h0.01M262.2,179.2h0.01M276.0,179.2h0.01M263.2,165.4h0.01M280.1,179.8h0.01M263.6,194.0h0.01M274.2,175.0h0.01M281.5,170.4h0.01M284.0,179.5h0.01M278.1,187.2h0.01M271.8,183.0h0.01M279.1,176.9h0.01M273.4,176.3h0.01M282.9,185.5h0.01M279.2,179.3h0.01M287.5,173.7h0.01M273.0,186.2h0.01M274.2,187.6h0.01M274.7,174.8h0.01M274.8,188.7h0.01M256.0,171.3h0.01M285.1,191.6h0.01M268.5,194.8h0.01M261.9,167.9h0.01M279.7,178.3h0.01M274.5,179.1h0.01" stroke="#8cc0e8" stroke-width="1.00" stroke-linecap="round"/>
<path d="M276.3,175.8h0.01M277.1,185.9h0.01M272.7,182.4h0.01M273.6,181.5h0.01M283.7,174.5h0.01M276.3,175.3h0.01M282.5,173.5h0.01M274.3,163.5h0.01M287.6,177.3h0.01M272.4,174.0h0.01M284.0,157.9h0.01M280.8,180.5h0.01M271.0,169.1h0.01M255.6,176.7h0.01M282.7,165.7h0.01M270.4,187.9h0.01M266.2,195.7h0.01M273.9,177.3h0.01M278.8,183.4h0.01M275.4,178.2h0.01M269.9,166.7h0.01M284.7,172.1h0.01M276.8,174.7h0.01M287.4,169.3h0.01M258.0,166.5h0.01M277.3,178.7h0.01M280.1,166.3h0.01M277.4,160.1h0.01M272.7,195.1h0.01M272.2,185.1h0.01M280.9,182.1h0.01M280.3,173.5h0.01M269.0,188.2h0.01M279.2,175.0h0.01M281.4,175.1h0.01M268.3,183.0h0.01M277.6,185.4h0.01M278.8,183.8h0.01M288.4,192.0h0.01" stroke="#b8d8f0" stroke-width="1.00" stroke-linecap="round"/>
<path d="M229.9,213.1h0.01M245.6,210.6h0.01M242.0,211.2h0.01M239.9,212.0h0.01M247.5,216.1h0.01M242.2,211.9h0.01M238.5,219.3h0.01M237.7,214.5h0.01M239.1,215.7h0.01M239.8,217.7h0.01M235.0,209.1h0.01M245.5,204.3h0.01M245.5,202.6h0.01M230.9,205.8h0.01M241.3,214.5h0.01M236.1,211.8h0.01M238.1,214.2h0.01M238.4,210.9h0.01M241.4,202.4h0.01M247.5,216.8h0.01M243.9,214.6h0.01M252.4,210.4h0.01M227.4,204.9h0.01M238.9,209.1h0.01M246.3,212.3h0.01M247.0,206.3h0.01M244.4,211.9h0.01M235.6,208.0h0.01M230.7,212.8h0.01M235.7,216.9h0.01M242.5,212.0h0.01M242.1,210.3h0.01M235.9,209.8h0.01M236.8,212.1h0.01M231.8,203.6h0.01M247.0,208.4h0.01M260.8,214.6h0.01M234.1,209.5h0.01M245.0,206.8h0.01M247.4,213.5h0.01M236.7,210.8h0.01M246.9,207.7h0.01M239.6,216.0h0.01M239.6,213.9h0.01M235.4,214.6h0.01M242.6,208.7h0.01M247.0,214.4h0.01M240.9,211.6h0.01M243.0,205.5h0.01M237.8,211.8h0.01M239.6,216.3h0.01M241.3,209.8h0.01M239.6,212.6h0.01M246.6,218.1h0.01M246.5,214.5h0.01M250.4,209.7h0.01" stroke="#e86060" stroke-width="1.00" stroke-linecap="round"/>
<path d="M235.8,210.9h0.01M253.2,215.2h0.01M227.5,218.9h0.01M235.8,211.9h0.01M235.3,212.9h0.01M226.5,213.9h0.01M238.4,213.0h0.01M231.2,214.9h0.01M241.0,208.4h0.01M238.2,211.4h0.01M240.2,208.4h0.01M239.6,211.4h0.01M245.6,210.8h0.01M233.3,212.8h0.01M243.4,205.6h0.01M236.5,212.6h0.01M236.3,211.4h0.01M233.8,212.6h0.01M239.4,217.6h0.01M248.5,201.3h0.01M239.9,205.3h0.01M234.4,220.2h0.01M251.3,213.7h0.01M239.6,209.5h0.01M236.5,208.7h0.01M243.1,210.0h0.01M243.3,210.5h0.01M243.9,213.4h0.01M239.3,210.2h0.01M233.7,216.5h0.01M234.6,209.8h0.01M233.8,210.2h0.01M245.3,217.9h0.01M231.2,213.6h0.01M235.0,218.8h0.01M248.0,210.3h0.01M233.4,208.2h0.01M221.5,209.9h0.01M247.1,201.9h0.01M243.4,213.4h0.01M247.5,211.4h0.01M245.6,217.0h0.01M246.7,215.1h0.01M236.1,210.4h0.01M226.2,213.6h0.01M238.0,212.2h0.01M239.8,213.7h0.01M246.6,211.3h0.01M239.1,211.8h0.01M227.2,212.9h0.01M236.3,213.5h0.01M239.8,209.2h0.01M243.2,210.8h0.01M229.1,209.9h0.01M226.9,215.7h0.01M237.1,220.1h0.01M236.4,216.0h0.01" stroke="#f08080" stroke-width="1.00" stroke-linecap="round"/>
<path d="M243.7,216.1h0.01M235.8,208.6h0.01M239.7,205.4h0.01M235.4,217.1h0.01M240.0,216.5h0.01M241.1,207.7h0.01M234.7,206.8h0.01M246.6,206.5h0.01M254.9,206.2h0.01M228.2,211.7h0.01M237.1,209.3h0.01M243.4,216.8h0.01M235.1,207.0h0.01M245.8,205.2h0.01M241.6,211.6h0.01M230.7,219.1h0.01M233.1,211.0h0.01M244.6,209.0h0.01M240.7,213.0h0.01M245.5,209.7h0.01M249.3,219.0h0.01M235.4,214.3h0.01M245.2,210.1h0.01M232.4,209.1h0.01M240.5,209.5h0.01M244.5,214.6h0.01M232.4,219.7h0.01M245.3,215.7h0.01M248.3,207.9h0.01M230.7,215.2h0.01M240.9,217.2h0.01M237.8,211.3h0.01M244.1,214.4h0.01M250.4,219.2h0.01M242.3,210.4h0.01M239.9,208.9h0.01M236.6,212.7h0.01M234.8,213.7h0.01M246.7,215.6h0.01M238.0,214.0h0.01M244.1,210.8h0.01M231.4,211.7h0.01M242.3,213.7h0.01M236.6,203.7h0.01M227.8,210.0h0.01M249.6,212.2h0.01M235.9,208.9h0.01" stroke="#f4a0a0" stroke-width="1.00" stroke-linecap="round"/>
<path d="M215.8,166.0h0.01M219.2,169.8h0.01M215.9,161.0h0.01M218.2,167.0h0.01M213.9,160.7h0.01M213.9,165.2h0.01M212.7,165.5h0.01M213.9,165.1h0.01M220.7,157.8h0.01M212.8,166.6h0.01M213.7,163.6h0.01M213.1,166.2h0.01M215.9,169.3h0.01M212.3,163.2h0.01M225.0,164.2h0.01M214.3,163.2h0.01M217.4,168.9h0.01M211.4,164.7h0.01M220.4,165.7h0.01M212.5,167.7h0.01M215.5,162.8h0.01M217.6,163.0h0.01M216.6,168.4h0.01M214.3,158.9h0.01M215.7,166.5h0.01M213.8,165.2h0.01M215.2,168.0h0.01M213.9,165.9h0.01M208.1,168.2h0.01M214.1,170.6h0.01" stroke="#bfe6c8" stroke-width="1.00" stroke-linecap="round"/>
<path d="M221.1,167.1h0.01M218.7,171.7h0.01M217.0,161.5h0.01M222.3,166.5h0.01M214.4,166.9h0.01M219.9,165.8h0.01M216.5,166.5h0.01M213.3,168.7h0.01M218.3,169.6h0.01M218.4,160.8h0.01M215.7,162.5h0.01M214.0,166.1h0.01M219.7,165.7h0.01M210.1,165.4h0.01M216.8,167.2h0.01M213.8,163.6h0.01M213.8,162.1h0.01M213.4,172.8h0.01M218.5,166.6h0.01M220.2,170.5h0.01" stroke="#d0d0d0" stroke-width="1.00" stroke-linecap="round"/>
<path d="M282.3,196.1h0.01M223.9,191.9h0.01M244.6,194.1h0.01M258.0,190.9h0.01M248.2,177.7h0.01M234.4,182.9h0.01M265.6,169.0h0.01M237.3,187.3h0.01M269.2,179.7h0.01M257.9,177.8h0.01M220.6,213.3h0.01M264.4,198.6h0.01M246.7,185.5h0.01M289.1,186.4h0.01M229.9,182.1h0.01M226.4,194.0h0.01M264.8,171.5h0.01M258.3,153.6h0.01M250.3,201.2h0.01M268.6,186.9h0.01M272.2,194.9h0.01M243.5,190.0h0.01M247.7,188.2h0.01M279.5,180.2h0.01M244.3,162.6h0.01M233.0,197.7h0.01M262.1,197.1h0.01M230.7,201.7h0.01M270.4,182.3h0.01M249.8,193.4h0.01M267.0,160.3h0.01M241.4,187.4h0.01M227.2,171.8h0.01M222.9,177.2h0.01M251.8,193.0h0.01M238.4,188.2h0.01M234.6,221.5h0.01M261.8,193.2h0.01M245.1,170.7h0.01M275.5,217.5h0.01M251.9,209.9h0.01M236.9,186.5h0.01M254.8,175.6h0.01M262.5,212.3h0.01M250.4,188.5h0.01M255.2,190.3h0.01M255.3,178.8h0.01M223.0,172.8h0.01M244.9,188.4h0.01M244.1,196.4h0.01M261.3,206.6h0.01" stroke="#d0d8e8" stroke-width="1.00" stroke-linecap="round"/>
<path d="M292.2,210.2h0.01M281.0,155.6h0.01M261.3,175.4h0.01M250.4,192.0h0.01M237.4,185.1h0.01M266.0,175.2h0.01M276.5,175.4h0.01M237.3,190.4h0.01M268.4,170.6h0.01M222.8,185.3h0.01M255.6,178.4h0.01M239.8,170.6h0.01M251.3,162.6h0.01M248.0,196.5h0.01M231.5,180.7h0.01M256.8,167.0h0.01M261.7,221.6h0.01M242.2,190.8h0.01M264.3,187.7h0.01M258.1,183.8h0.01M217.9,189.6h0.01M237.3,150.3h0.01M272.3,182.5h0.01M241.3,185.5h0.01M246.4,158.0h0.01M255.5,191.4h0.01M249.1,187.3h0.01M231.8,167.8h0.01M260.4,178.5h0.01M263.9,207.4h0.01M264.5,188.8h0.01M242.3,177.1h0.01M258.4,167.1h0.01M228.7,153.1h0.01M281.3,169.9h0.01M266.9,173.1h0.01M252.5,185.8h0.01M284.5,185.6h0.01M248.4,165.2h0.01M257.3,200.7h0.01" stroke="#e0d0d0" stroke-width="1.00" stroke-linecap="round"/>
<path d="M248.5,180.4h0.01M252.7,180.7h0.01M263.4,184.7h0.01M247.8,169.1h0.01M299.6,174.6h0.01M237.9,191.8h0.01M251.3,152.8h0.01M281.1,181.1h0.01M257.4,181.9h0.01M233.7,215.6h0.01M248.2,183.5h0.01M276.3,152.6h0.01M253.1,173.9h0.01M260.2,186.7h0.01M230.1,186.4h0.01M231.6,188.0h0.01M262.6,200.6h0.01M224.8,193.0h0.01M263.5,149.0h0.01M260.7,159.9h0.01M276.6,204.9h0.01M246.6,206.4h0.01M243.7,184.9h0.01M252.6,163.5h0.01M275.7,176.7h0.01M250.2,184.1h0.01M260.4,170.4h0.01M229.0,188.4h0.01M237.7,188.8h0.01M237.4,204.2h0.01M242.6,185.3h0.01M256.9,150.9h0.01M246.5,170.6h0.01M241.6,185.0h0.01M244.1,175.0h0.01M221.0,165.8h0.01M251.0,175.0h0.01M255.8,173.0h0.01M248.7,166.9h0.01M270.2,183.7h0.01M268.8,213.0h0.01M226.3,172.2h0.01M261.1,186.6h0.01M265.0,179.4h0.01M267.8,168.4h0.01M237.7,186.2h0.01M278.8,184.9h0.01M275.2,164.3h0.01M242.4,180.4h0.01M257.7,181.5h0.01M276.6,161.4h0.01M236.2,186.7h0.01M237.0,202.6h0.01M243.3,181.8h0.01M252.7,168.1h0.01M266.0,164.8h0.01M232.4,172.8h0.01M249.3,181.3h0.01M262.7,179.9h0.01M242.2,186.7h0.01M258.5,189.5h0.01M249.9,184.1h0.01M286.7,180.8h0.01M241.3,187.1h0.01M236.5,218.2h0.01M214.1,192.4h0.01M234.0,198.7h0.01M261.2,183.7h0.01M232.8,193.2h0.01" stroke="#e8d0c8" stroke-width="1.00" stroke-linecap="round"/>
<path d="M237.1,167.0L230.0,175.9M228.0,176.2L227.1,187.7M245.8,177.4L247.6,183.7M262.0,161.6L249.5,167.7M230.0,175.9L216.5,171.3M257.8,151.1L266.7,160.9M259.0,176.3L247.6,183.7M238.3,159.2L237.1,167.0M267.6,170.9L259.0,176.3M238.5,192.6L247.9,194.8M257.8,151.1L262.0,161.6" stroke="#4c4a54" stroke-width="0.75" fill="none" opacity="0.95"/>
<path d="M227.5,187.5L233.8,195.4M237.6,202.7L235.8,203.1M227.5,187.5L238.5,192.6M227.1,187.7L233.8,195.4M227.5,187.5L227.1,187.7M233.8,195.4L235.8,203.1M238.5,192.6L237.6,202.7M239.7,187.8L233.8,195.4M239.7,187.8L238.5,192.6M238.5,192.6L233.8,195.4M227.5,187.5L239.7,187.8M237.6,202.7L233.8,195.4M238.5,192.6L227.1,187.7M238.5,192.6L235.8,203.1" stroke="#b08070" stroke-width="0.75" fill="none" opacity="0.95"/>
<path d="M226.2,151.2L216.5,154.0M281.3,149.8L272.3,141.5M286.1,158.2L287.7,153.1M214.6,156.9L226.2,151.2M218.7,156.4L226.2,151.2M278.1,142.2L285.8,145.4M226.4,161.2L217.5,167.6M278.1,142.2L272.3,141.5M268.1,151.8L262.7,143.5M226.4,161.2L214.6,156.9M214.6,156.9L210.8,170.4M218.7,156.4L210.8,170.4M210.8,170.4L216.5,171.3M226.4,161.2L216.5,171.3M285.8,145.4L272.3,141.5M217.5,167.6L210.8,170.4M278.1,142.2L287.7,153.1M278.6,157.7L287.7,153.1M238.3,159.2L243.5,149.2M218.7,156.4L216.5,154.0M218.7,156.4L217.5,167.6M272.3,141.5L262.7,143.5M268.1,151.8L272.3,141.5M281.3,149.8L287.7,138.7M278.1,142.2L281.3,149.8M246.5,151.7L243.5,149.2M257.8,151.1L262.7,143.5M217.5,167.6L216.5,154.0M218.7,156.4L214.6,156.9M285.8,145.4L287.7,138.7M286.1,158.2L285.8,145.4M217.5,167.6L214.6,156.9M278.1,142.2L287.7,138.7M287.7,138.7L272.3,141.5M217.5,167.6L216.5,171.3M262.7,143.5L243.5,149.2M278.1,142.2L262.7,143.5M281.3,149.8L285.8,145.4" stroke="#3f9a5c" stroke-width="0.75" fill="none" opacity="0.95"/>
<path d="M267.6,170.9L280.9,175.8M262.0,161.6L266.7,160.9M237.1,167.0L249.5,167.7M217.5,167.6L226.7,169.3M266.7,160.9L279.0,165.6M226.4,161.2L237.1,167.0M230.0,175.9L241.5,176.7M261.4,167.6L267.6,170.9M218.7,156.4L226.4,161.2M246.5,151.7L257.8,151.1M226.7,169.3L228.0,176.2M230.0,175.9L239.7,187.8M227.5,187.5L228.0,176.2M247.9,194.8L250.1,202.4M237.6,202.7L250.1,202.4M243.5,149.2L226.2,151.2M238.3,159.2L245.9,157.1" stroke="#8a7676" stroke-width="0.75" fill="none" opacity="0.95"/>
<path d="M267.8,201.2L285.8,201.2M267.8,201.2L268.5,206.9M259.3,188.3L247.9,194.8M281.2,194.9L267.8,201.2M268.7,193.7L281.2,194.9M268.7,193.7L268.5,206.9" stroke="#6a6a7a" stroke-width="0.75" fill="none" opacity="0.95"/>
<path d="M247.9,213.1L243.5,214.6M250.1,202.4L258.8,206.0M250.1,202.4L241.8,211.9M237.6,202.7L247.9,213.1M237.6,202.7L233.8,218.5M233.8,218.5L255.0,210.8M258.8,206.0L247.9,213.1M241.8,211.9L255.0,210.8M255.0,210.8L268.5,206.9M235.8,203.1L233.8,208.8M235.8,203.1L243.5,214.6M233.8,208.8L233.8,218.5M233.8,218.5L243.5,214.6M258.8,206.0L255.0,210.8M250.1,202.4L247.9,213.1M241.8,211.9L233.8,208.8M241.8,211.9L243.5,214.6M247.9,213.1L233.8,218.5M247.9,213.1L255.0,210.8M237.6,202.7L241.8,211.9M237.6,202.7L233.8,208.8M235.8,203.1L233.8,218.5M233.8,208.8L243.5,214.6M241.8,211.9L235.8,203.1M250.1,202.4L255.0,210.8M241.8,211.9L247.9,213.1M241.8,211.9L233.8,218.5" stroke="#d6555a" stroke-width="0.75" fill="none" opacity="0.95"/>
<path d="M245.9,157.1L262.0,161.6M262.0,161.6L261.4,167.6M257.8,151.1L243.5,149.2M249.5,167.7L241.5,176.7M230.0,175.9L228.0,176.2M249.5,167.7L259.0,176.3M268.1,151.8L266.7,160.9M226.7,169.3L230.0,175.9M259.0,176.3L266.0,179.1M247.9,194.8L237.6,202.7M257.8,151.1L245.9,157.1M268.1,151.8L262.0,161.6M237.1,167.0L241.5,176.7M257.8,151.1L268.1,151.8M268.1,151.8L281.3,149.8M239.7,187.8L247.9,194.8" stroke="#5a4e4e" stroke-width="0.75" fill="none" opacity="0.95"/>
<path d="M270.3,186.8L281.2,194.9M258.8,206.0L267.8,201.2M285.8,201.2L287.7,187.7M270.3,186.8L280.1,185.4M258.5,194.9L250.1,202.4M285.8,183.1L285.8,201.2M281.2,194.9L287.7,187.7M266.0,179.1L259.3,188.3M258.8,206.0L268.5,206.9" stroke="#3a3a4e" stroke-width="0.75" fill="none" opacity="0.95"/>
<path d="M268.7,193.7L267.8,201.2M258.5,194.9L258.8,206.0M247.6,183.7L259.3,188.3M259.3,188.3L268.7,193.7M266.0,179.1L268.7,193.7M270.3,186.8L258.5,194.9" stroke="#50506a" stroke-width="0.75" fill="none" opacity="0.95"/>
<path d="M267.6,170.9L279.0,165.6M226.7,169.3L237.1,167.0M245.9,157.1L243.5,149.2M216.5,171.3L228.0,176.2M241.5,176.7L245.8,177.4M238.3,159.2L249.5,167.7M245.8,177.4L259.0,176.3M247.6,183.7L247.9,194.8M245.8,177.4L239.7,187.8M267.6,170.9L266.0,179.1M239.7,187.8L247.6,183.7M280.9,175.8L270.3,186.8M268.1,151.8L278.6,157.7M226.4,161.2L226.2,151.2M241.5,176.7L247.6,183.7M261.4,167.6L259.0,176.3M266.7,160.9L267.6,170.9M226.4,161.2L238.3,159.2" stroke="#806a6a" stroke-width="0.75" fill="none" opacity="0.95"/>
<path d="M285.8,183.1L281.2,194.9M280.9,175.8L280.1,185.4M286.1,158.2L286.4,168.9M281.3,149.8L287.7,153.1M286.4,168.9L280.9,175.8M281.3,149.8L278.6,157.7M280.9,175.8L289.6,176.2M279.0,165.6L286.4,168.9M285.8,183.1L287.7,187.7M286.4,168.9L289.6,162.7M286.1,158.2L279.0,165.6M289.6,162.7L287.7,153.1M279.0,165.6L280.9,175.8M286.1,158.2L289.6,162.7M287.7,153.1L285.8,145.4M280.9,175.8L287.7,187.7M287.7,187.7L289.6,176.2M280.9,175.8L285.8,183.1M281.3,149.8L286.1,158.2M280.1,185.4L287.7,187.7M286.4,168.9L289.6,176.2M280.1,185.4L285.8,183.1M289.6,176.2L289.6,162.7M279.0,165.6L289.6,162.7M285.8,183.1L289.6,176.2M278.6,157.7L279.0,165.6M278.6,157.7L286.1,158.2" stroke="#9aaac4" stroke-width="0.75" fill="none" opacity="0.95"/>
<path d="M241.5,176.7L239.7,187.8M246.5,151.7L245.9,157.1M238.3,159.2L226.2,151.2M249.5,167.7L261.4,167.6M259.0,176.3L259.3,188.3M237.1,167.0L243.5,149.2M266.0,179.1L270.3,186.8M230.0,175.9L227.5,187.5M266.7,160.9L261.4,167.6M261.4,167.6L266.0,179.1M249.5,167.7L245.8,177.4M266.0,179.1L280.9,175.8M245.9,157.1L237.1,167.0M226.4,161.2L226.7,169.3M266.7,160.9L278.6,157.7M245.9,157.1L249.5,167.7" stroke="#6e5e5e" stroke-width="0.75" fill="none" opacity="0.95"/>
<path d="M210.8,170.4L216.5,154.0M214.6,156.9L216.5,154.0M226.7,169.3L216.5,171.3" stroke="#6a5a5a" stroke-width="0.75" fill="none" opacity="0.95"/>
<path d="M270.3,186.8L267.8,201.2M281.2,194.9L285.8,201.2M259.3,188.3L258.5,194.9M270.3,186.8L268.7,193.7M268.5,206.9L285.8,201.2M259.3,188.3L270.3,186.8M258.5,194.9L267.8,201.2M280.1,185.4L281.2,194.9M247.9,194.8L258.5,194.9M258.5,194.9L268.7,193.7" stroke="#8a7a80" stroke-width="0.75" fill="none" opacity="0.95"/>
<circle cx="228.00" cy="152.00" r="1.30" fill="#d04050"/>
<circle cx="230.50" cy="157.80" r="1.80" fill="#c02a3a"/>
<circle cx="236.70" cy="156.00" r="1.40" fill="#d04a5a"/>
<circle cx="261.70" cy="151.20" r="1.60" fill="#c03040"/>
<circle cx="287.50" cy="138.70" r="1.20" fill="#1a4c86"/>
<circle cx="236.00" cy="196.00" r="1.00" fill="#c08060"/>
<defs><linearGradient id="cb" x1="0" x2="1" y1="0" y2="0"><stop offset="0" stop-color="#1f3f8f"/><stop offset="0.25" stop-color="#5a7ac0"/><stop offset="0.5" stop-color="#f4f0f0"/><stop offset="0.75" stop-color="#e07880"/><stop offset="1" stop-color="#c8102a"/></linearGradient></defs>
<rect x="266.90" y="215.40" width="26.10" height="3.10" fill="url(#cb)"/>
<text x="252.30" y="218.80" font-size="6.2" fill="#333" stroke="#333" stroke-width="0.1" textLength="12.30" lengthAdjust="spacingAndGlyphs">–2.7</text>
<text x="296.20" y="218.80" font-size="6.2" fill="#333" stroke="#333" stroke-width="0.1" textLength="7.60" lengthAdjust="spacingAndGlyphs">2.7</text>
<text x="259.20" y="227.60" font-size="6.6" fill="#2a2a2a" stroke="#2a2a2a" stroke-width="0.1" textLength="39.30" lengthAdjust="spacingAndGlyphs">DKO/WT Log<tspan font-size="4" dy="1.0">2</tspan></text>
<text x="263.00" y="234.40" font-size="6.6" fill="#2a2a2a" stroke="#2a2a2a" stroke-width="0.1" textLength="33.00" lengthAdjust="spacingAndGlyphs">fold change</text>
<line x1="347.50" y1="133.00" x2="347.50" y2="217.00" stroke="#111" stroke-width="1.0"/>
<line x1="344.50" y1="133.30" x2="347.50" y2="133.30" stroke="#111" stroke-width="0.8"/>
<text x="341.20" y="135.75" font-size="6.9" fill="#333" stroke="#333" stroke-width="0.1" text-anchor="end" textLength="3.45" lengthAdjust="spacingAndGlyphs">1</text>
<line x1="344.50" y1="175.00" x2="347.50" y2="175.00" stroke="#111" stroke-width="0.8"/>
<text x="341.20" y="177.45" font-size="6.9" fill="#333" stroke="#333" stroke-width="0.1" text-anchor="end" textLength="8.63" lengthAdjust="spacingAndGlyphs">0.5</text>
<line x1="344.50" y1="216.50" x2="347.50" y2="216.50" stroke="#111" stroke-width="0.8"/>
<text x="341.20" y="218.95" font-size="6.9" fill="#333" stroke="#333" stroke-width="0.1" text-anchor="end" textLength="3.45" lengthAdjust="spacingAndGlyphs">0</text>
<line x1="345.50" y1="154.20" x2="347.50" y2="154.20" stroke="#111" stroke-width="0.7"/>
<line x1="345.50" y1="195.80" x2="347.50" y2="195.80" stroke="#111" stroke-width="0.7"/>
<line x1="347.00" y1="216.50" x2="406.80" y2="216.50" stroke="#111" stroke-width="1.0"/>
<line x1="362.00" y1="216.50" x2="362.00" y2="218.50" stroke="#222" stroke-width="0.7"/>
<line x1="391.80" y1="216.50" x2="391.80" y2="218.50" stroke="#222" stroke-width="0.7"/>
<rect x="349.40" y="133.10" width="25.10" height="42.15" fill="#9a9a9a"/>
<rect x="349.40" y="175.20" width="25.10" height="6.55" fill="#78c28c"/>
<rect x="349.40" y="181.70" width="25.10" height="16.55" fill="#1a6aae"/>
<rect x="349.40" y="198.20" width="25.10" height="9.75" fill="#e29aa6"/>
<rect x="349.40" y="207.90" width="25.10" height="1.75" fill="#5a1a1a"/>
<rect x="349.40" y="209.60" width="25.10" height="1.45" fill="#b07070"/>
<rect x="349.40" y="211.00" width="25.10" height="1.05" fill="#3a2030"/>
<rect x="349.40" y="212.00" width="25.10" height="1.85" fill="#4a7a70"/>
<rect x="349.40" y="213.80" width="25.10" height="2.45" fill="#e8907a"/>
<rect x="379.40" y="133.10" width="24.80" height="35.35" fill="#9a9a9a"/>
<rect x="379.40" y="168.40" width="24.80" height="15.25" fill="#78c28c"/>
<rect x="379.40" y="183.60" width="24.80" height="9.15" fill="#1a6aae"/>
<rect x="379.40" y="192.70" width="24.80" height="9.75" fill="#e29aa6"/>
<rect x="379.40" y="202.40" width="24.80" height="1.25" fill="#7a3a20"/>
<rect x="379.40" y="203.60" width="24.80" height="2.75" fill="#2e8e46"/>
<rect x="379.40" y="206.30" width="24.80" height="2.95" fill="#d04050"/>
<rect x="379.40" y="209.20" width="24.80" height="1.45" fill="#602020"/>
<rect x="379.40" y="210.60" width="24.80" height="5.65" fill="#f0957a"/>
<line x1="374.50" y1="175.20" x2="379.40" y2="168.40" stroke="#cfe0d8" stroke-width="0.35"/>
<line x1="374.50" y1="181.70" x2="379.40" y2="183.60" stroke="#cfe0d8" stroke-width="0.35"/>
<line x1="374.50" y1="198.20" x2="379.40" y2="192.70" stroke="#cfe0d8" stroke-width="0.35"/>
<line x1="374.50" y1="207.90" x2="379.40" y2="202.40" stroke="#cfe0d8" stroke-width="0.35"/>
<text x="362.00" y="227.80" font-size="6.2" fill="#333" stroke="#333" stroke-width="0.1" text-anchor="middle" textLength="9.60" lengthAdjust="spacingAndGlyphs">WT</text>
<text x="391.80" y="227.80" font-size="6.2" fill="#333" stroke="#333" stroke-width="0.1" text-anchor="middle" textLength="14.40" lengthAdjust="spacingAndGlyphs">DKO</text>
<text x="328.40" y="173.20" font-size="7.9" fill="#2a2a2a" stroke="#2a2a2a" stroke-width="0.07" text-anchor="middle" textLength="62.30" lengthAdjust="spacingAndGlyphs" transform="rotate(-90 328.40 173.20)">Cell type distribution</text>
<circle cx="415.60" cy="132.20" r="1.95" fill="#9a9a9a"/>
<text x="420.20" y="134.40" font-size="6.3" fill="#383838" stroke="#383838" stroke-width="0.08" textLength="76.20" lengthAdjust="spacingAndGlyphs">Undetermined progenitors</text>
<circle cx="415.60" cy="141.27" r="1.95" fill="#f0a08a"/>
<text x="420.20" y="143.47" font-size="6.3" fill="#383838" stroke="#383838" stroke-width="0.08" textLength="93.50" lengthAdjust="spacingAndGlyphs">Pf4<tspan font-size="4.4" dy="-2.4">+</tspan><tspan dy="2.4"> megakaryocyte progenitors</tspan></text>
<circle cx="415.60" cy="150.34" r="1.95" fill="#e0a0b0"/>
<text x="420.20" y="152.54" font-size="6.3" fill="#383838" stroke="#383838" stroke-width="0.08" textLength="33.50" lengthAdjust="spacingAndGlyphs">Apoe<tspan font-size="4.4" dy="-2.4">+</tspan><tspan dy="2.4"> MEP</tspan></text>
<circle cx="415.60" cy="159.41" r="1.95" fill="#c85a6a"/>
<text x="420.20" y="161.61" font-size="6.3" fill="#383838" stroke="#383838" stroke-width="0.08" textLength="86.10" lengthAdjust="spacingAndGlyphs">Car1<tspan font-size="4.4" dy="-2.4">+</tspan><tspan dy="2.4"> erythrocyte progenitors</tspan></text>
<circle cx="415.60" cy="168.48" r="1.95" fill="#a07a3a"/>
<text x="420.20" y="170.68" font-size="6.3" fill="#383838" stroke="#383838" stroke-width="0.08" textLength="79.60" lengthAdjust="spacingAndGlyphs">Lmo4<tspan font-size="4.4" dy="-2.4">+</tspan><tspan dy="2.4"> basophil progenitors</tspan></text>
<circle cx="415.60" cy="177.55" r="1.95" fill="#86c49a"/>
<text x="420.20" y="179.75" font-size="6.3" fill="#383838" stroke="#383838" stroke-width="0.08" textLength="76.20" lengthAdjust="spacingAndGlyphs">Mpo<tspan font-size="4.4" dy="-2.4">+</tspan><tspan dy="2.4"> myeloid progenitors</tspan></text>
<circle cx="415.60" cy="186.62" r="1.95" fill="#2e8a48"/>
<text x="420.20" y="188.82" font-size="6.3" fill="#383838" stroke="#383838" stroke-width="0.08" textLength="81.50" lengthAdjust="spacingAndGlyphs">Ly86<tspan font-size="4.4" dy="-2.4">+</tspan><tspan dy="2.4"> monocyte progenitors</tspan></text>
<circle cx="415.60" cy="195.69" r="1.95" fill="#1a5a96"/>
<text x="420.20" y="197.89" font-size="6.3" fill="#383838" stroke="#383838" stroke-width="0.08" textLength="79.20" lengthAdjust="spacingAndGlyphs">Dntt<tspan font-size="4.4" dy="-2.4">+</tspan><tspan dy="2.4"> lymphoid progenitors</tspan></text>
<circle cx="415.60" cy="204.76" r="1.95" fill="#1f7f7f"/>
<text x="420.20" y="206.96" font-size="6.3" fill="#383838" stroke="#383838" stroke-width="0.08" textLength="73.90" lengthAdjust="spacingAndGlyphs">Siglech<tspan font-size="4.4" dy="-2.4">+</tspan><tspan dy="2.4"> pDC progenitors</tspan></text>
<circle cx="415.60" cy="213.83" r="1.95" fill="#2aa0a0"/>
<text x="420.20" y="216.03" font-size="6.3" fill="#383838" stroke="#383838" stroke-width="0.08" textLength="67.60" lengthAdjust="spacingAndGlyphs">Cd74<tspan font-size="4.4" dy="-2.4">+</tspan><tspan dy="2.4"> cDC progenitors</tspan></text>
<line x1="42.52" y1="387.36" x2="155.91" y2="277.68" stroke="#d8d8d8" stroke-width="0.7"/>
<line x1="52.30" y1="396.74" x2="163.73" y2="289.86" stroke="#d8d8d8" stroke-width="0.7"/>
<path d="M43.3,402.0h0.01M54.8,375.7h0.01M110.9,342.3h0.01M50.7,385.9h0.01M101.0,334.8h0.01M84.6,348.2h0.01M54.8,374.0h0.01M88.5,359.1h0.01M56.0,373.4h0.01M78.2,366.2h0.01M89.3,348.2h0.01M106.0,340.6h0.01M56.3,374.6h0.01M65.9,381.8h0.01M65.8,367.3h0.01M42.2,392.5h0.01M94.4,341.5h0.01M92.0,344.0h0.01M101.2,336.7h0.01M92.0,354.8h0.01M34.5,397.7h0.01M58.6,391.7h0.01M72.2,354.4h0.01M40.2,404.6h0.01M64.0,365.2h0.01M46.9,397.1h0.01M44.1,404.0h0.01M50.1,393.7h0.01M49.0,387.1h0.01M51.3,373.4h0.01M70.7,374.1h0.01M49.3,396.4h0.01M74.8,372.5h0.01M81.2,368.5h0.01M71.7,362.1h0.01M98.6,337.9h0.01M57.4,378.7h0.01M82.5,364.4h0.01M53.8,391.6h0.01M102.3,332.5h0.01M41.2,400.0h0.01M68.8,379.9h0.01M109.3,341.3h0.01M73.0,363.0h0.01M49.2,373.0h0.01M63.3,382.2h0.01M41.2,394.5h0.01M43.2,389.6h0.01M55.5,381.1h0.01M101.6,337.1h0.01M85.8,343.2h0.01M75.3,357.5h0.01M89.3,356.6h0.01M68.3,375.0h0.01M95.5,348.7h0.01M69.3,383.1h0.01M83.5,343.0h0.01M48.9,396.1h0.01M103.6,345.5h0.01M93.7,342.2h0.01M92.1,344.4h0.01M98.3,340.9h0.01M87.7,359.4h0.01M90.4,355.8h0.01M46.4,381.1h0.01M61.6,382.2h0.01M96.6,348.9h0.01M56.0,379.0h0.01M63.0,368.4h0.01M50.4,384.2h0.01M99.4,345.8h0.01M36.2,394.6h0.01M46.6,379.8h0.01M55.9,376.5h0.01M108.3,336.4h0.01M37.9,383.7h0.01M53.2,382.6h0.01M100.2,334.4h0.01M52.4,398.7h0.01M76.3,382.5h0.01M79.1,368.4h0.01M74.1,363.0h0.01M68.3,374.1h0.01M44.4,388.5h0.01M56.6,377.8h0.01M54.0,391.5h0.01M80.6,350.8h0.01M37.2,396.6h0.01M39.7,387.1h0.01M57.4,373.5h0.01M99.7,334.7h0.01M68.0,375.1h0.01M85.9,363.0h0.01M33.9,399.4h0.01M37.7,394.2h0.01M112.5,339.9h0.01M61.4,372.9h0.01M65.2,378.2h0.01M78.4,355.4h0.01M55.5,378.5h0.01M90.0,355.8h0.01M68.0,364.0h0.01M59.3,374.9h0.01M102.9,331.2h0.01M85.6,351.6h0.01M84.6,370.8h0.01M69.9,368.3h0.01M47.9,381.4h0.01M34.4,400.7h0.01M63.3,370.7h0.01M36.6,397.9h0.01M63.1,379.6h0.01M42.8,391.2h0.01M52.8,392.3h0.01M57.3,378.5h0.01M93.0,345.8h0.01M53.9,374.6h0.01M60.5,370.7h0.01M89.8,358.3h0.01M80.0,353.9h0.01M76.4,359.8h0.01M78.9,355.3h0.01M77.6,359.0h0.01M87.0,362.0h0.01M65.3,366.1h0.01M51.8,382.8h0.01M49.1,404.4h0.01M62.3,371.4h0.01M51.1,392.7h0.01M93.7,341.5h0.01M44.4,401.5h0.01M53.1,388.1h0.01M91.9,343.9h0.01M97.7,349.1h0.01M41.9,404.7h0.01M62.8,385.9h0.01M70.4,364.5h0.01M88.9,357.0h0.01M79.3,367.3h0.01M67.6,367.6h0.01M57.6,373.6h0.01M79.5,364.4h0.01M109.8,338.5h0.01M47.9,403.3h0.01M76.6,356.7h0.01M75.7,377.1h0.01M66.9,368.3h0.01M96.6,349.9h0.01M94.4,353.1h0.01M66.0,376.5h0.01M54.0,378.2h0.01M86.3,362.0h0.01M57.0,387.3h0.01M90.6,355.8h0.01M56.4,388.8h0.01M98.1,353.4h0.01M76.2,370.0h0.01M44.1,392.1h0.01M86.4,348.8h0.01M68.6,365.6h0.01M80.8,355.8h0.01M106.5,341.3h0.01M50.5,380.8h0.01M96.9,352.5h0.01M85.0,350.2h0.01M49.4,397.2h0.01M34.7,398.7h0.01M91.0,345.3h0.01M83.7,348.4h0.01M84.3,352.7h0.01M80.2,357.1h0.01M80.6,354.1h0.01M54.4,371.2h0.01M37.1,399.7h0.01M51.2,381.3h0.01M95.1,339.3h0.01M109.9,339.9h0.01M51.7,382.8h0.01M67.4,382.1h0.01M103.4,342.6h0.01M40.7,392.1h0.01M60.2,400.7h0.01M70.0,378.6h0.01M96.3,353.1h0.01M92.3,344.2h0.01M49.0,380.5h0.01M90.8,345.3h0.01M54.1,393.4h0.01M50.2,393.3h0.01M90.6,348.5h0.01M73.6,372.2h0.01M54.5,395.4h0.01M33.2,389.2h0.01M103.4,342.2h0.01M109.9,337.9h0.01M51.4,375.7h0.01M96.1,349.3h0.01M72.3,361.5h0.01M64.1,373.1h0.01M87.0,348.3h0.01M101.5,345.2h0.01M60.6,394.8h0.01M88.4,359.5h0.01M60.8,382.7h0.01M70.9,364.9h0.01M99.6,352.8h0.01M91.7,344.7h0.01M43.8,382.0h0.01M44.5,377.0h0.01M85.7,346.3h0.01M38.0,396.3h0.01M50.1,395.3h0.01M105.0,342.3h0.01M41.0,402.9h0.01M66.7,377.5h0.01M69.0,374.7h0.01M55.1,391.8h0.01M77.1,359.1h0.01M71.3,365.2h0.01M60.1,368.8h0.01M70.0,377.1h0.01M53.0,393.8h0.01" stroke="#f5b488" stroke-width="1.00" stroke-linecap="round"/>
<path d="M102.3,335.6h0.01M79.8,355.2h0.01M40.8,400.1h0.01M99.0,349.3h0.01M84.8,361.5h0.01M40.7,400.9h0.01M100.9,347.4h0.01M51.1,394.8h0.01M47.2,381.2h0.01M104.7,343.1h0.01M76.3,371.5h0.01M92.5,354.1h0.01M56.2,387.9h0.01M58.9,387.3h0.01M56.7,400.1h0.01M99.1,335.9h0.01M96.2,342.6h0.01M47.5,401.1h0.01M77.9,356.5h0.01M92.2,355.9h0.01M71.0,364.3h0.01M77.5,360.8h0.01M41.8,386.2h0.01M90.6,345.1h0.01M54.0,393.4h0.01M45.0,398.6h0.01M43.9,403.2h0.01M55.2,388.1h0.01M50.7,383.1h0.01M73.0,363.7h0.01M74.0,370.4h0.01M45.1,404.4h0.01M66.8,381.8h0.01M81.9,372.0h0.01M81.5,363.5h0.01M69.5,377.3h0.01M96.4,342.0h0.01M59.6,371.9h0.01M90.3,347.1h0.01M54.8,377.2h0.01M96.1,352.6h0.01M82.3,365.6h0.01M64.7,384.0h0.01M60.3,394.3h0.01M89.3,355.9h0.01M85.0,360.9h0.01M77.8,369.9h0.01M80.9,364.6h0.01M78.7,369.6h0.01M105.4,339.6h0.01M48.0,395.4h0.01M84.9,364.6h0.01M51.4,381.8h0.01M42.7,390.0h0.01M82.5,350.9h0.01M67.4,378.9h0.01M102.9,331.2h0.01M69.7,374.6h0.01M100.8,357.0h0.01M55.8,390.4h0.01M82.4,366.3h0.01M66.3,379.4h0.01M40.6,392.6h0.01M85.8,351.9h0.01M61.9,371.8h0.01M93.8,351.9h0.01M48.6,400.2h0.01M71.5,362.1h0.01M62.3,381.4h0.01M77.0,379.0h0.01M55.2,394.4h0.01M91.3,345.7h0.01M34.9,400.0h0.01M51.9,384.2h0.01M73.4,363.0h0.01M81.6,353.1h0.01M60.1,384.9h0.01M55.2,374.8h0.01M87.4,360.2h0.01M84.6,371.7h0.01M103.0,343.3h0.01M47.7,398.7h0.01M37.2,387.4h0.01M52.0,392.3h0.01M45.8,388.8h0.01M41.5,389.7h0.01M73.4,352.5h0.01M102.8,343.3h0.01M85.1,364.6h0.01M90.8,360.6h0.01M49.4,395.9h0.01M105.5,348.1h0.01M46.3,399.4h0.01M46.2,386.9h0.01M48.4,381.8h0.01M67.5,377.9h0.01M35.4,394.8h0.01M37.2,396.4h0.01M86.4,359.3h0.01M106.7,347.9h0.01M66.0,362.0h0.01M54.7,374.1h0.01M65.6,365.8h0.01M36.0,396.2h0.01M81.0,365.4h0.01M58.9,385.4h0.01M79.1,357.0h0.01M90.7,353.6h0.01M73.7,375.8h0.01M65.7,368.0h0.01M41.5,403.2h0.01M62.2,370.0h0.01M93.5,357.3h0.01M48.6,397.2h0.01M63.3,372.7h0.01M35.0,398.8h0.01M39.4,400.8h0.01M89.2,342.0h0.01M96.4,343.5h0.01M61.9,382.3h0.01M43.2,388.1h0.01M50.2,398.8h0.01M73.4,371.5h0.01M93.0,340.7h0.01M90.0,342.3h0.01M34.8,397.2h0.01M87.3,362.0h0.01M57.8,370.7h0.01M77.5,367.1h0.01M83.6,350.4h0.01M59.6,386.4h0.01M98.9,345.4h0.01M66.6,376.8h0.01M61.0,364.8h0.01M59.9,373.1h0.01M83.1,362.3h0.01M41.3,392.3h0.01M88.5,363.1h0.01M47.5,384.9h0.01M34.8,394.8h0.01M70.5,374.3h0.01M45.0,397.3h0.01M49.3,376.9h0.01M91.4,342.4h0.01M45.4,398.4h0.01M45.3,385.1h0.01M91.6,355.4h0.01M101.3,333.7h0.01M70.3,374.3h0.01M50.1,394.4h0.01M53.5,390.2h0.01M89.1,365.9h0.01M54.3,390.0h0.01M79.9,350.6h0.01M44.3,388.4h0.01M48.0,397.9h0.01M87.9,360.1h0.01M62.5,371.6h0.01M77.1,378.1h0.01M70.0,363.5h0.01M36.3,397.0h0.01M51.9,382.8h0.01M61.6,376.7h0.01M76.9,359.1h0.01M67.2,364.7h0.01M93.2,350.9h0.01M103.9,335.1h0.01M109.1,338.5h0.01M44.4,384.8h0.01M41.1,393.1h0.01M78.4,372.3h0.01M83.2,364.8h0.01M45.8,388.6h0.01M60.6,377.3h0.01M45.1,391.2h0.01M107.9,342.7h0.01M74.1,371.6h0.01M56.1,391.1h0.01M96.5,347.9h0.01M78.2,356.9h0.01M55.2,381.3h0.01M75.1,370.3h0.01M70.6,376.8h0.01M53.7,376.4h0.01M87.5,350.2h0.01M53.5,377.6h0.01M53.1,379.1h0.01M44.5,386.2h0.01M109.2,347.2h0.01M43.1,403.8h0.01M41.0,383.5h0.01M88.4,359.0h0.01M51.5,399.8h0.01M70.9,366.1h0.01M35.1,391.9h0.01M95.7,357.8h0.01M53.4,377.2h0.01M66.2,382.9h0.01M45.8,385.6h0.01M94.9,334.8h0.01M55.4,392.9h0.01M66.4,364.8h0.01M103.1,346.3h0.01M44.1,401.7h0.01M54.6,399.9h0.01M69.0,379.4h0.01M99.0,346.3h0.01M49.9,394.3h0.01M46.0,388.5h0.01M73.7,362.7h0.01M92.3,354.7h0.01M39.8,395.8h0.01M82.3,363.6h0.01M64.2,381.3h0.01M43.1,391.4h0.01M54.7,380.2h0.01M91.9,339.4h0.01M85.7,361.7h0.01M55.3,379.7h0.01M97.7,354.2h0.01M66.5,372.3h0.01M101.4,332.1h0.01M73.0,375.6h0.01" stroke="#f7c4a0" stroke-width="1.00" stroke-linecap="round"/>
<path d="M81.7,364.7h0.01M82.8,354.3h0.01M37.6,396.2h0.01M82.1,365.0h0.01M84.8,363.6h0.01M68.4,365.1h0.01M52.6,393.8h0.01M91.3,354.3h0.01M68.6,363.8h0.01M90.9,354.6h0.01M107.9,340.7h0.01M93.3,344.6h0.01M68.1,366.1h0.01M109.7,342.9h0.01M42.2,393.7h0.01M89.6,355.6h0.01M102.3,333.6h0.01M83.4,347.1h0.01M50.4,397.7h0.01M66.7,382.0h0.01M61.0,386.9h0.01M47.8,381.8h0.01M42.5,384.0h0.01M72.5,361.7h0.01M43.8,401.7h0.01M105.1,343.0h0.01M63.2,383.6h0.01M67.2,366.8h0.01M44.2,401.7h0.01M93.1,342.1h0.01M90.2,344.9h0.01M62.6,371.3h0.01M81.2,355.3h0.01M64.0,373.0h0.01M79.2,356.9h0.01M84.8,326.7h0.01M59.5,366.1h0.01M93.9,340.9h0.01M57.1,374.6h0.01M65.5,365.9h0.01M92.5,357.3h0.01M90.4,356.4h0.01M75.9,370.2h0.01M76.8,358.1h0.01M51.3,382.2h0.01M60.5,384.3h0.01M63.7,358.5h0.01M84.3,348.9h0.01M109.0,341.4h0.01M45.4,381.8h0.01M55.1,390.1h0.01M77.3,368.6h0.01M78.3,367.7h0.01M47.8,384.0h0.01M65.2,378.7h0.01M100.3,339.0h0.01M67.9,363.1h0.01M62.6,385.9h0.01M103.0,333.0h0.01M108.3,340.1h0.01M55.1,379.9h0.01M39.4,394.9h0.01M99.7,349.9h0.01M67.9,378.3h0.01M82.3,363.0h0.01M57.6,385.1h0.01M54.5,380.5h0.01M91.4,340.4h0.01M51.4,401.7h0.01M34.7,395.5h0.01M62.4,382.3h0.01M87.2,361.4h0.01M59.0,373.9h0.01M51.5,394.3h0.01M103.1,345.1h0.01M43.1,391.3h0.01M49.3,394.7h0.01M83.6,363.4h0.01M89.5,356.1h0.01M43.2,392.9h0.01M94.2,353.4h0.01M109.2,339.9h0.01M75.9,370.8h0.01M99.1,360.5h0.01M44.2,399.1h0.01M51.3,385.7h0.01M67.1,369.7h0.01M84.6,350.5h0.01M99.6,337.3h0.01M66.0,379.8h0.01M50.0,395.2h0.01M55.0,377.5h0.01M89.2,360.5h0.01M48.9,394.9h0.01M102.2,344.4h0.01M45.1,397.1h0.01M105.2,339.8h0.01M89.8,341.6h0.01M109.7,337.9h0.01M104.3,341.9h0.01M71.2,358.3h0.01M44.4,390.6h0.01M83.5,364.3h0.01M76.3,357.5h0.01M74.5,361.0h0.01M54.3,390.5h0.01M45.5,399.2h0.01M89.6,357.5h0.01M108.3,337.7h0.01M92.0,339.1h0.01M51.0,394.1h0.01M54.9,380.9h0.01M99.4,334.6h0.01M59.8,382.4h0.01M95.4,341.4h0.01M94.1,354.3h0.01M84.8,361.2h0.01M38.1,394.5h0.01M103.3,332.9h0.01M90.2,345.7h0.01M52.7,389.5h0.01M87.2,351.0h0.01M76.2,368.4h0.01M86.7,365.0h0.01M80.3,355.5h0.01M84.5,370.5h0.01M46.5,401.6h0.01M79.6,356.4h0.01M103.0,341.8h0.01M86.0,363.8h0.01M75.4,378.3h0.01M108.9,342.5h0.01M73.8,361.5h0.01M74.9,376.2h0.01M53.9,393.3h0.01M65.9,376.5h0.01M46.6,397.3h0.01M57.5,377.2h0.01M65.1,367.5h0.01M90.7,346.2h0.01M75.0,353.8h0.01M68.7,365.2h0.01M96.2,359.2h0.01M105.0,345.8h0.01M82.0,366.7h0.01M115.6,352.4h0.01M79.2,373.6h0.01M73.2,362.3h0.01M43.4,399.8h0.01M34.2,399.2h0.01M63.3,369.3h0.01M54.2,380.1h0.01M71.9,375.0h0.01M60.4,385.5h0.01M39.6,395.9h0.01M39.9,388.9h0.01M95.2,360.1h0.01M96.9,353.0h0.01M47.3,397.4h0.01M39.5,393.8h0.01M94.5,339.4h0.01M56.6,372.9h0.01M65.2,379.8h0.01M64.4,363.8h0.01M50.2,394.4h0.01M88.9,346.6h0.01M96.2,349.9h0.01M46.1,389.8h0.01M61.4,385.6h0.01M43.8,392.6h0.01M103.3,342.5h0.01M87.1,366.9h0.01M86.6,366.4h0.01M59.6,369.7h0.01M38.1,396.7h0.01M34.4,395.6h0.01M60.2,387.4h0.01M45.9,397.1h0.01M95.7,350.0h0.01M62.9,383.1h0.01M74.7,361.9h0.01M93.3,342.4h0.01M43.5,388.8h0.01M40.2,393.5h0.01M93.8,344.2h0.01M79.7,354.7h0.01M56.1,387.2h0.01M95.6,348.4h0.01M64.1,380.0h0.01M98.1,347.1h0.01M101.1,337.7h0.01M59.5,372.7h0.01M92.1,340.1h0.01M40.0,392.1h0.01M93.0,342.2h0.01M66.8,378.1h0.01M56.9,376.7h0.01M101.5,334.0h0.01M90.5,361.5h0.01M95.2,349.1h0.01M97.1,359.9h0.01M64.4,387.1h0.01M60.3,391.4h0.01M62.2,371.8h0.01M87.8,347.0h0.01M55.1,372.4h0.01M70.4,365.9h0.01M79.0,359.3h0.01M70.9,364.8h0.01M41.4,394.9h0.01M83.3,353.2h0.01M41.8,398.9h0.01M44.0,397.9h0.01M44.9,399.0h0.01M87.9,361.1h0.01M59.1,387.5h0.01M83.8,362.2h0.01M85.3,351.7h0.01M69.0,374.9h0.01M56.3,395.4h0.01M103.4,333.8h0.01M74.3,358.5h0.01M74.6,373.5h0.01M92.2,345.7h0.01" stroke="#f3a878" stroke-width="1.00" stroke-linecap="round"/>
<path d="M57.5,390.3h0.01M79.9,357.7h0.01M51.2,379.5h0.01M96.7,335.6h0.01M66.9,379.2h0.01M72.3,359.4h0.01M92.8,332.9h0.01M46.3,401.0h0.01M101.6,344.4h0.01M66.0,387.0h0.01M80.1,365.6h0.01M73.8,376.8h0.01M68.7,381.5h0.01M79.8,371.8h0.01M98.3,340.6h0.01M90.7,345.8h0.01M70.8,373.1h0.01M50.9,375.9h0.01M110.9,345.8h0.01M50.2,384.4h0.01M55.5,377.5h0.01M77.2,360.0h0.01M40.9,404.6h0.01M46.8,396.4h0.01M59.6,377.3h0.01M35.9,398.9h0.01M54.0,392.0h0.01M40.6,404.9h0.01M53.8,380.1h0.01M72.5,350.1h0.01M49.5,385.5h0.01M84.2,340.3h0.01M82.4,364.8h0.01M56.3,378.3h0.01M104.6,341.8h0.01M62.7,384.1h0.01M93.7,357.4h0.01M106.0,340.5h0.01M99.5,335.4h0.01M91.4,346.2h0.01M58.5,370.7h0.01M90.3,358.7h0.01M56.1,377.5h0.01M83.7,364.1h0.01M98.0,348.3h0.01M63.1,368.7h0.01M85.9,348.6h0.01M84.6,344.6h0.01M92.9,339.0h0.01M97.7,338.2h0.01M97.4,340.5h0.01M80.1,367.2h0.01M86.6,360.3h0.01M92.2,355.3h0.01M74.4,375.6h0.01M94.8,357.0h0.01M38.8,404.6h0.01M91.8,343.9h0.01M57.8,375.5h0.01M99.3,339.4h0.01M69.5,376.0h0.01M78.5,357.4h0.01M97.9,334.8h0.01M36.8,395.0h0.01M99.9,334.1h0.01M62.2,366.4h0.01M90.3,358.8h0.01M77.1,373.2h0.01M101.4,342.7h0.01M104.8,333.1h0.01M45.6,404.2h0.01M76.1,355.5h0.01M45.1,399.8h0.01M45.9,400.2h0.01M95.4,342.1h0.01M41.9,404.0h0.01M43.1,398.3h0.01M48.8,385.7h0.01M91.9,344.3h0.01M88.7,356.6h0.01M46.3,385.0h0.01M76.5,373.2h0.01M95.5,339.5h0.01M82.2,352.3h0.01M72.5,374.9h0.01M109.1,342.2h0.01M87.9,348.7h0.01M107.6,339.4h0.01M100.9,334.6h0.01M95.6,353.3h0.01M105.2,332.5h0.01M91.7,343.2h0.01M44.7,399.6h0.01M108.9,339.4h0.01M42.6,403.9h0.01M69.9,354.7h0.01M40.9,394.4h0.01M61.4,384.8h0.01M75.5,369.4h0.01M48.9,398.6h0.01M72.7,360.0h0.01M81.2,357.2h0.01M67.7,376.7h0.01M50.7,393.9h0.01M93.5,342.7h0.01M61.3,374.6h0.01M55.6,377.1h0.01M89.0,347.5h0.01M102.4,341.3h0.01M79.1,358.0h0.01M72.4,373.0h0.01M91.5,352.0h0.01M67.0,357.4h0.01M48.0,387.0h0.01M73.9,371.0h0.01M65.9,381.3h0.01M73.4,373.4h0.01M105.7,334.6h0.01M74.6,358.8h0.01M53.9,382.4h0.01M58.1,379.7h0.01M67.6,376.9h0.01M88.7,349.3h0.01M69.8,380.4h0.01M88.7,354.8h0.01M101.0,344.8h0.01M41.5,391.6h0.01M58.3,373.2h0.01M107.0,340.8h0.01M82.7,352.5h0.01M75.0,373.4h0.01M108.9,340.3h0.01M87.6,359.7h0.01M83.3,347.0h0.01M40.6,393.9h0.01M92.4,343.6h0.01M70.5,362.3h0.01M84.9,363.6h0.01M36.2,396.8h0.01M75.7,353.9h0.01M48.3,397.3h0.01M87.7,357.7h0.01M87.7,342.2h0.01M51.9,392.9h0.01M98.5,337.9h0.01M51.0,394.2h0.01M97.5,347.9h0.01M65.7,369.8h0.01M40.5,393.5h0.01M63.7,381.5h0.01M56.1,377.0h0.01M59.0,386.4h0.01M100.2,333.5h0.01M81.9,354.6h0.01M81.4,353.2h0.01M97.5,331.4h0.01M58.2,386.0h0.01M83.0,352.6h0.01M93.4,351.7h0.01M87.5,350.4h0.01M42.1,395.4h0.01M105.1,341.1h0.01M91.5,344.4h0.01M102.9,345.6h0.01M108.8,340.2h0.01M47.6,380.7h0.01M52.0,403.3h0.01M44.7,401.4h0.01M80.7,352.2h0.01M93.2,342.5h0.01M106.9,339.1h0.01M81.3,375.6h0.01M89.3,346.7h0.01M62.4,381.5h0.01M92.4,345.1h0.01M85.4,349.6h0.01M62.0,372.5h0.01M52.7,390.8h0.01M92.5,344.2h0.01M73.5,349.9h0.01M78.8,368.1h0.01M88.2,344.9h0.01M81.9,353.5h0.01M101.7,350.1h0.01M51.0,384.7h0.01M35.7,400.3h0.01M62.9,373.4h0.01M100.5,342.0h0.01M81.2,371.2h0.01M75.3,370.8h0.01M52.3,393.0h0.01M78.7,356.6h0.01M87.1,358.3h0.01M65.2,378.9h0.01M66.6,369.1h0.01M64.2,387.3h0.01M92.5,339.3h0.01M41.7,395.8h0.01M68.8,377.7h0.01M37.7,398.0h0.01M60.3,390.0h0.01M84.3,375.1h0.01M71.7,362.6h0.01M36.1,397.1h0.01M71.2,367.2h0.01M49.1,395.1h0.01M81.6,363.1h0.01M63.9,391.8h0.01M108.1,340.6h0.01M70.6,367.1h0.01M80.3,367.1h0.01M45.3,388.5h0.01M75.4,367.6h0.01M43.1,402.2h0.01M102.8,348.2h0.01M43.6,390.0h0.01M70.1,379.5h0.01M75.7,370.3h0.01M85.5,364.6h0.01M63.8,381.4h0.01M71.9,364.3h0.01" stroke="#fad0b4" stroke-width="1.00" stroke-linecap="round"/>
<path d="M90.9,352.3h0.01M71.5,369.1h0.01M61.5,378.4h0.01M102.3,339.0h0.01M84.4,357.8h0.01M68.8,372.1h0.01M73.5,367.8h0.01M43.6,396.0h0.01M54.5,384.8h0.01M42.1,389.8h0.01M46.7,384.8h0.01M53.9,383.2h0.01M72.2,371.0h0.01M97.4,342.1h0.01M38.1,398.0h0.01M98.8,344.0h0.01M38.7,399.0h0.01M42.9,398.3h0.01M102.1,339.8h0.01M53.1,381.5h0.01M98.1,339.2h0.01M86.3,350.4h0.01M45.4,394.5h0.01M84.8,353.4h0.01M92.8,346.0h0.01M71.0,365.2h0.01M51.9,382.2h0.01M95.6,347.0h0.01M55.1,378.3h0.01M55.8,385.8h0.01M86.7,356.7h0.01M55.8,385.1h0.01M96.0,342.4h0.01M86.4,359.1h0.01M67.4,361.8h0.01M78.8,357.7h0.01M88.2,360.0h0.01M49.0,386.2h0.01M104.3,338.6h0.01M72.6,363.1h0.01M69.5,368.5h0.01M89.5,343.7h0.01M39.7,401.6h0.01M75.1,368.0h0.01M41.7,398.4h0.01M65.1,377.1h0.01M89.6,348.7h0.01M54.3,383.8h0.01M38.6,403.0h0.01M39.4,398.7h0.01M55.5,381.7h0.01M79.6,361.0h0.01M56.6,374.4h0.01M66.2,372.3h0.01M75.5,366.9h0.01M99.6,341.8h0.01M45.9,393.2h0.01M91.8,352.0h0.01M95.4,344.0h0.01M60.8,376.0h0.01M41.1,395.1h0.01M39.4,397.5h0.01M49.7,390.4h0.01M74.7,362.0h0.01M71.1,368.1h0.01M91.0,351.4h0.01M49.2,391.6h0.01M100.5,339.9h0.01M79.5,368.7h0.01M43.6,396.1h0.01M53.9,386.6h0.01M70.2,373.2h0.01M88.6,345.6h0.01M103.4,338.6h0.01M68.8,377.7h0.01M41.5,402.9h0.01M77.0,371.3h0.01M59.1,389.8h0.01M57.8,384.8h0.01M54.8,385.7h0.01M50.2,379.6h0.01M39.6,399.7h0.01M40.1,399.5h0.01M65.9,378.6h0.01M43.6,392.3h0.01M65.0,376.0h0.01M82.1,358.1h0.01M93.6,345.3h0.01M46.1,391.5h0.01M69.5,369.0h0.01M89.1,350.1h0.01M46.0,389.3h0.01M66.1,379.1h0.01M71.7,372.0h0.01M58.8,382.1h0.01M101.1,341.3h0.01M51.8,388.3h0.01M50.1,387.5h0.01M60.9,379.7h0.01M54.9,381.1h0.01M44.4,398.2h0.01M78.8,355.7h0.01M48.1,391.6h0.01M47.6,387.2h0.01M98.5,335.5h0.01M62.7,378.8h0.01M82.8,354.1h0.01M51.3,388.9h0.01M62.8,380.5h0.01M88.1,348.1h0.01M91.8,345.9h0.01M68.8,376.6h0.01M52.3,386.0h0.01M68.5,371.2h0.01M65.3,379.9h0.01M72.5,362.4h0.01M57.3,384.4h0.01M78.0,366.6h0.01M74.8,364.5h0.01M86.4,354.3h0.01M39.6,399.0h0.01M59.9,381.1h0.01M90.4,347.3h0.01M46.9,390.9h0.01M82.7,363.0h0.01M59.4,385.9h0.01M70.7,369.3h0.01M51.8,391.2h0.01M51.4,382.8h0.01M60.2,376.6h0.01M44.5,389.9h0.01M74.1,364.1h0.01M58.8,384.8h0.01M80.2,357.8h0.01M98.7,338.7h0.01M98.5,337.9h0.01M60.5,382.5h0.01M100.9,343.3h0.01M61.2,381.4h0.01M85.6,351.0h0.01M50.6,388.9h0.01M99.1,346.2h0.01M66.5,375.8h0.01M72.6,359.0h0.01M93.5,344.3h0.01M36.1,399.6h0.01M36.7,402.2h0.01M78.0,362.6h0.01M99.2,345.6h0.01M97.7,349.7h0.01M36.6,401.9h0.01M62.9,365.3h0.01M75.2,363.6h0.01M84.4,353.6h0.01M71.8,370.4h0.01M54.2,391.9h0.01M45.9,391.8h0.01M66.6,377.6h0.01M72.0,374.1h0.01M93.2,346.1h0.01M60.7,381.1h0.01M100.2,345.1h0.01M37.2,401.7h0.01M95.3,340.3h0.01M56.7,379.7h0.01M100.9,347.1h0.01M85.9,355.2h0.01M48.8,392.2h0.01M103.5,340.2h0.01M53.2,375.4h0.01M92.5,347.0h0.01M82.0,353.6h0.01M88.4,355.0h0.01M42.5,399.3h0.01M60.1,383.5h0.01M72.2,370.2h0.01M96.0,357.5h0.01M73.3,368.1h0.01M75.1,371.6h0.01M38.0,394.3h0.01M56.9,383.0h0.01M37.9,396.6h0.01M77.4,362.2h0.01M39.1,396.4h0.01M82.4,364.8h0.01M85.2,365.0h0.01M74.5,370.8h0.01M102.4,343.1h0.01M36.2,400.5h0.01M41.3,400.4h0.01M88.9,350.9h0.01M37.6,397.3h0.01M56.7,386.1h0.01M53.4,390.5h0.01M86.2,361.8h0.01M45.7,396.9h0.01M95.4,342.3h0.01M39.3,398.4h0.01M96.3,342.7h0.01M69.6,371.4h0.01M101.7,339.9h0.01M80.8,359.9h0.01M64.5,375.0h0.01M75.6,358.8h0.01M81.5,360.3h0.01M56.5,381.8h0.01M74.5,361.2h0.01M84.9,352.1h0.01M89.7,348.8h0.01M88.0,355.1h0.01M55.6,385.8h0.01M37.1,392.6h0.01M58.4,378.2h0.01M52.5,389.1h0.01M38.7,400.2h0.01M54.4,387.7h0.01M73.0,360.7h0.01M91.8,345.9h0.01M47.0,400.0h0.01M54.3,388.5h0.01M96.8,339.6h0.01M80.5,361.8h0.01M80.6,355.1h0.01M80.6,362.9h0.01M41.6,396.9h0.01M52.7,385.6h0.01M72.5,368.6h0.01M84.6,354.6h0.01M97.2,344.3h0.01M98.1,345.1h0.01M44.3,396.4h0.01M50.9,392.6h0.01" stroke="#a8cdee" stroke-width="1.10" stroke-linecap="round"/>
<path d="M91.4,342.6h0.01M64.7,375.4h0.01M101.6,345.2h0.01M82.8,355.8h0.01M57.6,378.3h0.01M90.6,349.0h0.01M53.2,382.2h0.01M83.4,359.8h0.01M88.4,356.2h0.01M53.1,386.7h0.01M97.7,347.5h0.01M71.8,369.5h0.01M55.4,384.9h0.01M81.8,355.7h0.01M89.7,352.8h0.01M60.6,386.2h0.01M104.1,337.6h0.01M76.5,366.5h0.01M75.0,355.2h0.01M86.2,354.5h0.01M92.7,348.9h0.01M45.2,397.1h0.01M72.6,372.9h0.01M45.1,402.8h0.01M64.5,367.9h0.01M82.1,367.3h0.01M81.9,355.1h0.01M59.9,379.2h0.01M54.7,388.4h0.01M50.7,388.1h0.01M95.7,347.5h0.01M55.6,381.7h0.01M66.2,371.6h0.01M49.7,387.9h0.01M70.1,372.2h0.01M93.6,342.8h0.01M88.6,354.4h0.01M69.3,371.0h0.01M98.1,350.7h0.01M62.2,384.0h0.01M50.7,391.9h0.01M46.2,387.9h0.01M42.0,398.3h0.01M45.7,394.0h0.01M45.4,401.3h0.01M52.9,383.9h0.01M76.9,363.3h0.01M72.3,372.5h0.01M40.7,400.1h0.01M100.2,335.8h0.01M62.1,379.1h0.01M86.0,354.1h0.01M99.2,333.1h0.01M95.4,343.3h0.01M56.3,380.1h0.01M63.1,375.2h0.01M65.8,375.9h0.01M78.2,360.4h0.01M71.4,366.9h0.01M84.9,359.8h0.01M51.9,381.6h0.01M97.3,341.9h0.01M84.1,361.4h0.01M47.4,390.3h0.01M100.9,335.2h0.01M43.2,397.3h0.01M54.5,388.4h0.01M61.4,384.9h0.01M99.7,341.3h0.01M42.5,402.7h0.01M88.7,343.5h0.01M92.8,339.2h0.01M95.8,339.6h0.01M91.4,347.6h0.01M43.9,392.7h0.01M52.0,386.9h0.01M45.1,396.4h0.01M86.8,346.9h0.01M100.4,338.1h0.01M90.7,348.1h0.01M47.2,396.9h0.01M52.2,389.5h0.01M90.9,348.0h0.01M88.5,355.7h0.01M81.5,362.4h0.01M82.5,359.4h0.01M69.0,368.7h0.01M85.0,352.6h0.01M91.6,347.0h0.01M53.8,390.1h0.01M72.9,361.7h0.01M60.3,373.6h0.01M69.0,362.9h0.01M80.5,349.3h0.01M82.0,360.3h0.01M90.1,352.1h0.01M65.0,374.7h0.01M68.3,377.7h0.01M86.2,350.7h0.01M38.2,400.4h0.01M41.4,395.4h0.01M52.2,382.3h0.01M65.4,374.0h0.01M100.2,346.5h0.01M83.2,361.0h0.01M73.8,356.5h0.01M70.5,373.9h0.01M40.7,401.6h0.01M47.8,394.6h0.01M83.9,349.0h0.01M50.1,393.4h0.01M103.1,338.7h0.01M61.2,383.5h0.01M66.8,374.6h0.01M103.6,344.3h0.01M98.8,346.7h0.01M93.5,346.7h0.01M86.1,361.2h0.01M91.0,349.9h0.01M39.2,398.8h0.01M102.4,337.7h0.01M71.6,368.9h0.01M51.7,398.9h0.01M84.9,351.8h0.01M61.0,376.0h0.01M52.8,389.3h0.01M49.5,390.9h0.01M55.1,382.4h0.01M47.2,390.3h0.01M89.3,360.3h0.01M38.5,402.1h0.01M64.7,377.3h0.01M55.9,381.5h0.01M99.5,339.7h0.01M69.0,370.8h0.01M54.1,391.8h0.01M64.0,380.9h0.01M76.1,360.5h0.01M99.0,346.7h0.01M52.8,383.3h0.01M62.5,376.2h0.01M43.0,390.0h0.01M78.4,354.5h0.01M87.4,349.7h0.01M78.1,358.4h0.01M38.0,402.0h0.01M41.0,395.4h0.01M88.4,351.6h0.01M38.6,400.0h0.01M46.3,390.5h0.01M67.4,374.9h0.01M41.2,397.8h0.01M84.3,347.1h0.01M94.1,346.9h0.01M51.3,395.1h0.01M82.4,352.8h0.01M52.9,388.1h0.01M93.3,347.6h0.01M78.7,360.4h0.01M91.8,346.9h0.01M38.7,401.4h0.01M70.9,372.0h0.01M84.5,355.5h0.01M59.8,372.0h0.01M82.5,357.2h0.01M66.4,375.1h0.01M82.6,357.7h0.01M56.8,379.2h0.01M78.0,360.2h0.01M89.6,357.3h0.01M93.2,344.5h0.01M74.9,364.7h0.01M102.1,340.7h0.01M94.0,347.3h0.01M96.0,348.7h0.01M68.7,369.1h0.01M59.0,384.5h0.01M62.8,378.9h0.01M37.4,396.2h0.01M57.8,382.5h0.01M38.4,402.7h0.01M42.2,388.7h0.01M82.2,354.4h0.01M105.7,341.2h0.01M40.1,404.3h0.01M83.4,356.4h0.01M100.6,342.4h0.01M76.0,368.6h0.01M98.7,348.7h0.01M72.9,377.3h0.01M58.3,385.4h0.01M51.0,386.7h0.01M65.0,368.9h0.01M56.3,387.0h0.01M86.0,355.1h0.01M70.7,368.6h0.01M70.2,372.3h0.01M85.7,359.1h0.01M98.9,346.0h0.01M90.3,358.6h0.01M100.4,344.2h0.01M78.9,360.3h0.01M40.9,398.5h0.01M67.5,372.0h0.01M94.2,347.0h0.01M46.0,387.4h0.01M50.9,388.4h0.01M70.0,371.0h0.01M40.8,399.5h0.01M80.1,370.5h0.01M38.3,399.2h0.01M101.3,337.9h0.01M84.7,352.1h0.01M45.3,399.6h0.01M72.7,358.1h0.01M67.7,369.6h0.01M101.3,341.7h0.01M52.4,390.6h0.01M101.8,342.0h0.01M55.5,377.2h0.01M97.5,336.8h0.01M51.4,380.7h0.01M96.7,349.7h0.01M101.6,337.5h0.01M79.8,360.1h0.01M63.7,373.7h0.01M44.1,399.3h0.01M55.9,385.6h0.01M40.2,399.5h0.01M67.2,370.9h0.01M76.1,359.3h0.01M70.0,368.7h0.01" stroke="#8fc0ea" stroke-width="1.10" stroke-linecap="round"/>
<path d="M58.8,382.5h0.01M50.0,392.9h0.01M43.2,395.0h0.01M46.8,401.2h0.01M94.5,347.4h0.01M60.7,380.0h0.01M62.9,381.8h0.01M43.8,395.6h0.01M51.6,388.6h0.01M46.3,400.2h0.01M66.8,380.5h0.01M66.9,371.3h0.01M76.3,366.4h0.01M49.7,391.8h0.01M90.8,354.8h0.01M40.7,402.4h0.01M88.4,351.5h0.01M85.1,353.7h0.01M80.5,359.2h0.01M61.9,380.9h0.01M77.1,360.1h0.01M62.2,372.6h0.01M52.0,386.2h0.01M68.8,376.7h0.01M37.8,403.1h0.01M92.5,344.1h0.01M96.8,344.0h0.01M85.3,359.4h0.01M63.1,380.5h0.01M98.5,341.0h0.01M49.6,389.6h0.01M88.9,347.3h0.01M44.4,395.1h0.01M60.1,381.4h0.01M78.0,361.6h0.01M99.7,344.1h0.01M71.3,366.5h0.01M53.1,389.1h0.01M102.5,346.3h0.01M75.9,367.6h0.01M50.1,394.7h0.01M84.3,357.0h0.01M59.3,382.1h0.01M102.8,340.2h0.01M63.0,385.5h0.01M102.9,336.8h0.01M97.6,342.4h0.01M66.2,371.9h0.01M68.5,369.5h0.01M86.8,352.3h0.01M99.4,337.4h0.01M53.4,382.3h0.01M37.2,397.5h0.01M52.2,387.6h0.01M46.6,398.7h0.01M93.1,355.8h0.01M88.2,350.5h0.01M54.3,385.6h0.01M67.2,369.7h0.01M64.0,372.7h0.01M49.9,382.2h0.01M100.7,337.8h0.01M82.7,356.5h0.01M51.7,390.0h0.01M38.3,392.6h0.01M40.8,394.1h0.01M49.8,389.0h0.01M65.1,381.0h0.01M48.8,394.9h0.01M94.1,342.6h0.01M56.1,381.5h0.01M59.7,378.2h0.01M41.1,396.1h0.01M35.3,401.1h0.01M62.8,379.0h0.01M98.8,345.4h0.01M80.2,359.5h0.01M57.4,383.6h0.01M69.6,373.8h0.01M97.0,331.5h0.01M104.1,344.0h0.01M90.7,352.4h0.01M74.2,365.2h0.01M85.4,361.3h0.01M71.4,370.9h0.01M45.5,402.8h0.01M71.3,373.0h0.01M47.8,389.8h0.01M90.3,350.3h0.01M50.5,385.8h0.01M84.8,358.9h0.01M38.5,394.8h0.01M45.7,397.5h0.01M78.5,363.8h0.01M83.3,360.9h0.01M87.7,353.5h0.01M83.2,364.4h0.01M87.2,360.0h0.01M86.7,349.9h0.01M81.0,356.7h0.01M83.3,355.6h0.01M46.7,387.4h0.01M57.9,382.6h0.01M39.7,400.6h0.01M56.2,386.2h0.01M85.1,349.2h0.01M62.2,376.8h0.01M84.7,349.3h0.01M82.1,361.8h0.01M103.6,341.4h0.01M72.1,366.8h0.01M66.2,373.2h0.01M43.0,391.6h0.01M84.4,358.4h0.01M96.9,340.2h0.01M54.2,387.7h0.01M95.3,348.5h0.01M54.8,388.5h0.01M65.9,375.7h0.01M45.8,392.4h0.01M101.5,341.6h0.01M43.8,403.7h0.01M63.8,375.8h0.01M76.0,360.4h0.01M47.5,390.1h0.01M41.0,396.9h0.01M79.9,366.8h0.01M48.6,395.3h0.01M60.0,373.3h0.01M42.5,398.4h0.01M77.7,359.5h0.01M67.1,379.7h0.01M94.5,346.2h0.01M52.0,387.7h0.01M76.6,365.3h0.01M81.2,364.1h0.01M41.4,399.1h0.01M49.4,386.0h0.01M51.2,392.4h0.01M75.9,359.2h0.01M38.4,401.6h0.01M86.0,354.0h0.01M73.0,373.8h0.01M79.9,362.0h0.01M64.5,371.6h0.01M54.5,383.7h0.01M89.3,359.8h0.01M72.6,374.9h0.01M100.5,336.5h0.01M72.3,362.5h0.01M67.9,370.6h0.01M76.8,363.3h0.01M83.4,358.4h0.01M69.2,365.1h0.01M88.1,357.2h0.01M73.1,370.6h0.01M36.9,400.3h0.01M48.2,387.1h0.01M39.5,397.1h0.01M48.1,390.5h0.01M78.1,364.4h0.01M86.5,343.8h0.01M59.6,384.6h0.01M77.6,359.5h0.01M89.8,352.7h0.01M102.2,341.4h0.01M72.9,362.0h0.01M77.5,360.2h0.01M43.4,389.0h0.01M53.9,387.4h0.01M72.8,371.9h0.01M50.7,392.6h0.01M37.3,402.6h0.01M90.9,351.2h0.01M66.0,366.4h0.01M104.0,339.8h0.01M101.1,343.2h0.01M64.7,374.8h0.01M51.7,387.0h0.01M82.3,357.6h0.01M89.0,341.9h0.01M78.6,360.6h0.01M83.5,357.3h0.01M48.8,394.9h0.01M59.6,389.5h0.01M69.1,376.4h0.01M94.9,350.6h0.01M50.7,385.3h0.01M45.0,390.4h0.01M87.2,355.7h0.01M75.2,363.6h0.01M48.4,393.2h0.01M36.7,400.1h0.01M41.7,399.3h0.01M70.6,363.0h0.01M98.0,343.7h0.01M57.6,375.5h0.01M100.6,343.4h0.01M99.9,340.4h0.01M54.7,385.1h0.01M101.3,338.5h0.01M68.9,372.8h0.01M86.1,351.7h0.01M63.6,370.5h0.01M42.5,395.7h0.01M49.9,390.8h0.01M48.6,392.7h0.01M93.1,359.5h0.01M106.4,341.6h0.01M45.5,389.4h0.01M44.9,387.9h0.01M96.1,343.8h0.01M37.9,397.1h0.01M44.5,394.0h0.01M58.4,386.6h0.01M58.8,380.4h0.01M56.1,385.2h0.01M44.5,393.0h0.01M91.0,349.5h0.01M58.8,381.2h0.01M58.8,379.9h0.01M78.1,367.9h0.01M61.7,381.2h0.01M97.9,344.1h0.01M52.7,387.8h0.01M74.1,366.9h0.01M39.4,394.2h0.01M84.6,363.0h0.01M63.8,376.5h0.01M49.0,392.7h0.01M41.6,394.8h0.01M57.9,381.8h0.01" stroke="#c0dcf2" stroke-width="1.10" stroke-linecap="round"/>
<path d="M36.9,392.3 L45,385 L60,370.8 L80,354.6 L96,343 L104,337.5 L109,334.5 L110,336 L104,342.5 L96,350.5 L83.1,365.4 L67.7,380 L55,391 L47,402.4 L36.9,402.4 Z" fill="#1b5b9a" stroke="none" stroke-width="1"/>
<path d="M100.6,344.5h0.01M51.7,388.5h0.01M107.2,337.2h0.01M65.5,372.5h0.01M45.1,393.9h0.01M48.7,394.3h0.01M44.2,389.6h0.01M56.2,383.1h0.01M59.1,384.7h0.01M87.6,353.6h0.01M99.5,348.5h0.01M50.8,384.5h0.01M82.2,354.7h0.01M58.4,384.6h0.01M53.9,380.0h0.01M80.5,356.3h0.01M49.7,383.8h0.01M104.4,336.0h0.01M77.2,366.0h0.01M57.7,376.1h0.01M70.8,366.5h0.01M60.3,381.1h0.01M92.0,344.3h0.01M83.0,350.9h0.01M98.7,340.8h0.01M46.9,390.6h0.01M42.2,401.5h0.01M76.8,365.1h0.01M47.3,390.7h0.01M98.8,341.6h0.01M93.6,345.9h0.01M38.1,400.8h0.01M98.1,339.0h0.01M106.7,334.4h0.01M77.0,367.9h0.01M104.0,342.9h0.01M83.2,356.5h0.01M76.1,363.3h0.01M46.0,389.0h0.01M46.8,391.6h0.01M91.9,355.9h0.01M66.7,371.5h0.01M86.1,356.3h0.01M96.9,341.6h0.01M71.0,366.5h0.01M101.1,342.9h0.01M63.0,378.3h0.01M91.9,349.4h0.01M99.5,345.8h0.01M59.7,378.9h0.01M42.8,401.0h0.01M88.3,353.1h0.01M50.7,388.7h0.01M105.3,338.1h0.01M65.9,375.8h0.01M103.8,335.5h0.01M90.8,350.3h0.01M41.0,403.1h0.01M53.0,389.5h0.01M39.0,399.9h0.01M54.1,384.9h0.01M44.5,391.2h0.01M91.4,347.3h0.01M46.8,392.3h0.01M94.1,337.6h0.01M85.4,354.7h0.01M62.3,380.1h0.01M46.5,393.5h0.01M42.8,397.9h0.01M86.0,357.2h0.01M100.8,341.4h0.01M70.3,374.3h0.01M52.6,382.8h0.01M88.2,352.9h0.01M44.7,396.6h0.01M103.8,340.0h0.01M87.3,348.7h0.01M48.6,396.6h0.01M71.5,369.9h0.01M103.0,342.1h0.01M87.9,352.7h0.01M77.7,358.4h0.01M56.0,378.5h0.01M83.1,364.1h0.01M77.3,363.6h0.01M68.7,369.6h0.01M76.0,368.1h0.01M56.7,388.4h0.01M86.2,354.5h0.01M52.4,382.3h0.01M107.3,340.9h0.01M72.1,369.5h0.01M89.8,347.5h0.01M59.2,381.6h0.01M37.9,398.2h0.01M96.5,346.7h0.01M95.6,342.8h0.01M70.3,370.1h0.01M86.2,353.0h0.01M61.6,382.7h0.01M45.3,391.2h0.01M98.5,344.2h0.01M100.8,340.9h0.01M75.1,366.3h0.01M87.0,347.8h0.01M58.7,382.5h0.01M101.2,340.0h0.01M69.0,366.2h0.01M105.1,335.3h0.01M84.4,356.3h0.01M86.6,353.0h0.01M72.0,365.1h0.01M83.1,361.8h0.01M84.5,355.8h0.01M82.5,356.3h0.01M49.0,392.8h0.01M66.3,377.2h0.01M50.6,389.9h0.01M77.1,360.0h0.01M90.7,352.5h0.01M82.4,351.0h0.01M76.1,364.9h0.01M49.1,389.9h0.01M58.2,386.0h0.01M78.2,358.8h0.01M87.4,355.7h0.01M39.0,401.0h0.01M103.4,340.7h0.01M63.9,378.8h0.01M56.5,385.1h0.01M42.7,394.8h0.01M91.8,345.9h0.01M73.9,368.2h0.01M87.7,354.2h0.01M97.4,348.5h0.01M90.5,351.2h0.01M65.7,376.4h0.01M82.5,353.4h0.01M40.6,397.9h0.01M54.1,386.1h0.01M105.9,336.4h0.01M41.4,399.4h0.01M36.7,397.7h0.01M58.6,377.4h0.01M75.1,362.4h0.01M105.8,335.2h0.01M49.1,388.1h0.01M81.2,357.3h0.01M97.8,342.6h0.01M62.7,378.5h0.01M39.2,402.0h0.01M79.3,364.0h0.01M75.9,371.8h0.01M92.1,354.8h0.01M53.5,384.3h0.01M49.8,387.4h0.01M54.1,385.4h0.01M91.0,352.4h0.01M84.4,357.0h0.01M92.0,340.2h0.01M54.9,386.7h0.01M103.5,341.1h0.01M82.9,357.9h0.01M100.4,339.1h0.01M105.1,339.6h0.01M88.7,345.7h0.01M74.6,366.8h0.01M90.5,350.2h0.01M102.5,336.9h0.01M66.2,374.4h0.01M101.7,341.2h0.01M101.0,333.5h0.01M71.3,368.9h0.01M74.1,362.9h0.01M81.9,352.6h0.01M92.1,354.8h0.01M61.7,379.1h0.01M100.9,341.7h0.01M60.2,386.8h0.01M84.5,358.1h0.01M43.2,398.1h0.01M57.8,386.4h0.01M96.3,341.3h0.01M76.4,361.6h0.01M74.0,370.8h0.01M64.7,374.4h0.01M66.4,379.9h0.01M86.9,351.3h0.01M94.8,342.0h0.01M73.7,362.5h0.01M102.7,338.0h0.01M92.0,354.9h0.01M42.1,398.4h0.01M62.8,376.2h0.01M59.5,384.1h0.01M98.3,337.2h0.01M89.8,344.0h0.01M73.7,370.9h0.01M54.9,393.0h0.01M103.2,346.2h0.01M56.8,384.3h0.01M54.6,384.5h0.01M42.3,399.5h0.01M51.7,390.6h0.01M49.0,389.8h0.01M54.9,390.2h0.01M82.0,361.6h0.01M101.1,339.6h0.01M57.8,384.6h0.01M59.5,384.7h0.01M63.0,378.2h0.01M50.0,383.4h0.01M48.4,392.3h0.01M67.9,373.4h0.01M90.7,350.3h0.01M41.0,400.2h0.01M86.9,355.9h0.01M82.1,360.8h0.01M103.7,339.5h0.01M77.0,365.3h0.01M80.2,360.7h0.01M58.8,381.7h0.01M39.3,402.7h0.01M83.5,353.8h0.01M54.3,381.8h0.01M102.1,336.4h0.01M79.7,360.7h0.01M53.9,383.4h0.01M63.9,382.3h0.01M64.9,372.3h0.01M62.8,383.0h0.01M42.3,394.1h0.01M110.2,337.1h0.01M80.2,359.2h0.01" stroke="#1b5b9a" stroke-width="1.10" stroke-linecap="round"/>
<path d="M74.1,363.7h0.01M106.1,342.4h0.01M52.5,385.2h0.01M70.1,373.5h0.01M54.6,381.1h0.01M83.0,350.9h0.01M103.5,335.1h0.01M54.4,387.0h0.01M86.7,353.1h0.01M90.1,350.3h0.01M73.8,368.7h0.01M67.8,374.0h0.01M50.8,390.2h0.01M39.8,399.0h0.01M99.0,347.1h0.01M45.5,397.9h0.01M46.4,394.1h0.01M60.1,380.7h0.01M57.6,382.6h0.01M41.6,401.4h0.01M84.3,354.4h0.01M59.2,379.4h0.01M42.8,397.7h0.01M70.0,371.6h0.01M66.6,371.9h0.01M61.3,377.6h0.01M83.4,354.0h0.01M89.0,351.9h0.01M69.5,373.1h0.01M102.5,340.5h0.01M68.3,373.1h0.01M81.5,358.6h0.01M73.2,365.0h0.01M65.7,377.2h0.01M99.0,348.4h0.01M74.4,367.1h0.01M105.2,337.6h0.01M49.6,392.4h0.01M87.6,358.8h0.01M102.5,336.9h0.01M79.5,360.8h0.01M50.5,395.4h0.01M95.3,337.6h0.01M102.2,335.7h0.01M103.3,338.2h0.01M39.4,402.6h0.01M95.5,350.0h0.01M90.4,349.1h0.01M56.1,377.6h0.01M96.4,343.5h0.01M44.8,393.6h0.01M70.2,369.5h0.01M104.5,331.2h0.01M46.5,391.2h0.01M69.3,371.5h0.01M98.5,337.9h0.01M94.5,343.6h0.01M43.3,390.9h0.01M93.1,352.6h0.01M42.5,395.3h0.01M83.4,353.4h0.01M49.5,393.4h0.01M44.2,397.5h0.01M81.6,353.6h0.01M82.4,360.6h0.01M69.3,367.1h0.01M53.5,392.4h0.01M89.3,354.5h0.01M76.3,364.1h0.01M51.7,387.3h0.01M46.5,390.1h0.01M77.2,356.7h0.01M105.8,332.9h0.01M49.7,391.8h0.01M82.3,352.9h0.01M71.8,371.1h0.01M83.4,362.2h0.01M76.2,367.8h0.01M103.3,335.5h0.01M91.0,345.7h0.01M82.5,366.9h0.01M67.9,371.9h0.01M100.4,342.7h0.01M100.1,341.9h0.01M103.3,343.5h0.01M49.6,389.5h0.01M58.8,385.0h0.01M81.7,360.2h0.01M85.5,354.9h0.01M40.0,399.5h0.01M99.5,343.8h0.01M47.2,389.2h0.01M58.2,382.0h0.01M91.3,354.9h0.01M46.7,403.3h0.01M100.8,334.7h0.01M44.0,398.9h0.01M51.4,394.7h0.01M106.9,338.5h0.01M55.7,385.4h0.01M83.2,352.4h0.01M43.1,398.3h0.01M59.2,384.7h0.01M47.1,392.2h0.01M95.1,347.8h0.01M86.3,357.6h0.01M86.6,352.9h0.01M94.7,341.2h0.01M102.3,338.7h0.01M93.6,345.1h0.01M59.1,385.0h0.01M64.0,377.0h0.01M49.7,385.7h0.01M75.1,365.5h0.01M107.1,335.2h0.01M98.0,346.2h0.01M92.2,353.3h0.01M38.6,397.0h0.01M102.8,340.5h0.01M45.6,393.2h0.01M87.5,350.9h0.01M81.7,359.1h0.01M44.7,384.3h0.01M81.7,367.4h0.01M103.5,338.3h0.01M59.0,381.2h0.01M107.1,335.5h0.01M75.7,371.2h0.01M43.8,392.4h0.01M64.8,378.4h0.01M45.5,392.2h0.01M90.0,356.3h0.01M88.2,352.6h0.01M54.6,387.5h0.01M54.0,382.5h0.01M53.2,388.9h0.01M77.1,365.3h0.01M44.6,390.3h0.01M90.4,352.2h0.01M78.7,367.1h0.01M93.3,348.9h0.01M86.9,354.8h0.01M61.4,377.5h0.01M67.9,372.3h0.01M75.5,365.7h0.01M58.7,382.2h0.01M77.0,364.0h0.01M87.3,357.2h0.01M83.7,357.8h0.01M56.4,383.4h0.01M67.4,379.6h0.01M82.2,354.8h0.01M94.0,345.9h0.01M95.1,351.8h0.01M85.9,356.8h0.01M43.0,400.6h0.01M80.8,356.9h0.01M60.2,380.3h0.01M39.4,397.6h0.01M80.9,359.4h0.01M57.5,383.0h0.01M64.3,375.4h0.01M77.0,365.5h0.01M90.5,358.4h0.01M82.1,363.8h0.01M110.5,337.3h0.01M47.0,400.1h0.01M75.9,365.0h0.01M57.2,378.3h0.01M90.1,346.4h0.01M99.2,350.6h0.01M60.0,376.6h0.01M54.4,384.9h0.01M68.6,378.7h0.01M39.6,402.5h0.01M80.3,362.7h0.01M90.6,350.8h0.01M85.6,361.2h0.01M82.9,360.7h0.01M94.3,349.4h0.01M37.1,400.7h0.01M49.2,395.7h0.01M39.8,394.5h0.01M76.1,367.1h0.01M79.2,362.5h0.01M38.3,398.4h0.01M96.6,341.9h0.01M65.8,371.7h0.01M70.1,368.0h0.01M84.8,348.4h0.01M95.7,347.9h0.01M90.5,351.8h0.01M65.9,372.7h0.01M54.1,391.2h0.01M39.8,400.4h0.01M87.5,349.8h0.01M92.6,353.3h0.01M75.1,366.4h0.01M96.8,344.8h0.01M56.3,382.1h0.01M52.6,384.8h0.01M47.6,390.3h0.01M71.8,370.6h0.01M76.3,366.3h0.01M67.4,374.1h0.01M54.5,386.9h0.01M50.0,398.2h0.01M48.8,393.7h0.01M91.0,352.6h0.01M102.4,337.5h0.01M86.5,358.0h0.01M86.3,356.8h0.01M55.5,378.3h0.01M99.0,343.8h0.01M67.4,370.8h0.01M90.8,352.5h0.01M82.3,358.9h0.01M43.6,401.5h0.01M37.6,398.4h0.01M64.9,371.6h0.01M47.6,392.9h0.01M51.8,383.5h0.01M39.6,399.7h0.01M107.1,333.5h0.01M94.9,342.4h0.01M95.1,345.3h0.01M99.4,342.1h0.01M60.8,378.8h0.01M47.2,392.6h0.01M50.8,391.6h0.01M62.8,376.4h0.01M64.7,378.3h0.01M83.3,361.8h0.01" stroke="#22649f" stroke-width="1.10" stroke-linecap="round"/>
<path d="M49.2,393.0h0.01M39.7,402.0h0.01M104.2,336.2h0.01M62.8,369.5h0.01M57.6,385.5h0.01M93.4,345.9h0.01M105.6,336.7h0.01M85.0,358.3h0.01M50.0,391.8h0.01M47.9,393.2h0.01M104.3,340.9h0.01M68.6,374.3h0.01M47.9,401.3h0.01M58.2,387.3h0.01M85.0,360.0h0.01M96.6,346.8h0.01M39.8,399.6h0.01M95.7,344.1h0.01M75.7,366.5h0.01M65.6,374.4h0.01M103.5,339.4h0.01M88.6,348.5h0.01M71.2,367.7h0.01M70.7,369.4h0.01M52.9,385.6h0.01M47.8,397.8h0.01M96.3,335.2h0.01M66.0,372.8h0.01M71.1,367.2h0.01M103.1,343.5h0.01M50.4,391.5h0.01M85.3,357.5h0.01M100.0,340.1h0.01M50.6,390.1h0.01M53.7,386.9h0.01M83.2,357.8h0.01M58.8,383.9h0.01M106.1,336.9h0.01M67.4,369.9h0.01M37.2,400.6h0.01M65.5,377.6h0.01M68.1,377.5h0.01M102.8,338.2h0.01M90.6,348.2h0.01M89.4,352.0h0.01M42.8,396.7h0.01M92.8,345.6h0.01M81.7,359.0h0.01M44.7,394.5h0.01M105.9,342.1h0.01M88.1,354.9h0.01M79.3,366.5h0.01M94.4,351.3h0.01M82.1,352.9h0.01M70.1,364.6h0.01M104.9,335.7h0.01M96.7,341.2h0.01M72.8,365.9h0.01M76.3,355.8h0.01M50.9,392.8h0.01M78.3,361.4h0.01M70.0,365.4h0.01M44.0,399.2h0.01M57.5,380.8h0.01M84.8,356.2h0.01M106.8,334.6h0.01M54.5,380.8h0.01M68.6,363.2h0.01M56.8,385.0h0.01M74.3,365.5h0.01M48.1,390.3h0.01M47.0,396.2h0.01M86.0,358.4h0.01M91.8,350.9h0.01M76.5,364.9h0.01M52.9,385.4h0.01M78.6,362.0h0.01M53.4,387.1h0.01M67.1,375.1h0.01M77.2,364.9h0.01M50.3,389.4h0.01M74.4,361.0h0.01M94.7,350.0h0.01M101.0,347.1h0.01M53.7,394.1h0.01M71.7,366.5h0.01M96.4,346.6h0.01M84.8,352.4h0.01M46.4,395.5h0.01M88.3,354.2h0.01M57.7,382.6h0.01M44.7,391.5h0.01M82.9,361.1h0.01M77.1,360.1h0.01M69.0,376.8h0.01M65.4,369.1h0.01M74.7,362.3h0.01M90.1,346.5h0.01M106.1,333.6h0.01M108.0,338.8h0.01M62.7,375.8h0.01M109.3,338.1h0.01M50.9,388.9h0.01M50.1,394.6h0.01M103.6,338.2h0.01M48.1,389.8h0.01M102.1,337.1h0.01M40.5,400.5h0.01M104.2,338.7h0.01M43.0,396.2h0.01M54.7,388.9h0.01M103.2,340.8h0.01M75.1,372.3h0.01M107.0,333.8h0.01M63.9,380.4h0.01M64.0,379.4h0.01M76.1,360.7h0.01M71.0,369.5h0.01M43.2,391.5h0.01M83.8,354.2h0.01M78.8,361.9h0.01M79.0,358.0h0.01M95.3,347.4h0.01M78.9,360.4h0.01M58.7,382.5h0.01M69.9,374.4h0.01M105.4,335.7h0.01M67.3,373.1h0.01M57.4,379.9h0.01M65.3,377.3h0.01M54.7,383.3h0.01M48.8,387.3h0.01M81.7,365.0h0.01M73.9,370.0h0.01M94.6,348.2h0.01M47.0,397.1h0.01M68.9,370.4h0.01M44.2,396.1h0.01M66.8,373.4h0.01M101.8,344.9h0.01M79.6,354.3h0.01M56.5,381.4h0.01M48.1,393.0h0.01M51.2,386.0h0.01M87.3,358.1h0.01M58.1,383.1h0.01M53.8,389.0h0.01M85.4,354.8h0.01M67.1,378.4h0.01M82.4,355.5h0.01M89.6,353.9h0.01M70.7,368.0h0.01M59.1,381.1h0.01M58.5,376.5h0.01M94.1,346.0h0.01M60.0,385.8h0.01M78.1,362.5h0.01M47.8,400.1h0.01M91.6,353.8h0.01M41.0,395.2h0.01M49.7,386.6h0.01M73.4,373.7h0.01M70.8,370.5h0.01M106.4,338.7h0.01M41.7,391.6h0.01M95.3,342.3h0.01M100.6,345.1h0.01M93.7,343.8h0.01M54.7,381.2h0.01M65.3,370.7h0.01M58.7,382.0h0.01M73.5,359.7h0.01M59.1,377.8h0.01M54.3,383.2h0.01M54.7,387.3h0.01M47.0,390.8h0.01M87.0,349.5h0.01M58.9,379.4h0.01M52.1,384.9h0.01M54.6,385.7h0.01M41.9,393.7h0.01M100.3,339.6h0.01M71.1,366.0h0.01M93.4,360.5h0.01M47.9,392.2h0.01M85.1,357.5h0.01M52.8,388.8h0.01M84.8,354.7h0.01M78.1,369.9h0.01M48.4,399.9h0.01M81.2,361.5h0.01M104.9,340.0h0.01M57.3,383.2h0.01M62.5,381.2h0.01M71.0,370.6h0.01M100.9,338.0h0.01M45.9,388.7h0.01M56.3,382.9h0.01M104.5,338.7h0.01M78.5,356.8h0.01M56.9,382.8h0.01M53.8,392.4h0.01M84.9,358.6h0.01M47.3,395.7h0.01M77.8,361.3h0.01M86.8,353.8h0.01M97.0,348.5h0.01M108.1,335.4h0.01M61.6,378.9h0.01M46.5,393.2h0.01M96.4,338.8h0.01M74.6,367.3h0.01M79.8,365.1h0.01M80.5,360.8h0.01M86.8,359.0h0.01M98.7,335.3h0.01M73.1,369.9h0.01M54.8,385.5h0.01M73.1,371.2h0.01M82.2,359.8h0.01M67.8,375.0h0.01M90.0,347.2h0.01M63.2,373.6h0.01M76.1,366.3h0.01M86.4,354.4h0.01M66.1,373.8h0.01M69.1,367.6h0.01M46.9,384.9h0.01M91.2,352.6h0.01M103.7,338.6h0.01M94.4,348.3h0.01M78.9,360.7h0.01M47.4,392.1h0.01" stroke="#2a6ea8" stroke-width="1.10" stroke-linecap="round"/>
<path d="M116.8,326.2h0.01M105.7,335.0h0.01M124.0,321.2h0.01M137.4,310.1h0.01M103.5,336.0h0.01M111.0,334.7h0.01M106.7,338.7h0.01M106.6,334.7h0.01M117.5,324.5h0.01M107.8,336.7h0.01M123.2,319.9h0.01M100.4,336.3h0.01M136.7,310.3h0.01M103.6,339.6h0.01M132.8,311.1h0.01M123.5,316.9h0.01M137.9,304.4h0.01M125.0,316.8h0.01M136.7,308.4h0.01M139.3,303.1h0.01M125.4,315.7h0.01M118.9,323.2h0.01M131.7,314.5h0.01M142.1,303.7h0.01M123.9,324.8h0.01M126.9,318.5h0.01M109.7,335.8h0.01M128.0,312.4h0.01M121.6,320.9h0.01M123.2,318.0h0.01M109.4,332.9h0.01M125.0,316.1h0.01M136.0,306.8h0.01M121.4,321.1h0.01M133.4,310.3h0.01M134.9,308.2h0.01M116.6,324.9h0.01M137.5,304.2h0.01M108.8,335.1h0.01M124.9,317.4h0.01M138.9,306.8h0.01M106.4,337.4h0.01M115.1,328.7h0.01" stroke="#1b5b9a" stroke-width="0.90" stroke-linecap="round"/>
<path d="M107.9,331.1h0.01M116.2,325.9h0.01M120.1,322.1h0.01M125.2,318.8h0.01M112.7,326.6h0.01M129.1,317.7h0.01M100.5,337.1h0.01M123.2,323.2h0.01M113.4,330.9h0.01M113.0,325.2h0.01M118.0,319.6h0.01M112.5,329.3h0.01M132.8,311.6h0.01M135.0,309.1h0.01M117.9,327.1h0.01M124.3,318.4h0.01M122.3,324.0h0.01M107.0,336.3h0.01M107.7,332.5h0.01M113.6,330.5h0.01M131.4,310.4h0.01M118.0,326.2h0.01M114.2,328.0h0.01M139.5,305.1h0.01M133.7,311.4h0.01M116.0,328.0h0.01M108.8,329.3h0.01M130.1,314.7h0.01M135.3,306.2h0.01M109.4,333.0h0.01M136.9,305.4h0.01M111.6,333.5h0.01M102.2,338.8h0.01M108.5,334.8h0.01M123.5,321.3h0.01M108.1,335.1h0.01M118.6,325.6h0.01M116.3,325.3h0.01M132.9,309.5h0.01M126.0,314.4h0.01M140.1,304.1h0.01M109.5,333.2h0.01M121.1,321.7h0.01" stroke="#3a78b4" stroke-width="0.90" stroke-linecap="round"/>
<path d="M138.6,303.3h0.01M113.0,328.0h0.01M103.0,338.3h0.01M126.2,315.4h0.01M140.6,302.2h0.01M130.3,313.9h0.01M130.1,312.7h0.01M122.5,318.4h0.01M124.2,317.6h0.01M137.9,302.8h0.01M127.3,314.1h0.01M113.5,330.2h0.01M137.4,301.4h0.01M123.5,319.8h0.01M104.5,337.2h0.01M114.2,327.4h0.01M126.3,316.9h0.01M122.9,319.0h0.01M109.5,332.4h0.01M116.5,322.8h0.01M107.3,329.7h0.01M106.4,332.1h0.01M107.6,332.1h0.01M131.7,313.0h0.01M105.0,333.9h0.01M112.2,333.0h0.01M122.6,321.0h0.01M131.2,311.8h0.01M115.7,326.7h0.01M117.6,321.7h0.01M110.1,330.5h0.01M122.8,319.0h0.01M117.0,323.7h0.01M126.3,316.1h0.01M114.3,327.8h0.01M114.8,328.9h0.01M113.7,331.2h0.01M133.1,305.9h0.01M132.3,310.4h0.01M138.0,305.1h0.01M112.0,329.5h0.01M120.9,322.9h0.01" stroke="#6a9ccb" stroke-width="0.90" stroke-linecap="round"/>
<path d="M102.5,337.7h0.01M111.5,330.6h0.01M105.5,335.6h0.01M131.3,309.5h0.01M139.2,304.6h0.01M136.2,309.4h0.01M136.2,305.3h0.01M106.0,332.2h0.01M114.5,323.7h0.01M123.6,318.8h0.01M131.4,313.7h0.01M102.4,337.9h0.01M112.6,330.6h0.01M135.9,304.9h0.01M133.5,307.6h0.01M116.0,323.9h0.01M105.5,337.9h0.01M128.7,309.7h0.01M126.2,319.6h0.01M115.2,325.1h0.01M121.3,322.1h0.01M108.2,337.6h0.01M111.0,330.4h0.01M124.3,311.0h0.01M118.0,322.2h0.01M111.4,329.0h0.01M111.5,334.4h0.01M102.3,336.6h0.01M110.8,331.3h0.01M134.6,309.3h0.01M103.2,337.2h0.01M102.7,339.6h0.01M129.9,311.4h0.01M136.9,309.0h0.01M134.4,308.0h0.01M129.6,314.2h0.01M123.8,319.0h0.01M110.9,332.1h0.01M119.9,318.9h0.01M115.3,330.5h0.01M133.5,309.1h0.01M109.1,333.1h0.01" stroke="#9ac0e0" stroke-width="0.90" stroke-linecap="round"/>
<circle cx="161.50" cy="284.60" r="0.90" fill="#9aa"/>
<line x1="32.50" y1="277.20" x2="32.50" y2="407.00" stroke="#111" stroke-width="1.0"/>
<line x1="32.00" y1="406.50" x2="162.20" y2="406.50" stroke="#111" stroke-width="1.0"/>
<line x1="30.00" y1="283.30" x2="32.50" y2="283.30" stroke="#111" stroke-width="0.8"/>
<text x="26.30" y="285.75" font-size="6.9" fill="#333" stroke="#333" stroke-width="0.1" text-anchor="end" textLength="6.91" lengthAdjust="spacingAndGlyphs">16</text>
<line x1="30.00" y1="320.80" x2="32.50" y2="320.80" stroke="#111" stroke-width="0.8"/>
<text x="26.30" y="323.25" font-size="6.9" fill="#333" stroke="#333" stroke-width="0.1" text-anchor="end" textLength="6.91" lengthAdjust="spacingAndGlyphs">12</text>
<line x1="30.00" y1="358.30" x2="32.50" y2="358.30" stroke="#111" stroke-width="0.8"/>
<text x="26.30" y="360.75" font-size="6.9" fill="#333" stroke="#333" stroke-width="0.1" text-anchor="end" textLength="3.45" lengthAdjust="spacingAndGlyphs">8</text>
<line x1="30.00" y1="395.80" x2="32.50" y2="395.80" stroke="#111" stroke-width="0.8"/>
<text x="26.30" y="398.25" font-size="6.9" fill="#333" stroke="#333" stroke-width="0.1" text-anchor="end" textLength="3.45" lengthAdjust="spacingAndGlyphs">4</text>
<line x1="31.00" y1="377.05" x2="32.50" y2="377.05" stroke="#111" stroke-width="0.7"/>
<line x1="31.00" y1="339.55" x2="32.50" y2="339.55" stroke="#111" stroke-width="0.7"/>
<line x1="31.00" y1="302.05" x2="32.50" y2="302.05" stroke="#111" stroke-width="0.7"/>
<line x1="43.50" y1="406.50" x2="43.50" y2="409.40" stroke="#111" stroke-width="0.8"/>
<text x="43.50" y="418.00" font-size="6.9" fill="#333" stroke="#333" stroke-width="0.1" text-anchor="middle" textLength="3.45" lengthAdjust="spacingAndGlyphs">4</text>
<line x1="82.60" y1="406.50" x2="82.60" y2="409.40" stroke="#111" stroke-width="0.8"/>
<text x="82.60" y="418.00" font-size="6.9" fill="#333" stroke="#333" stroke-width="0.1" text-anchor="middle" textLength="3.45" lengthAdjust="spacingAndGlyphs">8</text>
<line x1="121.70" y1="406.50" x2="121.70" y2="409.40" stroke="#111" stroke-width="0.8"/>
<text x="121.70" y="418.00" font-size="6.9" fill="#333" stroke="#333" stroke-width="0.1" text-anchor="middle" textLength="6.91" lengthAdjust="spacingAndGlyphs">12</text>
<line x1="160.80" y1="406.50" x2="160.80" y2="409.40" stroke="#111" stroke-width="0.8"/>
<text x="160.80" y="418.00" font-size="6.9" fill="#333" stroke="#333" stroke-width="0.1" text-anchor="middle" textLength="6.91" lengthAdjust="spacingAndGlyphs">16</text>
<line x1="63.05" y1="406.50" x2="63.05" y2="408.20" stroke="#111" stroke-width="0.7"/>
<line x1="102.15" y1="406.50" x2="102.15" y2="408.20" stroke="#111" stroke-width="0.7"/>
<line x1="141.25" y1="406.50" x2="141.25" y2="408.20" stroke="#111" stroke-width="0.7"/>
<text x="97.60" y="429.70" font-size="7.9" fill="#2a2a2a" stroke="#2a2a2a" stroke-width="0.07" text-anchor="middle" textLength="96.40" lengthAdjust="spacingAndGlyphs">WT (log<tspan font-size="5" dy="1.8">2</tspan><tspan dy="-1.8"> normalized expression)</tspan></text>
<text x="13.60" y="337.70" font-size="7.9" fill="#2a2a2a" stroke="#2a2a2a" stroke-width="0.07" text-anchor="middle" textLength="106.00" lengthAdjust="spacingAndGlyphs" transform="rotate(-90 13.60 337.70)">DKO (log<tspan font-size="5" dy="1.8">2</tspan><tspan dy="-1.8"> normalized expression)</tspan></text>
<text x="85.80" y="300.90" font-size="6.6" fill="#2a2a2a" stroke="#2a2a2a" stroke-width="0.1" textLength="13.30" lengthAdjust="spacingAndGlyphs">Mpo</text>
<text x="78.00" y="307.80" font-size="6.6" fill="#2a2a2a" stroke="#2a2a2a" stroke-width="0.1" textLength="11.60" lengthAdjust="spacingAndGlyphs">Ccl9</text>
<text x="73.10" y="314.00" font-size="6.6" fill="#2a2a2a" stroke="#2a2a2a" stroke-width="0.1" textLength="13.30" lengthAdjust="spacingAndGlyphs">Ctsg</text>
<text x="68.00" y="321.00" font-size="6.6" fill="#2a2a2a" stroke="#2a2a2a" stroke-width="0.1" textLength="13.20" lengthAdjust="spacingAndGlyphs">Ebi3</text>
<text x="53.70" y="339.00" font-size="6.6" fill="#2a2a2a" stroke="#2a2a2a" stroke-width="0.1" textLength="14.70" lengthAdjust="spacingAndGlyphs">Ehd3</text>
<text x="39.00" y="346.00" font-size="6.6" fill="#2a2a2a" stroke="#2a2a2a" stroke-width="0.1" textLength="18.10" lengthAdjust="spacingAndGlyphs">Nfkbiz</text>
<text x="32.90" y="353.80" font-size="6.6" fill="#2a2a2a" stroke="#2a2a2a" stroke-width="0.1" textLength="15.60" lengthAdjust="spacingAndGlyphs">Elane</text>
<text x="111.40" y="345.00" font-size="6.6" fill="#2a2a2a" stroke="#2a2a2a" stroke-width="0.1" textLength="12.80" lengthAdjust="spacingAndGlyphs">Dntt</text>
<text x="116.80" y="366.30" font-size="6.6" fill="#2a2a2a" stroke="#2a2a2a" stroke-width="0.1" textLength="17.50" lengthAdjust="spacingAndGlyphs">Stmn1</text>
<text x="100.20" y="385.60" font-size="6.6" fill="#2a2a2a" stroke="#2a2a2a" stroke-width="0.1" textLength="11.60" lengthAdjust="spacingAndGlyphs">Ctse</text>
<line x1="96.40" y1="305.40" x2="100.20" y2="328.70" stroke="#333" stroke-width="0.6"/>
<line x1="87.90" y1="309.60" x2="82.80" y2="343.50" stroke="#333" stroke-width="0.6"/>
<line x1="81.20" y1="318.00" x2="80.10" y2="343.50" stroke="#333" stroke-width="0.6"/>
<line x1="74.80" y1="324.40" x2="78.00" y2="344.50" stroke="#333" stroke-width="0.6"/>
<line x1="61.40" y1="341.20" x2="51.90" y2="359.40" stroke="#333" stroke-width="0.6"/>
<line x1="51.00" y1="350.80" x2="46.70" y2="364.60" stroke="#333" stroke-width="0.6"/>
<line x1="38.90" y1="358.60" x2="42.40" y2="372.40" stroke="#333" stroke-width="0.6"/>
<text x="254.50" y="271.10" font-size="8.4" fill="#333" stroke="#333" stroke-width="0.07" text-anchor="middle" textLength="17.30" lengthAdjust="spacingAndGlyphs">Mpo</text>
<line x1="217.50" y1="277.30" x2="217.50" y2="347.50" stroke="#111" stroke-width="1.0"/>
<line x1="214.50" y1="284.70" x2="217.50" y2="284.70" stroke="#111" stroke-width="0.8"/>
<text x="211.20" y="287.15" font-size="6.9" fill="#333" stroke="#333" stroke-width="0.1" text-anchor="end" textLength="6.91" lengthAdjust="spacingAndGlyphs">80</text>
<line x1="214.50" y1="315.90" x2="217.50" y2="315.90" stroke="#111" stroke-width="0.8"/>
<text x="211.20" y="318.35" font-size="6.9" fill="#333" stroke="#333" stroke-width="0.1" text-anchor="end" textLength="6.91" lengthAdjust="spacingAndGlyphs">40</text>
<line x1="214.50" y1="347.00" x2="217.50" y2="347.00" stroke="#111" stroke-width="0.8"/>
<text x="211.20" y="349.45" font-size="6.9" fill="#333" stroke="#333" stroke-width="0.1" text-anchor="end" textLength="3.45" lengthAdjust="spacingAndGlyphs">0</text>
<line x1="215.50" y1="300.30" x2="217.50" y2="300.30" stroke="#111" stroke-width="0.7"/>
<line x1="215.50" y1="331.40" x2="217.50" y2="331.40" stroke="#111" stroke-width="0.7"/>
<rect x="220.30" y="312.00" width="27.50" height="14.25" fill="#9a9a9a"/>
<rect x="220.30" y="326.20" width="27.50" height="12.35" fill="#78c28c"/>
<rect x="220.30" y="338.50" width="27.50" height="3.95" fill="#1a6aae"/>
<rect x="220.30" y="342.40" width="27.50" height="1.25" fill="#d09090"/>
<rect x="220.30" y="343.60" width="27.50" height="1.45" fill="#a06a50"/>
<rect x="220.30" y="345.00" width="27.50" height="2.05" fill="#2a2020"/>
<rect x="261.20" y="276.20" width="27.70" height="19.65" fill="#9a9a9a"/>
<rect x="261.20" y="295.80" width="27.70" height="34.65" fill="#78c28c"/>
<rect x="261.20" y="330.40" width="27.70" height="3.95" fill="#1a6aae"/>
<rect x="261.20" y="334.30" width="27.70" height="1.95" fill="#e39aa8"/>
<rect x="261.20" y="336.20" width="27.70" height="1.65" fill="#e08a60"/>
<rect x="261.20" y="337.80" width="27.70" height="1.25" fill="#c05a5a"/>
<rect x="261.20" y="339.00" width="27.70" height="4.85" fill="#2e8e46"/>
<rect x="261.20" y="343.80" width="27.70" height="1.85" fill="#b05a5a"/>
<rect x="261.20" y="345.60" width="27.70" height="1.45" fill="#6a3a3a"/>
<line x1="217.30" y1="347.50" x2="290.50" y2="347.50" stroke="#111" stroke-width="1.0"/>
<line x1="234.00" y1="347.50" x2="234.00" y2="350.10" stroke="#111" stroke-width="0.8"/>
<text x="234.00" y="358.30" font-size="6.8" fill="#333" stroke="#333" stroke-width="0.1" text-anchor="middle" textLength="9.50" lengthAdjust="spacingAndGlyphs">WT</text>
<line x1="275.00" y1="347.50" x2="275.00" y2="350.10" stroke="#111" stroke-width="0.8"/>
<text x="275.00" y="358.30" font-size="6.8" fill="#333" stroke="#333" stroke-width="0.1" text-anchor="middle" textLength="14.30" lengthAdjust="spacingAndGlyphs">DKO</text>
<text x="189.80" y="312.00" font-size="7.6" fill="#2a2a2a" stroke="#2a2a2a" stroke-width="0.07" text-anchor="middle" textLength="62.00" lengthAdjust="spacingAndGlyphs" transform="rotate(-90 189.80 312.00)">Size normalized UMI</text>
<text x="199.20" y="312.00" font-size="7.6" fill="#2a2a2a" stroke="#2a2a2a" stroke-width="0.07" text-anchor="middle" textLength="30.00" lengthAdjust="spacingAndGlyphs" transform="rotate(-90 199.20 312.00)">/100 cells</text>
<text x="347.50" y="271.70" font-size="8.4" fill="#333" stroke="#333" stroke-width="0.07" text-anchor="middle" textLength="20.40" lengthAdjust="spacingAndGlyphs">Elane</text>
<line x1="310.50" y1="276.90" x2="310.50" y2="347.80" stroke="#111" stroke-width="1.0"/>
<line x1="307.50" y1="294.90" x2="310.50" y2="294.90" stroke="#111" stroke-width="0.8"/>
<text x="304.20" y="297.35" font-size="6.9" fill="#333" stroke="#333" stroke-width="0.1" text-anchor="end" textLength="3.45" lengthAdjust="spacingAndGlyphs">2</text>
<line x1="307.50" y1="321.10" x2="310.50" y2="321.10" stroke="#111" stroke-width="0.8"/>
<text x="304.20" y="323.55" font-size="6.9" fill="#333" stroke="#333" stroke-width="0.1" text-anchor="end" textLength="3.45" lengthAdjust="spacingAndGlyphs">1</text>
<line x1="307.50" y1="347.30" x2="310.50" y2="347.30" stroke="#111" stroke-width="0.8"/>
<text x="304.20" y="349.75" font-size="6.9" fill="#333" stroke="#333" stroke-width="0.1" text-anchor="end" textLength="3.45" lengthAdjust="spacingAndGlyphs">0</text>
<line x1="308.50" y1="282.00" x2="310.50" y2="282.00" stroke="#111" stroke-width="0.7"/>
<line x1="308.50" y1="308.00" x2="310.50" y2="308.00" stroke="#111" stroke-width="0.7"/>
<line x1="308.50" y1="334.20" x2="310.50" y2="334.20" stroke="#111" stroke-width="0.7"/>
<rect x="312.60" y="341.00" width="28.20" height="6.35" fill="#78c28c"/>
<rect x="354.20" y="277.40" width="27.70" height="3.05" fill="#9a9a9a"/>
<rect x="354.20" y="280.40" width="27.70" height="46.15" fill="#78c28c"/>
<rect x="354.20" y="326.50" width="27.70" height="0.85" fill="#1f6a3a"/>
<rect x="354.20" y="327.30" width="27.70" height="17.95" fill="#1aa048"/>
<rect x="354.20" y="345.20" width="27.70" height="2.15" fill="#155a8a"/>
<line x1="310.20" y1="347.50" x2="384.20" y2="347.50" stroke="#111" stroke-width="1.0"/>
<line x1="326.70" y1="347.50" x2="326.70" y2="350.10" stroke="#111" stroke-width="0.8"/>
<text x="326.70" y="358.30" font-size="6.8" fill="#333" stroke="#333" stroke-width="0.1" text-anchor="middle" textLength="9.50" lengthAdjust="spacingAndGlyphs">WT</text>
<line x1="368.00" y1="347.50" x2="368.00" y2="350.10" stroke="#111" stroke-width="0.8"/>
<text x="368.00" y="358.30" font-size="6.8" fill="#333" stroke="#333" stroke-width="0.1" text-anchor="middle" textLength="14.30" lengthAdjust="spacingAndGlyphs">DKO</text>
<text x="444.30" y="271.60" font-size="8.4" fill="#333" stroke="#333" stroke-width="0.07" text-anchor="middle" textLength="16.40" lengthAdjust="spacingAndGlyphs">Ebi3</text>
<line x1="407.50" y1="276.90" x2="407.50" y2="347.80" stroke="#111" stroke-width="1.0"/>
<line x1="404.50" y1="286.20" x2="407.50" y2="286.20" stroke="#111" stroke-width="0.8"/>
<text x="401.20" y="288.65" font-size="6.9" fill="#333" stroke="#333" stroke-width="0.1" text-anchor="end" textLength="6.91" lengthAdjust="spacingAndGlyphs">20</text>
<line x1="404.50" y1="316.80" x2="407.50" y2="316.80" stroke="#111" stroke-width="0.8"/>
<text x="401.20" y="319.25" font-size="6.9" fill="#333" stroke="#333" stroke-width="0.1" text-anchor="end" textLength="6.91" lengthAdjust="spacingAndGlyphs">10</text>
<line x1="404.50" y1="347.30" x2="407.50" y2="347.30" stroke="#111" stroke-width="0.8"/>
<text x="401.20" y="349.75" font-size="6.9" fill="#333" stroke="#333" stroke-width="0.1" text-anchor="end" textLength="3.45" lengthAdjust="spacingAndGlyphs">0</text>
<line x1="405.50" y1="301.50" x2="407.50" y2="301.50" stroke="#111" stroke-width="0.7"/>
<line x1="405.50" y1="332.00" x2="407.50" y2="332.00" stroke="#111" stroke-width="0.7"/>
<rect x="410.00" y="323.10" width="27.70" height="12.75" fill="#9a9a9a"/>
<rect x="410.00" y="335.80" width="27.70" height="0.85" fill="#2a8a8a"/>
<rect x="410.00" y="336.60" width="27.70" height="5.65" fill="#1a6aae"/>
<rect x="410.00" y="342.20" width="27.70" height="1.85" fill="#e29aa6"/>
<rect x="410.00" y="344.00" width="27.70" height="1.55" fill="#6a3a3a"/>
<rect x="410.00" y="345.50" width="27.70" height="1.85" fill="#c07060"/>
<rect x="451.50" y="277.40" width="27.00" height="34.85" fill="#9a9a9a"/>
<rect x="451.50" y="312.20" width="27.00" height="10.45" fill="#78c28c"/>
<rect x="451.50" y="322.60" width="27.00" height="7.45" fill="#1a6aae"/>
<rect x="451.50" y="330.00" width="27.00" height="6.95" fill="#e29aa6"/>
<rect x="451.50" y="336.90" width="27.00" height="3.05" fill="#2e8e46"/>
<rect x="451.50" y="339.90" width="27.00" height="2.85" fill="#d04a50"/>
<rect x="451.50" y="342.70" width="27.00" height="2.55" fill="#f09080"/>
<rect x="451.50" y="345.20" width="27.00" height="2.15" fill="#d06a60"/>
<line x1="407.00" y1="347.50" x2="481.50" y2="347.50" stroke="#111" stroke-width="1.0"/>
<line x1="424.00" y1="347.50" x2="424.00" y2="350.10" stroke="#111" stroke-width="0.8"/>
<text x="424.00" y="358.30" font-size="6.8" fill="#333" stroke="#333" stroke-width="0.1" text-anchor="middle" textLength="9.50" lengthAdjust="spacingAndGlyphs">WT</text>
<line x1="465.00" y1="347.50" x2="465.00" y2="350.10" stroke="#111" stroke-width="0.8"/>
<text x="465.00" y="358.30" font-size="6.8" fill="#333" stroke="#333" stroke-width="0.1" text-anchor="middle" textLength="14.30" lengthAdjust="spacingAndGlyphs">DKO</text>
<text x="254.60" y="376.20" font-size="8.4" fill="#333" stroke="#333" stroke-width="0.07" text-anchor="middle" textLength="23.80" lengthAdjust="spacingAndGlyphs">Nfkbiz</text>
<line x1="217.50" y1="381.90" x2="217.50" y2="452.80" stroke="#111" stroke-width="1.0"/>
<line x1="214.50" y1="386.50" x2="217.50" y2="386.50" stroke="#111" stroke-width="0.8"/>
<text x="211.20" y="388.95" font-size="6.9" fill="#333" stroke="#333" stroke-width="0.1" text-anchor="end" textLength="3.45" lengthAdjust="spacingAndGlyphs">5</text>
<line x1="214.50" y1="399.70" x2="217.50" y2="399.70" stroke="#111" stroke-width="0.8"/>
<text x="211.20" y="402.15" font-size="6.9" fill="#333" stroke="#333" stroke-width="0.1" text-anchor="end" textLength="3.45" lengthAdjust="spacingAndGlyphs">4</text>
<line x1="214.50" y1="412.60" x2="217.50" y2="412.60" stroke="#111" stroke-width="0.8"/>
<text x="211.20" y="415.05" font-size="6.9" fill="#333" stroke="#333" stroke-width="0.1" text-anchor="end" textLength="3.45" lengthAdjust="spacingAndGlyphs">3</text>
<line x1="214.50" y1="425.80" x2="217.50" y2="425.80" stroke="#111" stroke-width="0.8"/>
<text x="211.20" y="428.25" font-size="6.9" fill="#333" stroke="#333" stroke-width="0.1" text-anchor="end" textLength="3.45" lengthAdjust="spacingAndGlyphs">2</text>
<line x1="214.50" y1="438.90" x2="217.50" y2="438.90" stroke="#111" stroke-width="0.8"/>
<text x="211.20" y="441.35" font-size="6.9" fill="#333" stroke="#333" stroke-width="0.1" text-anchor="end" textLength="3.45" lengthAdjust="spacingAndGlyphs">1</text>
<line x1="214.50" y1="452.30" x2="217.50" y2="452.30" stroke="#111" stroke-width="0.8"/>
<text x="211.20" y="454.75" font-size="6.9" fill="#333" stroke="#333" stroke-width="0.1" text-anchor="end" textLength="3.45" lengthAdjust="spacingAndGlyphs">0</text>
<rect x="220.30" y="446.50" width="27.50" height="1.55" fill="#9a9a9a"/>
<rect x="220.30" y="448.00" width="27.50" height="2.05" fill="#1a6aae"/>
<rect x="220.30" y="450.00" width="27.50" height="1.25" fill="#e29aa6"/>
<rect x="220.30" y="451.20" width="27.50" height="1.15" fill="#5a3050"/>
<rect x="261.20" y="381.50" width="27.70" height="27.75" fill="#9a9a9a"/>
<rect x="261.20" y="409.20" width="27.70" height="15.05" fill="#78c28c"/>
<rect x="261.20" y="424.20" width="27.70" height="12.45" fill="#1a6aae"/>
<rect x="261.20" y="436.60" width="27.70" height="5.35" fill="#e29aa6"/>
<rect x="261.20" y="441.90" width="27.70" height="1.15" fill="#a03a40"/>
<rect x="261.20" y="443.00" width="27.70" height="3.55" fill="#2e8e46"/>
<rect x="261.20" y="446.50" width="27.70" height="1.75" fill="#f0a070"/>
<rect x="261.20" y="448.20" width="27.70" height="4.15" fill="#5a2a6a"/>
<line x1="217.30" y1="452.50" x2="290.50" y2="452.50" stroke="#111" stroke-width="1.0"/>
<line x1="234.00" y1="452.50" x2="234.00" y2="455.10" stroke="#111" stroke-width="0.8"/>
<text x="234.00" y="463.40" font-size="6.8" fill="#333" stroke="#333" stroke-width="0.1" text-anchor="middle" textLength="9.50" lengthAdjust="spacingAndGlyphs">WT</text>
<line x1="275.00" y1="452.50" x2="275.00" y2="455.10" stroke="#111" stroke-width="0.8"/>
<text x="275.00" y="463.40" font-size="6.8" fill="#333" stroke="#333" stroke-width="0.1" text-anchor="middle" textLength="14.30" lengthAdjust="spacingAndGlyphs">DKO</text>
<text x="189.80" y="418.00" font-size="7.6" fill="#2a2a2a" stroke="#2a2a2a" stroke-width="0.07" text-anchor="middle" textLength="62.00" lengthAdjust="spacingAndGlyphs" transform="rotate(-90 189.80 418.00)">Size normalized UMI</text>
<text x="199.20" y="418.00" font-size="7.6" fill="#2a2a2a" stroke="#2a2a2a" stroke-width="0.07" text-anchor="middle" textLength="30.00" lengthAdjust="spacingAndGlyphs" transform="rotate(-90 199.20 418.00)">/100 cells</text>
<text x="347.50" y="376.50" font-size="8.4" fill="#333" stroke="#333" stroke-width="0.07" text-anchor="middle" textLength="19.60" lengthAdjust="spacingAndGlyphs">Ehd3</text>
<line x1="310.50" y1="381.90" x2="310.50" y2="452.80" stroke="#111" stroke-width="1.0"/>
<line x1="307.50" y1="383.50" x2="310.50" y2="383.50" stroke="#111" stroke-width="0.8"/>
<text x="304.20" y="385.95" font-size="6.9" fill="#333" stroke="#333" stroke-width="0.1" text-anchor="end" textLength="3.45" lengthAdjust="spacingAndGlyphs">8</text>
<line x1="307.50" y1="417.90" x2="310.50" y2="417.90" stroke="#111" stroke-width="0.8"/>
<text x="304.20" y="420.35" font-size="6.9" fill="#333" stroke="#333" stroke-width="0.1" text-anchor="end" textLength="3.45" lengthAdjust="spacingAndGlyphs">4</text>
<line x1="307.50" y1="452.30" x2="310.50" y2="452.30" stroke="#111" stroke-width="0.8"/>
<text x="304.20" y="454.75" font-size="6.9" fill="#333" stroke="#333" stroke-width="0.1" text-anchor="end" textLength="3.45" lengthAdjust="spacingAndGlyphs">0</text>
<line x1="308.50" y1="400.70" x2="310.50" y2="400.70" stroke="#111" stroke-width="0.7"/>
<line x1="308.50" y1="435.10" x2="310.50" y2="435.10" stroke="#111" stroke-width="0.7"/>
<rect x="312.70" y="445.90" width="28.10" height="1.85" fill="#9a9a9a"/>
<rect x="312.70" y="447.70" width="28.10" height="0.95" fill="#2a2a3a"/>
<rect x="312.70" y="448.60" width="28.10" height="3.75" fill="#1f8f8f"/>
<rect x="354.20" y="382.40" width="27.70" height="26.55" fill="#9a9a9a"/>
<rect x="354.20" y="408.90" width="27.70" height="11.15" fill="#78c28c"/>
<rect x="354.20" y="420.00" width="27.70" height="10.45" fill="#1a6aae"/>
<rect x="354.20" y="430.40" width="27.70" height="5.85" fill="#e29aa6"/>
<rect x="354.20" y="436.20" width="27.70" height="6.25" fill="#2e8e46"/>
<rect x="354.20" y="442.40" width="27.70" height="1.25" fill="#3a2020"/>
<rect x="354.20" y="443.60" width="27.70" height="2.35" fill="#c04a4a"/>
<rect x="354.20" y="445.90" width="27.70" height="6.45" fill="#f0957a"/>
<line x1="310.20" y1="452.50" x2="384.20" y2="452.50" stroke="#111" stroke-width="1.0"/>
<line x1="326.70" y1="452.50" x2="326.70" y2="455.10" stroke="#111" stroke-width="0.8"/>
<text x="326.70" y="463.40" font-size="6.8" fill="#333" stroke="#333" stroke-width="0.1" text-anchor="middle" textLength="9.50" lengthAdjust="spacingAndGlyphs">WT</text>
<line x1="368.00" y1="452.50" x2="368.00" y2="455.10" stroke="#111" stroke-width="0.8"/>
<text x="368.00" y="463.40" font-size="6.8" fill="#333" stroke="#333" stroke-width="0.1" text-anchor="middle" textLength="14.30" lengthAdjust="spacingAndGlyphs">DKO</text>
<circle cx="392.60" cy="375.60" r="1.95" fill="#9a9a9a"/>
<text x="397.20" y="377.80" font-size="6.3" fill="#383838" stroke="#383838" stroke-width="0.08" textLength="76.20" lengthAdjust="spacingAndGlyphs">Undetermined progenitors</text>
<circle cx="392.60" cy="384.76" r="1.95" fill="#f0a08a"/>
<text x="397.20" y="386.96" font-size="6.3" fill="#383838" stroke="#383838" stroke-width="0.08" textLength="93.50" lengthAdjust="spacingAndGlyphs">Pf4<tspan font-size="4.4" dy="-2.4">+</tspan><tspan dy="2.4"> megakaryocyte progenitors</tspan></text>
<circle cx="392.60" cy="393.92" r="1.95" fill="#e0a0b0"/>
<text x="397.20" y="396.12" font-size="6.3" fill="#383838" stroke="#383838" stroke-width="0.08" textLength="33.50" lengthAdjust="spacingAndGlyphs">Apoe<tspan font-size="4.4" dy="-2.4">+</tspan><tspan dy="2.4"> MEP</tspan></text>
<circle cx="392.60" cy="403.08" r="1.95" fill="#c85a6a"/>
<text x="397.20" y="405.28" font-size="6.3" fill="#383838" stroke="#383838" stroke-width="0.08" textLength="86.10" lengthAdjust="spacingAndGlyphs">Car1<tspan font-size="4.4" dy="-2.4">+</tspan><tspan dy="2.4"> erythrocyte progenitors</tspan></text>
<circle cx="392.60" cy="412.24" r="1.95" fill="#a07a3a"/>
<text x="397.20" y="414.44" font-size="6.3" fill="#383838" stroke="#383838" stroke-width="0.08" textLength="79.60" lengthAdjust="spacingAndGlyphs">Lmo4<tspan font-size="4.4" dy="-2.4">+</tspan><tspan dy="2.4"> basophil progenitors</tspan></text>
<circle cx="392.60" cy="421.40" r="1.95" fill="#86c49a"/>
<text x="397.20" y="423.60" font-size="6.3" fill="#383838" stroke="#383838" stroke-width="0.08" textLength="76.20" lengthAdjust="spacingAndGlyphs">Mpo<tspan font-size="4.4" dy="-2.4">+</tspan><tspan dy="2.4"> myeloid progenitors</tspan></text>
<circle cx="392.60" cy="430.56" r="1.95" fill="#2e8a48"/>
<text x="397.20" y="432.76" font-size="6.3" fill="#383838" stroke="#383838" stroke-width="0.08" textLength="81.50" lengthAdjust="spacingAndGlyphs">Ly86<tspan font-size="4.4" dy="-2.4">+</tspan><tspan dy="2.4"> monocyte progenitors</tspan></text>
<circle cx="392.60" cy="439.72" r="1.95" fill="#1a5a96"/>
<text x="397.20" y="441.92" font-size="6.3" fill="#383838" stroke="#383838" stroke-width="0.08" textLength="79.20" lengthAdjust="spacingAndGlyphs">Dntt<tspan font-size="4.4" dy="-2.4">+</tspan><tspan dy="2.4"> lymphoid progenitors</tspan></text>
<circle cx="392.60" cy="448.88" r="1.95" fill="#1f7f7f"/>
<text x="397.20" y="451.08" font-size="6.3" fill="#383838" stroke="#383838" stroke-width="0.08" textLength="73.90" lengthAdjust="spacingAndGlyphs">Siglech<tspan font-size="4.4" dy="-2.4">+</tspan><tspan dy="2.4"> pDC progenitors</tspan></text>
<circle cx="392.60" cy="458.04" r="1.95" fill="#2aa0a0"/>
<text x="397.20" y="460.24" font-size="6.3" fill="#383838" stroke="#383838" stroke-width="0.08" textLength="67.60" lengthAdjust="spacingAndGlyphs">Cd74<tspan font-size="4.4" dy="-2.4">+</tspan><tspan dy="2.4"> cDC progenitors</tspan></text>
<text x="61.85" y="500.40" font-size="8.2" fill="#2a2a2a" stroke="#2a2a2a" stroke-width="0.07" text-anchor="middle" font-style="italic" textLength="24.30" lengthAdjust="spacingAndGlyphs">Nfkbiz</text>
<line x1="21.50" y1="507.80" x2="21.50" y2="576.00" stroke="#111" stroke-width="1.0"/>
<line x1="18.50" y1="509.30" x2="21.50" y2="509.30" stroke="#111" stroke-width="0.8"/>
<text x="15.20" y="511.75" font-size="6.9" fill="#333" stroke="#333" stroke-width="0.1" text-anchor="end" textLength="8.63" lengthAdjust="spacingAndGlyphs">0.6</text>
<line x1="18.50" y1="531.50" x2="21.50" y2="531.50" stroke="#111" stroke-width="0.8"/>
<text x="15.20" y="533.95" font-size="6.9" fill="#333" stroke="#333" stroke-width="0.1" text-anchor="end" textLength="8.63" lengthAdjust="spacingAndGlyphs">0.4</text>
<line x1="18.50" y1="553.70" x2="21.50" y2="553.70" stroke="#111" stroke-width="0.8"/>
<text x="15.20" y="556.15" font-size="6.9" fill="#333" stroke="#333" stroke-width="0.1" text-anchor="end" textLength="8.63" lengthAdjust="spacingAndGlyphs">0.2</text>
<line x1="18.50" y1="575.50" x2="21.50" y2="575.50" stroke="#111" stroke-width="0.8"/>
<text x="15.20" y="577.95" font-size="6.9" fill="#333" stroke="#333" stroke-width="0.1" text-anchor="end" textLength="3.45" lengthAdjust="spacingAndGlyphs">0</text>
<line x1="21.20" y1="575.50" x2="101.20" y2="575.50" stroke="#222" stroke-width="0.9"/>
<rect x="26.40" y="555.40" width="9.50" height="20.10" fill="#c9c9cf"/>
<line x1="31.15" y1="575.50" x2="31.15" y2="578.50" stroke="#111" stroke-width="0.9"/>
<line x1="31.15" y1="555.40" x2="31.15" y2="549.40" stroke="#111" stroke-width="0.8"/>
<path d="M29.5,551.0 L31.1,549.2 L32.8,551.0 Z" fill="#111" stroke="none" stroke-width="1"/>
<circle cx="29.65" cy="558.20" r="0.90" fill="#1a1a1a"/>
<circle cx="32.65" cy="558.20" r="0.90" fill="#1a1a1a"/>
<circle cx="31.15" cy="556.20" r="0.90" fill="#1a1a1a"/>
<rect x="40.90" y="572.70" width="9.50" height="2.80" fill="#3a9e3a"/>
<line x1="45.65" y1="575.50" x2="45.65" y2="578.50" stroke="#111" stroke-width="0.9"/>
<circle cx="44.15" cy="575.50" r="0.90" fill="#1a1a1a"/>
<circle cx="47.15" cy="575.50" r="0.90" fill="#1a1a1a"/>
<circle cx="45.65" cy="573.50" r="0.90" fill="#1a1a1a"/>
<rect x="55.90" y="548.60" width="9.50" height="26.90" fill="#5a1a66"/>
<line x1="60.65" y1="575.50" x2="60.65" y2="578.50" stroke="#111" stroke-width="0.9"/>
<circle cx="59.15" cy="551.40" r="0.90" fill="#1a1a1a"/>
<circle cx="62.15" cy="551.40" r="0.90" fill="#1a1a1a"/>
<circle cx="60.65" cy="549.40" r="0.90" fill="#1a1a1a"/>
<rect x="71.90" y="559.60" width="9.50" height="15.90" fill="#f59a1a"/>
<line x1="76.65" y1="575.50" x2="76.65" y2="578.50" stroke="#111" stroke-width="0.9"/>
<circle cx="75.15" cy="562.40" r="0.90" fill="#1a1a1a"/>
<circle cx="78.15" cy="562.40" r="0.90" fill="#1a1a1a"/>
<circle cx="76.65" cy="560.40" r="0.90" fill="#1a1a1a"/>
<rect x="86.70" y="527.90" width="9.50" height="47.60" fill="#8c86c4"/>
<line x1="91.45" y1="575.50" x2="91.45" y2="578.50" stroke="#111" stroke-width="0.9"/>
<line x1="91.45" y1="527.90" x2="91.45" y2="518.40" stroke="#111" stroke-width="0.8"/>
<path d="M89.9,520.0 L91.5,518.2 L93.0,520.0 Z" fill="#111" stroke="none" stroke-width="1"/>
<circle cx="89.95" cy="530.70" r="0.90" fill="#1a1a1a"/>
<circle cx="92.95" cy="530.70" r="0.90" fill="#1a1a1a"/>
<circle cx="91.45" cy="528.70" r="0.90" fill="#1a1a1a"/>
<line x1="27.50" y1="533.80" x2="80.40" y2="533.80" stroke="#7a7a7a" stroke-width="1.4"/>
<text x="50.80" y="531.60" font-size="6.6" fill="#2a2a2a" stroke="#2a2a2a" stroke-width="0.1" textLength="6.20" lengthAdjust="spacingAndGlyphs">ns</text>
<line x1="27.50" y1="543.80" x2="50.80" y2="543.80" stroke="#555" stroke-width="1.0"/>
<text x="25.40" y="542.00" font-size="6.8" fill="#2a2a2a" stroke="#2a2a2a" stroke-width="0.1" font-style="italic" textLength="26.40" lengthAdjust="spacingAndGlyphs">P = .0027</text>
<text x="166.20" y="500.40" font-size="8.2" fill="#2a2a2a" stroke="#2a2a2a" stroke-width="0.07" text-anchor="middle" font-style="italic" textLength="19.00" lengthAdjust="spacingAndGlyphs">Ehd3</text>
<line x1="125.50" y1="507.30" x2="125.50" y2="576.20" stroke="#111" stroke-width="1.0"/>
<line x1="122.50" y1="509.70" x2="125.50" y2="509.70" stroke="#111" stroke-width="0.8"/>
<text x="119.20" y="512.15" font-size="6.9" fill="#333" stroke="#333" stroke-width="0.1" text-anchor="end" textLength="8.63" lengthAdjust="spacingAndGlyphs">1.0</text>
<line x1="122.50" y1="522.80" x2="125.50" y2="522.80" stroke="#111" stroke-width="0.8"/>
<text x="119.20" y="525.25" font-size="6.9" fill="#333" stroke="#333" stroke-width="0.1" text-anchor="end" textLength="8.63" lengthAdjust="spacingAndGlyphs">0.8</text>
<line x1="122.50" y1="536.10" x2="125.50" y2="536.10" stroke="#111" stroke-width="0.8"/>
<text x="119.20" y="538.55" font-size="6.9" fill="#333" stroke="#333" stroke-width="0.1" text-anchor="end" textLength="8.63" lengthAdjust="spacingAndGlyphs">0.6</text>
<line x1="122.50" y1="549.20" x2="125.50" y2="549.20" stroke="#111" stroke-width="0.8"/>
<text x="119.20" y="551.65" font-size="6.9" fill="#333" stroke="#333" stroke-width="0.1" text-anchor="end" textLength="8.63" lengthAdjust="spacingAndGlyphs">0.4</text>
<line x1="122.50" y1="562.60" x2="125.50" y2="562.60" stroke="#111" stroke-width="0.8"/>
<text x="119.20" y="565.05" font-size="6.9" fill="#333" stroke="#333" stroke-width="0.1" text-anchor="end" textLength="8.63" lengthAdjust="spacingAndGlyphs">0.2</text>
<line x1="122.50" y1="575.70" x2="125.50" y2="575.70" stroke="#111" stroke-width="0.8"/>
<text x="119.20" y="578.15" font-size="6.9" fill="#333" stroke="#333" stroke-width="0.1" text-anchor="end" textLength="3.45" lengthAdjust="spacingAndGlyphs">0</text>
<line x1="125.80" y1="575.70" x2="205.80" y2="575.70" stroke="#222" stroke-width="0.9"/>
<rect x="130.70" y="529.10" width="9.50" height="46.60" fill="#c9c9cf"/>
<line x1="135.45" y1="575.70" x2="135.45" y2="578.70" stroke="#111" stroke-width="0.9"/>
<line x1="135.45" y1="529.10" x2="135.45" y2="527.10" stroke="#111" stroke-width="0.8"/>
<path d="M133.8,528.7 L135.4,526.9 L137.0,528.7 Z" fill="#111" stroke="none" stroke-width="1"/>
<circle cx="133.95" cy="531.90" r="0.90" fill="#1a1a1a"/>
<circle cx="136.95" cy="531.90" r="0.90" fill="#1a1a1a"/>
<circle cx="135.45" cy="529.90" r="0.90" fill="#1a1a1a"/>
<rect x="146.10" y="551.40" width="9.50" height="24.30" fill="#3a9e3a"/>
<line x1="150.85" y1="575.70" x2="150.85" y2="578.70" stroke="#111" stroke-width="0.9"/>
<line x1="150.85" y1="551.40" x2="150.85" y2="548.40" stroke="#111" stroke-width="0.8"/>
<path d="M149.2,550.0 L150.8,548.2 L152.4,550.0 Z" fill="#111" stroke="none" stroke-width="1"/>
<circle cx="149.35" cy="554.20" r="0.90" fill="#1a1a1a"/>
<circle cx="152.35" cy="554.20" r="0.90" fill="#1a1a1a"/>
<circle cx="150.85" cy="552.20" r="0.90" fill="#1a1a1a"/>
<rect x="161.30" y="522.80" width="9.50" height="52.90" fill="#5a1a66"/>
<line x1="166.05" y1="575.70" x2="166.05" y2="578.70" stroke="#111" stroke-width="0.9"/>
<line x1="166.05" y1="522.80" x2="166.05" y2="520.40" stroke="#111" stroke-width="0.8"/>
<path d="M164.5,522.0 L166.1,520.2 L167.7,522.0 Z" fill="#111" stroke="none" stroke-width="1"/>
<circle cx="164.55" cy="525.60" r="0.90" fill="#1a1a1a"/>
<circle cx="167.55" cy="525.60" r="0.90" fill="#1a1a1a"/>
<circle cx="166.05" cy="523.60" r="0.90" fill="#1a1a1a"/>
<rect x="176.20" y="555.20" width="9.50" height="20.50" fill="#f59a1a"/>
<line x1="180.95" y1="575.70" x2="180.95" y2="578.70" stroke="#111" stroke-width="0.9"/>
<line x1="180.95" y1="555.20" x2="180.95" y2="554.20" stroke="#111" stroke-width="0.8"/>
<path d="M179.3,555.8 L180.9,554.0 L182.5,555.8 Z" fill="#111" stroke="none" stroke-width="1"/>
<circle cx="179.45" cy="558.00" r="0.90" fill="#1a1a1a"/>
<circle cx="182.45" cy="558.00" r="0.90" fill="#1a1a1a"/>
<circle cx="180.95" cy="556.00" r="0.90" fill="#1a1a1a"/>
<rect x="191.40" y="531.90" width="9.50" height="43.80" fill="#8c86c4"/>
<line x1="196.15" y1="575.70" x2="196.15" y2="578.70" stroke="#111" stroke-width="0.9"/>
<line x1="196.15" y1="531.90" x2="196.15" y2="530.40" stroke="#111" stroke-width="0.8"/>
<path d="M194.6,532.0 L196.2,530.2 L197.8,532.0 Z" fill="#111" stroke="none" stroke-width="1"/>
<circle cx="194.65" cy="534.70" r="0.90" fill="#1a1a1a"/>
<circle cx="197.65" cy="534.70" r="0.90" fill="#1a1a1a"/>
<circle cx="196.15" cy="532.70" r="0.90" fill="#1a1a1a"/>
<line x1="132.20" y1="512.20" x2="182.90" y2="512.20" stroke="#555" stroke-width="1.0"/>
<text x="143.40" y="510.40" font-size="6.8" fill="#2a2a2a" stroke="#2a2a2a" stroke-width="0.1" font-style="italic" textLength="27.50" lengthAdjust="spacingAndGlyphs">P &lt; .0001</text>
<line x1="132.20" y1="522.80" x2="154.00" y2="522.80" stroke="#555" stroke-width="1.0"/>
<text x="129.60" y="521.00" font-size="6.8" fill="#2a2a2a" stroke="#2a2a2a" stroke-width="0.1" font-style="italic" textLength="26.40" lengthAdjust="spacingAndGlyphs">P &lt; .0001</text>
<text x="35.15" y="586.20" font-size="6.7" fill="#333" stroke="#333" stroke-width="0.1" text-anchor="end" transform="rotate(-45 35.15 586.20)">mock</text>
<text x="49.65" y="586.20" font-size="6.7" fill="#333" stroke="#333" stroke-width="0.1" text-anchor="end" transform="rotate(-45 49.65 586.20)">WT</text>
<text x="64.65" y="586.20" font-size="6.7" fill="#333" stroke="#333" stroke-width="0.1" text-anchor="end" transform="rotate(-45 64.65 586.20)">ND</text>
<text x="80.65" y="586.20" font-size="6.7" fill="#333" stroke="#333" stroke-width="0.1" text-anchor="end" transform="rotate(-45 80.65 586.20)">WT</text>
<text x="95.45" y="586.20" font-size="6.7" fill="#333" stroke="#333" stroke-width="0.1" text-anchor="end" transform="rotate(-45 95.45 586.20)">ND</text>
<line x1="39.15" y1="600.80" x2="67.65" y2="600.80" stroke="#333" stroke-width="0.7"/>
<line x1="70.15" y1="600.80" x2="98.45" y2="600.80" stroke="#333" stroke-width="0.7"/>
<text x="53.85" y="608.90" font-size="6.9" fill="#333" stroke="#333" stroke-width="0.1" text-anchor="middle" textLength="15.60" lengthAdjust="spacingAndGlyphs">Reg3</text>
<text x="84.75" y="608.90" font-size="6.9" fill="#333" stroke="#333" stroke-width="0.1" text-anchor="middle" textLength="15.20" lengthAdjust="spacingAndGlyphs">Reg1</text>
<text x="139.45" y="586.20" font-size="6.7" fill="#333" stroke="#333" stroke-width="0.1" text-anchor="end" transform="rotate(-45 139.45 586.20)">mock</text>
<text x="154.85" y="586.20" font-size="6.7" fill="#333" stroke="#333" stroke-width="0.1" text-anchor="end" transform="rotate(-45 154.85 586.20)">WT</text>
<text x="170.05" y="586.20" font-size="6.7" fill="#333" stroke="#333" stroke-width="0.1" text-anchor="end" transform="rotate(-45 170.05 586.20)">ND</text>
<text x="184.95" y="586.20" font-size="6.7" fill="#333" stroke="#333" stroke-width="0.1" text-anchor="end" transform="rotate(-45 184.95 586.20)">WT</text>
<text x="200.15" y="586.20" font-size="6.7" fill="#333" stroke="#333" stroke-width="0.1" text-anchor="end" transform="rotate(-45 200.15 586.20)">ND</text>
<line x1="144.35" y1="600.80" x2="173.05" y2="600.80" stroke="#333" stroke-width="0.7"/>
<line x1="174.45" y1="600.80" x2="203.15" y2="600.80" stroke="#333" stroke-width="0.7"/>
<text x="159.15" y="608.90" font-size="6.9" fill="#333" stroke="#333" stroke-width="0.1" text-anchor="middle" textLength="15.60" lengthAdjust="spacingAndGlyphs">Reg3</text>
<text x="189.25" y="608.90" font-size="6.9" fill="#333" stroke="#333" stroke-width="0.1" text-anchor="middle" textLength="15.20" lengthAdjust="spacingAndGlyphs">Reg1</text>
<text x="286.50" y="500.80" font-size="8.4" fill="#2a2a2a" stroke="#2a2a2a" stroke-width="0.07" text-anchor="middle" font-style="italic" textLength="24.70" lengthAdjust="spacingAndGlyphs">Nfkbiz</text>
<line x1="250.50" y1="507.30" x2="250.50" y2="575.90" stroke="#111" stroke-width="1.0"/>
<line x1="247.50" y1="512.40" x2="250.50" y2="512.40" stroke="#111" stroke-width="0.8"/>
<text x="244.20" y="514.85" font-size="6.9" fill="#333" stroke="#333" stroke-width="0.1" text-anchor="end" textLength="10.36" lengthAdjust="spacingAndGlyphs">100</text>
<line x1="247.50" y1="528.10" x2="250.50" y2="528.10" stroke="#111" stroke-width="0.8"/>
<text x="244.20" y="530.55" font-size="6.9" fill="#333" stroke="#333" stroke-width="0.1" text-anchor="end" textLength="6.91" lengthAdjust="spacingAndGlyphs">75</text>
<line x1="247.50" y1="544.00" x2="250.50" y2="544.00" stroke="#111" stroke-width="0.8"/>
<text x="244.20" y="546.45" font-size="6.9" fill="#333" stroke="#333" stroke-width="0.1" text-anchor="end" textLength="6.91" lengthAdjust="spacingAndGlyphs">50</text>
<line x1="247.50" y1="559.50" x2="250.50" y2="559.50" stroke="#111" stroke-width="0.8"/>
<text x="244.20" y="561.95" font-size="6.9" fill="#333" stroke="#333" stroke-width="0.1" text-anchor="end" textLength="6.91" lengthAdjust="spacingAndGlyphs">25</text>
<line x1="247.50" y1="575.40" x2="250.50" y2="575.40" stroke="#111" stroke-width="0.8"/>
<text x="244.20" y="577.85" font-size="6.9" fill="#333" stroke="#333" stroke-width="0.1" text-anchor="end" textLength="3.45" lengthAdjust="spacingAndGlyphs">0</text>
<line x1="250.60" y1="575.50" x2="321.00" y2="575.50" stroke="#111" stroke-width="1.0"/>
<line x1="262.60" y1="575.50" x2="262.60" y2="578.60" stroke="#111" stroke-width="0.8"/>
<text x="262.60" y="587.00" font-size="6.9" fill="#333" stroke="#333" stroke-width="0.1" text-anchor="middle">0</text>
<line x1="286.20" y1="575.50" x2="286.20" y2="578.60" stroke="#111" stroke-width="0.8"/>
<text x="286.20" y="587.00" font-size="6.9" fill="#333" stroke="#333" stroke-width="0.1" text-anchor="middle">1</text>
<line x1="309.70" y1="575.50" x2="309.70" y2="578.60" stroke="#111" stroke-width="0.8"/>
<text x="309.70" y="587.00" font-size="6.9" fill="#333" stroke="#333" stroke-width="0.1" text-anchor="middle">2</text>
<text x="286.20" y="599.20" font-size="8.6" fill="#333" stroke="#333" stroke-width="0.07" text-anchor="middle" textLength="44.30" lengthAdjust="spacingAndGlyphs">Time after ActD</text>
<text x="286.20" y="608.70" font-size="8.6" fill="#333" stroke="#333" stroke-width="0.07" text-anchor="middle" textLength="39.30" lengthAdjust="spacingAndGlyphs">treatment (h)</text>
<text x="229.00" y="541.35" font-size="7.2" fill="#333" stroke="#333" stroke-width="0.1" text-anchor="middle" textLength="66.60" lengthAdjust="spacingAndGlyphs" transform="rotate(-90 229.00 541.35)">% of remaining mRNA</text>
<path d="M262.6,512.4 L286.2,535.5 L309.7,542.4" fill="none" stroke="#2a5b9a" stroke-width="0.9"/>
<path d="M262.6,512.4 L286.2,519.3 L309.7,538.5" fill="none" stroke="#c8283c" stroke-width="0.9"/>
<line x1="262.60" y1="508.90" x2="262.60" y2="515.90" stroke="#222" stroke-width="0.8"/>
<line x1="261.40" y1="508.90" x2="263.80" y2="508.90" stroke="#222" stroke-width="0.8"/>
<line x1="261.40" y1="515.90" x2="263.80" y2="515.90" stroke="#222" stroke-width="0.8"/>
<circle cx="262.60" cy="512.40" r="1.35" fill="#111"/>
<line x1="286.20" y1="517.50" x2="286.20" y2="521.10" stroke="#222" stroke-width="0.8"/>
<line x1="285.00" y1="517.50" x2="287.40" y2="517.50" stroke="#222" stroke-width="0.8"/>
<line x1="285.00" y1="521.10" x2="287.40" y2="521.10" stroke="#222" stroke-width="0.8"/>
<circle cx="286.20" cy="519.30" r="1.35" fill="#111"/>
<circle cx="309.70" cy="538.50" r="1.35" fill="#111"/>
<line x1="262.60" y1="510.40" x2="262.60" y2="514.40" stroke="#222" stroke-width="0.8"/>
<line x1="261.40" y1="510.40" x2="263.80" y2="510.40" stroke="#222" stroke-width="0.8"/>
<line x1="261.40" y1="514.40" x2="263.80" y2="514.40" stroke="#222" stroke-width="0.8"/>
<circle cx="262.60" cy="512.40" r="1.35" fill="#111"/>
<circle cx="286.20" cy="535.50" r="1.35" fill="#111"/>
<circle cx="309.70" cy="542.40" r="1.35" fill="#111"/>
<text x="272.30" y="514.20" font-size="6.6" fill="#2a2a2a" stroke="#2a2a2a" stroke-width="0.1" textLength="26.60" lengthAdjust="spacingAndGlyphs">P = .0044</text>
<text x="298.90" y="526.20" font-size="6.6" fill="#2a2a2a" stroke="#2a2a2a" stroke-width="0.1" textLength="26.50" lengthAdjust="spacingAndGlyphs">P = .0084</text>
<text x="398.10" y="500.80" font-size="8.4" fill="#2a2a2a" stroke="#2a2a2a" stroke-width="0.07" text-anchor="middle" font-style="italic" textLength="20.80" lengthAdjust="spacingAndGlyphs">Ehd3</text>
<line x1="363.50" y1="506.20" x2="363.50" y2="575.90" stroke="#111" stroke-width="1.0"/>
<line x1="360.50" y1="508.90" x2="363.50" y2="508.90" stroke="#111" stroke-width="0.8"/>
<text x="357.20" y="511.35" font-size="6.9" fill="#333" stroke="#333" stroke-width="0.1" text-anchor="end" textLength="10.36" lengthAdjust="spacingAndGlyphs">125</text>
<line x1="360.50" y1="522.30" x2="363.50" y2="522.30" stroke="#111" stroke-width="0.8"/>
<text x="357.20" y="524.75" font-size="6.9" fill="#333" stroke="#333" stroke-width="0.1" text-anchor="end" textLength="10.36" lengthAdjust="spacingAndGlyphs">100</text>
<line x1="360.50" y1="535.70" x2="363.50" y2="535.70" stroke="#111" stroke-width="0.8"/>
<text x="357.20" y="538.15" font-size="6.9" fill="#333" stroke="#333" stroke-width="0.1" text-anchor="end" textLength="6.91" lengthAdjust="spacingAndGlyphs">75</text>
<line x1="360.50" y1="548.90" x2="363.50" y2="548.90" stroke="#111" stroke-width="0.8"/>
<text x="357.20" y="551.35" font-size="6.9" fill="#333" stroke="#333" stroke-width="0.1" text-anchor="end" textLength="6.91" lengthAdjust="spacingAndGlyphs">50</text>
<line x1="360.50" y1="562.20" x2="363.50" y2="562.20" stroke="#111" stroke-width="0.8"/>
<text x="357.20" y="564.65" font-size="6.9" fill="#333" stroke="#333" stroke-width="0.1" text-anchor="end" textLength="6.91" lengthAdjust="spacingAndGlyphs">25</text>
<line x1="360.50" y1="575.40" x2="363.50" y2="575.40" stroke="#111" stroke-width="0.8"/>
<text x="357.20" y="577.85" font-size="6.9" fill="#333" stroke="#333" stroke-width="0.1" text-anchor="end" textLength="3.45" lengthAdjust="spacingAndGlyphs">0</text>
<line x1="363.00" y1="575.50" x2="431.50" y2="575.50" stroke="#111" stroke-width="1.0"/>
<line x1="377.30" y1="575.50" x2="377.30" y2="578.60" stroke="#111" stroke-width="0.8"/>
<text x="377.30" y="587.00" font-size="6.9" fill="#333" stroke="#333" stroke-width="0.1" text-anchor="middle">0</text>
<line x1="398.10" y1="575.50" x2="398.10" y2="578.60" stroke="#111" stroke-width="0.8"/>
<text x="398.10" y="587.00" font-size="6.9" fill="#333" stroke="#333" stroke-width="0.1" text-anchor="middle">1</text>
<line x1="418.20" y1="575.50" x2="418.20" y2="578.60" stroke="#111" stroke-width="0.8"/>
<text x="418.20" y="587.00" font-size="6.9" fill="#333" stroke="#333" stroke-width="0.1" text-anchor="middle">2</text>
<text x="398.10" y="599.20" font-size="8.6" fill="#333" stroke="#333" stroke-width="0.07" text-anchor="middle" textLength="44.30" lengthAdjust="spacingAndGlyphs">Time after ActD</text>
<text x="398.10" y="608.70" font-size="8.6" fill="#333" stroke="#333" stroke-width="0.07" text-anchor="middle" textLength="39.30" lengthAdjust="spacingAndGlyphs">treatment (h)</text>
<text x="341.80" y="540.80" font-size="7.2" fill="#333" stroke="#333" stroke-width="0.1" text-anchor="middle" textLength="66.60" lengthAdjust="spacingAndGlyphs" transform="rotate(-90 341.80 540.80)">% of remaining mRNA</text>
<path d="M377.3,522.3 L398.1,543.5 L418.2,520.0" fill="none" stroke="#2a5b9a" stroke-width="0.9"/>
<path d="M377.3,522.3 L398.1,524.2 L418.2,510.3" fill="none" stroke="#c8283c" stroke-width="0.9"/>
<line x1="377.30" y1="516.30" x2="377.30" y2="528.30" stroke="#222" stroke-width="0.8"/>
<line x1="376.10" y1="516.30" x2="378.50" y2="516.30" stroke="#222" stroke-width="0.8"/>
<line x1="376.10" y1="528.30" x2="378.50" y2="528.30" stroke="#222" stroke-width="0.8"/>
<circle cx="377.30" cy="522.30" r="1.35" fill="#111"/>
<line x1="398.10" y1="518.20" x2="398.10" y2="530.20" stroke="#222" stroke-width="0.8"/>
<line x1="396.90" y1="518.20" x2="399.30" y2="518.20" stroke="#222" stroke-width="0.8"/>
<line x1="396.90" y1="530.20" x2="399.30" y2="530.20" stroke="#222" stroke-width="0.8"/>
<circle cx="398.10" cy="524.20" r="1.35" fill="#111"/>
<line x1="418.20" y1="507.80" x2="418.20" y2="512.80" stroke="#222" stroke-width="0.8"/>
<line x1="417.00" y1="507.80" x2="419.40" y2="507.80" stroke="#222" stroke-width="0.8"/>
<line x1="417.00" y1="512.80" x2="419.40" y2="512.80" stroke="#222" stroke-width="0.8"/>
<circle cx="418.20" cy="510.30" r="1.35" fill="#111"/>
<line x1="377.30" y1="516.30" x2="377.30" y2="528.30" stroke="#222" stroke-width="0.8"/>
<line x1="376.10" y1="516.30" x2="378.50" y2="516.30" stroke="#222" stroke-width="0.8"/>
<line x1="376.10" y1="528.30" x2="378.50" y2="528.30" stroke="#222" stroke-width="0.8"/>
<circle cx="377.30" cy="522.30" r="1.35" fill="#111"/>
<line x1="398.10" y1="541.50" x2="398.10" y2="545.50" stroke="#222" stroke-width="0.8"/>
<line x1="396.90" y1="541.50" x2="399.30" y2="541.50" stroke="#222" stroke-width="0.8"/>
<line x1="396.90" y1="545.50" x2="399.30" y2="545.50" stroke="#222" stroke-width="0.8"/>
<circle cx="398.10" cy="543.50" r="1.35" fill="#111"/>
<line x1="418.20" y1="516.50" x2="418.20" y2="523.50" stroke="#222" stroke-width="0.8"/>
<line x1="417.00" y1="516.50" x2="419.40" y2="516.50" stroke="#222" stroke-width="0.8"/>
<line x1="417.00" y1="523.50" x2="419.40" y2="523.50" stroke="#222" stroke-width="0.8"/>
<circle cx="418.20" cy="520.00" r="1.35" fill="#111"/>
<text x="418.60" y="505.00" font-size="5.0" fill="#333" stroke="#333" stroke-width="0.1" text-anchor="middle">ns</text>
<rect x="436.00" y="506.50" width="6.90" height="7.00" fill="#1f4e8f"/>
<rect x="436.00" y="517.50" width="6.90" height="6.90" fill="#d0102a"/>
<text x="446.20" y="512.60" font-size="6.6" fill="#333" stroke="#333" stroke-width="0.1" font-style="italic" textLength="10.90" lengthAdjust="spacingAndGlyphs">Ctrl</text>
<text x="446.20" y="523.60" font-size="6.6" fill="#333" stroke="#333" stroke-width="0.1" font-style="italic" textLength="31.00" lengthAdjust="spacingAndGlyphs">DKO<tspan font-size="4" dy="-3.6" font-style="normal">CreERT2</tspan></text>
<rect x="0.00" y="0.00" width="520.00" height="1.00" fill="#5a5a5a"/>
<rect x="0.00" y="0.00" width="1.10" height="618.00" fill="#5a5a5a"/>
<rect x="518.70" y="0.00" width="1.30" height="618.00" fill="#4a4a4a"/>
<rect x="0.00" y="616.60" width="520.00" height="1.40" fill="#3a3a3a"/>
</svg>
</body></html>
